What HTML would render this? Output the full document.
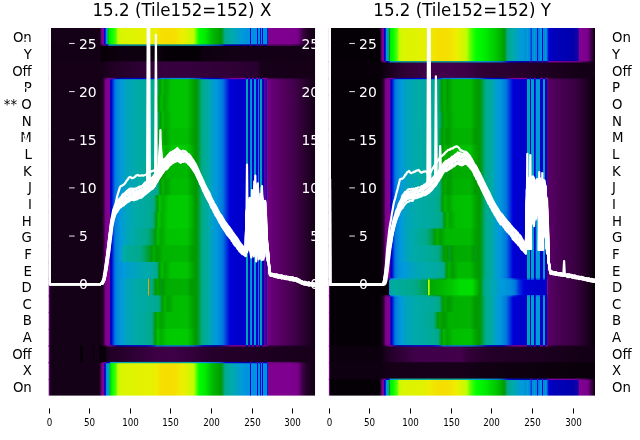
<!DOCTYPE html>
<html><head><meta charset="utf-8"><title>15.2 (Tile152=152)</title>
<style>
html,body{margin:0;padding:0;background:#fff;width:640px;height:440px;overflow:hidden}
svg{display:block;will-change:transform}
text{font-family:"DejaVu Sans","Liberation Sans",sans-serif}
.ti{font-size:16.67px;fill:#000}
.rl{font-size:13.3px;fill:#000}
.tl{font-size:9.72px;fill:#000}
.wl{font-size:13.89px;fill:#fff}
.wt{stroke:#fff;stroke-width:0.9}
.bt{stroke:#000;stroke-width:1}
.ln{fill:none;stroke:#fff;stroke-width:2.2;stroke-linejoin:round;stroke-linecap:round}
</style></head><body>
<svg width="640" height="440" viewBox="0 0 640 440"><defs><linearGradient id="gL0" gradientUnits="userSpaceOnUse" x1="48.7" y1="0" x2="315.0" y2="0"><stop offset="0.0000" stop-color="#770088"/><stop offset="0.0027" stop-color="#770088"/><stop offset="0.0042" stop-color="#140017"/><stop offset="0.1908" stop-color="#140017"/><stop offset="0.1945" stop-color="#300036"/><stop offset="0.1983" stop-color="#770088"/><stop offset="0.2050" stop-color="#810092"/><stop offset="0.2058" stop-color="#880099"/><stop offset="0.2077" stop-color="#0000aa"/><stop offset="0.2095" stop-color="#0000dd"/><stop offset="0.2133" stop-color="#0030dd"/><stop offset="0.2143" stop-color="#0077dd"/><stop offset="0.2159" stop-color="#0099dd"/><stop offset="0.2200" stop-color="#00a7b4"/><stop offset="0.2203" stop-color="#00aaaa"/><stop offset="0.2215" stop-color="#00aa88"/><stop offset="0.2227" stop-color="#009900"/><stop offset="0.2240" stop-color="#00bb00"/><stop offset="0.2254" stop-color="#00dd00"/><stop offset="0.2257" stop-color="#00e400"/><stop offset="0.2358" stop-color="#00ff00"/><stop offset="0.2520" stop-color="#4bff00"/><stop offset="0.2596" stop-color="#bbff00"/><stop offset="0.2621" stop-color="#c5fc00"/><stop offset="0.2715" stop-color="#daf500"/><stop offset="0.3991" stop-color="#e9f000"/><stop offset="0.4036" stop-color="#eeee00"/><stop offset="0.4217" stop-color="#f5e000"/><stop offset="0.4705" stop-color="#f6de00"/><stop offset="0.4930" stop-color="#f0eb00"/><stop offset="0.4996" stop-color="#eeee00"/><stop offset="0.5193" stop-color="#dff300"/><stop offset="0.5456" stop-color="#bbff00"/><stop offset="0.5643" stop-color="#00ff00"/><stop offset="0.5906" stop-color="#00e700"/><stop offset="0.5958" stop-color="#00dd00"/><stop offset="0.6132" stop-color="#00bb00"/><stop offset="0.6394" stop-color="#00a300"/><stop offset="0.6462" stop-color="#009900"/><stop offset="0.6507" stop-color="#009c1b"/><stop offset="0.6607" stop-color="#00aa88"/><stop offset="0.6657" stop-color="#00aa96"/><stop offset="0.6883" stop-color="#00aaaa"/><stop offset="0.6958" stop-color="#00a7b4"/><stop offset="0.7296" stop-color="#0099dd"/><stop offset="0.7446" stop-color="#0092dd"/><stop offset="0.7560" stop-color="#0092dd"/><stop offset="0.7564" stop-color="#0077dd"/><stop offset="0.7570" stop-color="#0000dd"/><stop offset="0.7600" stop-color="#0000dd"/><stop offset="0.7605" stop-color="#0077dd"/><stop offset="0.7609" stop-color="#0092dd"/><stop offset="0.7819" stop-color="#0092dd"/><stop offset="0.7823" stop-color="#0077dd"/><stop offset="0.7829" stop-color="#0000dd"/><stop offset="0.7859" stop-color="#0000dd"/><stop offset="0.7864" stop-color="#0077dd"/><stop offset="0.7868" stop-color="#0092dd"/><stop offset="0.7936" stop-color="#0092dd"/><stop offset="0.7940" stop-color="#0077dd"/><stop offset="0.7945" stop-color="#0000dd"/><stop offset="0.7975" stop-color="#0000dd"/><stop offset="0.7980" stop-color="#0077dd"/><stop offset="0.7985" stop-color="#0092dd"/><stop offset="0.8003" stop-color="#0092dd"/><stop offset="0.8007" stop-color="#0077dd"/><stop offset="0.8012" stop-color="#0000dd"/><stop offset="0.8013" stop-color="#0000d3"/><stop offset="0.8043" stop-color="#0000d3"/><stop offset="0.8044" stop-color="#0000dd"/><stop offset="0.8048" stop-color="#0077dd"/><stop offset="0.8052" stop-color="#0092dd"/><stop offset="0.8178" stop-color="#0092dd"/><stop offset="0.8199" stop-color="#0077dd"/><stop offset="0.8215" stop-color="#0030dd"/><stop offset="0.8221" stop-color="#0000dd"/><stop offset="0.8234" stop-color="#0000aa"/><stop offset="0.8246" stop-color="#880099"/><stop offset="0.8253" stop-color="#800090"/><stop offset="0.9060" stop-color="#7e008f"/><stop offset="0.9323" stop-color="#79008a"/><stop offset="0.9361" stop-color="#770088"/><stop offset="0.9548" stop-color="#3c0044"/><stop offset="0.9736" stop-color="#1d0021"/><stop offset="0.9999" stop-color="#140017"/></linearGradient><linearGradient id="gL1" gradientUnits="userSpaceOnUse" x1="48.7" y1="0" x2="315.0" y2="0"><stop offset="0.0000" stop-color="#770088"/><stop offset="0.0027" stop-color="#770088"/><stop offset="0.0042" stop-color="#130016"/><stop offset="0.1926" stop-color="#130016"/><stop offset="0.1983" stop-color="#070008"/><stop offset="0.2302" stop-color="#0a000b"/><stop offset="0.2677" stop-color="#0e0010"/><stop offset="0.4179" stop-color="#0c000e"/><stop offset="0.4367" stop-color="#050005"/><stop offset="0.5606" stop-color="#050005"/><stop offset="0.5794" stop-color="#0e0010"/><stop offset="0.7183" stop-color="#130016"/><stop offset="0.8309" stop-color="#130016"/><stop offset="0.9999" stop-color="#130016"/></linearGradient><linearGradient id="gL2" gradientUnits="userSpaceOnUse" x1="48.7" y1="0" x2="315.0" y2="0"><stop offset="0.0000" stop-color="#770088"/><stop offset="0.0027" stop-color="#770088"/><stop offset="0.0042" stop-color="#150018"/><stop offset="0.1964" stop-color="#150018"/><stop offset="0.2302" stop-color="#1f0023"/><stop offset="0.3053" stop-color="#28002e"/><stop offset="0.3804" stop-color="#320039"/><stop offset="0.4367" stop-color="#37003f"/><stop offset="0.5681" stop-color="#34003c"/><stop offset="0.6807" stop-color="#300036"/><stop offset="0.7859" stop-color="#28002e"/><stop offset="0.7953" stop-color="#17001a"/><stop offset="0.9060" stop-color="#150018"/><stop offset="0.9999" stop-color="#150018"/></linearGradient><linearGradient id="gL3" gradientUnits="userSpaceOnUse" x1="48.7" y1="0" x2="315.0" y2="0"><stop offset="0.0000" stop-color="#770088"/><stop offset="0.0027" stop-color="#770088"/><stop offset="0.0042" stop-color="#140017"/><stop offset="0.1926" stop-color="#140017"/><stop offset="0.2001" stop-color="#18001b"/><stop offset="0.2077" stop-color="#3c0044"/><stop offset="0.2123" stop-color="#770088"/><stop offset="0.2133" stop-color="#79008a"/><stop offset="0.2189" stop-color="#800090"/><stop offset="0.2283" stop-color="#830094"/><stop offset="0.2292" stop-color="#880099"/><stop offset="0.2321" stop-color="#0000aa"/><stop offset="0.2358" stop-color="#0000dd"/><stop offset="0.2433" stop-color="#0047dd"/><stop offset="0.2483" stop-color="#0077dd"/><stop offset="0.2508" stop-color="#007edd"/><stop offset="0.2621" stop-color="#008fdd"/><stop offset="0.2709" stop-color="#0099dd"/><stop offset="0.2752" stop-color="#009cd5"/><stop offset="0.2903" stop-color="#00a3be"/><stop offset="0.3240" stop-color="#00aaaa"/><stop offset="0.3822" stop-color="#00aa99"/><stop offset="0.4048" stop-color="#00aa88"/><stop offset="0.4160" stop-color="#009c1b"/><stop offset="0.4176" stop-color="#009900"/><stop offset="0.4254" stop-color="#00bb00"/><stop offset="0.4311" stop-color="#00b400"/><stop offset="0.4386" stop-color="#00a700"/><stop offset="0.4555" stop-color="#00bb00"/><stop offset="0.4611" stop-color="#00c200"/><stop offset="0.5193" stop-color="#00c500"/><stop offset="0.5263" stop-color="#00bb00"/><stop offset="0.5381" stop-color="#00aa00"/><stop offset="0.5493" stop-color="#009c00"/><stop offset="0.5531" stop-color="#009900"/><stop offset="0.5606" stop-color="#009c1b"/><stop offset="0.5756" stop-color="#00aa88"/><stop offset="0.5981" stop-color="#00aaa3"/><stop offset="0.6019" stop-color="#00aaaa"/><stop offset="0.6132" stop-color="#00a0c9"/><stop offset="0.6282" stop-color="#0099dd"/><stop offset="0.6357" stop-color="#0092dd"/><stop offset="0.6545" stop-color="#0077dd"/><stop offset="0.6695" stop-color="#0030dd"/><stop offset="0.6795" stop-color="#0000dd"/><stop offset="0.6845" stop-color="#0000d3"/><stop offset="0.7408" stop-color="#0000c9"/><stop offset="0.7414" stop-color="#0000c9"/><stop offset="0.7415" stop-color="#0000dd"/><stop offset="0.7418" stop-color="#0077dd"/><stop offset="0.7421" stop-color="#0099dd"/><stop offset="0.7423" stop-color="#00a3be"/><stop offset="0.7483" stop-color="#00a3be"/><stop offset="0.7485" stop-color="#0099dd"/><stop offset="0.7488" stop-color="#0077dd"/><stop offset="0.7491" stop-color="#0000dd"/><stop offset="0.7493" stop-color="#0000c9"/><stop offset="0.7571" stop-color="#0000c9"/><stop offset="0.7573" stop-color="#0000dd"/><stop offset="0.7576" stop-color="#0077dd"/><stop offset="0.7580" stop-color="#0099dd"/><stop offset="0.7581" stop-color="#00a0c9"/><stop offset="0.7633" stop-color="#00a0c9"/><stop offset="0.7635" stop-color="#0099dd"/><stop offset="0.7638" stop-color="#0077dd"/><stop offset="0.7641" stop-color="#0000dd"/><stop offset="0.7643" stop-color="#0000c9"/><stop offset="0.7699" stop-color="#0000c9"/><stop offset="0.7701" stop-color="#0000dd"/><stop offset="0.7704" stop-color="#0077dd"/><stop offset="0.7708" stop-color="#0099dd"/><stop offset="0.7709" stop-color="#009cd3"/><stop offset="0.7784" stop-color="#009cd3"/><stop offset="0.7784" stop-color="#0099dd"/><stop offset="0.7788" stop-color="#0077dd"/><stop offset="0.7792" stop-color="#0000dd"/><stop offset="0.7793" stop-color="#0000c9"/><stop offset="0.7840" stop-color="#0000c9"/><stop offset="0.7842" stop-color="#0000dd"/><stop offset="0.7848" stop-color="#0077dd"/><stop offset="0.7849" stop-color="#007edd"/><stop offset="0.7883" stop-color="#007edd"/><stop offset="0.7884" stop-color="#0077dd"/><stop offset="0.7890" stop-color="#0000dd"/><stop offset="0.7893" stop-color="#0000c9"/><stop offset="0.7943" stop-color="#0000c9"/><stop offset="0.7944" stop-color="#0000dd"/><stop offset="0.7948" stop-color="#0077dd"/><stop offset="0.7951" stop-color="#0099dd"/><stop offset="0.7953" stop-color="#00a3be"/><stop offset="0.8013" stop-color="#00a3be"/><stop offset="0.8014" stop-color="#0099dd"/><stop offset="0.8017" stop-color="#0077dd"/><stop offset="0.8021" stop-color="#0000dd"/><stop offset="0.8022" stop-color="#0000c3"/><stop offset="0.8084" stop-color="#0000aa"/><stop offset="0.8097" stop-color="#0300aa"/><stop offset="0.8107" stop-color="#880099"/><stop offset="0.8137" stop-color="#880099"/><stop offset="0.8146" stop-color="#0f00a8"/><stop offset="0.8197" stop-color="#1b00a7"/><stop offset="0.8213" stop-color="#880099"/><stop offset="0.8233" stop-color="#770088"/><stop offset="0.8234" stop-color="#700080"/><stop offset="0.8497" stop-color="#620070"/><stop offset="0.8872" stop-color="#51005c"/><stop offset="0.9248" stop-color="#400049"/><stop offset="0.9511" stop-color="#300036"/><stop offset="0.9811" stop-color="#1d0021"/><stop offset="0.9999" stop-color="#140017"/></linearGradient><linearGradient id="gL4" gradientUnits="userSpaceOnUse" x1="48.7" y1="0" x2="315.0" y2="0"><stop offset="0.0000" stop-color="#770088"/><stop offset="0.0027" stop-color="#770088"/><stop offset="0.0042" stop-color="#140017"/><stop offset="0.1926" stop-color="#140017"/><stop offset="0.2001" stop-color="#18001b"/><stop offset="0.2077" stop-color="#3c0044"/><stop offset="0.2123" stop-color="#770088"/><stop offset="0.2133" stop-color="#79008a"/><stop offset="0.2189" stop-color="#800090"/><stop offset="0.2283" stop-color="#830094"/><stop offset="0.2292" stop-color="#880099"/><stop offset="0.2321" stop-color="#0000aa"/><stop offset="0.2358" stop-color="#0000dd"/><stop offset="0.2433" stop-color="#0047dd"/><stop offset="0.2483" stop-color="#0077dd"/><stop offset="0.2508" stop-color="#007edd"/><stop offset="0.2621" stop-color="#008fdd"/><stop offset="0.2709" stop-color="#0099dd"/><stop offset="0.2752" stop-color="#009cd5"/><stop offset="0.2903" stop-color="#00a3be"/><stop offset="0.3240" stop-color="#00aaaa"/><stop offset="0.3785" stop-color="#00aa99"/><stop offset="0.4010" stop-color="#00aa88"/><stop offset="0.4123" stop-color="#009c1b"/><stop offset="0.4138" stop-color="#009900"/><stop offset="0.4217" stop-color="#00bb00"/><stop offset="0.4273" stop-color="#00b400"/><stop offset="0.4348" stop-color="#00a700"/><stop offset="0.4517" stop-color="#00bb00"/><stop offset="0.4573" stop-color="#00c200"/><stop offset="0.5193" stop-color="#00c500"/><stop offset="0.5263" stop-color="#00bb00"/><stop offset="0.5381" stop-color="#00aa00"/><stop offset="0.5493" stop-color="#009c00"/><stop offset="0.5531" stop-color="#009900"/><stop offset="0.5606" stop-color="#009c1b"/><stop offset="0.5756" stop-color="#00aa88"/><stop offset="0.5981" stop-color="#00aaa3"/><stop offset="0.6019" stop-color="#00aaaa"/><stop offset="0.6132" stop-color="#00a0c9"/><stop offset="0.6282" stop-color="#0099dd"/><stop offset="0.6357" stop-color="#0092dd"/><stop offset="0.6545" stop-color="#0077dd"/><stop offset="0.6695" stop-color="#0030dd"/><stop offset="0.6795" stop-color="#0000dd"/><stop offset="0.6845" stop-color="#0000d3"/><stop offset="0.7408" stop-color="#0000c9"/><stop offset="0.7414" stop-color="#0000c9"/><stop offset="0.7415" stop-color="#0000dd"/><stop offset="0.7418" stop-color="#0077dd"/><stop offset="0.7421" stop-color="#0099dd"/><stop offset="0.7423" stop-color="#00a3be"/><stop offset="0.7483" stop-color="#00a3be"/><stop offset="0.7485" stop-color="#0099dd"/><stop offset="0.7488" stop-color="#0077dd"/><stop offset="0.7491" stop-color="#0000dd"/><stop offset="0.7493" stop-color="#0000c9"/><stop offset="0.7571" stop-color="#0000c9"/><stop offset="0.7573" stop-color="#0000dd"/><stop offset="0.7576" stop-color="#0077dd"/><stop offset="0.7580" stop-color="#0099dd"/><stop offset="0.7581" stop-color="#00a0c9"/><stop offset="0.7633" stop-color="#00a0c9"/><stop offset="0.7635" stop-color="#0099dd"/><stop offset="0.7638" stop-color="#0077dd"/><stop offset="0.7641" stop-color="#0000dd"/><stop offset="0.7643" stop-color="#0000c9"/><stop offset="0.7699" stop-color="#0000c9"/><stop offset="0.7701" stop-color="#0000dd"/><stop offset="0.7704" stop-color="#0077dd"/><stop offset="0.7708" stop-color="#0099dd"/><stop offset="0.7709" stop-color="#009cd3"/><stop offset="0.7784" stop-color="#009cd3"/><stop offset="0.7784" stop-color="#0099dd"/><stop offset="0.7788" stop-color="#0077dd"/><stop offset="0.7792" stop-color="#0000dd"/><stop offset="0.7793" stop-color="#0000c9"/><stop offset="0.7840" stop-color="#0000c9"/><stop offset="0.7842" stop-color="#0000dd"/><stop offset="0.7848" stop-color="#0077dd"/><stop offset="0.7849" stop-color="#007edd"/><stop offset="0.7883" stop-color="#007edd"/><stop offset="0.7884" stop-color="#0077dd"/><stop offset="0.7890" stop-color="#0000dd"/><stop offset="0.7893" stop-color="#0000c9"/><stop offset="0.7943" stop-color="#0000c9"/><stop offset="0.7944" stop-color="#0000dd"/><stop offset="0.7948" stop-color="#0077dd"/><stop offset="0.7951" stop-color="#0099dd"/><stop offset="0.7953" stop-color="#00a3be"/><stop offset="0.8013" stop-color="#00a3be"/><stop offset="0.8014" stop-color="#0099dd"/><stop offset="0.8017" stop-color="#0077dd"/><stop offset="0.8021" stop-color="#0000dd"/><stop offset="0.8022" stop-color="#0000c3"/><stop offset="0.8084" stop-color="#0000aa"/><stop offset="0.8097" stop-color="#0300aa"/><stop offset="0.8107" stop-color="#880099"/><stop offset="0.8137" stop-color="#880099"/><stop offset="0.8146" stop-color="#0f00a8"/><stop offset="0.8197" stop-color="#1b00a7"/><stop offset="0.8213" stop-color="#880099"/><stop offset="0.8233" stop-color="#770088"/><stop offset="0.8234" stop-color="#700080"/><stop offset="0.8497" stop-color="#620070"/><stop offset="0.8872" stop-color="#51005c"/><stop offset="0.9248" stop-color="#400049"/><stop offset="0.9511" stop-color="#300036"/><stop offset="0.9811" stop-color="#1d0021"/><stop offset="0.9999" stop-color="#140017"/></linearGradient><linearGradient id="gL5" gradientUnits="userSpaceOnUse" x1="48.7" y1="0" x2="315.0" y2="0"><stop offset="0.0000" stop-color="#770088"/><stop offset="0.0027" stop-color="#770088"/><stop offset="0.0042" stop-color="#140017"/><stop offset="0.1926" stop-color="#140017"/><stop offset="0.2001" stop-color="#18001b"/><stop offset="0.2077" stop-color="#3c0044"/><stop offset="0.2123" stop-color="#770088"/><stop offset="0.2133" stop-color="#79008a"/><stop offset="0.2189" stop-color="#800090"/><stop offset="0.2283" stop-color="#830094"/><stop offset="0.2292" stop-color="#880099"/><stop offset="0.2321" stop-color="#0000aa"/><stop offset="0.2358" stop-color="#0000dd"/><stop offset="0.2433" stop-color="#0047dd"/><stop offset="0.2483" stop-color="#0077dd"/><stop offset="0.2508" stop-color="#007edd"/><stop offset="0.2621" stop-color="#008fdd"/><stop offset="0.2709" stop-color="#0099dd"/><stop offset="0.2752" stop-color="#009cd5"/><stop offset="0.2903" stop-color="#00a3be"/><stop offset="0.3240" stop-color="#00aaaa"/><stop offset="0.3841" stop-color="#00aa99"/><stop offset="0.4067" stop-color="#00aa88"/><stop offset="0.4179" stop-color="#009c1b"/><stop offset="0.4195" stop-color="#009900"/><stop offset="0.4273" stop-color="#00bb00"/><stop offset="0.4329" stop-color="#00b400"/><stop offset="0.4404" stop-color="#00a700"/><stop offset="0.4573" stop-color="#00bb00"/><stop offset="0.4630" stop-color="#00c200"/><stop offset="0.5193" stop-color="#00c500"/><stop offset="0.5263" stop-color="#00bb00"/><stop offset="0.5381" stop-color="#00aa00"/><stop offset="0.5493" stop-color="#009c00"/><stop offset="0.5531" stop-color="#009900"/><stop offset="0.5606" stop-color="#009c1b"/><stop offset="0.5756" stop-color="#00aa88"/><stop offset="0.5981" stop-color="#00aaa3"/><stop offset="0.6019" stop-color="#00aaaa"/><stop offset="0.6132" stop-color="#00a0c9"/><stop offset="0.6282" stop-color="#0099dd"/><stop offset="0.6357" stop-color="#0092dd"/><stop offset="0.6545" stop-color="#0077dd"/><stop offset="0.6695" stop-color="#0030dd"/><stop offset="0.6795" stop-color="#0000dd"/><stop offset="0.6845" stop-color="#0000d3"/><stop offset="0.7408" stop-color="#0000c9"/><stop offset="0.7414" stop-color="#0000c9"/><stop offset="0.7415" stop-color="#0000dd"/><stop offset="0.7418" stop-color="#0077dd"/><stop offset="0.7421" stop-color="#0099dd"/><stop offset="0.7423" stop-color="#00a3be"/><stop offset="0.7483" stop-color="#00a3be"/><stop offset="0.7485" stop-color="#0099dd"/><stop offset="0.7488" stop-color="#0077dd"/><stop offset="0.7491" stop-color="#0000dd"/><stop offset="0.7493" stop-color="#0000c9"/><stop offset="0.7571" stop-color="#0000c9"/><stop offset="0.7573" stop-color="#0000dd"/><stop offset="0.7576" stop-color="#0077dd"/><stop offset="0.7580" stop-color="#0099dd"/><stop offset="0.7581" stop-color="#00a0c9"/><stop offset="0.7633" stop-color="#00a0c9"/><stop offset="0.7635" stop-color="#0099dd"/><stop offset="0.7638" stop-color="#0077dd"/><stop offset="0.7641" stop-color="#0000dd"/><stop offset="0.7643" stop-color="#0000c9"/><stop offset="0.7699" stop-color="#0000c9"/><stop offset="0.7701" stop-color="#0000dd"/><stop offset="0.7704" stop-color="#0077dd"/><stop offset="0.7708" stop-color="#0099dd"/><stop offset="0.7709" stop-color="#009cd3"/><stop offset="0.7784" stop-color="#009cd3"/><stop offset="0.7784" stop-color="#0099dd"/><stop offset="0.7788" stop-color="#0077dd"/><stop offset="0.7792" stop-color="#0000dd"/><stop offset="0.7793" stop-color="#0000c9"/><stop offset="0.7840" stop-color="#0000c9"/><stop offset="0.7842" stop-color="#0000dd"/><stop offset="0.7848" stop-color="#0077dd"/><stop offset="0.7849" stop-color="#007edd"/><stop offset="0.7883" stop-color="#007edd"/><stop offset="0.7884" stop-color="#0077dd"/><stop offset="0.7890" stop-color="#0000dd"/><stop offset="0.7893" stop-color="#0000c9"/><stop offset="0.7943" stop-color="#0000c9"/><stop offset="0.7944" stop-color="#0000dd"/><stop offset="0.7948" stop-color="#0077dd"/><stop offset="0.7951" stop-color="#0099dd"/><stop offset="0.7953" stop-color="#00a3be"/><stop offset="0.8013" stop-color="#00a3be"/><stop offset="0.8014" stop-color="#0099dd"/><stop offset="0.8017" stop-color="#0077dd"/><stop offset="0.8021" stop-color="#0000dd"/><stop offset="0.8022" stop-color="#0000c3"/><stop offset="0.8084" stop-color="#0000aa"/><stop offset="0.8097" stop-color="#0300aa"/><stop offset="0.8107" stop-color="#880099"/><stop offset="0.8137" stop-color="#880099"/><stop offset="0.8146" stop-color="#0f00a8"/><stop offset="0.8197" stop-color="#1b00a7"/><stop offset="0.8213" stop-color="#880099"/><stop offset="0.8233" stop-color="#770088"/><stop offset="0.8234" stop-color="#700080"/><stop offset="0.8497" stop-color="#620070"/><stop offset="0.8872" stop-color="#51005c"/><stop offset="0.9248" stop-color="#400049"/><stop offset="0.9511" stop-color="#300036"/><stop offset="0.9811" stop-color="#1d0021"/><stop offset="0.9999" stop-color="#140017"/></linearGradient><linearGradient id="gL6" gradientUnits="userSpaceOnUse" x1="48.7" y1="0" x2="315.0" y2="0"><stop offset="0.0000" stop-color="#770088"/><stop offset="0.0027" stop-color="#770088"/><stop offset="0.0042" stop-color="#140017"/><stop offset="0.1926" stop-color="#140017"/><stop offset="0.2001" stop-color="#18001b"/><stop offset="0.2077" stop-color="#3c0044"/><stop offset="0.2123" stop-color="#770088"/><stop offset="0.2133" stop-color="#79008a"/><stop offset="0.2189" stop-color="#800090"/><stop offset="0.2283" stop-color="#830094"/><stop offset="0.2292" stop-color="#880099"/><stop offset="0.2321" stop-color="#0000aa"/><stop offset="0.2358" stop-color="#0000dd"/><stop offset="0.2433" stop-color="#0047dd"/><stop offset="0.2483" stop-color="#0077dd"/><stop offset="0.2508" stop-color="#007edd"/><stop offset="0.2621" stop-color="#008fdd"/><stop offset="0.2709" stop-color="#0099dd"/><stop offset="0.2752" stop-color="#009cd5"/><stop offset="0.2903" stop-color="#00a3be"/><stop offset="0.3240" stop-color="#00aaaa"/><stop offset="0.3804" stop-color="#00aa99"/><stop offset="0.4029" stop-color="#00aa88"/><stop offset="0.4142" stop-color="#009c1b"/><stop offset="0.4160" stop-color="#009900"/><stop offset="0.4235" stop-color="#00b400"/><stop offset="0.4292" stop-color="#00ad00"/><stop offset="0.4367" stop-color="#00a000"/><stop offset="0.4592" stop-color="#00bb00"/><stop offset="0.5193" stop-color="#00be00"/><stop offset="0.5216" stop-color="#00bb00"/><stop offset="0.5381" stop-color="#00a300"/><stop offset="0.5493" stop-color="#009c00"/><stop offset="0.5531" stop-color="#009900"/><stop offset="0.5606" stop-color="#009c1b"/><stop offset="0.5756" stop-color="#00aa88"/><stop offset="0.5981" stop-color="#00aaa3"/><stop offset="0.6019" stop-color="#00aaaa"/><stop offset="0.6132" stop-color="#00a0c9"/><stop offset="0.6282" stop-color="#0099dd"/><stop offset="0.6357" stop-color="#0092dd"/><stop offset="0.6545" stop-color="#0077dd"/><stop offset="0.6695" stop-color="#0030dd"/><stop offset="0.6795" stop-color="#0000dd"/><stop offset="0.6845" stop-color="#0000d3"/><stop offset="0.7408" stop-color="#0000c9"/><stop offset="0.7414" stop-color="#0000c9"/><stop offset="0.7415" stop-color="#0000dd"/><stop offset="0.7418" stop-color="#0077dd"/><stop offset="0.7421" stop-color="#0099dd"/><stop offset="0.7423" stop-color="#00a3be"/><stop offset="0.7483" stop-color="#00a3be"/><stop offset="0.7485" stop-color="#0099dd"/><stop offset="0.7488" stop-color="#0077dd"/><stop offset="0.7491" stop-color="#0000dd"/><stop offset="0.7493" stop-color="#0000c9"/><stop offset="0.7571" stop-color="#0000c9"/><stop offset="0.7573" stop-color="#0000dd"/><stop offset="0.7576" stop-color="#0077dd"/><stop offset="0.7580" stop-color="#0099dd"/><stop offset="0.7581" stop-color="#00a0c9"/><stop offset="0.7633" stop-color="#00a0c9"/><stop offset="0.7635" stop-color="#0099dd"/><stop offset="0.7638" stop-color="#0077dd"/><stop offset="0.7641" stop-color="#0000dd"/><stop offset="0.7643" stop-color="#0000c9"/><stop offset="0.7699" stop-color="#0000c9"/><stop offset="0.7701" stop-color="#0000dd"/><stop offset="0.7704" stop-color="#0077dd"/><stop offset="0.7708" stop-color="#0099dd"/><stop offset="0.7709" stop-color="#009cd3"/><stop offset="0.7784" stop-color="#009cd3"/><stop offset="0.7784" stop-color="#0099dd"/><stop offset="0.7788" stop-color="#0077dd"/><stop offset="0.7792" stop-color="#0000dd"/><stop offset="0.7793" stop-color="#0000c9"/><stop offset="0.7840" stop-color="#0000c9"/><stop offset="0.7842" stop-color="#0000dd"/><stop offset="0.7848" stop-color="#0077dd"/><stop offset="0.7849" stop-color="#007edd"/><stop offset="0.7883" stop-color="#007edd"/><stop offset="0.7884" stop-color="#0077dd"/><stop offset="0.7890" stop-color="#0000dd"/><stop offset="0.7893" stop-color="#0000c9"/><stop offset="0.7943" stop-color="#0000c9"/><stop offset="0.7944" stop-color="#0000dd"/><stop offset="0.7948" stop-color="#0077dd"/><stop offset="0.7951" stop-color="#0099dd"/><stop offset="0.7953" stop-color="#00a3be"/><stop offset="0.8013" stop-color="#00a3be"/><stop offset="0.8014" stop-color="#0099dd"/><stop offset="0.8017" stop-color="#0077dd"/><stop offset="0.8021" stop-color="#0000dd"/><stop offset="0.8022" stop-color="#0000c3"/><stop offset="0.8084" stop-color="#0000aa"/><stop offset="0.8097" stop-color="#0300aa"/><stop offset="0.8107" stop-color="#880099"/><stop offset="0.8137" stop-color="#880099"/><stop offset="0.8146" stop-color="#0f00a8"/><stop offset="0.8197" stop-color="#1b00a7"/><stop offset="0.8213" stop-color="#880099"/><stop offset="0.8233" stop-color="#770088"/><stop offset="0.8234" stop-color="#700080"/><stop offset="0.8497" stop-color="#620070"/><stop offset="0.8872" stop-color="#51005c"/><stop offset="0.9248" stop-color="#400049"/><stop offset="0.9511" stop-color="#300036"/><stop offset="0.9811" stop-color="#1d0021"/><stop offset="0.9999" stop-color="#140017"/></linearGradient><linearGradient id="gL7" gradientUnits="userSpaceOnUse" x1="48.7" y1="0" x2="315.0" y2="0"><stop offset="0.0000" stop-color="#770088"/><stop offset="0.0027" stop-color="#770088"/><stop offset="0.0042" stop-color="#140017"/><stop offset="0.1926" stop-color="#140017"/><stop offset="0.2001" stop-color="#18001b"/><stop offset="0.2077" stop-color="#3c0044"/><stop offset="0.2123" stop-color="#770088"/><stop offset="0.2133" stop-color="#79008a"/><stop offset="0.2189" stop-color="#800090"/><stop offset="0.2283" stop-color="#830094"/><stop offset="0.2292" stop-color="#880099"/><stop offset="0.2321" stop-color="#0000aa"/><stop offset="0.2358" stop-color="#0000dd"/><stop offset="0.2433" stop-color="#0047dd"/><stop offset="0.2483" stop-color="#0077dd"/><stop offset="0.2508" stop-color="#007edd"/><stop offset="0.2621" stop-color="#008fdd"/><stop offset="0.2709" stop-color="#0099dd"/><stop offset="0.2752" stop-color="#009cd5"/><stop offset="0.2903" stop-color="#00a3be"/><stop offset="0.3240" stop-color="#00aaaa"/><stop offset="0.3841" stop-color="#00aa99"/><stop offset="0.4067" stop-color="#00aa88"/><stop offset="0.4179" stop-color="#009c1b"/><stop offset="0.4193" stop-color="#009900"/><stop offset="0.4260" stop-color="#00bb00"/><stop offset="0.4273" stop-color="#00c200"/><stop offset="0.4329" stop-color="#00bb00"/><stop offset="0.4404" stop-color="#00ad00"/><stop offset="0.4517" stop-color="#00bb00"/><stop offset="0.4630" stop-color="#00c900"/><stop offset="0.5193" stop-color="#00cc00"/><stop offset="0.5310" stop-color="#00bb00"/><stop offset="0.5381" stop-color="#00b100"/><stop offset="0.5493" stop-color="#009c00"/><stop offset="0.5531" stop-color="#009900"/><stop offset="0.5606" stop-color="#009c1b"/><stop offset="0.5756" stop-color="#00aa88"/><stop offset="0.5981" stop-color="#00aaa3"/><stop offset="0.6019" stop-color="#00aaaa"/><stop offset="0.6132" stop-color="#00a0c9"/><stop offset="0.6282" stop-color="#0099dd"/><stop offset="0.6357" stop-color="#0092dd"/><stop offset="0.6545" stop-color="#0077dd"/><stop offset="0.6695" stop-color="#0030dd"/><stop offset="0.6795" stop-color="#0000dd"/><stop offset="0.6845" stop-color="#0000d3"/><stop offset="0.7408" stop-color="#0000c9"/><stop offset="0.7414" stop-color="#0000c9"/><stop offset="0.7415" stop-color="#0000dd"/><stop offset="0.7418" stop-color="#0077dd"/><stop offset="0.7421" stop-color="#0099dd"/><stop offset="0.7423" stop-color="#00a3be"/><stop offset="0.7483" stop-color="#00a3be"/><stop offset="0.7485" stop-color="#0099dd"/><stop offset="0.7488" stop-color="#0077dd"/><stop offset="0.7491" stop-color="#0000dd"/><stop offset="0.7493" stop-color="#0000c9"/><stop offset="0.7571" stop-color="#0000c9"/><stop offset="0.7573" stop-color="#0000dd"/><stop offset="0.7576" stop-color="#0077dd"/><stop offset="0.7580" stop-color="#0099dd"/><stop offset="0.7581" stop-color="#00a0c9"/><stop offset="0.7633" stop-color="#00a0c9"/><stop offset="0.7635" stop-color="#0099dd"/><stop offset="0.7638" stop-color="#0077dd"/><stop offset="0.7641" stop-color="#0000dd"/><stop offset="0.7643" stop-color="#0000c9"/><stop offset="0.7699" stop-color="#0000c9"/><stop offset="0.7701" stop-color="#0000dd"/><stop offset="0.7704" stop-color="#0077dd"/><stop offset="0.7708" stop-color="#0099dd"/><stop offset="0.7709" stop-color="#009cd3"/><stop offset="0.7784" stop-color="#009cd3"/><stop offset="0.7784" stop-color="#0099dd"/><stop offset="0.7788" stop-color="#0077dd"/><stop offset="0.7792" stop-color="#0000dd"/><stop offset="0.7793" stop-color="#0000c9"/><stop offset="0.7840" stop-color="#0000c9"/><stop offset="0.7842" stop-color="#0000dd"/><stop offset="0.7848" stop-color="#0077dd"/><stop offset="0.7849" stop-color="#007edd"/><stop offset="0.7883" stop-color="#007edd"/><stop offset="0.7884" stop-color="#0077dd"/><stop offset="0.7890" stop-color="#0000dd"/><stop offset="0.7893" stop-color="#0000c9"/><stop offset="0.7943" stop-color="#0000c9"/><stop offset="0.7944" stop-color="#0000dd"/><stop offset="0.7948" stop-color="#0077dd"/><stop offset="0.7951" stop-color="#0099dd"/><stop offset="0.7953" stop-color="#00a3be"/><stop offset="0.8013" stop-color="#00a3be"/><stop offset="0.8014" stop-color="#0099dd"/><stop offset="0.8017" stop-color="#0077dd"/><stop offset="0.8021" stop-color="#0000dd"/><stop offset="0.8022" stop-color="#0000c3"/><stop offset="0.8084" stop-color="#0000aa"/><stop offset="0.8097" stop-color="#0300aa"/><stop offset="0.8107" stop-color="#880099"/><stop offset="0.8137" stop-color="#880099"/><stop offset="0.8146" stop-color="#0f00a8"/><stop offset="0.8197" stop-color="#1b00a7"/><stop offset="0.8213" stop-color="#880099"/><stop offset="0.8233" stop-color="#770088"/><stop offset="0.8234" stop-color="#700080"/><stop offset="0.8497" stop-color="#620070"/><stop offset="0.8872" stop-color="#51005c"/><stop offset="0.9248" stop-color="#400049"/><stop offset="0.9511" stop-color="#300036"/><stop offset="0.9811" stop-color="#1d0021"/><stop offset="0.9999" stop-color="#140017"/></linearGradient><linearGradient id="gL8" gradientUnits="userSpaceOnUse" x1="48.7" y1="0" x2="315.0" y2="0"><stop offset="0.0000" stop-color="#770088"/><stop offset="0.0027" stop-color="#770088"/><stop offset="0.0042" stop-color="#140017"/><stop offset="0.1926" stop-color="#140017"/><stop offset="0.2001" stop-color="#18001b"/><stop offset="0.2077" stop-color="#3c0044"/><stop offset="0.2123" stop-color="#770088"/><stop offset="0.2133" stop-color="#79008a"/><stop offset="0.2189" stop-color="#800090"/><stop offset="0.2283" stop-color="#830094"/><stop offset="0.2292" stop-color="#880099"/><stop offset="0.2321" stop-color="#0000aa"/><stop offset="0.2358" stop-color="#0000dd"/><stop offset="0.2433" stop-color="#0047dd"/><stop offset="0.2483" stop-color="#0077dd"/><stop offset="0.2508" stop-color="#007edd"/><stop offset="0.2621" stop-color="#008fdd"/><stop offset="0.2709" stop-color="#0099dd"/><stop offset="0.2752" stop-color="#009cd5"/><stop offset="0.2903" stop-color="#00a3be"/><stop offset="0.3240" stop-color="#00aaaa"/><stop offset="0.3691" stop-color="#00aa99"/><stop offset="0.3916" stop-color="#00aa88"/><stop offset="0.4029" stop-color="#009c1b"/><stop offset="0.4052" stop-color="#009900"/><stop offset="0.4123" stop-color="#00ad00"/><stop offset="0.4179" stop-color="#00a700"/><stop offset="0.4254" stop-color="#009900"/><stop offset="0.4480" stop-color="#00b400"/><stop offset="0.5193" stop-color="#00b800"/><stop offset="0.5381" stop-color="#009c00"/><stop offset="0.5493" stop-color="#009c00"/><stop offset="0.5531" stop-color="#009900"/><stop offset="0.5606" stop-color="#009c1b"/><stop offset="0.5756" stop-color="#00aa88"/><stop offset="0.5981" stop-color="#00aaa3"/><stop offset="0.6019" stop-color="#00aaaa"/><stop offset="0.6132" stop-color="#00a0c9"/><stop offset="0.6282" stop-color="#0099dd"/><stop offset="0.6357" stop-color="#0092dd"/><stop offset="0.6545" stop-color="#0077dd"/><stop offset="0.6695" stop-color="#0030dd"/><stop offset="0.6795" stop-color="#0000dd"/><stop offset="0.6845" stop-color="#0000d3"/><stop offset="0.7408" stop-color="#0000c9"/><stop offset="0.7414" stop-color="#0000c9"/><stop offset="0.7415" stop-color="#0000dd"/><stop offset="0.7418" stop-color="#0077dd"/><stop offset="0.7421" stop-color="#0099dd"/><stop offset="0.7423" stop-color="#00a3be"/><stop offset="0.7483" stop-color="#00a3be"/><stop offset="0.7485" stop-color="#0099dd"/><stop offset="0.7488" stop-color="#0077dd"/><stop offset="0.7491" stop-color="#0000dd"/><stop offset="0.7493" stop-color="#0000c9"/><stop offset="0.7571" stop-color="#0000c9"/><stop offset="0.7573" stop-color="#0000dd"/><stop offset="0.7576" stop-color="#0077dd"/><stop offset="0.7580" stop-color="#0099dd"/><stop offset="0.7581" stop-color="#00a0c9"/><stop offset="0.7633" stop-color="#00a0c9"/><stop offset="0.7635" stop-color="#0099dd"/><stop offset="0.7638" stop-color="#0077dd"/><stop offset="0.7641" stop-color="#0000dd"/><stop offset="0.7643" stop-color="#0000c9"/><stop offset="0.7699" stop-color="#0000c9"/><stop offset="0.7701" stop-color="#0000dd"/><stop offset="0.7704" stop-color="#0077dd"/><stop offset="0.7708" stop-color="#0099dd"/><stop offset="0.7709" stop-color="#009cd3"/><stop offset="0.7784" stop-color="#009cd3"/><stop offset="0.7784" stop-color="#0099dd"/><stop offset="0.7788" stop-color="#0077dd"/><stop offset="0.7792" stop-color="#0000dd"/><stop offset="0.7793" stop-color="#0000c9"/><stop offset="0.7840" stop-color="#0000c9"/><stop offset="0.7842" stop-color="#0000dd"/><stop offset="0.7848" stop-color="#0077dd"/><stop offset="0.7849" stop-color="#007edd"/><stop offset="0.7883" stop-color="#007edd"/><stop offset="0.7884" stop-color="#0077dd"/><stop offset="0.7890" stop-color="#0000dd"/><stop offset="0.7893" stop-color="#0000c9"/><stop offset="0.7943" stop-color="#0000c9"/><stop offset="0.7944" stop-color="#0000dd"/><stop offset="0.7948" stop-color="#0077dd"/><stop offset="0.7951" stop-color="#0099dd"/><stop offset="0.7953" stop-color="#00a3be"/><stop offset="0.8013" stop-color="#00a3be"/><stop offset="0.8014" stop-color="#0099dd"/><stop offset="0.8017" stop-color="#0077dd"/><stop offset="0.8021" stop-color="#0000dd"/><stop offset="0.8022" stop-color="#0000c3"/><stop offset="0.8084" stop-color="#0000aa"/><stop offset="0.8097" stop-color="#0300aa"/><stop offset="0.8107" stop-color="#880099"/><stop offset="0.8137" stop-color="#880099"/><stop offset="0.8146" stop-color="#0f00a8"/><stop offset="0.8197" stop-color="#1b00a7"/><stop offset="0.8213" stop-color="#880099"/><stop offset="0.8233" stop-color="#770088"/><stop offset="0.8234" stop-color="#700080"/><stop offset="0.8497" stop-color="#620070"/><stop offset="0.8872" stop-color="#51005c"/><stop offset="0.9248" stop-color="#400049"/><stop offset="0.9511" stop-color="#300036"/><stop offset="0.9811" stop-color="#1d0021"/><stop offset="0.9999" stop-color="#140017"/></linearGradient><linearGradient id="gL9" gradientUnits="userSpaceOnUse" x1="48.7" y1="0" x2="315.0" y2="0"><stop offset="0.0000" stop-color="#770088"/><stop offset="0.0027" stop-color="#770088"/><stop offset="0.0042" stop-color="#140017"/><stop offset="0.1926" stop-color="#140017"/><stop offset="0.2001" stop-color="#18001b"/><stop offset="0.2077" stop-color="#3c0044"/><stop offset="0.2123" stop-color="#770088"/><stop offset="0.2133" stop-color="#79008a"/><stop offset="0.2189" stop-color="#800090"/><stop offset="0.2283" stop-color="#830094"/><stop offset="0.2292" stop-color="#880099"/><stop offset="0.2321" stop-color="#0000aa"/><stop offset="0.2358" stop-color="#0000dd"/><stop offset="0.2433" stop-color="#0047dd"/><stop offset="0.2483" stop-color="#0077dd"/><stop offset="0.2508" stop-color="#007edd"/><stop offset="0.2621" stop-color="#008fdd"/><stop offset="0.2709" stop-color="#0099dd"/><stop offset="0.2752" stop-color="#009cd5"/><stop offset="0.2903" stop-color="#00a3be"/><stop offset="0.3240" stop-color="#00a8af"/><stop offset="0.3391" stop-color="#00aaaa"/><stop offset="0.3841" stop-color="#00aaa0"/><stop offset="0.4067" stop-color="#00aa8f"/><stop offset="0.4089" stop-color="#00aa88"/><stop offset="0.4179" stop-color="#009c1b"/><stop offset="0.4198" stop-color="#009900"/><stop offset="0.4273" stop-color="#00b400"/><stop offset="0.4329" stop-color="#00ad00"/><stop offset="0.4404" stop-color="#00a000"/><stop offset="0.4630" stop-color="#00bb00"/><stop offset="0.5193" stop-color="#00be00"/><stop offset="0.5216" stop-color="#00bb00"/><stop offset="0.5381" stop-color="#00a300"/><stop offset="0.5493" stop-color="#009c00"/><stop offset="0.5531" stop-color="#009900"/><stop offset="0.5606" stop-color="#009c1b"/><stop offset="0.5756" stop-color="#00aa88"/><stop offset="0.5981" stop-color="#00aaa3"/><stop offset="0.6019" stop-color="#00aaaa"/><stop offset="0.6132" stop-color="#00a0c9"/><stop offset="0.6282" stop-color="#0099dd"/><stop offset="0.6357" stop-color="#0092dd"/><stop offset="0.6545" stop-color="#0077dd"/><stop offset="0.6695" stop-color="#0030dd"/><stop offset="0.6795" stop-color="#0000dd"/><stop offset="0.6845" stop-color="#0000d3"/><stop offset="0.7408" stop-color="#0000c9"/><stop offset="0.7414" stop-color="#0000c9"/><stop offset="0.7415" stop-color="#0000dd"/><stop offset="0.7418" stop-color="#0077dd"/><stop offset="0.7421" stop-color="#0099dd"/><stop offset="0.7423" stop-color="#00a3be"/><stop offset="0.7483" stop-color="#00a3be"/><stop offset="0.7485" stop-color="#0099dd"/><stop offset="0.7488" stop-color="#0077dd"/><stop offset="0.7491" stop-color="#0000dd"/><stop offset="0.7493" stop-color="#0000c9"/><stop offset="0.7571" stop-color="#0000c9"/><stop offset="0.7573" stop-color="#0000dd"/><stop offset="0.7576" stop-color="#0077dd"/><stop offset="0.7580" stop-color="#0099dd"/><stop offset="0.7581" stop-color="#00a0c9"/><stop offset="0.7633" stop-color="#00a0c9"/><stop offset="0.7635" stop-color="#0099dd"/><stop offset="0.7638" stop-color="#0077dd"/><stop offset="0.7641" stop-color="#0000dd"/><stop offset="0.7643" stop-color="#0000c9"/><stop offset="0.7699" stop-color="#0000c9"/><stop offset="0.7701" stop-color="#0000dd"/><stop offset="0.7704" stop-color="#0077dd"/><stop offset="0.7708" stop-color="#0099dd"/><stop offset="0.7709" stop-color="#009cd3"/><stop offset="0.7784" stop-color="#009cd3"/><stop offset="0.7784" stop-color="#0099dd"/><stop offset="0.7788" stop-color="#0077dd"/><stop offset="0.7792" stop-color="#0000dd"/><stop offset="0.7793" stop-color="#0000c9"/><stop offset="0.7840" stop-color="#0000c9"/><stop offset="0.7842" stop-color="#0000dd"/><stop offset="0.7848" stop-color="#0077dd"/><stop offset="0.7849" stop-color="#007edd"/><stop offset="0.7883" stop-color="#007edd"/><stop offset="0.7884" stop-color="#0077dd"/><stop offset="0.7890" stop-color="#0000dd"/><stop offset="0.7893" stop-color="#0000c9"/><stop offset="0.7943" stop-color="#0000c9"/><stop offset="0.7944" stop-color="#0000dd"/><stop offset="0.7948" stop-color="#0077dd"/><stop offset="0.7951" stop-color="#0099dd"/><stop offset="0.7953" stop-color="#00a3be"/><stop offset="0.8013" stop-color="#00a3be"/><stop offset="0.8014" stop-color="#0099dd"/><stop offset="0.8017" stop-color="#0077dd"/><stop offset="0.8021" stop-color="#0000dd"/><stop offset="0.8022" stop-color="#0000c3"/><stop offset="0.8084" stop-color="#0000aa"/><stop offset="0.8097" stop-color="#0300aa"/><stop offset="0.8107" stop-color="#880099"/><stop offset="0.8137" stop-color="#880099"/><stop offset="0.8146" stop-color="#0f00a8"/><stop offset="0.8197" stop-color="#1b00a7"/><stop offset="0.8213" stop-color="#880099"/><stop offset="0.8233" stop-color="#770088"/><stop offset="0.8234" stop-color="#700080"/><stop offset="0.8497" stop-color="#620070"/><stop offset="0.8872" stop-color="#51005c"/><stop offset="0.9248" stop-color="#400049"/><stop offset="0.9511" stop-color="#300036"/><stop offset="0.9811" stop-color="#1d0021"/><stop offset="0.9999" stop-color="#140017"/></linearGradient><linearGradient id="gL10" gradientUnits="userSpaceOnUse" x1="48.7" y1="0" x2="315.0" y2="0"><stop offset="0.0000" stop-color="#770088"/><stop offset="0.0027" stop-color="#770088"/><stop offset="0.0042" stop-color="#140017"/><stop offset="0.1926" stop-color="#140017"/><stop offset="0.2001" stop-color="#18001b"/><stop offset="0.2077" stop-color="#3c0044"/><stop offset="0.2123" stop-color="#770088"/><stop offset="0.2133" stop-color="#79008a"/><stop offset="0.2189" stop-color="#800090"/><stop offset="0.2283" stop-color="#830094"/><stop offset="0.2292" stop-color="#880099"/><stop offset="0.2321" stop-color="#0000aa"/><stop offset="0.2358" stop-color="#0000dd"/><stop offset="0.2433" stop-color="#0047dd"/><stop offset="0.2483" stop-color="#0077dd"/><stop offset="0.2508" stop-color="#007edd"/><stop offset="0.2621" stop-color="#008fdd"/><stop offset="0.2709" stop-color="#0099dd"/><stop offset="0.2752" stop-color="#009cd5"/><stop offset="0.2903" stop-color="#00a3be"/><stop offset="0.3240" stop-color="#00aaaa"/><stop offset="0.3729" stop-color="#00aa99"/><stop offset="0.3954" stop-color="#00aa88"/><stop offset="0.4067" stop-color="#009c1b"/><stop offset="0.4080" stop-color="#009900"/><stop offset="0.4147" stop-color="#00bb00"/><stop offset="0.4160" stop-color="#00c200"/><stop offset="0.4217" stop-color="#00bb00"/><stop offset="0.4292" stop-color="#00ad00"/><stop offset="0.4404" stop-color="#00bb00"/><stop offset="0.4517" stop-color="#00c900"/><stop offset="0.5193" stop-color="#00cc00"/><stop offset="0.5310" stop-color="#00bb00"/><stop offset="0.5381" stop-color="#00b100"/><stop offset="0.5493" stop-color="#009c00"/><stop offset="0.5531" stop-color="#009900"/><stop offset="0.5606" stop-color="#009c1b"/><stop offset="0.5756" stop-color="#00aa88"/><stop offset="0.5981" stop-color="#00aaa3"/><stop offset="0.6019" stop-color="#00aaaa"/><stop offset="0.6132" stop-color="#00a0c9"/><stop offset="0.6282" stop-color="#0099dd"/><stop offset="0.6357" stop-color="#0092dd"/><stop offset="0.6545" stop-color="#0077dd"/><stop offset="0.6695" stop-color="#0030dd"/><stop offset="0.6795" stop-color="#0000dd"/><stop offset="0.6845" stop-color="#0000d3"/><stop offset="0.7408" stop-color="#0000c9"/><stop offset="0.7414" stop-color="#0000c9"/><stop offset="0.7415" stop-color="#0000dd"/><stop offset="0.7418" stop-color="#0077dd"/><stop offset="0.7421" stop-color="#0099dd"/><stop offset="0.7423" stop-color="#00a3be"/><stop offset="0.7483" stop-color="#00a3be"/><stop offset="0.7485" stop-color="#0099dd"/><stop offset="0.7488" stop-color="#0077dd"/><stop offset="0.7491" stop-color="#0000dd"/><stop offset="0.7493" stop-color="#0000c9"/><stop offset="0.7571" stop-color="#0000c9"/><stop offset="0.7573" stop-color="#0000dd"/><stop offset="0.7576" stop-color="#0077dd"/><stop offset="0.7580" stop-color="#0099dd"/><stop offset="0.7581" stop-color="#00a0c9"/><stop offset="0.7633" stop-color="#00a0c9"/><stop offset="0.7635" stop-color="#0099dd"/><stop offset="0.7638" stop-color="#0077dd"/><stop offset="0.7641" stop-color="#0000dd"/><stop offset="0.7643" stop-color="#0000c9"/><stop offset="0.7699" stop-color="#0000c9"/><stop offset="0.7701" stop-color="#0000dd"/><stop offset="0.7704" stop-color="#0077dd"/><stop offset="0.7708" stop-color="#0099dd"/><stop offset="0.7709" stop-color="#009cd3"/><stop offset="0.7784" stop-color="#009cd3"/><stop offset="0.7784" stop-color="#0099dd"/><stop offset="0.7788" stop-color="#0077dd"/><stop offset="0.7792" stop-color="#0000dd"/><stop offset="0.7793" stop-color="#0000c9"/><stop offset="0.7840" stop-color="#0000c9"/><stop offset="0.7842" stop-color="#0000dd"/><stop offset="0.7848" stop-color="#0077dd"/><stop offset="0.7849" stop-color="#007edd"/><stop offset="0.7883" stop-color="#007edd"/><stop offset="0.7884" stop-color="#0077dd"/><stop offset="0.7890" stop-color="#0000dd"/><stop offset="0.7893" stop-color="#0000c9"/><stop offset="0.7943" stop-color="#0000c9"/><stop offset="0.7944" stop-color="#0000dd"/><stop offset="0.7948" stop-color="#0077dd"/><stop offset="0.7951" stop-color="#0099dd"/><stop offset="0.7953" stop-color="#00a3be"/><stop offset="0.8013" stop-color="#00a3be"/><stop offset="0.8014" stop-color="#0099dd"/><stop offset="0.8017" stop-color="#0077dd"/><stop offset="0.8021" stop-color="#0000dd"/><stop offset="0.8022" stop-color="#0000c3"/><stop offset="0.8084" stop-color="#0000aa"/><stop offset="0.8097" stop-color="#0300aa"/><stop offset="0.8107" stop-color="#880099"/><stop offset="0.8137" stop-color="#880099"/><stop offset="0.8146" stop-color="#0f00a8"/><stop offset="0.8197" stop-color="#1b00a7"/><stop offset="0.8213" stop-color="#880099"/><stop offset="0.8233" stop-color="#770088"/><stop offset="0.8234" stop-color="#700080"/><stop offset="0.8497" stop-color="#620070"/><stop offset="0.8872" stop-color="#51005c"/><stop offset="0.9248" stop-color="#400049"/><stop offset="0.9511" stop-color="#300036"/><stop offset="0.9811" stop-color="#1d0021"/><stop offset="0.9999" stop-color="#140017"/></linearGradient><linearGradient id="gL11" gradientUnits="userSpaceOnUse" x1="48.7" y1="0" x2="315.0" y2="0"><stop offset="0.0000" stop-color="#770088"/><stop offset="0.0027" stop-color="#770088"/><stop offset="0.0042" stop-color="#140017"/><stop offset="0.1926" stop-color="#140017"/><stop offset="0.2001" stop-color="#18001b"/><stop offset="0.2077" stop-color="#3c0044"/><stop offset="0.2123" stop-color="#770088"/><stop offset="0.2133" stop-color="#79008a"/><stop offset="0.2189" stop-color="#800090"/><stop offset="0.2283" stop-color="#830094"/><stop offset="0.2292" stop-color="#880099"/><stop offset="0.2321" stop-color="#0000aa"/><stop offset="0.2358" stop-color="#0000dd"/><stop offset="0.2433" stop-color="#0047dd"/><stop offset="0.2483" stop-color="#0077dd"/><stop offset="0.2508" stop-color="#007edd"/><stop offset="0.2621" stop-color="#008fdd"/><stop offset="0.2709" stop-color="#0099dd"/><stop offset="0.2752" stop-color="#009cd5"/><stop offset="0.2903" stop-color="#00a3be"/><stop offset="0.3240" stop-color="#00aaaa"/><stop offset="0.3691" stop-color="#00aa99"/><stop offset="0.3916" stop-color="#00aa88"/><stop offset="0.4029" stop-color="#009c1b"/><stop offset="0.4042" stop-color="#009900"/><stop offset="0.4109" stop-color="#00bb00"/><stop offset="0.4123" stop-color="#00c200"/><stop offset="0.4179" stop-color="#00bb00"/><stop offset="0.4254" stop-color="#00ad00"/><stop offset="0.4367" stop-color="#00bb00"/><stop offset="0.4480" stop-color="#00c900"/><stop offset="0.5193" stop-color="#00cc00"/><stop offset="0.5310" stop-color="#00bb00"/><stop offset="0.5381" stop-color="#00b100"/><stop offset="0.5493" stop-color="#009c00"/><stop offset="0.5531" stop-color="#009900"/><stop offset="0.5606" stop-color="#009c1b"/><stop offset="0.5756" stop-color="#00aa88"/><stop offset="0.5981" stop-color="#00aaa3"/><stop offset="0.6019" stop-color="#00aaaa"/><stop offset="0.6132" stop-color="#00a0c9"/><stop offset="0.6282" stop-color="#0099dd"/><stop offset="0.6357" stop-color="#0092dd"/><stop offset="0.6545" stop-color="#0077dd"/><stop offset="0.6695" stop-color="#0030dd"/><stop offset="0.6795" stop-color="#0000dd"/><stop offset="0.6845" stop-color="#0000d3"/><stop offset="0.7408" stop-color="#0000c9"/><stop offset="0.7414" stop-color="#0000c9"/><stop offset="0.7415" stop-color="#0000dd"/><stop offset="0.7418" stop-color="#0077dd"/><stop offset="0.7421" stop-color="#0099dd"/><stop offset="0.7423" stop-color="#00a3be"/><stop offset="0.7483" stop-color="#00a3be"/><stop offset="0.7485" stop-color="#0099dd"/><stop offset="0.7488" stop-color="#0077dd"/><stop offset="0.7491" stop-color="#0000dd"/><stop offset="0.7493" stop-color="#0000c9"/><stop offset="0.7571" stop-color="#0000c9"/><stop offset="0.7573" stop-color="#0000dd"/><stop offset="0.7576" stop-color="#0077dd"/><stop offset="0.7580" stop-color="#0099dd"/><stop offset="0.7581" stop-color="#00a0c9"/><stop offset="0.7633" stop-color="#00a0c9"/><stop offset="0.7635" stop-color="#0099dd"/><stop offset="0.7638" stop-color="#0077dd"/><stop offset="0.7641" stop-color="#0000dd"/><stop offset="0.7643" stop-color="#0000c9"/><stop offset="0.7699" stop-color="#0000c9"/><stop offset="0.7701" stop-color="#0000dd"/><stop offset="0.7704" stop-color="#0077dd"/><stop offset="0.7708" stop-color="#0099dd"/><stop offset="0.7709" stop-color="#009cd3"/><stop offset="0.7784" stop-color="#009cd3"/><stop offset="0.7784" stop-color="#0099dd"/><stop offset="0.7788" stop-color="#0077dd"/><stop offset="0.7792" stop-color="#0000dd"/><stop offset="0.7793" stop-color="#0000c9"/><stop offset="0.7840" stop-color="#0000c9"/><stop offset="0.7842" stop-color="#0000dd"/><stop offset="0.7848" stop-color="#0077dd"/><stop offset="0.7849" stop-color="#007edd"/><stop offset="0.7883" stop-color="#007edd"/><stop offset="0.7884" stop-color="#0077dd"/><stop offset="0.7890" stop-color="#0000dd"/><stop offset="0.7893" stop-color="#0000c9"/><stop offset="0.7943" stop-color="#0000c9"/><stop offset="0.7944" stop-color="#0000dd"/><stop offset="0.7948" stop-color="#0077dd"/><stop offset="0.7951" stop-color="#0099dd"/><stop offset="0.7953" stop-color="#00a3be"/><stop offset="0.8013" stop-color="#00a3be"/><stop offset="0.8014" stop-color="#0099dd"/><stop offset="0.8017" stop-color="#0077dd"/><stop offset="0.8021" stop-color="#0000dd"/><stop offset="0.8022" stop-color="#0000c3"/><stop offset="0.8084" stop-color="#0000aa"/><stop offset="0.8097" stop-color="#0300aa"/><stop offset="0.8107" stop-color="#880099"/><stop offset="0.8137" stop-color="#880099"/><stop offset="0.8146" stop-color="#0f00a8"/><stop offset="0.8197" stop-color="#1b00a7"/><stop offset="0.8213" stop-color="#880099"/><stop offset="0.8233" stop-color="#770088"/><stop offset="0.8234" stop-color="#700080"/><stop offset="0.8497" stop-color="#620070"/><stop offset="0.8872" stop-color="#51005c"/><stop offset="0.9248" stop-color="#400049"/><stop offset="0.9511" stop-color="#300036"/><stop offset="0.9811" stop-color="#1d0021"/><stop offset="0.9999" stop-color="#140017"/></linearGradient><linearGradient id="gL12" gradientUnits="userSpaceOnUse" x1="48.7" y1="0" x2="315.0" y2="0"><stop offset="0.0000" stop-color="#770088"/><stop offset="0.0027" stop-color="#770088"/><stop offset="0.0042" stop-color="#140017"/><stop offset="0.1926" stop-color="#140017"/><stop offset="0.2001" stop-color="#18001b"/><stop offset="0.2077" stop-color="#3c0044"/><stop offset="0.2123" stop-color="#770088"/><stop offset="0.2133" stop-color="#79008a"/><stop offset="0.2189" stop-color="#800090"/><stop offset="0.2283" stop-color="#830094"/><stop offset="0.2292" stop-color="#880099"/><stop offset="0.2321" stop-color="#0000aa"/><stop offset="0.2358" stop-color="#0000dd"/><stop offset="0.2433" stop-color="#0047dd"/><stop offset="0.2483" stop-color="#0077dd"/><stop offset="0.2508" stop-color="#007edd"/><stop offset="0.2621" stop-color="#008fdd"/><stop offset="0.2709" stop-color="#0099dd"/><stop offset="0.2752" stop-color="#009cd5"/><stop offset="0.2903" stop-color="#00a3be"/><stop offset="0.3128" stop-color="#00aaaa"/><stop offset="0.3240" stop-color="#00aaa3"/><stop offset="0.3654" stop-color="#00aa8b"/><stop offset="0.3699" stop-color="#00aa88"/><stop offset="0.3879" stop-color="#00a352"/><stop offset="0.3991" stop-color="#009c1b"/><stop offset="0.4007" stop-color="#009900"/><stop offset="0.4085" stop-color="#00bb00"/><stop offset="0.4142" stop-color="#00b400"/><stop offset="0.4217" stop-color="#00a700"/><stop offset="0.4386" stop-color="#00bb00"/><stop offset="0.4442" stop-color="#00c200"/><stop offset="0.5193" stop-color="#00c500"/><stop offset="0.5263" stop-color="#00bb00"/><stop offset="0.5381" stop-color="#00aa00"/><stop offset="0.5493" stop-color="#009c00"/><stop offset="0.5531" stop-color="#009900"/><stop offset="0.5606" stop-color="#009c1b"/><stop offset="0.5756" stop-color="#00aa88"/><stop offset="0.5981" stop-color="#00aaa3"/><stop offset="0.6019" stop-color="#00aaaa"/><stop offset="0.6132" stop-color="#00a0c9"/><stop offset="0.6282" stop-color="#0099dd"/><stop offset="0.6357" stop-color="#0092dd"/><stop offset="0.6545" stop-color="#0077dd"/><stop offset="0.6695" stop-color="#0030dd"/><stop offset="0.6795" stop-color="#0000dd"/><stop offset="0.6845" stop-color="#0000d3"/><stop offset="0.7408" stop-color="#0000c9"/><stop offset="0.7414" stop-color="#0000c9"/><stop offset="0.7415" stop-color="#0000dd"/><stop offset="0.7418" stop-color="#0077dd"/><stop offset="0.7421" stop-color="#0099dd"/><stop offset="0.7423" stop-color="#00a3be"/><stop offset="0.7483" stop-color="#00a3be"/><stop offset="0.7485" stop-color="#0099dd"/><stop offset="0.7488" stop-color="#0077dd"/><stop offset="0.7491" stop-color="#0000dd"/><stop offset="0.7493" stop-color="#0000c9"/><stop offset="0.7571" stop-color="#0000c9"/><stop offset="0.7573" stop-color="#0000dd"/><stop offset="0.7576" stop-color="#0077dd"/><stop offset="0.7580" stop-color="#0099dd"/><stop offset="0.7581" stop-color="#00a0c9"/><stop offset="0.7633" stop-color="#00a0c9"/><stop offset="0.7635" stop-color="#0099dd"/><stop offset="0.7638" stop-color="#0077dd"/><stop offset="0.7641" stop-color="#0000dd"/><stop offset="0.7643" stop-color="#0000c9"/><stop offset="0.7699" stop-color="#0000c9"/><stop offset="0.7701" stop-color="#0000dd"/><stop offset="0.7704" stop-color="#0077dd"/><stop offset="0.7708" stop-color="#0099dd"/><stop offset="0.7709" stop-color="#009cd3"/><stop offset="0.7784" stop-color="#009cd3"/><stop offset="0.7784" stop-color="#0099dd"/><stop offset="0.7788" stop-color="#0077dd"/><stop offset="0.7792" stop-color="#0000dd"/><stop offset="0.7793" stop-color="#0000c9"/><stop offset="0.7840" stop-color="#0000c9"/><stop offset="0.7842" stop-color="#0000dd"/><stop offset="0.7848" stop-color="#0077dd"/><stop offset="0.7849" stop-color="#007edd"/><stop offset="0.7883" stop-color="#007edd"/><stop offset="0.7884" stop-color="#0077dd"/><stop offset="0.7890" stop-color="#0000dd"/><stop offset="0.7893" stop-color="#0000c9"/><stop offset="0.7943" stop-color="#0000c9"/><stop offset="0.7944" stop-color="#0000dd"/><stop offset="0.7948" stop-color="#0077dd"/><stop offset="0.7951" stop-color="#0099dd"/><stop offset="0.7953" stop-color="#00a3be"/><stop offset="0.8013" stop-color="#00a3be"/><stop offset="0.8014" stop-color="#0099dd"/><stop offset="0.8017" stop-color="#0077dd"/><stop offset="0.8021" stop-color="#0000dd"/><stop offset="0.8022" stop-color="#0000c3"/><stop offset="0.8084" stop-color="#0000aa"/><stop offset="0.8097" stop-color="#0300aa"/><stop offset="0.8107" stop-color="#880099"/><stop offset="0.8137" stop-color="#880099"/><stop offset="0.8146" stop-color="#0f00a8"/><stop offset="0.8197" stop-color="#1b00a7"/><stop offset="0.8213" stop-color="#880099"/><stop offset="0.8233" stop-color="#770088"/><stop offset="0.8234" stop-color="#700080"/><stop offset="0.8497" stop-color="#620070"/><stop offset="0.8872" stop-color="#51005c"/><stop offset="0.9248" stop-color="#400049"/><stop offset="0.9511" stop-color="#300036"/><stop offset="0.9811" stop-color="#1d0021"/><stop offset="0.9999" stop-color="#140017"/></linearGradient><linearGradient id="gL13" gradientUnits="userSpaceOnUse" x1="48.7" y1="0" x2="315.0" y2="0"><stop offset="0.0000" stop-color="#770088"/><stop offset="0.0027" stop-color="#770088"/><stop offset="0.0042" stop-color="#140017"/><stop offset="0.1926" stop-color="#140017"/><stop offset="0.2001" stop-color="#18001b"/><stop offset="0.2077" stop-color="#3c0044"/><stop offset="0.2123" stop-color="#770088"/><stop offset="0.2133" stop-color="#79008a"/><stop offset="0.2189" stop-color="#800090"/><stop offset="0.2283" stop-color="#830094"/><stop offset="0.2292" stop-color="#880099"/><stop offset="0.2321" stop-color="#0000aa"/><stop offset="0.2358" stop-color="#0000dd"/><stop offset="0.2433" stop-color="#0047dd"/><stop offset="0.2483" stop-color="#0077dd"/><stop offset="0.2508" stop-color="#007edd"/><stop offset="0.2621" stop-color="#008fdd"/><stop offset="0.2667" stop-color="#0099dd"/><stop offset="0.2752" stop-color="#00a2c1"/><stop offset="0.2832" stop-color="#00aaaa"/><stop offset="0.2903" stop-color="#00aa9c"/><stop offset="0.3240" stop-color="#00aa92"/><stop offset="0.3438" stop-color="#00aa88"/><stop offset="0.3503" stop-color="#00a87a"/><stop offset="0.3729" stop-color="#00a036"/><stop offset="0.3841" stop-color="#009c1b"/><stop offset="0.3865" stop-color="#009900"/><stop offset="0.3935" stop-color="#00ad00"/><stop offset="0.3991" stop-color="#00a700"/><stop offset="0.4067" stop-color="#009900"/><stop offset="0.4292" stop-color="#00b400"/><stop offset="0.5193" stop-color="#00b800"/><stop offset="0.5381" stop-color="#009c00"/><stop offset="0.5493" stop-color="#009c00"/><stop offset="0.5531" stop-color="#009900"/><stop offset="0.5606" stop-color="#009c1b"/><stop offset="0.5756" stop-color="#00aa88"/><stop offset="0.5981" stop-color="#00aaa3"/><stop offset="0.6019" stop-color="#00aaaa"/><stop offset="0.6132" stop-color="#00a0c9"/><stop offset="0.6282" stop-color="#0099dd"/><stop offset="0.6357" stop-color="#0092dd"/><stop offset="0.6545" stop-color="#0077dd"/><stop offset="0.6695" stop-color="#0030dd"/><stop offset="0.6795" stop-color="#0000dd"/><stop offset="0.6845" stop-color="#0000d3"/><stop offset="0.7408" stop-color="#0000c9"/><stop offset="0.7414" stop-color="#0000c9"/><stop offset="0.7415" stop-color="#0000dd"/><stop offset="0.7418" stop-color="#0077dd"/><stop offset="0.7421" stop-color="#0099dd"/><stop offset="0.7423" stop-color="#00a3be"/><stop offset="0.7483" stop-color="#00a3be"/><stop offset="0.7485" stop-color="#0099dd"/><stop offset="0.7488" stop-color="#0077dd"/><stop offset="0.7491" stop-color="#0000dd"/><stop offset="0.7493" stop-color="#0000c9"/><stop offset="0.7571" stop-color="#0000c9"/><stop offset="0.7573" stop-color="#0000dd"/><stop offset="0.7576" stop-color="#0077dd"/><stop offset="0.7580" stop-color="#0099dd"/><stop offset="0.7581" stop-color="#00a0c9"/><stop offset="0.7633" stop-color="#00a0c9"/><stop offset="0.7635" stop-color="#0099dd"/><stop offset="0.7638" stop-color="#0077dd"/><stop offset="0.7641" stop-color="#0000dd"/><stop offset="0.7643" stop-color="#0000c9"/><stop offset="0.7699" stop-color="#0000c9"/><stop offset="0.7701" stop-color="#0000dd"/><stop offset="0.7704" stop-color="#0077dd"/><stop offset="0.7708" stop-color="#0099dd"/><stop offset="0.7709" stop-color="#009cd3"/><stop offset="0.7784" stop-color="#009cd3"/><stop offset="0.7784" stop-color="#0099dd"/><stop offset="0.7788" stop-color="#0077dd"/><stop offset="0.7792" stop-color="#0000dd"/><stop offset="0.7793" stop-color="#0000c9"/><stop offset="0.7840" stop-color="#0000c9"/><stop offset="0.7842" stop-color="#0000dd"/><stop offset="0.7848" stop-color="#0077dd"/><stop offset="0.7849" stop-color="#007edd"/><stop offset="0.7883" stop-color="#007edd"/><stop offset="0.7884" stop-color="#0077dd"/><stop offset="0.7890" stop-color="#0000dd"/><stop offset="0.7893" stop-color="#0000c9"/><stop offset="0.7943" stop-color="#0000c9"/><stop offset="0.7944" stop-color="#0000dd"/><stop offset="0.7948" stop-color="#0077dd"/><stop offset="0.7951" stop-color="#0099dd"/><stop offset="0.7953" stop-color="#00a3be"/><stop offset="0.8013" stop-color="#00a3be"/><stop offset="0.8014" stop-color="#0099dd"/><stop offset="0.8017" stop-color="#0077dd"/><stop offset="0.8021" stop-color="#0000dd"/><stop offset="0.8022" stop-color="#0000c3"/><stop offset="0.8084" stop-color="#0000aa"/><stop offset="0.8097" stop-color="#0300aa"/><stop offset="0.8107" stop-color="#880099"/><stop offset="0.8137" stop-color="#880099"/><stop offset="0.8146" stop-color="#0f00a8"/><stop offset="0.8197" stop-color="#1b00a7"/><stop offset="0.8213" stop-color="#880099"/><stop offset="0.8233" stop-color="#770088"/><stop offset="0.8234" stop-color="#700080"/><stop offset="0.8497" stop-color="#620070"/><stop offset="0.8872" stop-color="#51005c"/><stop offset="0.9248" stop-color="#400049"/><stop offset="0.9511" stop-color="#300036"/><stop offset="0.9811" stop-color="#1d0021"/><stop offset="0.9999" stop-color="#140017"/></linearGradient><linearGradient id="gL14" gradientUnits="userSpaceOnUse" x1="48.7" y1="0" x2="315.0" y2="0"><stop offset="0.0000" stop-color="#770088"/><stop offset="0.0027" stop-color="#770088"/><stop offset="0.0042" stop-color="#140017"/><stop offset="0.1926" stop-color="#140017"/><stop offset="0.2001" stop-color="#18001b"/><stop offset="0.2077" stop-color="#3c0044"/><stop offset="0.2123" stop-color="#770088"/><stop offset="0.2133" stop-color="#79008a"/><stop offset="0.2189" stop-color="#800090"/><stop offset="0.2283" stop-color="#830094"/><stop offset="0.2292" stop-color="#880099"/><stop offset="0.2321" stop-color="#0000aa"/><stop offset="0.2358" stop-color="#0000dd"/><stop offset="0.2433" stop-color="#0047dd"/><stop offset="0.2483" stop-color="#0077dd"/><stop offset="0.2508" stop-color="#007edd"/><stop offset="0.2621" stop-color="#008fdd"/><stop offset="0.2752" stop-color="#0097dd"/><stop offset="0.2782" stop-color="#0099dd"/><stop offset="0.2903" stop-color="#009cd3"/><stop offset="0.3240" stop-color="#00a3be"/><stop offset="0.3691" stop-color="#00aaaa"/><stop offset="0.3804" stop-color="#00aaa7"/><stop offset="0.4029" stop-color="#00aa96"/><stop offset="0.4067" stop-color="#00aa88"/><stop offset="0.4142" stop-color="#009c1b"/><stop offset="0.4157" stop-color="#009900"/><stop offset="0.4235" stop-color="#00bb00"/><stop offset="0.4292" stop-color="#00b400"/><stop offset="0.4367" stop-color="#00a700"/><stop offset="0.4536" stop-color="#00bb00"/><stop offset="0.4592" stop-color="#00c200"/><stop offset="0.5193" stop-color="#00c500"/><stop offset="0.5263" stop-color="#00bb00"/><stop offset="0.5381" stop-color="#00aa00"/><stop offset="0.5493" stop-color="#009c00"/><stop offset="0.5531" stop-color="#009900"/><stop offset="0.5606" stop-color="#009c1b"/><stop offset="0.5756" stop-color="#00aa88"/><stop offset="0.5981" stop-color="#00aaa3"/><stop offset="0.6019" stop-color="#00aaaa"/><stop offset="0.6132" stop-color="#00a0c9"/><stop offset="0.6282" stop-color="#0099dd"/><stop offset="0.6357" stop-color="#0092dd"/><stop offset="0.6545" stop-color="#0077dd"/><stop offset="0.6695" stop-color="#0030dd"/><stop offset="0.6795" stop-color="#0000dd"/><stop offset="0.6845" stop-color="#0000d3"/><stop offset="0.7408" stop-color="#0000c9"/><stop offset="0.7414" stop-color="#0000c9"/><stop offset="0.7415" stop-color="#0000dd"/><stop offset="0.7418" stop-color="#0077dd"/><stop offset="0.7421" stop-color="#0099dd"/><stop offset="0.7423" stop-color="#00a3be"/><stop offset="0.7483" stop-color="#00a3be"/><stop offset="0.7485" stop-color="#0099dd"/><stop offset="0.7488" stop-color="#0077dd"/><stop offset="0.7491" stop-color="#0000dd"/><stop offset="0.7493" stop-color="#0000c9"/><stop offset="0.7571" stop-color="#0000c9"/><stop offset="0.7573" stop-color="#0000dd"/><stop offset="0.7576" stop-color="#0077dd"/><stop offset="0.7580" stop-color="#0099dd"/><stop offset="0.7581" stop-color="#00a0c9"/><stop offset="0.7633" stop-color="#00a0c9"/><stop offset="0.7635" stop-color="#0099dd"/><stop offset="0.7638" stop-color="#0077dd"/><stop offset="0.7641" stop-color="#0000dd"/><stop offset="0.7643" stop-color="#0000c9"/><stop offset="0.7699" stop-color="#0000c9"/><stop offset="0.7701" stop-color="#0000dd"/><stop offset="0.7704" stop-color="#0077dd"/><stop offset="0.7708" stop-color="#0099dd"/><stop offset="0.7709" stop-color="#009cd3"/><stop offset="0.7784" stop-color="#009cd3"/><stop offset="0.7784" stop-color="#0099dd"/><stop offset="0.7788" stop-color="#0077dd"/><stop offset="0.7792" stop-color="#0000dd"/><stop offset="0.7793" stop-color="#0000c9"/><stop offset="0.7840" stop-color="#0000c9"/><stop offset="0.7842" stop-color="#0000dd"/><stop offset="0.7848" stop-color="#0077dd"/><stop offset="0.7849" stop-color="#007edd"/><stop offset="0.7883" stop-color="#007edd"/><stop offset="0.7884" stop-color="#0077dd"/><stop offset="0.7890" stop-color="#0000dd"/><stop offset="0.7893" stop-color="#0000c9"/><stop offset="0.7943" stop-color="#0000c9"/><stop offset="0.7944" stop-color="#0000dd"/><stop offset="0.7948" stop-color="#0077dd"/><stop offset="0.7951" stop-color="#0099dd"/><stop offset="0.7953" stop-color="#00a3be"/><stop offset="0.8013" stop-color="#00a3be"/><stop offset="0.8014" stop-color="#0099dd"/><stop offset="0.8017" stop-color="#0077dd"/><stop offset="0.8021" stop-color="#0000dd"/><stop offset="0.8022" stop-color="#0000c3"/><stop offset="0.8084" stop-color="#0000aa"/><stop offset="0.8097" stop-color="#0300aa"/><stop offset="0.8107" stop-color="#880099"/><stop offset="0.8137" stop-color="#880099"/><stop offset="0.8146" stop-color="#0f00a8"/><stop offset="0.8197" stop-color="#1b00a7"/><stop offset="0.8213" stop-color="#880099"/><stop offset="0.8233" stop-color="#770088"/><stop offset="0.8234" stop-color="#700080"/><stop offset="0.8497" stop-color="#620070"/><stop offset="0.8872" stop-color="#51005c"/><stop offset="0.9248" stop-color="#400049"/><stop offset="0.9511" stop-color="#300036"/><stop offset="0.9811" stop-color="#1d0021"/><stop offset="0.9999" stop-color="#140017"/></linearGradient><linearGradient id="gL15" gradientUnits="userSpaceOnUse" x1="48.7" y1="0" x2="315.0" y2="0"><stop offset="0.0000" stop-color="#770088"/><stop offset="0.0027" stop-color="#770088"/><stop offset="0.0042" stop-color="#140017"/><stop offset="0.1926" stop-color="#140017"/><stop offset="0.2001" stop-color="#18001b"/><stop offset="0.2077" stop-color="#3c0044"/><stop offset="0.2123" stop-color="#770088"/><stop offset="0.2133" stop-color="#79008a"/><stop offset="0.2189" stop-color="#800090"/><stop offset="0.2283" stop-color="#830094"/><stop offset="0.2292" stop-color="#880099"/><stop offset="0.2321" stop-color="#0000aa"/><stop offset="0.2358" stop-color="#0000dd"/><stop offset="0.2433" stop-color="#0047dd"/><stop offset="0.2483" stop-color="#0077dd"/><stop offset="0.2508" stop-color="#007edd"/><stop offset="0.2621" stop-color="#008fdd"/><stop offset="0.2709" stop-color="#0099dd"/><stop offset="0.2752" stop-color="#009cd5"/><stop offset="0.2903" stop-color="#00a3be"/><stop offset="0.3240" stop-color="#00aaaa"/><stop offset="0.3654" stop-color="#00aa99"/><stop offset="0.3714" stop-color="#00aa94"/><stop offset="0.3714" stop-color="#00aa88"/><stop offset="0.3715" stop-color="#009900"/><stop offset="0.3716" stop-color="#00bb00"/><stop offset="0.3717" stop-color="#00dd00"/><stop offset="0.3718" stop-color="#00ff00"/><stop offset="0.3720" stop-color="#bbff00"/><stop offset="0.3721" stop-color="#eeee00"/><stop offset="0.3722" stop-color="#ffcc00"/><stop offset="0.3723" stop-color="#ff9900"/><stop offset="0.3757" stop-color="#ff9900"/><stop offset="0.3758" stop-color="#ffcc00"/><stop offset="0.3759" stop-color="#eeee00"/><stop offset="0.3760" stop-color="#bbff00"/><stop offset="0.3761" stop-color="#00ff00"/><stop offset="0.3762" stop-color="#00dd00"/><stop offset="0.3764" stop-color="#00bb00"/><stop offset="0.3765" stop-color="#009900"/><stop offset="0.3766" stop-color="#00aa88"/><stop offset="0.3766" stop-color="#00aa90"/><stop offset="0.3879" stop-color="#00aa88"/><stop offset="0.3991" stop-color="#009c1b"/><stop offset="0.4023" stop-color="#009900"/><stop offset="0.4085" stop-color="#00a700"/><stop offset="0.4142" stop-color="#00a000"/><stop offset="0.4179" stop-color="#009900"/><stop offset="0.4217" stop-color="#009c1b"/><stop offset="0.4273" stop-color="#009900"/><stop offset="0.4442" stop-color="#00ad00"/><stop offset="0.5193" stop-color="#00b100"/><stop offset="0.5357" stop-color="#009900"/><stop offset="0.5381" stop-color="#009b0e"/><stop offset="0.5437" stop-color="#009900"/><stop offset="0.5493" stop-color="#009c00"/><stop offset="0.5531" stop-color="#009900"/><stop offset="0.5606" stop-color="#009c1b"/><stop offset="0.5756" stop-color="#00aa88"/><stop offset="0.5981" stop-color="#00aaa3"/><stop offset="0.6019" stop-color="#00aaaa"/><stop offset="0.6132" stop-color="#00a0c9"/><stop offset="0.6282" stop-color="#0099dd"/><stop offset="0.6357" stop-color="#0092dd"/><stop offset="0.6545" stop-color="#0077dd"/><stop offset="0.6695" stop-color="#0030dd"/><stop offset="0.6795" stop-color="#0000dd"/><stop offset="0.6845" stop-color="#0000d3"/><stop offset="0.7408" stop-color="#0000c9"/><stop offset="0.7414" stop-color="#0000c9"/><stop offset="0.7415" stop-color="#0000dd"/><stop offset="0.7418" stop-color="#0077dd"/><stop offset="0.7421" stop-color="#0099dd"/><stop offset="0.7423" stop-color="#00a3be"/><stop offset="0.7483" stop-color="#00a3be"/><stop offset="0.7485" stop-color="#0099dd"/><stop offset="0.7488" stop-color="#0077dd"/><stop offset="0.7491" stop-color="#0000dd"/><stop offset="0.7493" stop-color="#0000c9"/><stop offset="0.7571" stop-color="#0000c9"/><stop offset="0.7573" stop-color="#0000dd"/><stop offset="0.7576" stop-color="#0077dd"/><stop offset="0.7580" stop-color="#0099dd"/><stop offset="0.7581" stop-color="#00a0c9"/><stop offset="0.7633" stop-color="#00a0c9"/><stop offset="0.7635" stop-color="#0099dd"/><stop offset="0.7638" stop-color="#0077dd"/><stop offset="0.7641" stop-color="#0000dd"/><stop offset="0.7643" stop-color="#0000c9"/><stop offset="0.7699" stop-color="#0000c9"/><stop offset="0.7701" stop-color="#0000dd"/><stop offset="0.7704" stop-color="#0077dd"/><stop offset="0.7708" stop-color="#0099dd"/><stop offset="0.7709" stop-color="#009cd3"/><stop offset="0.7784" stop-color="#009cd3"/><stop offset="0.7784" stop-color="#0099dd"/><stop offset="0.7788" stop-color="#0077dd"/><stop offset="0.7792" stop-color="#0000dd"/><stop offset="0.7793" stop-color="#0000c9"/><stop offset="0.7840" stop-color="#0000c9"/><stop offset="0.7842" stop-color="#0000dd"/><stop offset="0.7848" stop-color="#0077dd"/><stop offset="0.7849" stop-color="#007edd"/><stop offset="0.7883" stop-color="#007edd"/><stop offset="0.7884" stop-color="#0077dd"/><stop offset="0.7890" stop-color="#0000dd"/><stop offset="0.7893" stop-color="#0000c9"/><stop offset="0.7943" stop-color="#0000c9"/><stop offset="0.7944" stop-color="#0000dd"/><stop offset="0.7948" stop-color="#0077dd"/><stop offset="0.7951" stop-color="#0099dd"/><stop offset="0.7953" stop-color="#00a3be"/><stop offset="0.8013" stop-color="#00a3be"/><stop offset="0.8014" stop-color="#0099dd"/><stop offset="0.8017" stop-color="#0077dd"/><stop offset="0.8021" stop-color="#0000dd"/><stop offset="0.8022" stop-color="#0000c3"/><stop offset="0.8084" stop-color="#0000aa"/><stop offset="0.8097" stop-color="#0300aa"/><stop offset="0.8107" stop-color="#880099"/><stop offset="0.8137" stop-color="#880099"/><stop offset="0.8146" stop-color="#0f00a8"/><stop offset="0.8197" stop-color="#1b00a7"/><stop offset="0.8213" stop-color="#880099"/><stop offset="0.8233" stop-color="#770088"/><stop offset="0.8234" stop-color="#700080"/><stop offset="0.8497" stop-color="#620070"/><stop offset="0.8872" stop-color="#51005c"/><stop offset="0.9248" stop-color="#400049"/><stop offset="0.9511" stop-color="#300036"/><stop offset="0.9811" stop-color="#1d0021"/><stop offset="0.9999" stop-color="#140017"/></linearGradient><linearGradient id="gL16" gradientUnits="userSpaceOnUse" x1="48.7" y1="0" x2="315.0" y2="0"><stop offset="0.0000" stop-color="#770088"/><stop offset="0.0027" stop-color="#770088"/><stop offset="0.0042" stop-color="#140017"/><stop offset="0.1926" stop-color="#140017"/><stop offset="0.2001" stop-color="#18001b"/><stop offset="0.2077" stop-color="#3c0044"/><stop offset="0.2123" stop-color="#770088"/><stop offset="0.2133" stop-color="#79008a"/><stop offset="0.2189" stop-color="#800090"/><stop offset="0.2283" stop-color="#830094"/><stop offset="0.2292" stop-color="#880099"/><stop offset="0.2321" stop-color="#0000aa"/><stop offset="0.2358" stop-color="#0000dd"/><stop offset="0.2433" stop-color="#0047dd"/><stop offset="0.2483" stop-color="#0077dd"/><stop offset="0.2508" stop-color="#007edd"/><stop offset="0.2621" stop-color="#008fdd"/><stop offset="0.2709" stop-color="#0099dd"/><stop offset="0.2752" stop-color="#009cd5"/><stop offset="0.2903" stop-color="#00a3be"/><stop offset="0.3240" stop-color="#00aaaa"/><stop offset="0.3916" stop-color="#00aa99"/><stop offset="0.4142" stop-color="#00aa88"/><stop offset="0.4254" stop-color="#009c1b"/><stop offset="0.4273" stop-color="#009900"/><stop offset="0.4348" stop-color="#00b400"/><stop offset="0.4404" stop-color="#00ad00"/><stop offset="0.4480" stop-color="#00a000"/><stop offset="0.4705" stop-color="#00bb00"/><stop offset="0.5193" stop-color="#00be00"/><stop offset="0.5216" stop-color="#00bb00"/><stop offset="0.5381" stop-color="#00a300"/><stop offset="0.5493" stop-color="#009c00"/><stop offset="0.5531" stop-color="#009900"/><stop offset="0.5606" stop-color="#009c1b"/><stop offset="0.5756" stop-color="#00aa88"/><stop offset="0.5981" stop-color="#00aaa3"/><stop offset="0.6019" stop-color="#00aaaa"/><stop offset="0.6132" stop-color="#00a0c9"/><stop offset="0.6282" stop-color="#0099dd"/><stop offset="0.6357" stop-color="#0092dd"/><stop offset="0.6545" stop-color="#0077dd"/><stop offset="0.6695" stop-color="#0030dd"/><stop offset="0.6795" stop-color="#0000dd"/><stop offset="0.6845" stop-color="#0000d3"/><stop offset="0.7408" stop-color="#0000c9"/><stop offset="0.7414" stop-color="#0000c9"/><stop offset="0.7415" stop-color="#0000dd"/><stop offset="0.7418" stop-color="#0077dd"/><stop offset="0.7421" stop-color="#0099dd"/><stop offset="0.7423" stop-color="#00a3be"/><stop offset="0.7483" stop-color="#00a3be"/><stop offset="0.7485" stop-color="#0099dd"/><stop offset="0.7488" stop-color="#0077dd"/><stop offset="0.7491" stop-color="#0000dd"/><stop offset="0.7493" stop-color="#0000c9"/><stop offset="0.7571" stop-color="#0000c9"/><stop offset="0.7573" stop-color="#0000dd"/><stop offset="0.7576" stop-color="#0077dd"/><stop offset="0.7580" stop-color="#0099dd"/><stop offset="0.7581" stop-color="#00a0c9"/><stop offset="0.7633" stop-color="#00a0c9"/><stop offset="0.7635" stop-color="#0099dd"/><stop offset="0.7638" stop-color="#0077dd"/><stop offset="0.7641" stop-color="#0000dd"/><stop offset="0.7643" stop-color="#0000c9"/><stop offset="0.7699" stop-color="#0000c9"/><stop offset="0.7701" stop-color="#0000dd"/><stop offset="0.7704" stop-color="#0077dd"/><stop offset="0.7708" stop-color="#0099dd"/><stop offset="0.7709" stop-color="#009cd3"/><stop offset="0.7784" stop-color="#009cd3"/><stop offset="0.7784" stop-color="#0099dd"/><stop offset="0.7788" stop-color="#0077dd"/><stop offset="0.7792" stop-color="#0000dd"/><stop offset="0.7793" stop-color="#0000c9"/><stop offset="0.7840" stop-color="#0000c9"/><stop offset="0.7842" stop-color="#0000dd"/><stop offset="0.7848" stop-color="#0077dd"/><stop offset="0.7849" stop-color="#007edd"/><stop offset="0.7883" stop-color="#007edd"/><stop offset="0.7884" stop-color="#0077dd"/><stop offset="0.7890" stop-color="#0000dd"/><stop offset="0.7893" stop-color="#0000c9"/><stop offset="0.7943" stop-color="#0000c9"/><stop offset="0.7944" stop-color="#0000dd"/><stop offset="0.7948" stop-color="#0077dd"/><stop offset="0.7951" stop-color="#0099dd"/><stop offset="0.7953" stop-color="#00a3be"/><stop offset="0.8013" stop-color="#00a3be"/><stop offset="0.8014" stop-color="#0099dd"/><stop offset="0.8017" stop-color="#0077dd"/><stop offset="0.8021" stop-color="#0000dd"/><stop offset="0.8022" stop-color="#0000c3"/><stop offset="0.8084" stop-color="#0000aa"/><stop offset="0.8097" stop-color="#0300aa"/><stop offset="0.8107" stop-color="#880099"/><stop offset="0.8137" stop-color="#880099"/><stop offset="0.8146" stop-color="#0f00a8"/><stop offset="0.8197" stop-color="#1b00a7"/><stop offset="0.8213" stop-color="#880099"/><stop offset="0.8233" stop-color="#770088"/><stop offset="0.8234" stop-color="#700080"/><stop offset="0.8497" stop-color="#620070"/><stop offset="0.8872" stop-color="#51005c"/><stop offset="0.9248" stop-color="#400049"/><stop offset="0.9511" stop-color="#300036"/><stop offset="0.9811" stop-color="#1d0021"/><stop offset="0.9999" stop-color="#140017"/></linearGradient><linearGradient id="gL17" gradientUnits="userSpaceOnUse" x1="48.7" y1="0" x2="315.0" y2="0"><stop offset="0.0000" stop-color="#770088"/><stop offset="0.0027" stop-color="#770088"/><stop offset="0.0042" stop-color="#140017"/><stop offset="0.1926" stop-color="#140017"/><stop offset="0.2001" stop-color="#18001b"/><stop offset="0.2077" stop-color="#3c0044"/><stop offset="0.2123" stop-color="#770088"/><stop offset="0.2133" stop-color="#79008a"/><stop offset="0.2189" stop-color="#800090"/><stop offset="0.2283" stop-color="#830094"/><stop offset="0.2292" stop-color="#880099"/><stop offset="0.2321" stop-color="#0000aa"/><stop offset="0.2358" stop-color="#0000dd"/><stop offset="0.2433" stop-color="#0047dd"/><stop offset="0.2483" stop-color="#0077dd"/><stop offset="0.2508" stop-color="#007edd"/><stop offset="0.2621" stop-color="#008fdd"/><stop offset="0.2709" stop-color="#0099dd"/><stop offset="0.2752" stop-color="#009cd5"/><stop offset="0.2903" stop-color="#00a3be"/><stop offset="0.3240" stop-color="#00aaaa"/><stop offset="0.3654" stop-color="#00aa99"/><stop offset="0.3879" stop-color="#00aa88"/><stop offset="0.3991" stop-color="#009c1b"/><stop offset="0.4010" stop-color="#009900"/><stop offset="0.4085" stop-color="#00b400"/><stop offset="0.4142" stop-color="#00ad00"/><stop offset="0.4217" stop-color="#00a000"/><stop offset="0.4442" stop-color="#00bb00"/><stop offset="0.5193" stop-color="#00be00"/><stop offset="0.5216" stop-color="#00bb00"/><stop offset="0.5381" stop-color="#00a300"/><stop offset="0.5493" stop-color="#009c00"/><stop offset="0.5531" stop-color="#009900"/><stop offset="0.5606" stop-color="#009c1b"/><stop offset="0.5756" stop-color="#00aa88"/><stop offset="0.5981" stop-color="#00aaa3"/><stop offset="0.6019" stop-color="#00aaaa"/><stop offset="0.6132" stop-color="#00a0c9"/><stop offset="0.6282" stop-color="#0099dd"/><stop offset="0.6357" stop-color="#0092dd"/><stop offset="0.6545" stop-color="#0077dd"/><stop offset="0.6695" stop-color="#0030dd"/><stop offset="0.6795" stop-color="#0000dd"/><stop offset="0.6845" stop-color="#0000d3"/><stop offset="0.7408" stop-color="#0000c9"/><stop offset="0.7414" stop-color="#0000c9"/><stop offset="0.7415" stop-color="#0000dd"/><stop offset="0.7418" stop-color="#0077dd"/><stop offset="0.7421" stop-color="#0099dd"/><stop offset="0.7423" stop-color="#00a3be"/><stop offset="0.7483" stop-color="#00a3be"/><stop offset="0.7485" stop-color="#0099dd"/><stop offset="0.7488" stop-color="#0077dd"/><stop offset="0.7491" stop-color="#0000dd"/><stop offset="0.7493" stop-color="#0000c9"/><stop offset="0.7571" stop-color="#0000c9"/><stop offset="0.7573" stop-color="#0000dd"/><stop offset="0.7576" stop-color="#0077dd"/><stop offset="0.7580" stop-color="#0099dd"/><stop offset="0.7581" stop-color="#00a0c9"/><stop offset="0.7633" stop-color="#00a0c9"/><stop offset="0.7635" stop-color="#0099dd"/><stop offset="0.7638" stop-color="#0077dd"/><stop offset="0.7641" stop-color="#0000dd"/><stop offset="0.7643" stop-color="#0000c9"/><stop offset="0.7699" stop-color="#0000c9"/><stop offset="0.7701" stop-color="#0000dd"/><stop offset="0.7704" stop-color="#0077dd"/><stop offset="0.7708" stop-color="#0099dd"/><stop offset="0.7709" stop-color="#009cd3"/><stop offset="0.7784" stop-color="#009cd3"/><stop offset="0.7784" stop-color="#0099dd"/><stop offset="0.7788" stop-color="#0077dd"/><stop offset="0.7792" stop-color="#0000dd"/><stop offset="0.7793" stop-color="#0000c9"/><stop offset="0.7840" stop-color="#0000c9"/><stop offset="0.7842" stop-color="#0000dd"/><stop offset="0.7848" stop-color="#0077dd"/><stop offset="0.7849" stop-color="#007edd"/><stop offset="0.7883" stop-color="#007edd"/><stop offset="0.7884" stop-color="#0077dd"/><stop offset="0.7890" stop-color="#0000dd"/><stop offset="0.7893" stop-color="#0000c9"/><stop offset="0.7943" stop-color="#0000c9"/><stop offset="0.7944" stop-color="#0000dd"/><stop offset="0.7948" stop-color="#0077dd"/><stop offset="0.7951" stop-color="#0099dd"/><stop offset="0.7953" stop-color="#00a3be"/><stop offset="0.8013" stop-color="#00a3be"/><stop offset="0.8014" stop-color="#0099dd"/><stop offset="0.8017" stop-color="#0077dd"/><stop offset="0.8021" stop-color="#0000dd"/><stop offset="0.8022" stop-color="#0000c3"/><stop offset="0.8084" stop-color="#0000aa"/><stop offset="0.8097" stop-color="#0300aa"/><stop offset="0.8107" stop-color="#880099"/><stop offset="0.8137" stop-color="#880099"/><stop offset="0.8146" stop-color="#0f00a8"/><stop offset="0.8197" stop-color="#1b00a7"/><stop offset="0.8213" stop-color="#880099"/><stop offset="0.8233" stop-color="#770088"/><stop offset="0.8234" stop-color="#700080"/><stop offset="0.8497" stop-color="#620070"/><stop offset="0.8872" stop-color="#51005c"/><stop offset="0.9248" stop-color="#400049"/><stop offset="0.9511" stop-color="#300036"/><stop offset="0.9811" stop-color="#1d0021"/><stop offset="0.9999" stop-color="#140017"/></linearGradient><linearGradient id="gL18" gradientUnits="userSpaceOnUse" x1="48.7" y1="0" x2="315.0" y2="0"><stop offset="0.0000" stop-color="#770088"/><stop offset="0.0027" stop-color="#770088"/><stop offset="0.0042" stop-color="#140017"/><stop offset="0.1926" stop-color="#140017"/><stop offset="0.2001" stop-color="#18001b"/><stop offset="0.2077" stop-color="#3c0044"/><stop offset="0.2123" stop-color="#770088"/><stop offset="0.2133" stop-color="#79008a"/><stop offset="0.2189" stop-color="#800090"/><stop offset="0.2283" stop-color="#830094"/><stop offset="0.2292" stop-color="#880099"/><stop offset="0.2321" stop-color="#0000aa"/><stop offset="0.2358" stop-color="#0000dd"/><stop offset="0.2433" stop-color="#0047dd"/><stop offset="0.2483" stop-color="#0077dd"/><stop offset="0.2508" stop-color="#007edd"/><stop offset="0.2621" stop-color="#008fdd"/><stop offset="0.2709" stop-color="#0099dd"/><stop offset="0.2752" stop-color="#009cd5"/><stop offset="0.2903" stop-color="#00a3be"/><stop offset="0.3240" stop-color="#00aaaa"/><stop offset="0.3654" stop-color="#00aa99"/><stop offset="0.3879" stop-color="#00aa88"/><stop offset="0.3991" stop-color="#009c1b"/><stop offset="0.4005" stop-color="#009900"/><stop offset="0.4072" stop-color="#00bb00"/><stop offset="0.4085" stop-color="#00c200"/><stop offset="0.4142" stop-color="#00bb00"/><stop offset="0.4217" stop-color="#00ad00"/><stop offset="0.4329" stop-color="#00bb00"/><stop offset="0.4442" stop-color="#00c900"/><stop offset="0.5193" stop-color="#00cc00"/><stop offset="0.5310" stop-color="#00bb00"/><stop offset="0.5381" stop-color="#00b100"/><stop offset="0.5493" stop-color="#009c00"/><stop offset="0.5531" stop-color="#009900"/><stop offset="0.5606" stop-color="#009c1b"/><stop offset="0.5756" stop-color="#00aa88"/><stop offset="0.5981" stop-color="#00aaa3"/><stop offset="0.6019" stop-color="#00aaaa"/><stop offset="0.6132" stop-color="#00a0c9"/><stop offset="0.6282" stop-color="#0099dd"/><stop offset="0.6357" stop-color="#0092dd"/><stop offset="0.6545" stop-color="#0077dd"/><stop offset="0.6695" stop-color="#0030dd"/><stop offset="0.6795" stop-color="#0000dd"/><stop offset="0.6845" stop-color="#0000d3"/><stop offset="0.7408" stop-color="#0000c9"/><stop offset="0.7414" stop-color="#0000c9"/><stop offset="0.7415" stop-color="#0000dd"/><stop offset="0.7418" stop-color="#0077dd"/><stop offset="0.7421" stop-color="#0099dd"/><stop offset="0.7423" stop-color="#00a3be"/><stop offset="0.7483" stop-color="#00a3be"/><stop offset="0.7485" stop-color="#0099dd"/><stop offset="0.7488" stop-color="#0077dd"/><stop offset="0.7491" stop-color="#0000dd"/><stop offset="0.7493" stop-color="#0000c9"/><stop offset="0.7571" stop-color="#0000c9"/><stop offset="0.7573" stop-color="#0000dd"/><stop offset="0.7576" stop-color="#0077dd"/><stop offset="0.7580" stop-color="#0099dd"/><stop offset="0.7581" stop-color="#00a0c9"/><stop offset="0.7633" stop-color="#00a0c9"/><stop offset="0.7635" stop-color="#0099dd"/><stop offset="0.7638" stop-color="#0077dd"/><stop offset="0.7641" stop-color="#0000dd"/><stop offset="0.7643" stop-color="#0000c9"/><stop offset="0.7699" stop-color="#0000c9"/><stop offset="0.7701" stop-color="#0000dd"/><stop offset="0.7704" stop-color="#0077dd"/><stop offset="0.7708" stop-color="#0099dd"/><stop offset="0.7709" stop-color="#009cd3"/><stop offset="0.7784" stop-color="#009cd3"/><stop offset="0.7784" stop-color="#0099dd"/><stop offset="0.7788" stop-color="#0077dd"/><stop offset="0.7792" stop-color="#0000dd"/><stop offset="0.7793" stop-color="#0000c9"/><stop offset="0.7840" stop-color="#0000c9"/><stop offset="0.7842" stop-color="#0000dd"/><stop offset="0.7848" stop-color="#0077dd"/><stop offset="0.7849" stop-color="#007edd"/><stop offset="0.7883" stop-color="#007edd"/><stop offset="0.7884" stop-color="#0077dd"/><stop offset="0.7890" stop-color="#0000dd"/><stop offset="0.7893" stop-color="#0000c9"/><stop offset="0.7943" stop-color="#0000c9"/><stop offset="0.7944" stop-color="#0000dd"/><stop offset="0.7948" stop-color="#0077dd"/><stop offset="0.7951" stop-color="#0099dd"/><stop offset="0.7953" stop-color="#00a3be"/><stop offset="0.8013" stop-color="#00a3be"/><stop offset="0.8014" stop-color="#0099dd"/><stop offset="0.8017" stop-color="#0077dd"/><stop offset="0.8021" stop-color="#0000dd"/><stop offset="0.8022" stop-color="#0000c3"/><stop offset="0.8084" stop-color="#0000aa"/><stop offset="0.8097" stop-color="#0300aa"/><stop offset="0.8107" stop-color="#880099"/><stop offset="0.8137" stop-color="#880099"/><stop offset="0.8146" stop-color="#0f00a8"/><stop offset="0.8197" stop-color="#1b00a7"/><stop offset="0.8213" stop-color="#880099"/><stop offset="0.8233" stop-color="#770088"/><stop offset="0.8234" stop-color="#700080"/><stop offset="0.8497" stop-color="#620070"/><stop offset="0.8872" stop-color="#51005c"/><stop offset="0.9248" stop-color="#400049"/><stop offset="0.9511" stop-color="#300036"/><stop offset="0.9811" stop-color="#1d0021"/><stop offset="0.9999" stop-color="#140017"/></linearGradient><linearGradient id="gL19" gradientUnits="userSpaceOnUse" x1="48.7" y1="0" x2="315.0" y2="0"><stop offset="0.0000" stop-color="#770088"/><stop offset="0.0027" stop-color="#770088"/><stop offset="0.0042" stop-color="#140017"/><stop offset="0.1157" stop-color="#140017"/><stop offset="0.1168" stop-color="#070008"/><stop offset="0.1281" stop-color="#070008"/><stop offset="0.1292" stop-color="#140017"/><stop offset="0.1656" stop-color="#140017"/><stop offset="0.1664" stop-color="#070008"/><stop offset="0.1701" stop-color="#070008"/><stop offset="0.1709" stop-color="#140017"/><stop offset="0.1889" stop-color="#140017"/><stop offset="0.1908" stop-color="#070008"/><stop offset="0.2133" stop-color="#070008"/><stop offset="0.2189" stop-color="#1f0023"/><stop offset="0.3053" stop-color="#2b0031"/><stop offset="0.3991" stop-color="#3c0044"/><stop offset="0.4742" stop-color="#3e0047"/><stop offset="0.5306" stop-color="#34003c"/><stop offset="0.6056" stop-color="#26002c"/><stop offset="0.7934" stop-color="#1f0023"/><stop offset="0.9436" stop-color="#18001b"/><stop offset="0.9999" stop-color="#18001b"/></linearGradient><linearGradient id="gL20" gradientUnits="userSpaceOnUse" x1="48.7" y1="0" x2="315.0" y2="0"><stop offset="0.0000" stop-color="#770088"/><stop offset="0.0027" stop-color="#770088"/><stop offset="0.0042" stop-color="#140017"/><stop offset="0.1870" stop-color="#140017"/><stop offset="0.1926" stop-color="#240029"/><stop offset="0.1994" stop-color="#770088"/><stop offset="0.2039" stop-color="#800090"/><stop offset="0.2084" stop-color="#850096"/><stop offset="0.2086" stop-color="#880099"/><stop offset="0.2098" stop-color="#0000aa"/><stop offset="0.2107" stop-color="#0000d3"/><stop offset="0.2120" stop-color="#0000dd"/><stop offset="0.2148" stop-color="#0030dd"/><stop offset="0.2159" stop-color="#0077dd"/><stop offset="0.2170" stop-color="#008bdd"/><stop offset="0.2200" stop-color="#0099dd"/><stop offset="0.2246" stop-color="#00a3be"/><stop offset="0.2256" stop-color="#00aaaa"/><stop offset="0.2283" stop-color="#00aa88"/><stop offset="0.2296" stop-color="#009900"/><stop offset="0.2308" stop-color="#00bb00"/><stop offset="0.2321" stop-color="#00dd00"/><stop offset="0.2377" stop-color="#00ff00"/><stop offset="0.2520" stop-color="#4bff00"/><stop offset="0.2596" stop-color="#bbff00"/><stop offset="0.2621" stop-color="#c5fc00"/><stop offset="0.2715" stop-color="#daf500"/><stop offset="0.3991" stop-color="#e9f000"/><stop offset="0.4036" stop-color="#eeee00"/><stop offset="0.4217" stop-color="#f5e000"/><stop offset="0.4705" stop-color="#f6de00"/><stop offset="0.4930" stop-color="#f0eb00"/><stop offset="0.4996" stop-color="#eeee00"/><stop offset="0.5193" stop-color="#dff300"/><stop offset="0.5456" stop-color="#bbff00"/><stop offset="0.5643" stop-color="#00ff00"/><stop offset="0.5906" stop-color="#00e700"/><stop offset="0.5958" stop-color="#00dd00"/><stop offset="0.6132" stop-color="#00bb00"/><stop offset="0.6394" stop-color="#00a300"/><stop offset="0.6462" stop-color="#009900"/><stop offset="0.6507" stop-color="#009c1b"/><stop offset="0.6607" stop-color="#00aa88"/><stop offset="0.6657" stop-color="#00aa96"/><stop offset="0.6883" stop-color="#00aaaa"/><stop offset="0.6958" stop-color="#00a7b4"/><stop offset="0.7296" stop-color="#0099dd"/><stop offset="0.7446" stop-color="#0092dd"/><stop offset="0.7560" stop-color="#0092dd"/><stop offset="0.7564" stop-color="#0077dd"/><stop offset="0.7570" stop-color="#0000dd"/><stop offset="0.7600" stop-color="#0000dd"/><stop offset="0.7605" stop-color="#0077dd"/><stop offset="0.7609" stop-color="#0092dd"/><stop offset="0.7819" stop-color="#0092dd"/><stop offset="0.7823" stop-color="#0077dd"/><stop offset="0.7829" stop-color="#0000dd"/><stop offset="0.7859" stop-color="#0000dd"/><stop offset="0.7864" stop-color="#0077dd"/><stop offset="0.7868" stop-color="#0092dd"/><stop offset="0.7936" stop-color="#0092dd"/><stop offset="0.7940" stop-color="#0077dd"/><stop offset="0.7945" stop-color="#0000dd"/><stop offset="0.7975" stop-color="#0000dd"/><stop offset="0.7980" stop-color="#0077dd"/><stop offset="0.7985" stop-color="#0092dd"/><stop offset="0.8003" stop-color="#0092dd"/><stop offset="0.8007" stop-color="#0077dd"/><stop offset="0.8012" stop-color="#0000dd"/><stop offset="0.8013" stop-color="#0000d3"/><stop offset="0.8043" stop-color="#0000d3"/><stop offset="0.8044" stop-color="#0000dd"/><stop offset="0.8048" stop-color="#0077dd"/><stop offset="0.8052" stop-color="#0092dd"/><stop offset="0.8178" stop-color="#0092dd"/><stop offset="0.8199" stop-color="#0077dd"/><stop offset="0.8215" stop-color="#0030dd"/><stop offset="0.8221" stop-color="#0000dd"/><stop offset="0.8234" stop-color="#0000aa"/><stop offset="0.8246" stop-color="#880099"/><stop offset="0.8253" stop-color="#800090"/><stop offset="0.9060" stop-color="#7e008f"/><stop offset="0.9323" stop-color="#79008a"/><stop offset="0.9361" stop-color="#770088"/><stop offset="0.9548" stop-color="#3c0044"/><stop offset="0.9736" stop-color="#1d0021"/><stop offset="0.9999" stop-color="#140017"/></linearGradient><linearGradient id="gL21" gradientUnits="userSpaceOnUse" x1="48.7" y1="0" x2="315.0" y2="0"><stop offset="0.0000" stop-color="#770088"/><stop offset="0.0027" stop-color="#770088"/><stop offset="0.0042" stop-color="#140017"/><stop offset="0.1870" stop-color="#140017"/><stop offset="0.1926" stop-color="#240029"/><stop offset="0.1994" stop-color="#770088"/><stop offset="0.2039" stop-color="#800090"/><stop offset="0.2084" stop-color="#850096"/><stop offset="0.2086" stop-color="#880099"/><stop offset="0.2098" stop-color="#0000aa"/><stop offset="0.2107" stop-color="#0000d3"/><stop offset="0.2120" stop-color="#0000dd"/><stop offset="0.2148" stop-color="#0030dd"/><stop offset="0.2159" stop-color="#0077dd"/><stop offset="0.2170" stop-color="#008bdd"/><stop offset="0.2200" stop-color="#0099dd"/><stop offset="0.2246" stop-color="#00a3be"/><stop offset="0.2256" stop-color="#00aaaa"/><stop offset="0.2283" stop-color="#00aa88"/><stop offset="0.2296" stop-color="#009900"/><stop offset="0.2308" stop-color="#00bb00"/><stop offset="0.2321" stop-color="#00dd00"/><stop offset="0.2377" stop-color="#00ff00"/><stop offset="0.2520" stop-color="#4bff00"/><stop offset="0.2596" stop-color="#bbff00"/><stop offset="0.2621" stop-color="#c5fc00"/><stop offset="0.2715" stop-color="#daf500"/><stop offset="0.3991" stop-color="#e9f000"/><stop offset="0.4036" stop-color="#eeee00"/><stop offset="0.4217" stop-color="#f5e000"/><stop offset="0.4705" stop-color="#f6de00"/><stop offset="0.4930" stop-color="#f0eb00"/><stop offset="0.4996" stop-color="#eeee00"/><stop offset="0.5193" stop-color="#dff300"/><stop offset="0.5456" stop-color="#bbff00"/><stop offset="0.5643" stop-color="#00ff00"/><stop offset="0.5906" stop-color="#00e700"/><stop offset="0.5958" stop-color="#00dd00"/><stop offset="0.6132" stop-color="#00bb00"/><stop offset="0.6394" stop-color="#00a300"/><stop offset="0.6462" stop-color="#009900"/><stop offset="0.6507" stop-color="#009c1b"/><stop offset="0.6607" stop-color="#00aa88"/><stop offset="0.6657" stop-color="#00aa96"/><stop offset="0.6883" stop-color="#00aaaa"/><stop offset="0.6958" stop-color="#00a7b4"/><stop offset="0.7296" stop-color="#0099dd"/><stop offset="0.7446" stop-color="#0092dd"/><stop offset="0.7560" stop-color="#0092dd"/><stop offset="0.7564" stop-color="#0077dd"/><stop offset="0.7570" stop-color="#0000dd"/><stop offset="0.7600" stop-color="#0000dd"/><stop offset="0.7605" stop-color="#0077dd"/><stop offset="0.7609" stop-color="#0092dd"/><stop offset="0.7819" stop-color="#0092dd"/><stop offset="0.7823" stop-color="#0077dd"/><stop offset="0.7829" stop-color="#0000dd"/><stop offset="0.7859" stop-color="#0000dd"/><stop offset="0.7864" stop-color="#0077dd"/><stop offset="0.7868" stop-color="#0092dd"/><stop offset="0.7936" stop-color="#0092dd"/><stop offset="0.7940" stop-color="#0077dd"/><stop offset="0.7945" stop-color="#0000dd"/><stop offset="0.7975" stop-color="#0000dd"/><stop offset="0.7980" stop-color="#0077dd"/><stop offset="0.7985" stop-color="#0092dd"/><stop offset="0.8003" stop-color="#0092dd"/><stop offset="0.8007" stop-color="#0077dd"/><stop offset="0.8012" stop-color="#0000dd"/><stop offset="0.8013" stop-color="#0000d3"/><stop offset="0.8043" stop-color="#0000d3"/><stop offset="0.8044" stop-color="#0000dd"/><stop offset="0.8048" stop-color="#0077dd"/><stop offset="0.8052" stop-color="#0092dd"/><stop offset="0.8178" stop-color="#0092dd"/><stop offset="0.8199" stop-color="#0077dd"/><stop offset="0.8215" stop-color="#0030dd"/><stop offset="0.8221" stop-color="#0000dd"/><stop offset="0.8234" stop-color="#0000aa"/><stop offset="0.8246" stop-color="#880099"/><stop offset="0.8253" stop-color="#800090"/><stop offset="0.9060" stop-color="#7e008f"/><stop offset="0.9323" stop-color="#79008a"/><stop offset="0.9361" stop-color="#770088"/><stop offset="0.9548" stop-color="#3c0044"/><stop offset="0.9736" stop-color="#1d0021"/><stop offset="0.9999" stop-color="#140017"/></linearGradient><linearGradient id="gR0" gradientUnits="userSpaceOnUse" x1="328.9" y1="0" x2="595.0" y2="0"><stop offset="0.0000" stop-color="#770088"/><stop offset="0.0027" stop-color="#770088"/><stop offset="0.0042" stop-color="#040005"/><stop offset="0.1910" stop-color="#040005"/><stop offset="0.1948" stop-color="#240029"/><stop offset="0.1986" stop-color="#770088"/><stop offset="0.2042" stop-color="#810092"/><stop offset="0.2072" stop-color="#850096"/><stop offset="0.2074" stop-color="#880099"/><stop offset="0.2086" stop-color="#0000aa"/><stop offset="0.2095" stop-color="#0000d3"/><stop offset="0.2108" stop-color="#0000dd"/><stop offset="0.2136" stop-color="#0030dd"/><stop offset="0.2147" stop-color="#0077dd"/><stop offset="0.2166" stop-color="#0099dd"/><stop offset="0.2229" stop-color="#00aaaa"/><stop offset="0.2241" stop-color="#00aaa3"/><stop offset="0.2258" stop-color="#00aa88"/><stop offset="0.2279" stop-color="#009900"/><stop offset="0.2293" stop-color="#00bb00"/><stop offset="0.2308" stop-color="#00dd00"/><stop offset="0.2317" stop-color="#00f100"/><stop offset="0.2418" stop-color="#00ff00"/><stop offset="0.2568" stop-color="#5dff00"/><stop offset="0.2636" stop-color="#bbff00"/><stop offset="0.2662" stop-color="#c5fc00"/><stop offset="0.2756" stop-color="#daf500"/><stop offset="0.3621" stop-color="#e4f100"/><stop offset="0.3753" stop-color="#eeee00"/><stop offset="0.3885" stop-color="#f1e700"/><stop offset="0.4110" stop-color="#f5df00"/><stop offset="0.4486" stop-color="#f5df00"/><stop offset="0.4787" stop-color="#eeee00"/><stop offset="0.5107" stop-color="#cafa00"/><stop offset="0.5184" stop-color="#bbff00"/><stop offset="0.5313" stop-color="#5dff00"/><stop offset="0.5539" stop-color="#00ff00"/><stop offset="0.5877" stop-color="#00eb00"/><stop offset="0.6028" stop-color="#00dd00"/><stop offset="0.6253" stop-color="#00c900"/><stop offset="0.6366" stop-color="#00bb00"/><stop offset="0.6479" stop-color="#00ad00"/><stop offset="0.6592" stop-color="#009900"/><stop offset="0.6705" stop-color="#00aa88"/><stop offset="0.6930" stop-color="#00aaaa"/><stop offset="0.7194" stop-color="#009cd3"/><stop offset="0.7288" stop-color="#0099dd"/><stop offset="0.7382" stop-color="#0092dd"/><stop offset="0.7429" stop-color="#0091dd"/><stop offset="0.7431" stop-color="#0099dd"/><stop offset="0.7438" stop-color="#00a3be"/><stop offset="0.7476" stop-color="#00a3be"/><stop offset="0.7482" stop-color="#0099dd"/><stop offset="0.7485" stop-color="#0090dd"/><stop offset="0.7571" stop-color="#008fdd"/><stop offset="0.7575" stop-color="#0077dd"/><stop offset="0.7581" stop-color="#0000dd"/><stop offset="0.7611" stop-color="#0000dd"/><stop offset="0.7616" stop-color="#0077dd"/><stop offset="0.7620" stop-color="#008edd"/><stop offset="0.7692" stop-color="#008ddd"/><stop offset="0.7695" stop-color="#0099dd"/><stop offset="0.7701" stop-color="#00a3be"/><stop offset="0.7739" stop-color="#00a3be"/><stop offset="0.7744" stop-color="#0099dd"/><stop offset="0.7748" stop-color="#008cdd"/><stop offset="0.7831" stop-color="#008add"/><stop offset="0.7834" stop-color="#0077dd"/><stop offset="0.7840" stop-color="#0000dd"/><stop offset="0.7870" stop-color="#0000dd"/><stop offset="0.7876" stop-color="#0077dd"/><stop offset="0.7880" stop-color="#008add"/><stop offset="0.7947" stop-color="#0088dd"/><stop offset="0.7953" stop-color="#0099dd"/><stop offset="0.7957" stop-color="#00a0c9"/><stop offset="0.7987" stop-color="#00a0c9"/><stop offset="0.7991" stop-color="#0099dd"/><stop offset="0.7996" stop-color="#0088dd"/><stop offset="0.8015" stop-color="#0087dd"/><stop offset="0.8018" stop-color="#0077dd"/><stop offset="0.8025" stop-color="#0000dd"/><stop offset="0.8055" stop-color="#0000dd"/><stop offset="0.8061" stop-color="#0077dd"/><stop offset="0.8064" stop-color="#0086dd"/><stop offset="0.8105" stop-color="#0086dd"/><stop offset="0.8111" stop-color="#0099dd"/><stop offset="0.8115" stop-color="#00a0c9"/><stop offset="0.8152" stop-color="#00a0c9"/><stop offset="0.8156" stop-color="#0099dd"/><stop offset="0.8162" stop-color="#0085dd"/><stop offset="0.8171" stop-color="#0085dd"/><stop offset="0.8196" stop-color="#0077dd"/><stop offset="0.8259" stop-color="#0000dd"/><stop offset="0.8284" stop-color="#0000c9"/><stop offset="0.8510" stop-color="#0000b9"/><stop offset="0.9074" stop-color="#0000af"/><stop offset="0.9174" stop-color="#0000aa"/><stop offset="0.9374" stop-color="#1b00a7"/><stop offset="0.9412" stop-color="#880099"/><stop offset="0.9431" stop-color="#810092"/><stop offset="0.9638" stop-color="#7e008f"/><stop offset="0.9738" stop-color="#770088"/><stop offset="0.9788" stop-color="#5f006d"/><stop offset="0.9938" stop-color="#240029"/><stop offset="1.0000" stop-color="#040005"/></linearGradient><linearGradient id="gR1" gradientUnits="userSpaceOnUse" x1="328.9" y1="0" x2="595.0" y2="0"><stop offset="0.0000" stop-color="#770088"/><stop offset="0.0027" stop-color="#770088"/><stop offset="0.0042" stop-color="#040005"/><stop offset="0.1910" stop-color="#040005"/><stop offset="0.1948" stop-color="#240029"/><stop offset="0.1986" stop-color="#770088"/><stop offset="0.2042" stop-color="#810092"/><stop offset="0.2072" stop-color="#850096"/><stop offset="0.2074" stop-color="#880099"/><stop offset="0.2086" stop-color="#0000aa"/><stop offset="0.2095" stop-color="#0000d3"/><stop offset="0.2108" stop-color="#0000dd"/><stop offset="0.2136" stop-color="#0030dd"/><stop offset="0.2147" stop-color="#0077dd"/><stop offset="0.2166" stop-color="#0099dd"/><stop offset="0.2229" stop-color="#00aaaa"/><stop offset="0.2241" stop-color="#00aaa3"/><stop offset="0.2258" stop-color="#00aa88"/><stop offset="0.2279" stop-color="#009900"/><stop offset="0.2293" stop-color="#00bb00"/><stop offset="0.2308" stop-color="#00dd00"/><stop offset="0.2317" stop-color="#00f100"/><stop offset="0.2418" stop-color="#00ff00"/><stop offset="0.2568" stop-color="#5dff00"/><stop offset="0.2636" stop-color="#bbff00"/><stop offset="0.2662" stop-color="#c5fc00"/><stop offset="0.2756" stop-color="#daf500"/><stop offset="0.3621" stop-color="#e4f100"/><stop offset="0.3753" stop-color="#eeee00"/><stop offset="0.3885" stop-color="#f1e700"/><stop offset="0.4110" stop-color="#f5df00"/><stop offset="0.4486" stop-color="#f5df00"/><stop offset="0.4787" stop-color="#eeee00"/><stop offset="0.5107" stop-color="#cafa00"/><stop offset="0.5184" stop-color="#bbff00"/><stop offset="0.5313" stop-color="#5dff00"/><stop offset="0.5539" stop-color="#00ff00"/><stop offset="0.5877" stop-color="#00eb00"/><stop offset="0.6028" stop-color="#00dd00"/><stop offset="0.6253" stop-color="#00c900"/><stop offset="0.6366" stop-color="#00bb00"/><stop offset="0.6479" stop-color="#00ad00"/><stop offset="0.6592" stop-color="#009900"/><stop offset="0.6705" stop-color="#00aa88"/><stop offset="0.6930" stop-color="#00aaaa"/><stop offset="0.7194" stop-color="#009cd3"/><stop offset="0.7288" stop-color="#0099dd"/><stop offset="0.7382" stop-color="#0092dd"/><stop offset="0.7429" stop-color="#0091dd"/><stop offset="0.7431" stop-color="#0099dd"/><stop offset="0.7438" stop-color="#00a3be"/><stop offset="0.7476" stop-color="#00a3be"/><stop offset="0.7482" stop-color="#0099dd"/><stop offset="0.7485" stop-color="#0090dd"/><stop offset="0.7571" stop-color="#008fdd"/><stop offset="0.7575" stop-color="#0077dd"/><stop offset="0.7581" stop-color="#0000dd"/><stop offset="0.7611" stop-color="#0000dd"/><stop offset="0.7616" stop-color="#0077dd"/><stop offset="0.7620" stop-color="#008edd"/><stop offset="0.7692" stop-color="#008ddd"/><stop offset="0.7695" stop-color="#0099dd"/><stop offset="0.7701" stop-color="#00a3be"/><stop offset="0.7739" stop-color="#00a3be"/><stop offset="0.7744" stop-color="#0099dd"/><stop offset="0.7748" stop-color="#008cdd"/><stop offset="0.7831" stop-color="#008add"/><stop offset="0.7834" stop-color="#0077dd"/><stop offset="0.7840" stop-color="#0000dd"/><stop offset="0.7870" stop-color="#0000dd"/><stop offset="0.7876" stop-color="#0077dd"/><stop offset="0.7880" stop-color="#008add"/><stop offset="0.7947" stop-color="#0088dd"/><stop offset="0.7953" stop-color="#0099dd"/><stop offset="0.7957" stop-color="#00a0c9"/><stop offset="0.7987" stop-color="#00a0c9"/><stop offset="0.7991" stop-color="#0099dd"/><stop offset="0.7996" stop-color="#0088dd"/><stop offset="0.8015" stop-color="#0087dd"/><stop offset="0.8018" stop-color="#0077dd"/><stop offset="0.8025" stop-color="#0000dd"/><stop offset="0.8055" stop-color="#0000dd"/><stop offset="0.8061" stop-color="#0077dd"/><stop offset="0.8064" stop-color="#0086dd"/><stop offset="0.8105" stop-color="#0086dd"/><stop offset="0.8111" stop-color="#0099dd"/><stop offset="0.8115" stop-color="#00a0c9"/><stop offset="0.8152" stop-color="#00a0c9"/><stop offset="0.8156" stop-color="#0099dd"/><stop offset="0.8162" stop-color="#0085dd"/><stop offset="0.8171" stop-color="#0085dd"/><stop offset="0.8196" stop-color="#0077dd"/><stop offset="0.8259" stop-color="#0000dd"/><stop offset="0.8284" stop-color="#0000c9"/><stop offset="0.8510" stop-color="#0000b9"/><stop offset="0.9074" stop-color="#0000af"/><stop offset="0.9174" stop-color="#0000aa"/><stop offset="0.9374" stop-color="#1b00a7"/><stop offset="0.9412" stop-color="#880099"/><stop offset="0.9431" stop-color="#810092"/><stop offset="0.9638" stop-color="#7e008f"/><stop offset="0.9738" stop-color="#770088"/><stop offset="0.9788" stop-color="#5f006d"/><stop offset="0.9938" stop-color="#240029"/><stop offset="1.0000" stop-color="#040005"/></linearGradient><linearGradient id="gR2" gradientUnits="userSpaceOnUse" x1="328.9" y1="0" x2="595.0" y2="0"><stop offset="0.0000" stop-color="#770088"/><stop offset="0.0027" stop-color="#770088"/><stop offset="0.0042" stop-color="#070008"/><stop offset="0.1929" stop-color="#070008"/><stop offset="0.2305" stop-color="#1a001e"/><stop offset="0.2869" stop-color="#300036"/><stop offset="0.3809" stop-color="#3e0047"/><stop offset="0.4561" stop-color="#43004c"/><stop offset="0.5125" stop-color="#3e0047"/><stop offset="0.5689" stop-color="#300036"/><stop offset="0.7194" stop-color="#26002c"/><stop offset="0.8322" stop-color="#1d0021"/><stop offset="0.9450" stop-color="#130016"/><stop offset="1.0000" stop-color="#130016"/></linearGradient><linearGradient id="gR3" gradientUnits="userSpaceOnUse" x1="328.9" y1="0" x2="595.0" y2="0"><stop offset="0.0000" stop-color="#770088"/><stop offset="0.0027" stop-color="#770088"/><stop offset="0.0042" stop-color="#040005"/><stop offset="0.1929" stop-color="#040005"/><stop offset="0.2004" stop-color="#18001b"/><stop offset="0.2080" stop-color="#3c0044"/><stop offset="0.2127" stop-color="#770088"/><stop offset="0.2136" stop-color="#79008a"/><stop offset="0.2192" stop-color="#800090"/><stop offset="0.2286" stop-color="#830094"/><stop offset="0.2295" stop-color="#880099"/><stop offset="0.2324" stop-color="#0000aa"/><stop offset="0.2362" stop-color="#0000dd"/><stop offset="0.2437" stop-color="#0047dd"/><stop offset="0.2487" stop-color="#0077dd"/><stop offset="0.2512" stop-color="#007edd"/><stop offset="0.2625" stop-color="#008fdd"/><stop offset="0.2713" stop-color="#0099dd"/><stop offset="0.2756" stop-color="#009cd5"/><stop offset="0.2907" stop-color="#00a3be"/><stop offset="0.3245" stop-color="#00aaaa"/><stop offset="0.3885" stop-color="#00aa99"/><stop offset="0.4110" stop-color="#00aa88"/><stop offset="0.4223" stop-color="#009c1b"/><stop offset="0.4244" stop-color="#009900"/><stop offset="0.4317" stop-color="#00b100"/><stop offset="0.4373" stop-color="#00aa00"/><stop offset="0.4449" stop-color="#009c00"/><stop offset="0.4674" stop-color="#00b800"/><stop offset="0.5313" stop-color="#00bb00"/><stop offset="0.5501" stop-color="#00a000"/><stop offset="0.5614" stop-color="#009c00"/><stop offset="0.5652" stop-color="#009900"/><stop offset="0.5727" stop-color="#009c1b"/><stop offset="0.5877" stop-color="#00aa88"/><stop offset="0.6103" stop-color="#00aaa3"/><stop offset="0.6141" stop-color="#00aaaa"/><stop offset="0.6253" stop-color="#00a0c9"/><stop offset="0.6404" stop-color="#0099dd"/><stop offset="0.6479" stop-color="#0092dd"/><stop offset="0.6667" stop-color="#0077dd"/><stop offset="0.6817" stop-color="#0030dd"/><stop offset="0.6918" stop-color="#0000dd"/><stop offset="0.6968" stop-color="#0000d3"/><stop offset="0.7419" stop-color="#0000c9"/><stop offset="0.7444" stop-color="#0000c9"/><stop offset="0.7445" stop-color="#0000dd"/><stop offset="0.7448" stop-color="#0077dd"/><stop offset="0.7451" stop-color="#0099dd"/><stop offset="0.7453" stop-color="#00a3be"/><stop offset="0.7551" stop-color="#00a3be"/><stop offset="0.7553" stop-color="#0099dd"/><stop offset="0.7556" stop-color="#0077dd"/><stop offset="0.7559" stop-color="#0000dd"/><stop offset="0.7560" stop-color="#0000c9"/><stop offset="0.7598" stop-color="#0000c9"/><stop offset="0.7599" stop-color="#0000dd"/><stop offset="0.7602" stop-color="#0077dd"/><stop offset="0.7606" stop-color="#0099dd"/><stop offset="0.7607" stop-color="#00a0c9"/><stop offset="0.7712" stop-color="#00a0c9"/><stop offset="0.7714" stop-color="#0099dd"/><stop offset="0.7717" stop-color="#0077dd"/><stop offset="0.7720" stop-color="#0000dd"/><stop offset="0.7722" stop-color="#0000c9"/><stop offset="0.7733" stop-color="#0000c9"/><stop offset="0.7738" stop-color="#0000dd"/><stop offset="0.7743" stop-color="#0030dd"/><stop offset="0.7771" stop-color="#0030dd"/><stop offset="0.7774" stop-color="#0077dd"/><stop offset="0.7779" stop-color="#0099dd"/><stop offset="0.7780" stop-color="#009cd3"/><stop offset="0.7915" stop-color="#009cd3"/><stop offset="0.7916" stop-color="#0099dd"/><stop offset="0.7920" stop-color="#0077dd"/><stop offset="0.7923" stop-color="#0000dd"/><stop offset="0.7925" stop-color="#0000c9"/><stop offset="0.8021" stop-color="#0000c9"/><stop offset="0.8038" stop-color="#0000c2"/><stop offset="0.8040" stop-color="#0000dd"/><stop offset="0.8043" stop-color="#0077dd"/><stop offset="0.8046" stop-color="#0099dd"/><stop offset="0.8047" stop-color="#009cd3"/><stop offset="0.8115" stop-color="#009cd3"/><stop offset="0.8115" stop-color="#0099dd"/><stop offset="0.8118" stop-color="#0077dd"/><stop offset="0.8121" stop-color="#0000dd"/><stop offset="0.8124" stop-color="#0000aa"/><stop offset="0.8124" stop-color="#0700a9"/><stop offset="0.8209" stop-color="#1b00a7"/><stop offset="0.8223" stop-color="#880099"/><stop offset="0.8242" stop-color="#770088"/><stop offset="0.8246" stop-color="#580065"/><stop offset="0.8698" stop-color="#470052"/><stop offset="0.9262" stop-color="#390041"/><stop offset="0.9638" stop-color="#240029"/><stop offset="1.0000" stop-color="#040005"/></linearGradient><linearGradient id="gR4" gradientUnits="userSpaceOnUse" x1="328.9" y1="0" x2="595.0" y2="0"><stop offset="0.0000" stop-color="#770088"/><stop offset="0.0027" stop-color="#770088"/><stop offset="0.0042" stop-color="#040005"/><stop offset="0.1929" stop-color="#040005"/><stop offset="0.2004" stop-color="#18001b"/><stop offset="0.2080" stop-color="#3c0044"/><stop offset="0.2127" stop-color="#770088"/><stop offset="0.2136" stop-color="#79008a"/><stop offset="0.2192" stop-color="#800090"/><stop offset="0.2286" stop-color="#830094"/><stop offset="0.2295" stop-color="#880099"/><stop offset="0.2324" stop-color="#0000aa"/><stop offset="0.2362" stop-color="#0000dd"/><stop offset="0.2437" stop-color="#0047dd"/><stop offset="0.2487" stop-color="#0077dd"/><stop offset="0.2512" stop-color="#007edd"/><stop offset="0.2625" stop-color="#008fdd"/><stop offset="0.2713" stop-color="#0099dd"/><stop offset="0.2756" stop-color="#009cd5"/><stop offset="0.2907" stop-color="#00a3be"/><stop offset="0.3245" stop-color="#00aaaa"/><stop offset="0.3885" stop-color="#00aa99"/><stop offset="0.4110" stop-color="#00aa88"/><stop offset="0.4223" stop-color="#009c1b"/><stop offset="0.4244" stop-color="#009900"/><stop offset="0.4317" stop-color="#00b100"/><stop offset="0.4373" stop-color="#00aa00"/><stop offset="0.4449" stop-color="#009c00"/><stop offset="0.4674" stop-color="#00b800"/><stop offset="0.5313" stop-color="#00bb00"/><stop offset="0.5501" stop-color="#00a000"/><stop offset="0.5614" stop-color="#009c00"/><stop offset="0.5652" stop-color="#009900"/><stop offset="0.5727" stop-color="#009c1b"/><stop offset="0.5877" stop-color="#00aa88"/><stop offset="0.6103" stop-color="#00aaa3"/><stop offset="0.6141" stop-color="#00aaaa"/><stop offset="0.6253" stop-color="#00a0c9"/><stop offset="0.6404" stop-color="#0099dd"/><stop offset="0.6479" stop-color="#0092dd"/><stop offset="0.6667" stop-color="#0077dd"/><stop offset="0.6817" stop-color="#0030dd"/><stop offset="0.6918" stop-color="#0000dd"/><stop offset="0.6968" stop-color="#0000d3"/><stop offset="0.7419" stop-color="#0000c9"/><stop offset="0.7444" stop-color="#0000c9"/><stop offset="0.7445" stop-color="#0000dd"/><stop offset="0.7448" stop-color="#0077dd"/><stop offset="0.7451" stop-color="#0099dd"/><stop offset="0.7453" stop-color="#00a3be"/><stop offset="0.7551" stop-color="#00a3be"/><stop offset="0.7553" stop-color="#0099dd"/><stop offset="0.7556" stop-color="#0077dd"/><stop offset="0.7559" stop-color="#0000dd"/><stop offset="0.7560" stop-color="#0000c9"/><stop offset="0.7598" stop-color="#0000c9"/><stop offset="0.7599" stop-color="#0000dd"/><stop offset="0.7602" stop-color="#0077dd"/><stop offset="0.7606" stop-color="#0099dd"/><stop offset="0.7607" stop-color="#00a0c9"/><stop offset="0.7712" stop-color="#00a0c9"/><stop offset="0.7714" stop-color="#0099dd"/><stop offset="0.7717" stop-color="#0077dd"/><stop offset="0.7720" stop-color="#0000dd"/><stop offset="0.7722" stop-color="#0000c9"/><stop offset="0.7733" stop-color="#0000c9"/><stop offset="0.7738" stop-color="#0000dd"/><stop offset="0.7743" stop-color="#0030dd"/><stop offset="0.7771" stop-color="#0030dd"/><stop offset="0.7774" stop-color="#0077dd"/><stop offset="0.7779" stop-color="#0099dd"/><stop offset="0.7780" stop-color="#009cd3"/><stop offset="0.7915" stop-color="#009cd3"/><stop offset="0.7916" stop-color="#0099dd"/><stop offset="0.7920" stop-color="#0077dd"/><stop offset="0.7923" stop-color="#0000dd"/><stop offset="0.7925" stop-color="#0000c9"/><stop offset="0.8021" stop-color="#0000c9"/><stop offset="0.8038" stop-color="#0000c2"/><stop offset="0.8040" stop-color="#0000dd"/><stop offset="0.8043" stop-color="#0077dd"/><stop offset="0.8046" stop-color="#0099dd"/><stop offset="0.8047" stop-color="#009cd3"/><stop offset="0.8115" stop-color="#009cd3"/><stop offset="0.8115" stop-color="#0099dd"/><stop offset="0.8118" stop-color="#0077dd"/><stop offset="0.8121" stop-color="#0000dd"/><stop offset="0.8124" stop-color="#0000aa"/><stop offset="0.8124" stop-color="#0700a9"/><stop offset="0.8209" stop-color="#1b00a7"/><stop offset="0.8223" stop-color="#880099"/><stop offset="0.8242" stop-color="#770088"/><stop offset="0.8246" stop-color="#580065"/><stop offset="0.8698" stop-color="#470052"/><stop offset="0.9262" stop-color="#390041"/><stop offset="0.9638" stop-color="#240029"/><stop offset="1.0000" stop-color="#040005"/></linearGradient><linearGradient id="gR5" gradientUnits="userSpaceOnUse" x1="328.9" y1="0" x2="595.0" y2="0"><stop offset="0.0000" stop-color="#770088"/><stop offset="0.0027" stop-color="#770088"/><stop offset="0.0042" stop-color="#040005"/><stop offset="0.1929" stop-color="#040005"/><stop offset="0.2004" stop-color="#18001b"/><stop offset="0.2080" stop-color="#3c0044"/><stop offset="0.2127" stop-color="#770088"/><stop offset="0.2136" stop-color="#79008a"/><stop offset="0.2192" stop-color="#800090"/><stop offset="0.2286" stop-color="#830094"/><stop offset="0.2295" stop-color="#880099"/><stop offset="0.2324" stop-color="#0000aa"/><stop offset="0.2362" stop-color="#0000dd"/><stop offset="0.2437" stop-color="#0047dd"/><stop offset="0.2487" stop-color="#0077dd"/><stop offset="0.2512" stop-color="#007edd"/><stop offset="0.2625" stop-color="#008fdd"/><stop offset="0.2713" stop-color="#0099dd"/><stop offset="0.2756" stop-color="#009cd5"/><stop offset="0.2907" stop-color="#00a3be"/><stop offset="0.3245" stop-color="#00aaaa"/><stop offset="0.3922" stop-color="#00aa99"/><stop offset="0.4148" stop-color="#00aa88"/><stop offset="0.4261" stop-color="#009c1b"/><stop offset="0.4281" stop-color="#009900"/><stop offset="0.4355" stop-color="#00b100"/><stop offset="0.4411" stop-color="#00aa00"/><stop offset="0.4486" stop-color="#009c00"/><stop offset="0.4712" stop-color="#00b800"/><stop offset="0.5313" stop-color="#00bb00"/><stop offset="0.5501" stop-color="#00a000"/><stop offset="0.5614" stop-color="#009c00"/><stop offset="0.5652" stop-color="#009900"/><stop offset="0.5727" stop-color="#009c1b"/><stop offset="0.5877" stop-color="#00aa88"/><stop offset="0.6103" stop-color="#00aaa3"/><stop offset="0.6141" stop-color="#00aaaa"/><stop offset="0.6253" stop-color="#00a0c9"/><stop offset="0.6404" stop-color="#0099dd"/><stop offset="0.6479" stop-color="#0092dd"/><stop offset="0.6667" stop-color="#0077dd"/><stop offset="0.6817" stop-color="#0030dd"/><stop offset="0.6918" stop-color="#0000dd"/><stop offset="0.6968" stop-color="#0000d3"/><stop offset="0.7419" stop-color="#0000c9"/><stop offset="0.7444" stop-color="#0000c9"/><stop offset="0.7445" stop-color="#0000dd"/><stop offset="0.7448" stop-color="#0077dd"/><stop offset="0.7451" stop-color="#0099dd"/><stop offset="0.7453" stop-color="#00a3be"/><stop offset="0.7551" stop-color="#00a3be"/><stop offset="0.7553" stop-color="#0099dd"/><stop offset="0.7556" stop-color="#0077dd"/><stop offset="0.7559" stop-color="#0000dd"/><stop offset="0.7560" stop-color="#0000c9"/><stop offset="0.7598" stop-color="#0000c9"/><stop offset="0.7599" stop-color="#0000dd"/><stop offset="0.7602" stop-color="#0077dd"/><stop offset="0.7606" stop-color="#0099dd"/><stop offset="0.7607" stop-color="#00a0c9"/><stop offset="0.7712" stop-color="#00a0c9"/><stop offset="0.7714" stop-color="#0099dd"/><stop offset="0.7717" stop-color="#0077dd"/><stop offset="0.7720" stop-color="#0000dd"/><stop offset="0.7722" stop-color="#0000c9"/><stop offset="0.7733" stop-color="#0000c9"/><stop offset="0.7738" stop-color="#0000dd"/><stop offset="0.7743" stop-color="#0030dd"/><stop offset="0.7771" stop-color="#0030dd"/><stop offset="0.7774" stop-color="#0077dd"/><stop offset="0.7779" stop-color="#0099dd"/><stop offset="0.7780" stop-color="#009cd3"/><stop offset="0.7915" stop-color="#009cd3"/><stop offset="0.7916" stop-color="#0099dd"/><stop offset="0.7920" stop-color="#0077dd"/><stop offset="0.7923" stop-color="#0000dd"/><stop offset="0.7925" stop-color="#0000c9"/><stop offset="0.8021" stop-color="#0000c9"/><stop offset="0.8038" stop-color="#0000c2"/><stop offset="0.8040" stop-color="#0000dd"/><stop offset="0.8043" stop-color="#0077dd"/><stop offset="0.8046" stop-color="#0099dd"/><stop offset="0.8047" stop-color="#009cd3"/><stop offset="0.8115" stop-color="#009cd3"/><stop offset="0.8115" stop-color="#0099dd"/><stop offset="0.8118" stop-color="#0077dd"/><stop offset="0.8121" stop-color="#0000dd"/><stop offset="0.8124" stop-color="#0000aa"/><stop offset="0.8124" stop-color="#0700a9"/><stop offset="0.8209" stop-color="#1b00a7"/><stop offset="0.8223" stop-color="#880099"/><stop offset="0.8242" stop-color="#770088"/><stop offset="0.8246" stop-color="#580065"/><stop offset="0.8698" stop-color="#470052"/><stop offset="0.9262" stop-color="#390041"/><stop offset="0.9638" stop-color="#240029"/><stop offset="1.0000" stop-color="#040005"/></linearGradient><linearGradient id="gR6" gradientUnits="userSpaceOnUse" x1="328.9" y1="0" x2="595.0" y2="0"><stop offset="0.0000" stop-color="#770088"/><stop offset="0.0027" stop-color="#770088"/><stop offset="0.0042" stop-color="#040005"/><stop offset="0.1929" stop-color="#040005"/><stop offset="0.2004" stop-color="#18001b"/><stop offset="0.2080" stop-color="#3c0044"/><stop offset="0.2127" stop-color="#770088"/><stop offset="0.2136" stop-color="#79008a"/><stop offset="0.2192" stop-color="#800090"/><stop offset="0.2286" stop-color="#830094"/><stop offset="0.2295" stop-color="#880099"/><stop offset="0.2324" stop-color="#0000aa"/><stop offset="0.2362" stop-color="#0000dd"/><stop offset="0.2437" stop-color="#0047dd"/><stop offset="0.2487" stop-color="#0077dd"/><stop offset="0.2512" stop-color="#007edd"/><stop offset="0.2625" stop-color="#008fdd"/><stop offset="0.2713" stop-color="#0099dd"/><stop offset="0.2756" stop-color="#009cd5"/><stop offset="0.2907" stop-color="#00a3be"/><stop offset="0.3245" stop-color="#00aaaa"/><stop offset="0.3885" stop-color="#00aa99"/><stop offset="0.4110" stop-color="#00aa88"/><stop offset="0.4223" stop-color="#009c1b"/><stop offset="0.4250" stop-color="#009900"/><stop offset="0.4317" stop-color="#00aa00"/><stop offset="0.4373" stop-color="#00a300"/><stop offset="0.4430" stop-color="#009900"/><stop offset="0.4449" stop-color="#009b0e"/><stop offset="0.4477" stop-color="#009900"/><stop offset="0.4674" stop-color="#00b100"/><stop offset="0.5313" stop-color="#00b400"/><stop offset="0.5501" stop-color="#009900"/><stop offset="0.5614" stop-color="#009c00"/><stop offset="0.5652" stop-color="#009900"/><stop offset="0.5727" stop-color="#009c1b"/><stop offset="0.5877" stop-color="#00aa88"/><stop offset="0.6103" stop-color="#00aaa3"/><stop offset="0.6141" stop-color="#00aaaa"/><stop offset="0.6253" stop-color="#00a0c9"/><stop offset="0.6404" stop-color="#0099dd"/><stop offset="0.6479" stop-color="#0092dd"/><stop offset="0.6667" stop-color="#0077dd"/><stop offset="0.6817" stop-color="#0030dd"/><stop offset="0.6918" stop-color="#0000dd"/><stop offset="0.6968" stop-color="#0000d3"/><stop offset="0.7419" stop-color="#0000c9"/><stop offset="0.7444" stop-color="#0000c9"/><stop offset="0.7445" stop-color="#0000dd"/><stop offset="0.7448" stop-color="#0077dd"/><stop offset="0.7451" stop-color="#0099dd"/><stop offset="0.7453" stop-color="#00a3be"/><stop offset="0.7551" stop-color="#00a3be"/><stop offset="0.7553" stop-color="#0099dd"/><stop offset="0.7556" stop-color="#0077dd"/><stop offset="0.7559" stop-color="#0000dd"/><stop offset="0.7560" stop-color="#0000c9"/><stop offset="0.7598" stop-color="#0000c9"/><stop offset="0.7599" stop-color="#0000dd"/><stop offset="0.7602" stop-color="#0077dd"/><stop offset="0.7606" stop-color="#0099dd"/><stop offset="0.7607" stop-color="#00a0c9"/><stop offset="0.7712" stop-color="#00a0c9"/><stop offset="0.7714" stop-color="#0099dd"/><stop offset="0.7717" stop-color="#0077dd"/><stop offset="0.7720" stop-color="#0000dd"/><stop offset="0.7722" stop-color="#0000c9"/><stop offset="0.7733" stop-color="#0000c9"/><stop offset="0.7738" stop-color="#0000dd"/><stop offset="0.7743" stop-color="#0030dd"/><stop offset="0.7771" stop-color="#0030dd"/><stop offset="0.7774" stop-color="#0077dd"/><stop offset="0.7779" stop-color="#0099dd"/><stop offset="0.7780" stop-color="#009cd3"/><stop offset="0.7915" stop-color="#009cd3"/><stop offset="0.7916" stop-color="#0099dd"/><stop offset="0.7920" stop-color="#0077dd"/><stop offset="0.7923" stop-color="#0000dd"/><stop offset="0.7925" stop-color="#0000c9"/><stop offset="0.8021" stop-color="#0000c9"/><stop offset="0.8038" stop-color="#0000c2"/><stop offset="0.8040" stop-color="#0000dd"/><stop offset="0.8043" stop-color="#0077dd"/><stop offset="0.8046" stop-color="#0099dd"/><stop offset="0.8047" stop-color="#009cd3"/><stop offset="0.8115" stop-color="#009cd3"/><stop offset="0.8115" stop-color="#0099dd"/><stop offset="0.8118" stop-color="#0077dd"/><stop offset="0.8121" stop-color="#0000dd"/><stop offset="0.8124" stop-color="#0000aa"/><stop offset="0.8124" stop-color="#0700a9"/><stop offset="0.8209" stop-color="#1b00a7"/><stop offset="0.8223" stop-color="#880099"/><stop offset="0.8242" stop-color="#770088"/><stop offset="0.8246" stop-color="#580065"/><stop offset="0.8698" stop-color="#470052"/><stop offset="0.9262" stop-color="#390041"/><stop offset="0.9638" stop-color="#240029"/><stop offset="1.0000" stop-color="#040005"/></linearGradient><linearGradient id="gR7" gradientUnits="userSpaceOnUse" x1="328.9" y1="0" x2="595.0" y2="0"><stop offset="0.0000" stop-color="#770088"/><stop offset="0.0027" stop-color="#770088"/><stop offset="0.0042" stop-color="#040005"/><stop offset="0.1929" stop-color="#040005"/><stop offset="0.2004" stop-color="#18001b"/><stop offset="0.2080" stop-color="#3c0044"/><stop offset="0.2127" stop-color="#770088"/><stop offset="0.2136" stop-color="#79008a"/><stop offset="0.2192" stop-color="#800090"/><stop offset="0.2286" stop-color="#830094"/><stop offset="0.2295" stop-color="#880099"/><stop offset="0.2324" stop-color="#0000aa"/><stop offset="0.2362" stop-color="#0000dd"/><stop offset="0.2437" stop-color="#0047dd"/><stop offset="0.2487" stop-color="#0077dd"/><stop offset="0.2512" stop-color="#007edd"/><stop offset="0.2625" stop-color="#008fdd"/><stop offset="0.2713" stop-color="#0099dd"/><stop offset="0.2756" stop-color="#009cd5"/><stop offset="0.2907" stop-color="#00a3be"/><stop offset="0.3245" stop-color="#00aaaa"/><stop offset="0.3922" stop-color="#00aa99"/><stop offset="0.4148" stop-color="#00aa88"/><stop offset="0.4261" stop-color="#009c1b"/><stop offset="0.4278" stop-color="#009900"/><stop offset="0.4355" stop-color="#00b800"/><stop offset="0.4411" stop-color="#00b100"/><stop offset="0.4486" stop-color="#00a300"/><stop offset="0.4684" stop-color="#00bb00"/><stop offset="0.4712" stop-color="#00be00"/><stop offset="0.5313" stop-color="#00c200"/><stop offset="0.5360" stop-color="#00bb00"/><stop offset="0.5501" stop-color="#00a700"/><stop offset="0.5614" stop-color="#009c00"/><stop offset="0.5652" stop-color="#009900"/><stop offset="0.5727" stop-color="#009c1b"/><stop offset="0.5877" stop-color="#00aa88"/><stop offset="0.6103" stop-color="#00aaa3"/><stop offset="0.6141" stop-color="#00aaaa"/><stop offset="0.6253" stop-color="#00a0c9"/><stop offset="0.6404" stop-color="#0099dd"/><stop offset="0.6479" stop-color="#0092dd"/><stop offset="0.6667" stop-color="#0077dd"/><stop offset="0.6817" stop-color="#0030dd"/><stop offset="0.6918" stop-color="#0000dd"/><stop offset="0.6968" stop-color="#0000d3"/><stop offset="0.7419" stop-color="#0000c9"/><stop offset="0.7444" stop-color="#0000c9"/><stop offset="0.7445" stop-color="#0000dd"/><stop offset="0.7448" stop-color="#0077dd"/><stop offset="0.7451" stop-color="#0099dd"/><stop offset="0.7453" stop-color="#00a3be"/><stop offset="0.7551" stop-color="#00a3be"/><stop offset="0.7553" stop-color="#0099dd"/><stop offset="0.7556" stop-color="#0077dd"/><stop offset="0.7559" stop-color="#0000dd"/><stop offset="0.7560" stop-color="#0000c9"/><stop offset="0.7598" stop-color="#0000c9"/><stop offset="0.7599" stop-color="#0000dd"/><stop offset="0.7602" stop-color="#0077dd"/><stop offset="0.7606" stop-color="#0099dd"/><stop offset="0.7607" stop-color="#00a0c9"/><stop offset="0.7712" stop-color="#00a0c9"/><stop offset="0.7714" stop-color="#0099dd"/><stop offset="0.7717" stop-color="#0077dd"/><stop offset="0.7720" stop-color="#0000dd"/><stop offset="0.7722" stop-color="#0000c9"/><stop offset="0.7733" stop-color="#0000c9"/><stop offset="0.7738" stop-color="#0000dd"/><stop offset="0.7743" stop-color="#0030dd"/><stop offset="0.7771" stop-color="#0030dd"/><stop offset="0.7774" stop-color="#0077dd"/><stop offset="0.7779" stop-color="#0099dd"/><stop offset="0.7780" stop-color="#009cd3"/><stop offset="0.7915" stop-color="#009cd3"/><stop offset="0.7916" stop-color="#0099dd"/><stop offset="0.7920" stop-color="#0077dd"/><stop offset="0.7923" stop-color="#0000dd"/><stop offset="0.7925" stop-color="#0000c9"/><stop offset="0.8021" stop-color="#0000c9"/><stop offset="0.8038" stop-color="#0000c2"/><stop offset="0.8040" stop-color="#0000dd"/><stop offset="0.8043" stop-color="#0077dd"/><stop offset="0.8046" stop-color="#0099dd"/><stop offset="0.8047" stop-color="#009cd3"/><stop offset="0.8115" stop-color="#009cd3"/><stop offset="0.8115" stop-color="#0099dd"/><stop offset="0.8118" stop-color="#0077dd"/><stop offset="0.8121" stop-color="#0000dd"/><stop offset="0.8124" stop-color="#0000aa"/><stop offset="0.8124" stop-color="#0700a9"/><stop offset="0.8209" stop-color="#1b00a7"/><stop offset="0.8223" stop-color="#880099"/><stop offset="0.8242" stop-color="#770088"/><stop offset="0.8246" stop-color="#580065"/><stop offset="0.8698" stop-color="#470052"/><stop offset="0.9262" stop-color="#390041"/><stop offset="0.9638" stop-color="#240029"/><stop offset="1.0000" stop-color="#040005"/></linearGradient><linearGradient id="gR8" gradientUnits="userSpaceOnUse" x1="328.9" y1="0" x2="595.0" y2="0"><stop offset="0.0000" stop-color="#770088"/><stop offset="0.0027" stop-color="#770088"/><stop offset="0.0042" stop-color="#040005"/><stop offset="0.1929" stop-color="#040005"/><stop offset="0.2004" stop-color="#18001b"/><stop offset="0.2080" stop-color="#3c0044"/><stop offset="0.2127" stop-color="#770088"/><stop offset="0.2136" stop-color="#79008a"/><stop offset="0.2192" stop-color="#800090"/><stop offset="0.2286" stop-color="#830094"/><stop offset="0.2295" stop-color="#880099"/><stop offset="0.2324" stop-color="#0000aa"/><stop offset="0.2362" stop-color="#0000dd"/><stop offset="0.2437" stop-color="#0047dd"/><stop offset="0.2487" stop-color="#0077dd"/><stop offset="0.2512" stop-color="#007edd"/><stop offset="0.2625" stop-color="#008fdd"/><stop offset="0.2713" stop-color="#0099dd"/><stop offset="0.2756" stop-color="#009cd5"/><stop offset="0.2907" stop-color="#00a3be"/><stop offset="0.3245" stop-color="#00aaaa"/><stop offset="0.3885" stop-color="#00aa99"/><stop offset="0.4110" stop-color="#00aa88"/><stop offset="0.4223" stop-color="#009c1b"/><stop offset="0.4261" stop-color="#009900"/><stop offset="0.4317" stop-color="#00a300"/><stop offset="0.4373" stop-color="#009c00"/><stop offset="0.4392" stop-color="#009900"/><stop offset="0.4449" stop-color="#009e29"/><stop offset="0.4533" stop-color="#009900"/><stop offset="0.4674" stop-color="#00aa00"/><stop offset="0.5313" stop-color="#00ad00"/><stop offset="0.5454" stop-color="#009900"/><stop offset="0.5501" stop-color="#009c1b"/><stop offset="0.5577" stop-color="#009900"/><stop offset="0.5614" stop-color="#009c00"/><stop offset="0.5652" stop-color="#009900"/><stop offset="0.5727" stop-color="#009c1b"/><stop offset="0.5877" stop-color="#00aa88"/><stop offset="0.6103" stop-color="#00aaa3"/><stop offset="0.6141" stop-color="#00aaaa"/><stop offset="0.6253" stop-color="#00a0c9"/><stop offset="0.6404" stop-color="#0099dd"/><stop offset="0.6479" stop-color="#0092dd"/><stop offset="0.6667" stop-color="#0077dd"/><stop offset="0.6817" stop-color="#0030dd"/><stop offset="0.6918" stop-color="#0000dd"/><stop offset="0.6968" stop-color="#0000d3"/><stop offset="0.7419" stop-color="#0000c9"/><stop offset="0.7444" stop-color="#0000c9"/><stop offset="0.7445" stop-color="#0000dd"/><stop offset="0.7448" stop-color="#0077dd"/><stop offset="0.7451" stop-color="#0099dd"/><stop offset="0.7453" stop-color="#00a3be"/><stop offset="0.7551" stop-color="#00a3be"/><stop offset="0.7553" stop-color="#0099dd"/><stop offset="0.7556" stop-color="#0077dd"/><stop offset="0.7559" stop-color="#0000dd"/><stop offset="0.7560" stop-color="#0000c9"/><stop offset="0.7598" stop-color="#0000c9"/><stop offset="0.7599" stop-color="#0000dd"/><stop offset="0.7602" stop-color="#0077dd"/><stop offset="0.7606" stop-color="#0099dd"/><stop offset="0.7607" stop-color="#00a0c9"/><stop offset="0.7712" stop-color="#00a0c9"/><stop offset="0.7714" stop-color="#0099dd"/><stop offset="0.7717" stop-color="#0077dd"/><stop offset="0.7720" stop-color="#0000dd"/><stop offset="0.7722" stop-color="#0000c9"/><stop offset="0.7733" stop-color="#0000c9"/><stop offset="0.7738" stop-color="#0000dd"/><stop offset="0.7743" stop-color="#0030dd"/><stop offset="0.7771" stop-color="#0030dd"/><stop offset="0.7774" stop-color="#0077dd"/><stop offset="0.7779" stop-color="#0099dd"/><stop offset="0.7780" stop-color="#009cd3"/><stop offset="0.7915" stop-color="#009cd3"/><stop offset="0.7916" stop-color="#0099dd"/><stop offset="0.7920" stop-color="#0077dd"/><stop offset="0.7923" stop-color="#0000dd"/><stop offset="0.7925" stop-color="#0000c9"/><stop offset="0.8021" stop-color="#0000c9"/><stop offset="0.8038" stop-color="#0000c2"/><stop offset="0.8040" stop-color="#0000dd"/><stop offset="0.8043" stop-color="#0077dd"/><stop offset="0.8046" stop-color="#0099dd"/><stop offset="0.8047" stop-color="#009cd3"/><stop offset="0.8115" stop-color="#009cd3"/><stop offset="0.8115" stop-color="#0099dd"/><stop offset="0.8118" stop-color="#0077dd"/><stop offset="0.8121" stop-color="#0000dd"/><stop offset="0.8124" stop-color="#0000aa"/><stop offset="0.8124" stop-color="#0700a9"/><stop offset="0.8209" stop-color="#1b00a7"/><stop offset="0.8223" stop-color="#880099"/><stop offset="0.8242" stop-color="#770088"/><stop offset="0.8246" stop-color="#580065"/><stop offset="0.8698" stop-color="#470052"/><stop offset="0.9262" stop-color="#390041"/><stop offset="0.9638" stop-color="#240029"/><stop offset="1.0000" stop-color="#040005"/></linearGradient><linearGradient id="gR9" gradientUnits="userSpaceOnUse" x1="328.9" y1="0" x2="595.0" y2="0"><stop offset="0.0000" stop-color="#770088"/><stop offset="0.0027" stop-color="#770088"/><stop offset="0.0042" stop-color="#040005"/><stop offset="0.1929" stop-color="#040005"/><stop offset="0.2004" stop-color="#18001b"/><stop offset="0.2080" stop-color="#3c0044"/><stop offset="0.2127" stop-color="#770088"/><stop offset="0.2136" stop-color="#79008a"/><stop offset="0.2192" stop-color="#800090"/><stop offset="0.2286" stop-color="#830094"/><stop offset="0.2295" stop-color="#880099"/><stop offset="0.2324" stop-color="#0000aa"/><stop offset="0.2362" stop-color="#0000dd"/><stop offset="0.2437" stop-color="#0047dd"/><stop offset="0.2487" stop-color="#0077dd"/><stop offset="0.2512" stop-color="#007edd"/><stop offset="0.2625" stop-color="#008fdd"/><stop offset="0.2713" stop-color="#0099dd"/><stop offset="0.2756" stop-color="#009cd5"/><stop offset="0.2907" stop-color="#00a3be"/><stop offset="0.3245" stop-color="#00a8af"/><stop offset="0.3414" stop-color="#00aaaa"/><stop offset="0.3922" stop-color="#00aaa0"/><stop offset="0.4148" stop-color="#00aa8f"/><stop offset="0.4170" stop-color="#00aa88"/><stop offset="0.4261" stop-color="#009c1b"/><stop offset="0.4287" stop-color="#009900"/><stop offset="0.4355" stop-color="#00aa00"/><stop offset="0.4411" stop-color="#00a300"/><stop offset="0.4467" stop-color="#009900"/><stop offset="0.4486" stop-color="#009b0e"/><stop offset="0.4514" stop-color="#009900"/><stop offset="0.4712" stop-color="#00b100"/><stop offset="0.5313" stop-color="#00b400"/><stop offset="0.5501" stop-color="#009900"/><stop offset="0.5614" stop-color="#009c00"/><stop offset="0.5652" stop-color="#009900"/><stop offset="0.5727" stop-color="#009c1b"/><stop offset="0.5877" stop-color="#00aa88"/><stop offset="0.6103" stop-color="#00aaa3"/><stop offset="0.6141" stop-color="#00aaaa"/><stop offset="0.6253" stop-color="#00a0c9"/><stop offset="0.6404" stop-color="#0099dd"/><stop offset="0.6479" stop-color="#0092dd"/><stop offset="0.6667" stop-color="#0077dd"/><stop offset="0.6817" stop-color="#0030dd"/><stop offset="0.6918" stop-color="#0000dd"/><stop offset="0.6968" stop-color="#0000d3"/><stop offset="0.7419" stop-color="#0000c9"/><stop offset="0.7444" stop-color="#0000c9"/><stop offset="0.7445" stop-color="#0000dd"/><stop offset="0.7448" stop-color="#0077dd"/><stop offset="0.7451" stop-color="#0099dd"/><stop offset="0.7453" stop-color="#00a3be"/><stop offset="0.7551" stop-color="#00a3be"/><stop offset="0.7553" stop-color="#0099dd"/><stop offset="0.7556" stop-color="#0077dd"/><stop offset="0.7559" stop-color="#0000dd"/><stop offset="0.7560" stop-color="#0000c9"/><stop offset="0.7598" stop-color="#0000c9"/><stop offset="0.7599" stop-color="#0000dd"/><stop offset="0.7602" stop-color="#0077dd"/><stop offset="0.7606" stop-color="#0099dd"/><stop offset="0.7607" stop-color="#00a0c9"/><stop offset="0.7712" stop-color="#00a0c9"/><stop offset="0.7714" stop-color="#0099dd"/><stop offset="0.7717" stop-color="#0077dd"/><stop offset="0.7720" stop-color="#0000dd"/><stop offset="0.7722" stop-color="#0000c9"/><stop offset="0.7733" stop-color="#0000c9"/><stop offset="0.7738" stop-color="#0000dd"/><stop offset="0.7743" stop-color="#0030dd"/><stop offset="0.7771" stop-color="#0030dd"/><stop offset="0.7774" stop-color="#0077dd"/><stop offset="0.7779" stop-color="#0099dd"/><stop offset="0.7780" stop-color="#009cd3"/><stop offset="0.7915" stop-color="#009cd3"/><stop offset="0.7916" stop-color="#0099dd"/><stop offset="0.7920" stop-color="#0077dd"/><stop offset="0.7923" stop-color="#0000dd"/><stop offset="0.7925" stop-color="#0000c9"/><stop offset="0.8021" stop-color="#0000c9"/><stop offset="0.8038" stop-color="#0000c2"/><stop offset="0.8040" stop-color="#0000dd"/><stop offset="0.8043" stop-color="#0077dd"/><stop offset="0.8046" stop-color="#0099dd"/><stop offset="0.8047" stop-color="#009cd3"/><stop offset="0.8115" stop-color="#009cd3"/><stop offset="0.8115" stop-color="#0099dd"/><stop offset="0.8118" stop-color="#0077dd"/><stop offset="0.8121" stop-color="#0000dd"/><stop offset="0.8124" stop-color="#0000aa"/><stop offset="0.8124" stop-color="#0700a9"/><stop offset="0.8209" stop-color="#1b00a7"/><stop offset="0.8223" stop-color="#880099"/><stop offset="0.8242" stop-color="#770088"/><stop offset="0.8246" stop-color="#580065"/><stop offset="0.8698" stop-color="#470052"/><stop offset="0.9262" stop-color="#390041"/><stop offset="0.9638" stop-color="#240029"/><stop offset="1.0000" stop-color="#040005"/></linearGradient><linearGradient id="gR10" gradientUnits="userSpaceOnUse" x1="328.9" y1="0" x2="595.0" y2="0"><stop offset="0.0000" stop-color="#770088"/><stop offset="0.0027" stop-color="#770088"/><stop offset="0.0042" stop-color="#040005"/><stop offset="0.1929" stop-color="#040005"/><stop offset="0.2004" stop-color="#18001b"/><stop offset="0.2080" stop-color="#3c0044"/><stop offset="0.2127" stop-color="#770088"/><stop offset="0.2136" stop-color="#79008a"/><stop offset="0.2192" stop-color="#800090"/><stop offset="0.2286" stop-color="#830094"/><stop offset="0.2295" stop-color="#880099"/><stop offset="0.2324" stop-color="#0000aa"/><stop offset="0.2362" stop-color="#0000dd"/><stop offset="0.2437" stop-color="#0047dd"/><stop offset="0.2487" stop-color="#0077dd"/><stop offset="0.2512" stop-color="#007edd"/><stop offset="0.2625" stop-color="#008fdd"/><stop offset="0.2713" stop-color="#0099dd"/><stop offset="0.2756" stop-color="#009cd5"/><stop offset="0.2907" stop-color="#00a3be"/><stop offset="0.3245" stop-color="#00aaaa"/><stop offset="0.3922" stop-color="#00aa99"/><stop offset="0.4148" stop-color="#00aa88"/><stop offset="0.4261" stop-color="#009c1b"/><stop offset="0.4278" stop-color="#009900"/><stop offset="0.4355" stop-color="#00b800"/><stop offset="0.4411" stop-color="#00b100"/><stop offset="0.4486" stop-color="#00a300"/><stop offset="0.4684" stop-color="#00bb00"/><stop offset="0.4712" stop-color="#00be00"/><stop offset="0.5313" stop-color="#00c200"/><stop offset="0.5360" stop-color="#00bb00"/><stop offset="0.5501" stop-color="#00a700"/><stop offset="0.5614" stop-color="#009c00"/><stop offset="0.5652" stop-color="#009900"/><stop offset="0.5727" stop-color="#009c1b"/><stop offset="0.5877" stop-color="#00aa88"/><stop offset="0.6103" stop-color="#00aaa3"/><stop offset="0.6141" stop-color="#00aaaa"/><stop offset="0.6253" stop-color="#00a0c9"/><stop offset="0.6404" stop-color="#0099dd"/><stop offset="0.6479" stop-color="#0092dd"/><stop offset="0.6667" stop-color="#0077dd"/><stop offset="0.6817" stop-color="#0030dd"/><stop offset="0.6918" stop-color="#0000dd"/><stop offset="0.6968" stop-color="#0000d3"/><stop offset="0.7419" stop-color="#0000c9"/><stop offset="0.7444" stop-color="#0000c9"/><stop offset="0.7445" stop-color="#0000dd"/><stop offset="0.7448" stop-color="#0077dd"/><stop offset="0.7451" stop-color="#0099dd"/><stop offset="0.7453" stop-color="#00a3be"/><stop offset="0.7551" stop-color="#00a3be"/><stop offset="0.7553" stop-color="#0099dd"/><stop offset="0.7556" stop-color="#0077dd"/><stop offset="0.7559" stop-color="#0000dd"/><stop offset="0.7560" stop-color="#0000c9"/><stop offset="0.7598" stop-color="#0000c9"/><stop offset="0.7599" stop-color="#0000dd"/><stop offset="0.7602" stop-color="#0077dd"/><stop offset="0.7606" stop-color="#0099dd"/><stop offset="0.7607" stop-color="#00a0c9"/><stop offset="0.7712" stop-color="#00a0c9"/><stop offset="0.7714" stop-color="#0099dd"/><stop offset="0.7717" stop-color="#0077dd"/><stop offset="0.7720" stop-color="#0000dd"/><stop offset="0.7722" stop-color="#0000c9"/><stop offset="0.7733" stop-color="#0000c9"/><stop offset="0.7738" stop-color="#0000dd"/><stop offset="0.7743" stop-color="#0030dd"/><stop offset="0.7771" stop-color="#0030dd"/><stop offset="0.7774" stop-color="#0077dd"/><stop offset="0.7779" stop-color="#0099dd"/><stop offset="0.7780" stop-color="#009cd3"/><stop offset="0.7915" stop-color="#009cd3"/><stop offset="0.7916" stop-color="#0099dd"/><stop offset="0.7920" stop-color="#0077dd"/><stop offset="0.7923" stop-color="#0000dd"/><stop offset="0.7925" stop-color="#0000c9"/><stop offset="0.8021" stop-color="#0000c9"/><stop offset="0.8038" stop-color="#0000c2"/><stop offset="0.8040" stop-color="#0000dd"/><stop offset="0.8043" stop-color="#0077dd"/><stop offset="0.8046" stop-color="#0099dd"/><stop offset="0.8047" stop-color="#009cd3"/><stop offset="0.8115" stop-color="#009cd3"/><stop offset="0.8115" stop-color="#0099dd"/><stop offset="0.8118" stop-color="#0077dd"/><stop offset="0.8121" stop-color="#0000dd"/><stop offset="0.8124" stop-color="#0000aa"/><stop offset="0.8124" stop-color="#0700a9"/><stop offset="0.8209" stop-color="#1b00a7"/><stop offset="0.8223" stop-color="#880099"/><stop offset="0.8242" stop-color="#770088"/><stop offset="0.8246" stop-color="#580065"/><stop offset="0.8698" stop-color="#470052"/><stop offset="0.9262" stop-color="#390041"/><stop offset="0.9638" stop-color="#240029"/><stop offset="1.0000" stop-color="#040005"/></linearGradient><linearGradient id="gR11" gradientUnits="userSpaceOnUse" x1="328.9" y1="0" x2="595.0" y2="0"><stop offset="0.0000" stop-color="#770088"/><stop offset="0.0027" stop-color="#770088"/><stop offset="0.0042" stop-color="#040005"/><stop offset="0.1929" stop-color="#040005"/><stop offset="0.2004" stop-color="#18001b"/><stop offset="0.2080" stop-color="#3c0044"/><stop offset="0.2127" stop-color="#770088"/><stop offset="0.2136" stop-color="#79008a"/><stop offset="0.2192" stop-color="#800090"/><stop offset="0.2286" stop-color="#830094"/><stop offset="0.2295" stop-color="#880099"/><stop offset="0.2324" stop-color="#0000aa"/><stop offset="0.2362" stop-color="#0000dd"/><stop offset="0.2437" stop-color="#0047dd"/><stop offset="0.2487" stop-color="#0077dd"/><stop offset="0.2512" stop-color="#007edd"/><stop offset="0.2625" stop-color="#008fdd"/><stop offset="0.2713" stop-color="#0099dd"/><stop offset="0.2756" stop-color="#009cd5"/><stop offset="0.2907" stop-color="#00a3be"/><stop offset="0.3245" stop-color="#00aaaa"/><stop offset="0.3997" stop-color="#00aa99"/><stop offset="0.4223" stop-color="#00aa88"/><stop offset="0.4336" stop-color="#009c1b"/><stop offset="0.4353" stop-color="#009900"/><stop offset="0.4430" stop-color="#00b800"/><stop offset="0.4486" stop-color="#00b100"/><stop offset="0.4561" stop-color="#00a300"/><stop offset="0.4759" stop-color="#00bb00"/><stop offset="0.4787" stop-color="#00be00"/><stop offset="0.5313" stop-color="#00c200"/><stop offset="0.5360" stop-color="#00bb00"/><stop offset="0.5501" stop-color="#00a700"/><stop offset="0.5614" stop-color="#009c00"/><stop offset="0.5652" stop-color="#009900"/><stop offset="0.5727" stop-color="#009c1b"/><stop offset="0.5877" stop-color="#00aa88"/><stop offset="0.6103" stop-color="#00aaa3"/><stop offset="0.6141" stop-color="#00aaaa"/><stop offset="0.6253" stop-color="#00a0c9"/><stop offset="0.6404" stop-color="#0099dd"/><stop offset="0.6479" stop-color="#0092dd"/><stop offset="0.6667" stop-color="#0077dd"/><stop offset="0.6817" stop-color="#0030dd"/><stop offset="0.6918" stop-color="#0000dd"/><stop offset="0.6968" stop-color="#0000d3"/><stop offset="0.7419" stop-color="#0000c9"/><stop offset="0.7444" stop-color="#0000c9"/><stop offset="0.7445" stop-color="#0000dd"/><stop offset="0.7448" stop-color="#0077dd"/><stop offset="0.7451" stop-color="#0099dd"/><stop offset="0.7453" stop-color="#00a3be"/><stop offset="0.7551" stop-color="#00a3be"/><stop offset="0.7553" stop-color="#0099dd"/><stop offset="0.7556" stop-color="#0077dd"/><stop offset="0.7559" stop-color="#0000dd"/><stop offset="0.7560" stop-color="#0000c9"/><stop offset="0.7598" stop-color="#0000c9"/><stop offset="0.7599" stop-color="#0000dd"/><stop offset="0.7602" stop-color="#0077dd"/><stop offset="0.7606" stop-color="#0099dd"/><stop offset="0.7607" stop-color="#00a0c9"/><stop offset="0.7712" stop-color="#00a0c9"/><stop offset="0.7714" stop-color="#0099dd"/><stop offset="0.7717" stop-color="#0077dd"/><stop offset="0.7720" stop-color="#0000dd"/><stop offset="0.7722" stop-color="#0000c9"/><stop offset="0.7733" stop-color="#0000c9"/><stop offset="0.7738" stop-color="#0000dd"/><stop offset="0.7743" stop-color="#0030dd"/><stop offset="0.7771" stop-color="#0030dd"/><stop offset="0.7774" stop-color="#0077dd"/><stop offset="0.7779" stop-color="#0099dd"/><stop offset="0.7780" stop-color="#009cd3"/><stop offset="0.7915" stop-color="#009cd3"/><stop offset="0.7916" stop-color="#0099dd"/><stop offset="0.7920" stop-color="#0077dd"/><stop offset="0.7923" stop-color="#0000dd"/><stop offset="0.7925" stop-color="#0000c9"/><stop offset="0.8021" stop-color="#0000c9"/><stop offset="0.8038" stop-color="#0000c2"/><stop offset="0.8040" stop-color="#0000dd"/><stop offset="0.8043" stop-color="#0077dd"/><stop offset="0.8046" stop-color="#0099dd"/><stop offset="0.8047" stop-color="#009cd3"/><stop offset="0.8115" stop-color="#009cd3"/><stop offset="0.8115" stop-color="#0099dd"/><stop offset="0.8118" stop-color="#0077dd"/><stop offset="0.8121" stop-color="#0000dd"/><stop offset="0.8124" stop-color="#0000aa"/><stop offset="0.8124" stop-color="#0700a9"/><stop offset="0.8209" stop-color="#1b00a7"/><stop offset="0.8223" stop-color="#880099"/><stop offset="0.8242" stop-color="#770088"/><stop offset="0.8246" stop-color="#580065"/><stop offset="0.8698" stop-color="#470052"/><stop offset="0.9262" stop-color="#390041"/><stop offset="0.9638" stop-color="#240029"/><stop offset="1.0000" stop-color="#040005"/></linearGradient><linearGradient id="gR12" gradientUnits="userSpaceOnUse" x1="328.9" y1="0" x2="595.0" y2="0"><stop offset="0.0000" stop-color="#770088"/><stop offset="0.0027" stop-color="#770088"/><stop offset="0.0042" stop-color="#040005"/><stop offset="0.1929" stop-color="#040005"/><stop offset="0.2004" stop-color="#18001b"/><stop offset="0.2080" stop-color="#3c0044"/><stop offset="0.2127" stop-color="#770088"/><stop offset="0.2136" stop-color="#79008a"/><stop offset="0.2192" stop-color="#800090"/><stop offset="0.2286" stop-color="#830094"/><stop offset="0.2295" stop-color="#880099"/><stop offset="0.2324" stop-color="#0000aa"/><stop offset="0.2362" stop-color="#0000dd"/><stop offset="0.2437" stop-color="#0047dd"/><stop offset="0.2487" stop-color="#0077dd"/><stop offset="0.2512" stop-color="#007edd"/><stop offset="0.2625" stop-color="#008fdd"/><stop offset="0.2713" stop-color="#0099dd"/><stop offset="0.2756" stop-color="#009cd5"/><stop offset="0.2907" stop-color="#00a3be"/><stop offset="0.3132" stop-color="#00aaaa"/><stop offset="0.3245" stop-color="#00aaa3"/><stop offset="0.3621" stop-color="#00aa8b"/><stop offset="0.3666" stop-color="#00aa88"/><stop offset="0.3847" stop-color="#00a352"/><stop offset="0.3960" stop-color="#009c1b"/><stop offset="0.3981" stop-color="#009900"/><stop offset="0.4054" stop-color="#00b100"/><stop offset="0.4110" stop-color="#00aa00"/><stop offset="0.4185" stop-color="#009c00"/><stop offset="0.4411" stop-color="#00b800"/><stop offset="0.5313" stop-color="#00bb00"/><stop offset="0.5501" stop-color="#00a000"/><stop offset="0.5614" stop-color="#009c00"/><stop offset="0.5652" stop-color="#009900"/><stop offset="0.5727" stop-color="#009c1b"/><stop offset="0.5877" stop-color="#00aa88"/><stop offset="0.6103" stop-color="#00aaa3"/><stop offset="0.6141" stop-color="#00aaaa"/><stop offset="0.6253" stop-color="#00a0c9"/><stop offset="0.6404" stop-color="#0099dd"/><stop offset="0.6479" stop-color="#0092dd"/><stop offset="0.6667" stop-color="#0077dd"/><stop offset="0.6817" stop-color="#0030dd"/><stop offset="0.6918" stop-color="#0000dd"/><stop offset="0.6968" stop-color="#0000d3"/><stop offset="0.7419" stop-color="#0000c9"/><stop offset="0.7444" stop-color="#0000c9"/><stop offset="0.7445" stop-color="#0000dd"/><stop offset="0.7448" stop-color="#0077dd"/><stop offset="0.7451" stop-color="#0099dd"/><stop offset="0.7453" stop-color="#00a3be"/><stop offset="0.7551" stop-color="#00a3be"/><stop offset="0.7553" stop-color="#0099dd"/><stop offset="0.7556" stop-color="#0077dd"/><stop offset="0.7559" stop-color="#0000dd"/><stop offset="0.7560" stop-color="#0000c9"/><stop offset="0.7598" stop-color="#0000c9"/><stop offset="0.7599" stop-color="#0000dd"/><stop offset="0.7602" stop-color="#0077dd"/><stop offset="0.7606" stop-color="#0099dd"/><stop offset="0.7607" stop-color="#00a0c9"/><stop offset="0.7712" stop-color="#00a0c9"/><stop offset="0.7714" stop-color="#0099dd"/><stop offset="0.7717" stop-color="#0077dd"/><stop offset="0.7720" stop-color="#0000dd"/><stop offset="0.7722" stop-color="#0000c9"/><stop offset="0.7733" stop-color="#0000c9"/><stop offset="0.7738" stop-color="#0000dd"/><stop offset="0.7743" stop-color="#0030dd"/><stop offset="0.7771" stop-color="#0030dd"/><stop offset="0.7774" stop-color="#0077dd"/><stop offset="0.7779" stop-color="#0099dd"/><stop offset="0.7780" stop-color="#009cd3"/><stop offset="0.7915" stop-color="#009cd3"/><stop offset="0.7916" stop-color="#0099dd"/><stop offset="0.7920" stop-color="#0077dd"/><stop offset="0.7923" stop-color="#0000dd"/><stop offset="0.7925" stop-color="#0000c9"/><stop offset="0.8021" stop-color="#0000c9"/><stop offset="0.8038" stop-color="#0000c2"/><stop offset="0.8040" stop-color="#0000dd"/><stop offset="0.8043" stop-color="#0077dd"/><stop offset="0.8046" stop-color="#0099dd"/><stop offset="0.8047" stop-color="#009cd3"/><stop offset="0.8115" stop-color="#009cd3"/><stop offset="0.8115" stop-color="#0099dd"/><stop offset="0.8118" stop-color="#0077dd"/><stop offset="0.8121" stop-color="#0000dd"/><stop offset="0.8124" stop-color="#0000aa"/><stop offset="0.8124" stop-color="#0700a9"/><stop offset="0.8209" stop-color="#1b00a7"/><stop offset="0.8223" stop-color="#880099"/><stop offset="0.8242" stop-color="#770088"/><stop offset="0.8246" stop-color="#580065"/><stop offset="0.8698" stop-color="#470052"/><stop offset="0.9262" stop-color="#390041"/><stop offset="0.9638" stop-color="#240029"/><stop offset="1.0000" stop-color="#040005"/></linearGradient><linearGradient id="gR13" gradientUnits="userSpaceOnUse" x1="328.9" y1="0" x2="595.0" y2="0"><stop offset="0.0000" stop-color="#770088"/><stop offset="0.0027" stop-color="#770088"/><stop offset="0.0042" stop-color="#040005"/><stop offset="0.1929" stop-color="#040005"/><stop offset="0.2004" stop-color="#18001b"/><stop offset="0.2080" stop-color="#3c0044"/><stop offset="0.2127" stop-color="#770088"/><stop offset="0.2136" stop-color="#79008a"/><stop offset="0.2192" stop-color="#800090"/><stop offset="0.2286" stop-color="#830094"/><stop offset="0.2295" stop-color="#880099"/><stop offset="0.2324" stop-color="#0000aa"/><stop offset="0.2362" stop-color="#0000dd"/><stop offset="0.2437" stop-color="#0047dd"/><stop offset="0.2487" stop-color="#0077dd"/><stop offset="0.2512" stop-color="#007edd"/><stop offset="0.2625" stop-color="#008fdd"/><stop offset="0.2713" stop-color="#0099dd"/><stop offset="0.2756" stop-color="#009cd5"/><stop offset="0.2907" stop-color="#00a3be"/><stop offset="0.3178" stop-color="#00aaaa"/><stop offset="0.3245" stop-color="#00aaa7"/><stop offset="0.3960" stop-color="#00aa92"/><stop offset="0.4095" stop-color="#00aa88"/><stop offset="0.4185" stop-color="#00a76d"/><stop offset="0.4298" stop-color="#009c1b"/><stop offset="0.4336" stop-color="#009900"/><stop offset="0.4392" stop-color="#00a300"/><stop offset="0.4449" stop-color="#009c00"/><stop offset="0.4467" stop-color="#009900"/><stop offset="0.4524" stop-color="#009e29"/><stop offset="0.4608" stop-color="#009900"/><stop offset="0.4749" stop-color="#00aa00"/><stop offset="0.5313" stop-color="#00ad00"/><stop offset="0.5454" stop-color="#009900"/><stop offset="0.5501" stop-color="#009c1b"/><stop offset="0.5577" stop-color="#009900"/><stop offset="0.5614" stop-color="#009c00"/><stop offset="0.5652" stop-color="#009900"/><stop offset="0.5727" stop-color="#009c1b"/><stop offset="0.5877" stop-color="#00aa88"/><stop offset="0.6103" stop-color="#00aaa3"/><stop offset="0.6141" stop-color="#00aaaa"/><stop offset="0.6253" stop-color="#00a0c9"/><stop offset="0.6404" stop-color="#0099dd"/><stop offset="0.6479" stop-color="#0092dd"/><stop offset="0.6667" stop-color="#0077dd"/><stop offset="0.6817" stop-color="#0030dd"/><stop offset="0.6918" stop-color="#0000dd"/><stop offset="0.6968" stop-color="#0000d3"/><stop offset="0.7419" stop-color="#0000c9"/><stop offset="0.7444" stop-color="#0000c9"/><stop offset="0.7445" stop-color="#0000dd"/><stop offset="0.7448" stop-color="#0077dd"/><stop offset="0.7451" stop-color="#0099dd"/><stop offset="0.7453" stop-color="#00a3be"/><stop offset="0.7551" stop-color="#00a3be"/><stop offset="0.7553" stop-color="#0099dd"/><stop offset="0.7556" stop-color="#0077dd"/><stop offset="0.7559" stop-color="#0000dd"/><stop offset="0.7560" stop-color="#0000c9"/><stop offset="0.7598" stop-color="#0000c9"/><stop offset="0.7599" stop-color="#0000dd"/><stop offset="0.7602" stop-color="#0077dd"/><stop offset="0.7606" stop-color="#0099dd"/><stop offset="0.7607" stop-color="#00a0c9"/><stop offset="0.7712" stop-color="#00a0c9"/><stop offset="0.7714" stop-color="#0099dd"/><stop offset="0.7717" stop-color="#0077dd"/><stop offset="0.7720" stop-color="#0000dd"/><stop offset="0.7722" stop-color="#0000c9"/><stop offset="0.7733" stop-color="#0000c9"/><stop offset="0.7738" stop-color="#0000dd"/><stop offset="0.7743" stop-color="#0030dd"/><stop offset="0.7771" stop-color="#0030dd"/><stop offset="0.7774" stop-color="#0077dd"/><stop offset="0.7779" stop-color="#0099dd"/><stop offset="0.7780" stop-color="#009cd3"/><stop offset="0.7915" stop-color="#009cd3"/><stop offset="0.7916" stop-color="#0099dd"/><stop offset="0.7920" stop-color="#0077dd"/><stop offset="0.7923" stop-color="#0000dd"/><stop offset="0.7925" stop-color="#0000c9"/><stop offset="0.8021" stop-color="#0000c9"/><stop offset="0.8038" stop-color="#0000c2"/><stop offset="0.8040" stop-color="#0000dd"/><stop offset="0.8043" stop-color="#0077dd"/><stop offset="0.8046" stop-color="#0099dd"/><stop offset="0.8047" stop-color="#009cd3"/><stop offset="0.8115" stop-color="#009cd3"/><stop offset="0.8115" stop-color="#0099dd"/><stop offset="0.8118" stop-color="#0077dd"/><stop offset="0.8121" stop-color="#0000dd"/><stop offset="0.8124" stop-color="#0000aa"/><stop offset="0.8124" stop-color="#0700a9"/><stop offset="0.8209" stop-color="#1b00a7"/><stop offset="0.8223" stop-color="#880099"/><stop offset="0.8242" stop-color="#770088"/><stop offset="0.8246" stop-color="#580065"/><stop offset="0.8698" stop-color="#470052"/><stop offset="0.9262" stop-color="#390041"/><stop offset="0.9638" stop-color="#240029"/><stop offset="1.0000" stop-color="#040005"/></linearGradient><linearGradient id="gR14" gradientUnits="userSpaceOnUse" x1="328.9" y1="0" x2="595.0" y2="0"><stop offset="0.0000" stop-color="#770088"/><stop offset="0.0027" stop-color="#770088"/><stop offset="0.0042" stop-color="#040005"/><stop offset="0.1929" stop-color="#040005"/><stop offset="0.2004" stop-color="#18001b"/><stop offset="0.2080" stop-color="#3c0044"/><stop offset="0.2127" stop-color="#770088"/><stop offset="0.2136" stop-color="#79008a"/><stop offset="0.2192" stop-color="#800090"/><stop offset="0.2286" stop-color="#830094"/><stop offset="0.2295" stop-color="#880099"/><stop offset="0.2324" stop-color="#0000aa"/><stop offset="0.2362" stop-color="#0000dd"/><stop offset="0.2437" stop-color="#0047dd"/><stop offset="0.2487" stop-color="#0077dd"/><stop offset="0.2512" stop-color="#007edd"/><stop offset="0.2625" stop-color="#008fdd"/><stop offset="0.2756" stop-color="#0097dd"/><stop offset="0.2787" stop-color="#0099dd"/><stop offset="0.2907" stop-color="#009cd3"/><stop offset="0.3245" stop-color="#00a5b9"/><stop offset="0.3659" stop-color="#00aaaa"/><stop offset="0.4073" stop-color="#00aaa0"/><stop offset="0.4298" stop-color="#00aa8f"/><stop offset="0.4321" stop-color="#00aa88"/><stop offset="0.4411" stop-color="#009c1b"/><stop offset="0.4432" stop-color="#009900"/><stop offset="0.4505" stop-color="#00b100"/><stop offset="0.4561" stop-color="#00aa00"/><stop offset="0.4637" stop-color="#009c00"/><stop offset="0.4862" stop-color="#00b800"/><stop offset="0.5313" stop-color="#00bb00"/><stop offset="0.5501" stop-color="#00a000"/><stop offset="0.5614" stop-color="#009c00"/><stop offset="0.5652" stop-color="#009900"/><stop offset="0.5727" stop-color="#009c1b"/><stop offset="0.5877" stop-color="#00aa88"/><stop offset="0.6103" stop-color="#00aaa3"/><stop offset="0.6141" stop-color="#00aaaa"/><stop offset="0.6253" stop-color="#00a0c9"/><stop offset="0.6404" stop-color="#0099dd"/><stop offset="0.6479" stop-color="#0092dd"/><stop offset="0.6667" stop-color="#0077dd"/><stop offset="0.6817" stop-color="#0030dd"/><stop offset="0.6918" stop-color="#0000dd"/><stop offset="0.6968" stop-color="#0000d3"/><stop offset="0.7419" stop-color="#0000c9"/><stop offset="0.7444" stop-color="#0000c9"/><stop offset="0.7445" stop-color="#0000dd"/><stop offset="0.7448" stop-color="#0077dd"/><stop offset="0.7451" stop-color="#0099dd"/><stop offset="0.7453" stop-color="#00a3be"/><stop offset="0.7551" stop-color="#00a3be"/><stop offset="0.7553" stop-color="#0099dd"/><stop offset="0.7556" stop-color="#0077dd"/><stop offset="0.7559" stop-color="#0000dd"/><stop offset="0.7560" stop-color="#0000c9"/><stop offset="0.7598" stop-color="#0000c9"/><stop offset="0.7599" stop-color="#0000dd"/><stop offset="0.7602" stop-color="#0077dd"/><stop offset="0.7606" stop-color="#0099dd"/><stop offset="0.7607" stop-color="#00a0c9"/><stop offset="0.7712" stop-color="#00a0c9"/><stop offset="0.7714" stop-color="#0099dd"/><stop offset="0.7717" stop-color="#0077dd"/><stop offset="0.7720" stop-color="#0000dd"/><stop offset="0.7722" stop-color="#0000c9"/><stop offset="0.7733" stop-color="#0000c9"/><stop offset="0.7738" stop-color="#0000dd"/><stop offset="0.7743" stop-color="#0030dd"/><stop offset="0.7771" stop-color="#0030dd"/><stop offset="0.7774" stop-color="#0077dd"/><stop offset="0.7779" stop-color="#0099dd"/><stop offset="0.7780" stop-color="#009cd3"/><stop offset="0.7915" stop-color="#009cd3"/><stop offset="0.7916" stop-color="#0099dd"/><stop offset="0.7920" stop-color="#0077dd"/><stop offset="0.7923" stop-color="#0000dd"/><stop offset="0.7925" stop-color="#0000c9"/><stop offset="0.8021" stop-color="#0000c9"/><stop offset="0.8038" stop-color="#0000c2"/><stop offset="0.8040" stop-color="#0000dd"/><stop offset="0.8043" stop-color="#0077dd"/><stop offset="0.8046" stop-color="#0099dd"/><stop offset="0.8047" stop-color="#009cd3"/><stop offset="0.8115" stop-color="#009cd3"/><stop offset="0.8115" stop-color="#0099dd"/><stop offset="0.8118" stop-color="#0077dd"/><stop offset="0.8121" stop-color="#0000dd"/><stop offset="0.8124" stop-color="#0000aa"/><stop offset="0.8124" stop-color="#0700a9"/><stop offset="0.8209" stop-color="#1b00a7"/><stop offset="0.8223" stop-color="#880099"/><stop offset="0.8242" stop-color="#770088"/><stop offset="0.8246" stop-color="#580065"/><stop offset="0.8698" stop-color="#470052"/><stop offset="0.9262" stop-color="#390041"/><stop offset="0.9638" stop-color="#240029"/><stop offset="1.0000" stop-color="#040005"/></linearGradient><linearGradient id="gR15" gradientUnits="userSpaceOnUse" x1="328.9" y1="0" x2="595.0" y2="0"><stop offset="0.0000" stop-color="#770088"/><stop offset="0.0027" stop-color="#770088"/><stop offset="0.0042" stop-color="#050005"/><stop offset="0.2249" stop-color="#050005"/><stop offset="0.2254" stop-color="#770088"/><stop offset="0.2259" stop-color="#880099"/><stop offset="0.2264" stop-color="#0000aa"/><stop offset="0.2270" stop-color="#0000dd"/><stop offset="0.2275" stop-color="#0077dd"/><stop offset="0.2280" stop-color="#0099dd"/><stop offset="0.2285" stop-color="#00aaaa"/><stop offset="0.2286" stop-color="#00aaa3"/><stop offset="0.2681" stop-color="#00aa99"/><stop offset="0.3245" stop-color="#00aa88"/><stop offset="0.3621" stop-color="#00a352"/><stop offset="0.3715" stop-color="#00a036"/><stop offset="0.3717" stop-color="#009900"/><stop offset="0.3722" stop-color="#00bb00"/><stop offset="0.3727" stop-color="#00dd00"/><stop offset="0.3732" stop-color="#00ff00"/><stop offset="0.3737" stop-color="#bbff00"/><stop offset="0.3742" stop-color="#eeee00"/><stop offset="0.3772" stop-color="#eeee00"/><stop offset="0.3777" stop-color="#bbff00"/><stop offset="0.3783" stop-color="#00ff00"/><stop offset="0.3789" stop-color="#00dd00"/><stop offset="0.3795" stop-color="#00bb00"/><stop offset="0.3798" stop-color="#00a700"/><stop offset="0.4185" stop-color="#00b400"/><stop offset="0.4336" stop-color="#00bb00"/><stop offset="0.4637" stop-color="#00c900"/><stop offset="0.4937" stop-color="#00dd00"/><stop offset="0.5389" stop-color="#00dd00"/><stop offset="0.5535" stop-color="#00bb00"/><stop offset="0.5652" stop-color="#00a000"/><stop offset="0.5683" stop-color="#009900"/><stop offset="0.5840" stop-color="#00aa88"/><stop offset="0.6103" stop-color="#00aaaa"/><stop offset="0.6404" stop-color="#009cd3"/><stop offset="0.6554" stop-color="#0099dd"/><stop offset="0.6855" stop-color="#008bdd"/><stop offset="0.7005" stop-color="#0077dd"/><stop offset="0.7156" stop-color="#0030dd"/><stop offset="0.7331" stop-color="#0000dd"/><stop offset="0.7419" stop-color="#0000d3"/><stop offset="0.8171" stop-color="#0000c9"/><stop offset="0.8187" stop-color="#0000aa"/><stop offset="0.8213" stop-color="#880099"/><stop offset="0.8240" stop-color="#770088"/><stop offset="0.8246" stop-color="#580065"/><stop offset="0.8698" stop-color="#470052"/><stop offset="0.9262" stop-color="#390041"/><stop offset="0.9638" stop-color="#240029"/><stop offset="1.0000" stop-color="#040005"/></linearGradient><linearGradient id="gR16" gradientUnits="userSpaceOnUse" x1="328.9" y1="0" x2="595.0" y2="0"><stop offset="0.0000" stop-color="#770088"/><stop offset="0.0027" stop-color="#770088"/><stop offset="0.0042" stop-color="#040005"/><stop offset="0.1929" stop-color="#040005"/><stop offset="0.2004" stop-color="#18001b"/><stop offset="0.2080" stop-color="#3c0044"/><stop offset="0.2127" stop-color="#770088"/><stop offset="0.2136" stop-color="#79008a"/><stop offset="0.2192" stop-color="#800090"/><stop offset="0.2286" stop-color="#830094"/><stop offset="0.2295" stop-color="#880099"/><stop offset="0.2324" stop-color="#0000aa"/><stop offset="0.2362" stop-color="#0000dd"/><stop offset="0.2437" stop-color="#0047dd"/><stop offset="0.2487" stop-color="#0077dd"/><stop offset="0.2512" stop-color="#007edd"/><stop offset="0.2625" stop-color="#008fdd"/><stop offset="0.2713" stop-color="#0099dd"/><stop offset="0.2756" stop-color="#009cd5"/><stop offset="0.2907" stop-color="#00a3be"/><stop offset="0.3245" stop-color="#00aaaa"/><stop offset="0.3922" stop-color="#00aa99"/><stop offset="0.4148" stop-color="#00aa88"/><stop offset="0.4261" stop-color="#009c1b"/><stop offset="0.4287" stop-color="#009900"/><stop offset="0.4355" stop-color="#00aa00"/><stop offset="0.4411" stop-color="#00a300"/><stop offset="0.4467" stop-color="#009900"/><stop offset="0.4486" stop-color="#009b0e"/><stop offset="0.4514" stop-color="#009900"/><stop offset="0.4712" stop-color="#00b100"/><stop offset="0.5313" stop-color="#00b400"/><stop offset="0.5501" stop-color="#009900"/><stop offset="0.5614" stop-color="#009c00"/><stop offset="0.5652" stop-color="#009900"/><stop offset="0.5727" stop-color="#009c1b"/><stop offset="0.5877" stop-color="#00aa88"/><stop offset="0.6103" stop-color="#00aaa3"/><stop offset="0.6141" stop-color="#00aaaa"/><stop offset="0.6253" stop-color="#00a0c9"/><stop offset="0.6404" stop-color="#0099dd"/><stop offset="0.6479" stop-color="#0092dd"/><stop offset="0.6667" stop-color="#0077dd"/><stop offset="0.6817" stop-color="#0030dd"/><stop offset="0.6918" stop-color="#0000dd"/><stop offset="0.6968" stop-color="#0000d3"/><stop offset="0.7419" stop-color="#0000c9"/><stop offset="0.7444" stop-color="#0000c9"/><stop offset="0.7445" stop-color="#0000dd"/><stop offset="0.7448" stop-color="#0077dd"/><stop offset="0.7451" stop-color="#0099dd"/><stop offset="0.7453" stop-color="#00a3be"/><stop offset="0.7551" stop-color="#00a3be"/><stop offset="0.7553" stop-color="#0099dd"/><stop offset="0.7556" stop-color="#0077dd"/><stop offset="0.7559" stop-color="#0000dd"/><stop offset="0.7560" stop-color="#0000c9"/><stop offset="0.7598" stop-color="#0000c9"/><stop offset="0.7599" stop-color="#0000dd"/><stop offset="0.7602" stop-color="#0077dd"/><stop offset="0.7606" stop-color="#0099dd"/><stop offset="0.7607" stop-color="#00a0c9"/><stop offset="0.7712" stop-color="#00a0c9"/><stop offset="0.7714" stop-color="#0099dd"/><stop offset="0.7717" stop-color="#0077dd"/><stop offset="0.7720" stop-color="#0000dd"/><stop offset="0.7722" stop-color="#0000c9"/><stop offset="0.7733" stop-color="#0000c9"/><stop offset="0.7738" stop-color="#0000dd"/><stop offset="0.7743" stop-color="#0030dd"/><stop offset="0.7771" stop-color="#0030dd"/><stop offset="0.7774" stop-color="#0077dd"/><stop offset="0.7779" stop-color="#0099dd"/><stop offset="0.7780" stop-color="#009cd3"/><stop offset="0.7915" stop-color="#009cd3"/><stop offset="0.7916" stop-color="#0099dd"/><stop offset="0.7920" stop-color="#0077dd"/><stop offset="0.7923" stop-color="#0000dd"/><stop offset="0.7925" stop-color="#0000c9"/><stop offset="0.8021" stop-color="#0000c9"/><stop offset="0.8038" stop-color="#0000c2"/><stop offset="0.8040" stop-color="#0000dd"/><stop offset="0.8043" stop-color="#0077dd"/><stop offset="0.8046" stop-color="#0099dd"/><stop offset="0.8047" stop-color="#009cd3"/><stop offset="0.8115" stop-color="#009cd3"/><stop offset="0.8115" stop-color="#0099dd"/><stop offset="0.8118" stop-color="#0077dd"/><stop offset="0.8121" stop-color="#0000dd"/><stop offset="0.8124" stop-color="#0000aa"/><stop offset="0.8124" stop-color="#0700a9"/><stop offset="0.8209" stop-color="#1b00a7"/><stop offset="0.8223" stop-color="#880099"/><stop offset="0.8242" stop-color="#770088"/><stop offset="0.8246" stop-color="#580065"/><stop offset="0.8698" stop-color="#470052"/><stop offset="0.9262" stop-color="#390041"/><stop offset="0.9638" stop-color="#240029"/><stop offset="1.0000" stop-color="#040005"/></linearGradient><linearGradient id="gR17" gradientUnits="userSpaceOnUse" x1="328.9" y1="0" x2="595.0" y2="0"><stop offset="0.0000" stop-color="#770088"/><stop offset="0.0027" stop-color="#770088"/><stop offset="0.0042" stop-color="#040005"/><stop offset="0.1929" stop-color="#040005"/><stop offset="0.2004" stop-color="#18001b"/><stop offset="0.2080" stop-color="#3c0044"/><stop offset="0.2127" stop-color="#770088"/><stop offset="0.2136" stop-color="#79008a"/><stop offset="0.2192" stop-color="#800090"/><stop offset="0.2286" stop-color="#830094"/><stop offset="0.2295" stop-color="#880099"/><stop offset="0.2324" stop-color="#0000aa"/><stop offset="0.2362" stop-color="#0000dd"/><stop offset="0.2437" stop-color="#0047dd"/><stop offset="0.2487" stop-color="#0077dd"/><stop offset="0.2512" stop-color="#007edd"/><stop offset="0.2625" stop-color="#008fdd"/><stop offset="0.2713" stop-color="#0099dd"/><stop offset="0.2756" stop-color="#009cd5"/><stop offset="0.2907" stop-color="#00a3be"/><stop offset="0.3245" stop-color="#00aaaa"/><stop offset="0.3734" stop-color="#00aa99"/><stop offset="0.3960" stop-color="#00aa88"/><stop offset="0.4073" stop-color="#009c1b"/><stop offset="0.4099" stop-color="#009900"/><stop offset="0.4167" stop-color="#00aa00"/><stop offset="0.4223" stop-color="#00a300"/><stop offset="0.4279" stop-color="#009900"/><stop offset="0.4298" stop-color="#009b0e"/><stop offset="0.4326" stop-color="#009900"/><stop offset="0.4524" stop-color="#00b100"/><stop offset="0.5313" stop-color="#00b400"/><stop offset="0.5501" stop-color="#009900"/><stop offset="0.5614" stop-color="#009c00"/><stop offset="0.5652" stop-color="#009900"/><stop offset="0.5727" stop-color="#009c1b"/><stop offset="0.5877" stop-color="#00aa88"/><stop offset="0.6103" stop-color="#00aaa3"/><stop offset="0.6141" stop-color="#00aaaa"/><stop offset="0.6253" stop-color="#00a0c9"/><stop offset="0.6404" stop-color="#0099dd"/><stop offset="0.6479" stop-color="#0092dd"/><stop offset="0.6667" stop-color="#0077dd"/><stop offset="0.6817" stop-color="#0030dd"/><stop offset="0.6918" stop-color="#0000dd"/><stop offset="0.6968" stop-color="#0000d3"/><stop offset="0.7419" stop-color="#0000c9"/><stop offset="0.7444" stop-color="#0000c9"/><stop offset="0.7445" stop-color="#0000dd"/><stop offset="0.7448" stop-color="#0077dd"/><stop offset="0.7451" stop-color="#0099dd"/><stop offset="0.7453" stop-color="#00a3be"/><stop offset="0.7551" stop-color="#00a3be"/><stop offset="0.7553" stop-color="#0099dd"/><stop offset="0.7556" stop-color="#0077dd"/><stop offset="0.7559" stop-color="#0000dd"/><stop offset="0.7560" stop-color="#0000c9"/><stop offset="0.7598" stop-color="#0000c9"/><stop offset="0.7599" stop-color="#0000dd"/><stop offset="0.7602" stop-color="#0077dd"/><stop offset="0.7606" stop-color="#0099dd"/><stop offset="0.7607" stop-color="#00a0c9"/><stop offset="0.7712" stop-color="#00a0c9"/><stop offset="0.7714" stop-color="#0099dd"/><stop offset="0.7717" stop-color="#0077dd"/><stop offset="0.7720" stop-color="#0000dd"/><stop offset="0.7722" stop-color="#0000c9"/><stop offset="0.7733" stop-color="#0000c9"/><stop offset="0.7738" stop-color="#0000dd"/><stop offset="0.7743" stop-color="#0030dd"/><stop offset="0.7771" stop-color="#0030dd"/><stop offset="0.7774" stop-color="#0077dd"/><stop offset="0.7779" stop-color="#0099dd"/><stop offset="0.7780" stop-color="#009cd3"/><stop offset="0.7915" stop-color="#009cd3"/><stop offset="0.7916" stop-color="#0099dd"/><stop offset="0.7920" stop-color="#0077dd"/><stop offset="0.7923" stop-color="#0000dd"/><stop offset="0.7925" stop-color="#0000c9"/><stop offset="0.8021" stop-color="#0000c9"/><stop offset="0.8038" stop-color="#0000c2"/><stop offset="0.8040" stop-color="#0000dd"/><stop offset="0.8043" stop-color="#0077dd"/><stop offset="0.8046" stop-color="#0099dd"/><stop offset="0.8047" stop-color="#009cd3"/><stop offset="0.8115" stop-color="#009cd3"/><stop offset="0.8115" stop-color="#0099dd"/><stop offset="0.8118" stop-color="#0077dd"/><stop offset="0.8121" stop-color="#0000dd"/><stop offset="0.8124" stop-color="#0000aa"/><stop offset="0.8124" stop-color="#0700a9"/><stop offset="0.8209" stop-color="#1b00a7"/><stop offset="0.8223" stop-color="#880099"/><stop offset="0.8242" stop-color="#770088"/><stop offset="0.8246" stop-color="#580065"/><stop offset="0.8698" stop-color="#470052"/><stop offset="0.9262" stop-color="#390041"/><stop offset="0.9638" stop-color="#240029"/><stop offset="1.0000" stop-color="#040005"/></linearGradient><linearGradient id="gR18" gradientUnits="userSpaceOnUse" x1="328.9" y1="0" x2="595.0" y2="0"><stop offset="0.0000" stop-color="#770088"/><stop offset="0.0027" stop-color="#770088"/><stop offset="0.0042" stop-color="#040005"/><stop offset="0.1929" stop-color="#040005"/><stop offset="0.2004" stop-color="#18001b"/><stop offset="0.2080" stop-color="#3c0044"/><stop offset="0.2127" stop-color="#770088"/><stop offset="0.2136" stop-color="#79008a"/><stop offset="0.2192" stop-color="#800090"/><stop offset="0.2286" stop-color="#830094"/><stop offset="0.2295" stop-color="#880099"/><stop offset="0.2324" stop-color="#0000aa"/><stop offset="0.2362" stop-color="#0000dd"/><stop offset="0.2437" stop-color="#0047dd"/><stop offset="0.2487" stop-color="#0077dd"/><stop offset="0.2512" stop-color="#007edd"/><stop offset="0.2625" stop-color="#008fdd"/><stop offset="0.2713" stop-color="#0099dd"/><stop offset="0.2756" stop-color="#009cd5"/><stop offset="0.2907" stop-color="#00a3be"/><stop offset="0.3245" stop-color="#00aaaa"/><stop offset="0.3885" stop-color="#00aa99"/><stop offset="0.4110" stop-color="#00aa88"/><stop offset="0.4223" stop-color="#009c1b"/><stop offset="0.4240" stop-color="#009900"/><stop offset="0.4317" stop-color="#00b800"/><stop offset="0.4373" stop-color="#00b100"/><stop offset="0.4449" stop-color="#00a300"/><stop offset="0.4646" stop-color="#00bb00"/><stop offset="0.4674" stop-color="#00be00"/><stop offset="0.5313" stop-color="#00c200"/><stop offset="0.5360" stop-color="#00bb00"/><stop offset="0.5501" stop-color="#00a700"/><stop offset="0.5614" stop-color="#009c00"/><stop offset="0.5652" stop-color="#009900"/><stop offset="0.5727" stop-color="#009c1b"/><stop offset="0.5877" stop-color="#00aa88"/><stop offset="0.6103" stop-color="#00aaa3"/><stop offset="0.6141" stop-color="#00aaaa"/><stop offset="0.6253" stop-color="#00a0c9"/><stop offset="0.6404" stop-color="#0099dd"/><stop offset="0.6479" stop-color="#0092dd"/><stop offset="0.6667" stop-color="#0077dd"/><stop offset="0.6817" stop-color="#0030dd"/><stop offset="0.6918" stop-color="#0000dd"/><stop offset="0.6968" stop-color="#0000d3"/><stop offset="0.7419" stop-color="#0000c9"/><stop offset="0.7444" stop-color="#0000c9"/><stop offset="0.7445" stop-color="#0000dd"/><stop offset="0.7448" stop-color="#0077dd"/><stop offset="0.7451" stop-color="#0099dd"/><stop offset="0.7453" stop-color="#00a3be"/><stop offset="0.7551" stop-color="#00a3be"/><stop offset="0.7553" stop-color="#0099dd"/><stop offset="0.7556" stop-color="#0077dd"/><stop offset="0.7559" stop-color="#0000dd"/><stop offset="0.7560" stop-color="#0000c9"/><stop offset="0.7598" stop-color="#0000c9"/><stop offset="0.7599" stop-color="#0000dd"/><stop offset="0.7602" stop-color="#0077dd"/><stop offset="0.7606" stop-color="#0099dd"/><stop offset="0.7607" stop-color="#00a0c9"/><stop offset="0.7712" stop-color="#00a0c9"/><stop offset="0.7714" stop-color="#0099dd"/><stop offset="0.7717" stop-color="#0077dd"/><stop offset="0.7720" stop-color="#0000dd"/><stop offset="0.7722" stop-color="#0000c9"/><stop offset="0.7733" stop-color="#0000c9"/><stop offset="0.7738" stop-color="#0000dd"/><stop offset="0.7743" stop-color="#0030dd"/><stop offset="0.7771" stop-color="#0030dd"/><stop offset="0.7774" stop-color="#0077dd"/><stop offset="0.7779" stop-color="#0099dd"/><stop offset="0.7780" stop-color="#009cd3"/><stop offset="0.7915" stop-color="#009cd3"/><stop offset="0.7916" stop-color="#0099dd"/><stop offset="0.7920" stop-color="#0077dd"/><stop offset="0.7923" stop-color="#0000dd"/><stop offset="0.7925" stop-color="#0000c9"/><stop offset="0.8021" stop-color="#0000c9"/><stop offset="0.8038" stop-color="#0000c2"/><stop offset="0.8040" stop-color="#0000dd"/><stop offset="0.8043" stop-color="#0077dd"/><stop offset="0.8046" stop-color="#0099dd"/><stop offset="0.8047" stop-color="#009cd3"/><stop offset="0.8115" stop-color="#009cd3"/><stop offset="0.8115" stop-color="#0099dd"/><stop offset="0.8118" stop-color="#0077dd"/><stop offset="0.8121" stop-color="#0000dd"/><stop offset="0.8124" stop-color="#0000aa"/><stop offset="0.8124" stop-color="#0700a9"/><stop offset="0.8209" stop-color="#1b00a7"/><stop offset="0.8223" stop-color="#880099"/><stop offset="0.8242" stop-color="#770088"/><stop offset="0.8246" stop-color="#580065"/><stop offset="0.8698" stop-color="#470052"/><stop offset="0.9262" stop-color="#390041"/><stop offset="0.9638" stop-color="#240029"/><stop offset="1.0000" stop-color="#040005"/></linearGradient><linearGradient id="gR19" gradientUnits="userSpaceOnUse" x1="328.9" y1="0" x2="595.0" y2="0"><stop offset="0.0000" stop-color="#770088"/><stop offset="0.0027" stop-color="#770088"/><stop offset="0.0042" stop-color="#0c000e"/><stop offset="0.1929" stop-color="#0c000e"/><stop offset="0.2305" stop-color="#240029"/><stop offset="0.2869" stop-color="#34003c"/><stop offset="0.3245" stop-color="#400049"/><stop offset="0.4937" stop-color="#43004c"/><stop offset="0.5313" stop-color="#300036"/><stop offset="0.6065" stop-color="#240029"/><stop offset="0.7946" stop-color="#1d0021"/><stop offset="0.9450" stop-color="#130016"/><stop offset="1.0000" stop-color="#130016"/></linearGradient><linearGradient id="gR20" gradientUnits="userSpaceOnUse" x1="328.9" y1="0" x2="595.0" y2="0"><stop offset="0.0000" stop-color="#770088"/><stop offset="0.0027" stop-color="#770088"/><stop offset="0.0042" stop-color="#0e0010"/><stop offset="0.1929" stop-color="#0e0010"/><stop offset="0.2305" stop-color="#150018"/><stop offset="0.4937" stop-color="#18001b"/><stop offset="0.5689" stop-color="#110013"/><stop offset="0.9450" stop-color="#0a000b"/><stop offset="1.0000" stop-color="#0a000b"/></linearGradient><linearGradient id="gR21" gradientUnits="userSpaceOnUse" x1="328.9" y1="0" x2="595.0" y2="0"><stop offset="0.0000" stop-color="#770088"/><stop offset="0.0027" stop-color="#770088"/><stop offset="0.0042" stop-color="#040005"/><stop offset="0.1910" stop-color="#040005"/><stop offset="0.1948" stop-color="#240029"/><stop offset="0.1986" stop-color="#770088"/><stop offset="0.2042" stop-color="#810092"/><stop offset="0.2072" stop-color="#850096"/><stop offset="0.2074" stop-color="#880099"/><stop offset="0.2086" stop-color="#0000aa"/><stop offset="0.2095" stop-color="#0000d3"/><stop offset="0.2108" stop-color="#0000dd"/><stop offset="0.2136" stop-color="#0030dd"/><stop offset="0.2147" stop-color="#0077dd"/><stop offset="0.2166" stop-color="#0099dd"/><stop offset="0.2229" stop-color="#00aaaa"/><stop offset="0.2241" stop-color="#00aaa3"/><stop offset="0.2258" stop-color="#00aa88"/><stop offset="0.2279" stop-color="#009900"/><stop offset="0.2293" stop-color="#00bb00"/><stop offset="0.2308" stop-color="#00dd00"/><stop offset="0.2317" stop-color="#00f100"/><stop offset="0.2418" stop-color="#00ff00"/><stop offset="0.2568" stop-color="#5dff00"/><stop offset="0.2636" stop-color="#bbff00"/><stop offset="0.2662" stop-color="#c5fc00"/><stop offset="0.2756" stop-color="#daf500"/><stop offset="0.3621" stop-color="#e4f100"/><stop offset="0.3753" stop-color="#eeee00"/><stop offset="0.3885" stop-color="#f1e700"/><stop offset="0.4110" stop-color="#f5df00"/><stop offset="0.4486" stop-color="#f5df00"/><stop offset="0.4787" stop-color="#eeee00"/><stop offset="0.5107" stop-color="#cafa00"/><stop offset="0.5184" stop-color="#bbff00"/><stop offset="0.5313" stop-color="#5dff00"/><stop offset="0.5539" stop-color="#00ff00"/><stop offset="0.5877" stop-color="#00eb00"/><stop offset="0.6028" stop-color="#00dd00"/><stop offset="0.6253" stop-color="#00c900"/><stop offset="0.6366" stop-color="#00bb00"/><stop offset="0.6479" stop-color="#00ad00"/><stop offset="0.6592" stop-color="#009900"/><stop offset="0.6705" stop-color="#00aa88"/><stop offset="0.6930" stop-color="#00aaaa"/><stop offset="0.7194" stop-color="#009cd3"/><stop offset="0.7288" stop-color="#0099dd"/><stop offset="0.7382" stop-color="#0092dd"/><stop offset="0.7429" stop-color="#0091dd"/><stop offset="0.7431" stop-color="#0099dd"/><stop offset="0.7438" stop-color="#00a3be"/><stop offset="0.7476" stop-color="#00a3be"/><stop offset="0.7482" stop-color="#0099dd"/><stop offset="0.7485" stop-color="#0090dd"/><stop offset="0.7571" stop-color="#008fdd"/><stop offset="0.7575" stop-color="#0077dd"/><stop offset="0.7581" stop-color="#0000dd"/><stop offset="0.7611" stop-color="#0000dd"/><stop offset="0.7616" stop-color="#0077dd"/><stop offset="0.7620" stop-color="#008edd"/><stop offset="0.7692" stop-color="#008ddd"/><stop offset="0.7695" stop-color="#0099dd"/><stop offset="0.7701" stop-color="#00a3be"/><stop offset="0.7739" stop-color="#00a3be"/><stop offset="0.7744" stop-color="#0099dd"/><stop offset="0.7748" stop-color="#008cdd"/><stop offset="0.7831" stop-color="#008add"/><stop offset="0.7834" stop-color="#0077dd"/><stop offset="0.7840" stop-color="#0000dd"/><stop offset="0.7870" stop-color="#0000dd"/><stop offset="0.7876" stop-color="#0077dd"/><stop offset="0.7880" stop-color="#008add"/><stop offset="0.7947" stop-color="#0088dd"/><stop offset="0.7953" stop-color="#0099dd"/><stop offset="0.7957" stop-color="#00a0c9"/><stop offset="0.7987" stop-color="#00a0c9"/><stop offset="0.7991" stop-color="#0099dd"/><stop offset="0.7996" stop-color="#0088dd"/><stop offset="0.8015" stop-color="#0087dd"/><stop offset="0.8018" stop-color="#0077dd"/><stop offset="0.8025" stop-color="#0000dd"/><stop offset="0.8055" stop-color="#0000dd"/><stop offset="0.8061" stop-color="#0077dd"/><stop offset="0.8064" stop-color="#0086dd"/><stop offset="0.8105" stop-color="#0086dd"/><stop offset="0.8111" stop-color="#0099dd"/><stop offset="0.8115" stop-color="#00a0c9"/><stop offset="0.8152" stop-color="#00a0c9"/><stop offset="0.8156" stop-color="#0099dd"/><stop offset="0.8162" stop-color="#0085dd"/><stop offset="0.8171" stop-color="#0085dd"/><stop offset="0.8196" stop-color="#0077dd"/><stop offset="0.8259" stop-color="#0000dd"/><stop offset="0.8284" stop-color="#0000c9"/><stop offset="0.8510" stop-color="#0000b9"/><stop offset="0.9074" stop-color="#0000af"/><stop offset="0.9174" stop-color="#0000aa"/><stop offset="0.9374" stop-color="#1b00a7"/><stop offset="0.9412" stop-color="#880099"/><stop offset="0.9431" stop-color="#810092"/><stop offset="0.9638" stop-color="#7e008f"/><stop offset="0.9738" stop-color="#770088"/><stop offset="0.9788" stop-color="#5f006d"/><stop offset="0.9938" stop-color="#240029"/><stop offset="1.0000" stop-color="#040005"/></linearGradient><linearGradient id="bL0" gradientUnits="userSpaceOnUse" x1="48.7" y1="0" x2="315.0" y2="0"><stop offset="0.0000" stop-color="#770088"/><stop offset="0.0027" stop-color="#770088"/><stop offset="0.0042" stop-color="#140016"/><stop offset="0.1908" stop-color="#140016"/><stop offset="0.1926" stop-color="#1a001e"/><stop offset="0.1945" stop-color="#1f0024"/><stop offset="0.1983" stop-color="#3f0048"/><stop offset="0.2050" stop-color="#630071"/><stop offset="0.2057" stop-color="#770088"/><stop offset="0.2077" stop-color="#800091"/><stop offset="0.2094" stop-color="#880099"/><stop offset="0.2095" stop-color="#83009a"/><stop offset="0.2133" stop-color="#68009d"/><stop offset="0.2158" stop-color="#0000aa"/><stop offset="0.2159" stop-color="#0000ac"/><stop offset="0.2200" stop-color="#0000c0"/><stop offset="0.2214" stop-color="#0000dd"/><stop offset="0.2227" stop-color="#0040dd"/><stop offset="0.2239" stop-color="#0077dd"/><stop offset="0.2257" stop-color="#008ddd"/><stop offset="0.2302" stop-color="#0093dd"/><stop offset="0.2347" stop-color="#0099dd"/><stop offset="0.2358" stop-color="#009adb"/><stop offset="0.2520" stop-color="#009dd0"/><stop offset="0.2621" stop-color="#00a4bc"/><stop offset="0.2677" stop-color="#00a6b5"/><stop offset="0.2715" stop-color="#00a8b1"/><stop offset="0.3980" stop-color="#00aaaa"/><stop offset="0.3991" stop-color="#00aaaa"/><stop offset="0.4179" stop-color="#00aaa3"/><stop offset="0.4217" stop-color="#00aaa2"/><stop offset="0.4367" stop-color="#00aaa2"/><stop offset="0.4705" stop-color="#00aaa1"/><stop offset="0.4930" stop-color="#00aaa8"/><stop offset="0.5022" stop-color="#00aaaa"/><stop offset="0.5193" stop-color="#00a8b1"/><stop offset="0.5456" stop-color="#00a2c2"/><stop offset="0.5606" stop-color="#009bd7"/><stop offset="0.5643" stop-color="#0099dc"/><stop offset="0.5669" stop-color="#0099dd"/><stop offset="0.5794" stop-color="#0094dd"/><stop offset="0.5906" stop-color="#008fdd"/><stop offset="0.6132" stop-color="#0079dd"/><stop offset="0.6181" stop-color="#0077dd"/><stop offset="0.6394" stop-color="#0056dd"/><stop offset="0.6507" stop-color="#0038dd"/><stop offset="0.6625" stop-color="#0000dd"/><stop offset="0.6657" stop-color="#0000d7"/><stop offset="0.6958" stop-color="#0000c2"/><stop offset="0.7183" stop-color="#0000b5"/><stop offset="0.7296" stop-color="#0000ae"/><stop offset="0.7416" stop-color="#0000aa"/><stop offset="0.7446" stop-color="#0300aa"/><stop offset="0.7560" stop-color="#0300aa"/><stop offset="0.7570" stop-color="#7d009a"/><stop offset="0.7600" stop-color="#7d009a"/><stop offset="0.7609" stop-color="#0300aa"/><stop offset="0.7819" stop-color="#0300aa"/><stop offset="0.7829" stop-color="#7d009a"/><stop offset="0.7859" stop-color="#7d009a"/><stop offset="0.7868" stop-color="#0300aa"/><stop offset="0.7936" stop-color="#0300aa"/><stop offset="0.7945" stop-color="#7d009a"/><stop offset="0.7975" stop-color="#7d009a"/><stop offset="0.7985" stop-color="#0300aa"/><stop offset="0.8003" stop-color="#0300aa"/><stop offset="0.8012" stop-color="#880099"/><stop offset="0.8013" stop-color="#880099"/><stop offset="0.8043" stop-color="#880099"/><stop offset="0.8052" stop-color="#0300aa"/><stop offset="0.8178" stop-color="#0300aa"/><stop offset="0.8215" stop-color="#62009e"/><stop offset="0.8223" stop-color="#880099"/><stop offset="0.8249" stop-color="#770088"/><stop offset="0.8253" stop-color="#630071"/><stop offset="0.8309" stop-color="#620070"/><stop offset="0.9060" stop-color="#5d006a"/><stop offset="0.9323" stop-color="#4b0056"/><stop offset="0.9548" stop-color="#27002d"/><stop offset="0.9736" stop-color="#18001b"/><stop offset="0.9999" stop-color="#140016"/></linearGradient><linearGradient id="bL2" gradientUnits="userSpaceOnUse" x1="48.7" y1="0" x2="315.0" y2="0"><stop offset="0.0000" stop-color="#770088"/><stop offset="0.0027" stop-color="#770088"/><stop offset="0.0042" stop-color="#150018"/><stop offset="0.1926" stop-color="#150018"/><stop offset="0.1964" stop-color="#160019"/><stop offset="0.2001" stop-color="#17001a"/><stop offset="0.2077" stop-color="#2a0030"/><stop offset="0.2133" stop-color="#4f005a"/><stop offset="0.2189" stop-color="#670076"/><stop offset="0.2283" stop-color="#740085"/><stop offset="0.2284" stop-color="#770088"/><stop offset="0.2302" stop-color="#7c008d"/><stop offset="0.2321" stop-color="#820093"/><stop offset="0.2348" stop-color="#880099"/><stop offset="0.2358" stop-color="#76009b"/><stop offset="0.2433" stop-color="#4d00a0"/><stop offset="0.2508" stop-color="#2300a6"/><stop offset="0.2621" stop-color="#0000aa"/><stop offset="0.2623" stop-color="#0000aa"/><stop offset="0.2752" stop-color="#0000b6"/><stop offset="0.2903" stop-color="#0000c2"/><stop offset="0.3053" stop-color="#0000c7"/><stop offset="0.3240" stop-color="#0000cd"/><stop offset="0.3804" stop-color="#0000db"/><stop offset="0.3822" stop-color="#0000db"/><stop offset="0.3857" stop-color="#0000dd"/><stop offset="0.4048" stop-color="#001add"/><stop offset="0.4160" stop-color="#004add"/><stop offset="0.4219" stop-color="#0077dd"/><stop offset="0.4254" stop-color="#007fdd"/><stop offset="0.4311" stop-color="#007bdd"/><stop offset="0.4359" stop-color="#0077dd"/><stop offset="0.4367" stop-color="#0075dd"/><stop offset="0.4386" stop-color="#006fdd"/><stop offset="0.4425" stop-color="#0077dd"/><stop offset="0.4611" stop-color="#0082dd"/><stop offset="0.5193" stop-color="#0084dd"/><stop offset="0.5368" stop-color="#0077dd"/><stop offset="0.5381" stop-color="#0074dd"/><stop offset="0.5493" stop-color="#005cdd"/><stop offset="0.5606" stop-color="#004add"/><stop offset="0.5681" stop-color="#0032dd"/><stop offset="0.5756" stop-color="#001add"/><stop offset="0.5878" stop-color="#0000dd"/><stop offset="0.5981" stop-color="#0000d4"/><stop offset="0.6132" stop-color="#0000bf"/><stop offset="0.6357" stop-color="#0000b0"/><stop offset="0.6407" stop-color="#0000aa"/><stop offset="0.6545" stop-color="#2800a5"/><stop offset="0.6695" stop-color="#5100a0"/><stop offset="0.6807" stop-color="#70009c"/><stop offset="0.6845" stop-color="#7b009b"/><stop offset="0.7325" stop-color="#880099"/><stop offset="0.7408" stop-color="#880099"/><stop offset="0.7414" stop-color="#880099"/><stop offset="0.7420" stop-color="#0000aa"/><stop offset="0.7423" stop-color="#0000c3"/><stop offset="0.7483" stop-color="#0000c3"/><stop offset="0.7486" stop-color="#0000aa"/><stop offset="0.7493" stop-color="#880099"/><stop offset="0.7571" stop-color="#880099"/><stop offset="0.7572" stop-color="#880099"/><stop offset="0.7578" stop-color="#0000aa"/><stop offset="0.7581" stop-color="#0000bd"/><stop offset="0.7633" stop-color="#0000bd"/><stop offset="0.7636" stop-color="#0000aa"/><stop offset="0.7643" stop-color="#880099"/><stop offset="0.7699" stop-color="#880099"/><stop offset="0.7707" stop-color="#0000aa"/><stop offset="0.7709" stop-color="#0000b8"/><stop offset="0.7784" stop-color="#0000b8"/><stop offset="0.7786" stop-color="#0000aa"/><stop offset="0.7793" stop-color="#880099"/><stop offset="0.7840" stop-color="#870098"/><stop offset="0.7840" stop-color="#880099"/><stop offset="0.7849" stop-color="#1f00a6"/><stop offset="0.7859" stop-color="#1f00a6"/><stop offset="0.7883" stop-color="#2200a6"/><stop offset="0.7892" stop-color="#880099"/><stop offset="0.7893" stop-color="#870098"/><stop offset="0.7943" stop-color="#860097"/><stop offset="0.7944" stop-color="#880099"/><stop offset="0.7950" stop-color="#0000aa"/><stop offset="0.7953" stop-color="#0000be"/><stop offset="0.8013" stop-color="#0000be"/><stop offset="0.8015" stop-color="#0000aa"/><stop offset="0.8021" stop-color="#880099"/><stop offset="0.8022" stop-color="#850096"/><stop offset="0.8084" stop-color="#810092"/><stop offset="0.8097" stop-color="#810092"/><stop offset="0.8107" stop-color="#79008a"/><stop offset="0.8137" stop-color="#79008a"/><stop offset="0.8146" stop-color="#800091"/><stop offset="0.8197" stop-color="#7f0090"/><stop offset="0.8217" stop-color="#770088"/><stop offset="0.8234" stop-color="#43004d"/><stop offset="0.8497" stop-color="#3c0044"/><stop offset="0.8872" stop-color="#33003b"/><stop offset="0.9060" stop-color="#2f0036"/><stop offset="0.9248" stop-color="#2b0031"/><stop offset="0.9511" stop-color="#230027"/><stop offset="0.9811" stop-color="#19001d"/><stop offset="0.9999" stop-color="#150018"/></linearGradient><linearGradient id="bL18" gradientUnits="userSpaceOnUse" x1="48.7" y1="0" x2="315.0" y2="0"><stop offset="0.0000" stop-color="#770088"/><stop offset="0.0027" stop-color="#770088"/><stop offset="0.0042" stop-color="#140017"/><stop offset="0.1157" stop-color="#140017"/><stop offset="0.1168" stop-color="#0e0010"/><stop offset="0.1281" stop-color="#0e0010"/><stop offset="0.1292" stop-color="#140017"/><stop offset="0.1656" stop-color="#140017"/><stop offset="0.1664" stop-color="#0e0010"/><stop offset="0.1701" stop-color="#0e0010"/><stop offset="0.1709" stop-color="#140017"/><stop offset="0.1889" stop-color="#140017"/><stop offset="0.1908" stop-color="#0e0010"/><stop offset="0.1926" stop-color="#0e0010"/><stop offset="0.2001" stop-color="#0f0012"/><stop offset="0.2077" stop-color="#210026"/><stop offset="0.2133" stop-color="#45004f"/><stop offset="0.2189" stop-color="#690078"/><stop offset="0.2283" stop-color="#750086"/><stop offset="0.2284" stop-color="#770088"/><stop offset="0.2321" stop-color="#820093"/><stop offset="0.2348" stop-color="#880099"/><stop offset="0.2358" stop-color="#75009b"/><stop offset="0.2433" stop-color="#4c00a1"/><stop offset="0.2508" stop-color="#2200a6"/><stop offset="0.2619" stop-color="#0000aa"/><stop offset="0.2621" stop-color="#0000aa"/><stop offset="0.2752" stop-color="#0000b6"/><stop offset="0.2903" stop-color="#0000c2"/><stop offset="0.3053" stop-color="#0000c7"/><stop offset="0.3240" stop-color="#0000cd"/><stop offset="0.3654" stop-color="#0000dc"/><stop offset="0.3675" stop-color="#0000dd"/><stop offset="0.3879" stop-color="#001ddd"/><stop offset="0.3991" stop-color="#004ddd"/><stop offset="0.4038" stop-color="#0077dd"/><stop offset="0.4085" stop-color="#0083dd"/><stop offset="0.4142" stop-color="#0080dd"/><stop offset="0.4217" stop-color="#0079dd"/><stop offset="0.4442" stop-color="#0087dd"/><stop offset="0.4742" stop-color="#0087dd"/><stop offset="0.5193" stop-color="#0087dd"/><stop offset="0.5306" stop-color="#007fdd"/><stop offset="0.5381" stop-color="#0079dd"/><stop offset="0.5404" stop-color="#0077dd"/><stop offset="0.5493" stop-color="#005add"/><stop offset="0.5606" stop-color="#0047dd"/><stop offset="0.5756" stop-color="#0016dd"/><stop offset="0.5855" stop-color="#0000dd"/><stop offset="0.5981" stop-color="#0000d1"/><stop offset="0.6056" stop-color="#0000c7"/><stop offset="0.6132" stop-color="#0000bc"/><stop offset="0.6357" stop-color="#0000ad"/><stop offset="0.6383" stop-color="#0000aa"/><stop offset="0.6545" stop-color="#2f00a4"/><stop offset="0.6695" stop-color="#58009f"/><stop offset="0.6845" stop-color="#82009a"/><stop offset="0.7090" stop-color="#880099"/><stop offset="0.7408" stop-color="#870098"/><stop offset="0.7414" stop-color="#870098"/><stop offset="0.7414" stop-color="#880099"/><stop offset="0.7420" stop-color="#0000aa"/><stop offset="0.7423" stop-color="#0000c0"/><stop offset="0.7483" stop-color="#0000c0"/><stop offset="0.7486" stop-color="#0000aa"/><stop offset="0.7492" stop-color="#880099"/><stop offset="0.7493" stop-color="#870098"/><stop offset="0.7571" stop-color="#870098"/><stop offset="0.7572" stop-color="#880099"/><stop offset="0.7579" stop-color="#0000aa"/><stop offset="0.7581" stop-color="#0000bb"/><stop offset="0.7633" stop-color="#0000bb"/><stop offset="0.7636" stop-color="#0000aa"/><stop offset="0.7642" stop-color="#880099"/><stop offset="0.7643" stop-color="#870098"/><stop offset="0.7699" stop-color="#870098"/><stop offset="0.7700" stop-color="#880099"/><stop offset="0.7707" stop-color="#0000aa"/><stop offset="0.7709" stop-color="#0000b6"/><stop offset="0.7784" stop-color="#0000b6"/><stop offset="0.7785" stop-color="#0000aa"/><stop offset="0.7793" stop-color="#880099"/><stop offset="0.7793" stop-color="#870098"/><stop offset="0.7840" stop-color="#870098"/><stop offset="0.7841" stop-color="#880099"/><stop offset="0.7849" stop-color="#2500a5"/><stop offset="0.7883" stop-color="#2500a5"/><stop offset="0.7892" stop-color="#880099"/><stop offset="0.7893" stop-color="#870098"/><stop offset="0.7934" stop-color="#870098"/><stop offset="0.7943" stop-color="#870098"/><stop offset="0.7944" stop-color="#880099"/><stop offset="0.7950" stop-color="#0000aa"/><stop offset="0.7953" stop-color="#0000c0"/><stop offset="0.8013" stop-color="#0000c0"/><stop offset="0.8015" stop-color="#0000aa"/><stop offset="0.8021" stop-color="#880099"/><stop offset="0.8022" stop-color="#860097"/><stop offset="0.8084" stop-color="#820093"/><stop offset="0.8097" stop-color="#810092"/><stop offset="0.8107" stop-color="#79008a"/><stop offset="0.8137" stop-color="#79008a"/><stop offset="0.8146" stop-color="#810092"/><stop offset="0.8197" stop-color="#800091"/><stop offset="0.8218" stop-color="#770088"/><stop offset="0.8234" stop-color="#470051"/><stop offset="0.8497" stop-color="#3f0048"/><stop offset="0.8872" stop-color="#36003d"/><stop offset="0.9248" stop-color="#2c0033"/><stop offset="0.9436" stop-color="#26002c"/><stop offset="0.9511" stop-color="#240029"/><stop offset="0.9811" stop-color="#1a001e"/><stop offset="0.9999" stop-color="#160019"/></linearGradient><linearGradient id="bL19" gradientUnits="userSpaceOnUse" x1="48.7" y1="0" x2="315.0" y2="0"><stop offset="0.0000" stop-color="#770088"/><stop offset="0.0027" stop-color="#770088"/><stop offset="0.0042" stop-color="#140017"/><stop offset="0.1157" stop-color="#140017"/><stop offset="0.1168" stop-color="#0e0010"/><stop offset="0.1281" stop-color="#0e0010"/><stop offset="0.1292" stop-color="#140017"/><stop offset="0.1656" stop-color="#140017"/><stop offset="0.1664" stop-color="#0e0010"/><stop offset="0.1701" stop-color="#0e0010"/><stop offset="0.1709" stop-color="#140017"/><stop offset="0.1870" stop-color="#140017"/><stop offset="0.1889" stop-color="#17001a"/><stop offset="0.1908" stop-color="#130016"/><stop offset="0.1926" stop-color="#150018"/><stop offset="0.1994" stop-color="#3f0048"/><stop offset="0.2039" stop-color="#5d006a"/><stop offset="0.2084" stop-color="#6f007e"/><stop offset="0.2086" stop-color="#770088"/><stop offset="0.2107" stop-color="#870098"/><stop offset="0.2116" stop-color="#880099"/><stop offset="0.2133" stop-color="#78009b"/><stop offset="0.2148" stop-color="#65009d"/><stop offset="0.2170" stop-color="#0e00a8"/><stop offset="0.2183" stop-color="#0000aa"/><stop offset="0.2189" stop-color="#0000ad"/><stop offset="0.2246" stop-color="#0000c0"/><stop offset="0.2276" stop-color="#0000dd"/><stop offset="0.2283" stop-color="#0010dd"/><stop offset="0.2305" stop-color="#0077dd"/><stop offset="0.2321" stop-color="#008ddd"/><stop offset="0.2361" stop-color="#0099dd"/><stop offset="0.2377" stop-color="#009bd6"/><stop offset="0.2520" stop-color="#009fcb"/><stop offset="0.2621" stop-color="#00a6b7"/><stop offset="0.2715" stop-color="#00a9ac"/><stop offset="0.2940" stop-color="#00aaaa"/><stop offset="0.3053" stop-color="#00aaa9"/><stop offset="0.3991" stop-color="#00aaa3"/><stop offset="0.4217" stop-color="#00aa9b"/><stop offset="0.4705" stop-color="#00aa99"/><stop offset="0.4742" stop-color="#00aa9a"/><stop offset="0.4930" stop-color="#00aaa0"/><stop offset="0.5193" stop-color="#00aaa7"/><stop offset="0.5249" stop-color="#00aaaa"/><stop offset="0.5306" stop-color="#00a9ae"/><stop offset="0.5456" stop-color="#00a5b9"/><stop offset="0.5643" stop-color="#009cd3"/><stop offset="0.5780" stop-color="#0099dd"/><stop offset="0.5906" stop-color="#0093dd"/><stop offset="0.6056" stop-color="#0084dd"/><stop offset="0.6132" stop-color="#007cdd"/><stop offset="0.6249" stop-color="#0077dd"/><stop offset="0.6394" stop-color="#0060dd"/><stop offset="0.6507" stop-color="#0042dd"/><stop offset="0.6645" stop-color="#0000dd"/><stop offset="0.6657" stop-color="#0000da"/><stop offset="0.6958" stop-color="#0000c6"/><stop offset="0.7296" stop-color="#0000b1"/><stop offset="0.7446" stop-color="#0000ac"/><stop offset="0.7560" stop-color="#0000ac"/><stop offset="0.7561" stop-color="#0000aa"/><stop offset="0.7570" stop-color="#76009b"/><stop offset="0.7600" stop-color="#76009b"/><stop offset="0.7609" stop-color="#0000aa"/><stop offset="0.7609" stop-color="#0000ac"/><stop offset="0.7819" stop-color="#0000ac"/><stop offset="0.7820" stop-color="#0000aa"/><stop offset="0.7829" stop-color="#76009b"/><stop offset="0.7859" stop-color="#76009b"/><stop offset="0.7868" stop-color="#0000aa"/><stop offset="0.7868" stop-color="#0000ac"/><stop offset="0.7934" stop-color="#0000ac"/><stop offset="0.7936" stop-color="#0000ac"/><stop offset="0.7936" stop-color="#0000aa"/><stop offset="0.7945" stop-color="#76009b"/><stop offset="0.7975" stop-color="#76009b"/><stop offset="0.7984" stop-color="#0000aa"/><stop offset="0.7985" stop-color="#0000ab"/><stop offset="0.8003" stop-color="#0000ab"/><stop offset="0.8004" stop-color="#0000aa"/><stop offset="0.8013" stop-color="#840099"/><stop offset="0.8043" stop-color="#840099"/><stop offset="0.8052" stop-color="#0000aa"/><stop offset="0.8052" stop-color="#0000ab"/><stop offset="0.8178" stop-color="#0000ab"/><stop offset="0.8179" stop-color="#0000aa"/><stop offset="0.8215" stop-color="#5c009f"/><stop offset="0.8224" stop-color="#880099"/><stop offset="0.8250" stop-color="#770088"/><stop offset="0.8253" stop-color="#680077"/><stop offset="0.9060" stop-color="#60006e"/><stop offset="0.9323" stop-color="#4e0059"/><stop offset="0.9436" stop-color="#3c0044"/><stop offset="0.9548" stop-color="#2a0030"/><stop offset="0.9736" stop-color="#1a001e"/><stop offset="0.9999" stop-color="#160019"/></linearGradient><linearGradient id="bR1" gradientUnits="userSpaceOnUse" x1="328.9" y1="0" x2="595.0" y2="0"><stop offset="0.0000" stop-color="#770088"/><stop offset="0.0027" stop-color="#770088"/><stop offset="0.0042" stop-color="#060007"/><stop offset="0.1910" stop-color="#060007"/><stop offset="0.1929" stop-color="#0e0010"/><stop offset="0.1948" stop-color="#160019"/><stop offset="0.1986" stop-color="#41004a"/><stop offset="0.2042" stop-color="#660074"/><stop offset="0.2072" stop-color="#720083"/><stop offset="0.2073" stop-color="#770088"/><stop offset="0.2095" stop-color="#870098"/><stop offset="0.2099" stop-color="#880099"/><stop offset="0.2136" stop-color="#63009e"/><stop offset="0.2163" stop-color="#0000aa"/><stop offset="0.2166" stop-color="#0000ae"/><stop offset="0.2241" stop-color="#0000ce"/><stop offset="0.2254" stop-color="#0000dd"/><stop offset="0.2279" stop-color="#0048dd"/><stop offset="0.2290" stop-color="#0077dd"/><stop offset="0.2305" stop-color="#0089dd"/><stop offset="0.2317" stop-color="#0096dd"/><stop offset="0.2358" stop-color="#0099dd"/><stop offset="0.2418" stop-color="#009bd6"/><stop offset="0.2568" stop-color="#00a0c9"/><stop offset="0.2662" stop-color="#00a6b6"/><stop offset="0.2756" stop-color="#00aaab"/><stop offset="0.2822" stop-color="#00aaaa"/><stop offset="0.2869" stop-color="#00aaaa"/><stop offset="0.3621" stop-color="#00aaa5"/><stop offset="0.3809" stop-color="#00aaa0"/><stop offset="0.3885" stop-color="#00aa9e"/><stop offset="0.4110" stop-color="#00aa99"/><stop offset="0.4486" stop-color="#00aa99"/><stop offset="0.4561" stop-color="#00aa9b"/><stop offset="0.4787" stop-color="#00aaa1"/><stop offset="0.5028" stop-color="#00aaaa"/><stop offset="0.5107" stop-color="#00a8af"/><stop offset="0.5125" stop-color="#00a8b0"/><stop offset="0.5313" stop-color="#00a1c4"/><stop offset="0.5539" stop-color="#009dd2"/><stop offset="0.5689" stop-color="#009ada"/><stop offset="0.5762" stop-color="#0099dd"/><stop offset="0.5877" stop-color="#0095dd"/><stop offset="0.6253" stop-color="#0084dd"/><stop offset="0.6467" stop-color="#0077dd"/><stop offset="0.6479" stop-color="#0075dd"/><stop offset="0.6592" stop-color="#0050dd"/><stop offset="0.6705" stop-color="#0015dd"/><stop offset="0.6782" stop-color="#0000dd"/><stop offset="0.6930" stop-color="#0000cc"/><stop offset="0.7194" stop-color="#0000b7"/><stop offset="0.7382" stop-color="#0000ad"/><stop offset="0.7429" stop-color="#0000ac"/><stop offset="0.7438" stop-color="#0000c1"/><stop offset="0.7476" stop-color="#0000c1"/><stop offset="0.7485" stop-color="#0000ab"/><stop offset="0.7566" stop-color="#0000aa"/><stop offset="0.7571" stop-color="#0000aa"/><stop offset="0.7581" stop-color="#74009b"/><stop offset="0.7611" stop-color="#74009b"/><stop offset="0.7620" stop-color="#0200aa"/><stop offset="0.7692" stop-color="#0500a9"/><stop offset="0.7692" stop-color="#0000aa"/><stop offset="0.7701" stop-color="#0000c1"/><stop offset="0.7739" stop-color="#0000c0"/><stop offset="0.7747" stop-color="#0000aa"/><stop offset="0.7748" stop-color="#0700a9"/><stop offset="0.7831" stop-color="#0a00a9"/><stop offset="0.7840" stop-color="#75009b"/><stop offset="0.7870" stop-color="#75009b"/><stop offset="0.7880" stop-color="#0c00a8"/><stop offset="0.7947" stop-color="#0f00a8"/><stop offset="0.7950" stop-color="#0000aa"/><stop offset="0.7957" stop-color="#0000bb"/><stop offset="0.7987" stop-color="#0000bb"/><stop offset="0.7994" stop-color="#0000aa"/><stop offset="0.7996" stop-color="#1100a8"/><stop offset="0.8015" stop-color="#1200a8"/><stop offset="0.8025" stop-color="#76009b"/><stop offset="0.8055" stop-color="#76009b"/><stop offset="0.8064" stop-color="#1400a8"/><stop offset="0.8105" stop-color="#1500a7"/><stop offset="0.8108" stop-color="#0000aa"/><stop offset="0.8115" stop-color="#0000bb"/><stop offset="0.8152" stop-color="#0000bb"/><stop offset="0.8159" stop-color="#0000aa"/><stop offset="0.8162" stop-color="#1700a7"/><stop offset="0.8171" stop-color="#1800a7"/><stop offset="0.8274" stop-color="#880099"/><stop offset="0.8284" stop-color="#870098"/><stop offset="0.8322" stop-color="#860097"/><stop offset="0.8510" stop-color="#840095"/><stop offset="0.9074" stop-color="#820093"/><stop offset="0.9374" stop-color="#7f0090"/><stop offset="0.9420" stop-color="#770088"/><stop offset="0.9431" stop-color="#690078"/><stop offset="0.9450" stop-color="#680076"/><stop offset="0.9638" stop-color="#5d006a"/><stop offset="0.9788" stop-color="#390041"/><stop offset="0.9938" stop-color="#1b001f"/><stop offset="1.0000" stop-color="#0c000d"/></linearGradient><linearGradient id="bR2" gradientUnits="userSpaceOnUse" x1="328.9" y1="0" x2="595.0" y2="0"><stop offset="0.0000" stop-color="#770088"/><stop offset="0.0027" stop-color="#770088"/><stop offset="0.0042" stop-color="#060007"/><stop offset="0.1929" stop-color="#060007"/><stop offset="0.2004" stop-color="#110014"/><stop offset="0.2080" stop-color="#25002a"/><stop offset="0.2136" stop-color="#4a0055"/><stop offset="0.2192" stop-color="#630072"/><stop offset="0.2286" stop-color="#720082"/><stop offset="0.2289" stop-color="#770088"/><stop offset="0.2305" stop-color="#7c008d"/><stop offset="0.2324" stop-color="#810092"/><stop offset="0.2353" stop-color="#880099"/><stop offset="0.2362" stop-color="#78009b"/><stop offset="0.2437" stop-color="#4d00a0"/><stop offset="0.2512" stop-color="#2300a6"/><stop offset="0.2620" stop-color="#0000aa"/><stop offset="0.2625" stop-color="#0000ab"/><stop offset="0.2756" stop-color="#0000b7"/><stop offset="0.2869" stop-color="#0000c1"/><stop offset="0.2907" stop-color="#0000c4"/><stop offset="0.3245" stop-color="#0000cf"/><stop offset="0.3809" stop-color="#0000dc"/><stop offset="0.3856" stop-color="#0000dd"/><stop offset="0.3885" stop-color="#0001dd"/><stop offset="0.4110" stop-color="#0020dd"/><stop offset="0.4223" stop-color="#0050dd"/><stop offset="0.4291" stop-color="#0077dd"/><stop offset="0.4317" stop-color="#007bdd"/><stop offset="0.4373" stop-color="#0078dd"/><stop offset="0.4383" stop-color="#0077dd"/><stop offset="0.4449" stop-color="#0062dd"/><stop offset="0.4545" stop-color="#0077dd"/><stop offset="0.4561" stop-color="#0078dd"/><stop offset="0.4674" stop-color="#007fdd"/><stop offset="0.5125" stop-color="#007fdd"/><stop offset="0.5313" stop-color="#007fdd"/><stop offset="0.5421" stop-color="#0077dd"/><stop offset="0.5501" stop-color="#0062dd"/><stop offset="0.5614" stop-color="#005add"/><stop offset="0.5689" stop-color="#004ddd"/><stop offset="0.5727" stop-color="#0047dd"/><stop offset="0.5877" stop-color="#0017dd"/><stop offset="0.5986" stop-color="#0000dd"/><stop offset="0.6103" stop-color="#0000d2"/><stop offset="0.6253" stop-color="#0000be"/><stop offset="0.6479" stop-color="#0000ae"/><stop offset="0.6516" stop-color="#0000aa"/><stop offset="0.6667" stop-color="#2c00a4"/><stop offset="0.6817" stop-color="#56009f"/><stop offset="0.6968" stop-color="#7f009a"/><stop offset="0.7194" stop-color="#870099"/><stop offset="0.7232" stop-color="#880099"/><stop offset="0.7419" stop-color="#870098"/><stop offset="0.7444" stop-color="#870098"/><stop offset="0.7444" stop-color="#880099"/><stop offset="0.7450" stop-color="#0000aa"/><stop offset="0.7453" stop-color="#0000c1"/><stop offset="0.7551" stop-color="#0000c1"/><stop offset="0.7554" stop-color="#0000aa"/><stop offset="0.7560" stop-color="#880099"/><stop offset="0.7560" stop-color="#870098"/><stop offset="0.7598" stop-color="#870098"/><stop offset="0.7598" stop-color="#880099"/><stop offset="0.7605" stop-color="#0000aa"/><stop offset="0.7607" stop-color="#0000bc"/><stop offset="0.7712" stop-color="#0000bb"/><stop offset="0.7715" stop-color="#0000aa"/><stop offset="0.7721" stop-color="#880099"/><stop offset="0.7722" stop-color="#870098"/><stop offset="0.7733" stop-color="#870098"/><stop offset="0.7734" stop-color="#880099"/><stop offset="0.7743" stop-color="#5a009f"/><stop offset="0.7771" stop-color="#5a009f"/><stop offset="0.7778" stop-color="#0000aa"/><stop offset="0.7780" stop-color="#0000b6"/><stop offset="0.7915" stop-color="#0000b6"/><stop offset="0.7917" stop-color="#0000aa"/><stop offset="0.7924" stop-color="#880099"/><stop offset="0.7925" stop-color="#870098"/><stop offset="0.8021" stop-color="#870098"/><stop offset="0.8038" stop-color="#860097"/><stop offset="0.8039" stop-color="#880099"/><stop offset="0.8045" stop-color="#0000aa"/><stop offset="0.8047" stop-color="#0000b6"/><stop offset="0.8115" stop-color="#0000b6"/><stop offset="0.8116" stop-color="#0000aa"/><stop offset="0.8122" stop-color="#880099"/><stop offset="0.8124" stop-color="#810092"/><stop offset="0.8209" stop-color="#800091"/><stop offset="0.8228" stop-color="#770088"/><stop offset="0.8246" stop-color="#3b0043"/><stop offset="0.8322" stop-color="#390041"/><stop offset="0.8698" stop-color="#300037"/><stop offset="0.9262" stop-color="#27002c"/><stop offset="0.9450" stop-color="#210025"/><stop offset="0.9638" stop-color="#1b001f"/><stop offset="1.0000" stop-color="#0c000d"/></linearGradient><linearGradient id="bR14" gradientUnits="userSpaceOnUse" x1="328.9" y1="0" x2="595.0" y2="0"><stop offset="0.0000" stop-color="#770088"/><stop offset="0.0027" stop-color="#770088"/><stop offset="0.0042" stop-color="#050005"/><stop offset="0.1929" stop-color="#050005"/><stop offset="0.2004" stop-color="#0e0010"/><stop offset="0.2080" stop-color="#200025"/><stop offset="0.2136" stop-color="#44004e"/><stop offset="0.2192" stop-color="#5c0069"/><stop offset="0.2249" stop-color="#630071"/><stop offset="0.2251" stop-color="#770088"/><stop offset="0.2261" stop-color="#880099"/><stop offset="0.2271" stop-color="#0000aa"/><stop offset="0.2282" stop-color="#0000dd"/><stop offset="0.2286" stop-color="#0036dd"/><stop offset="0.2318" stop-color="#0077dd"/><stop offset="0.2324" stop-color="#007bdd"/><stop offset="0.2362" stop-color="#008cdd"/><stop offset="0.2437" stop-color="#0098dd"/><stop offset="0.2447" stop-color="#0099dd"/><stop offset="0.2512" stop-color="#009ece"/><stop offset="0.2625" stop-color="#00a3c0"/><stop offset="0.2681" stop-color="#00a4bc"/><stop offset="0.2756" stop-color="#00a6b6"/><stop offset="0.2907" stop-color="#00a9ad"/><stop offset="0.2949" stop-color="#00aaaa"/><stop offset="0.3245" stop-color="#00aa9e"/><stop offset="0.3621" stop-color="#00aa93"/><stop offset="0.3715" stop-color="#00aa8e"/><stop offset="0.3717" stop-color="#00aa88"/><stop offset="0.3727" stop-color="#009900"/><stop offset="0.3736" stop-color="#00bb00"/><stop offset="0.3742" stop-color="#00cd00"/><stop offset="0.3772" stop-color="#00cd00"/><stop offset="0.3778" stop-color="#00bb00"/><stop offset="0.3789" stop-color="#009900"/><stop offset="0.3798" stop-color="#00a666"/><stop offset="0.4073" stop-color="#00a245"/><stop offset="0.4185" stop-color="#009f2c"/><stop offset="0.4298" stop-color="#009b11"/><stop offset="0.4323" stop-color="#009900"/><stop offset="0.4411" stop-color="#00a800"/><stop offset="0.4505" stop-color="#00ba00"/><stop offset="0.4561" stop-color="#00b800"/><stop offset="0.4637" stop-color="#00b200"/><stop offset="0.4727" stop-color="#00bb00"/><stop offset="0.4862" stop-color="#00c800"/><stop offset="0.4937" stop-color="#00cb00"/><stop offset="0.5313" stop-color="#00cc00"/><stop offset="0.5389" stop-color="#00c700"/><stop offset="0.5450" stop-color="#00bb00"/><stop offset="0.5501" stop-color="#00b100"/><stop offset="0.5614" stop-color="#00a200"/><stop offset="0.5652" stop-color="#009c00"/><stop offset="0.5674" stop-color="#009900"/><stop offset="0.5727" stop-color="#009d21"/><stop offset="0.5840" stop-color="#00a87a"/><stop offset="0.5862" stop-color="#00aa88"/><stop offset="0.5877" stop-color="#00aa8a"/><stop offset="0.6103" stop-color="#00aaa7"/><stop offset="0.6128" stop-color="#00aaaa"/><stop offset="0.6253" stop-color="#00a2c4"/><stop offset="0.6404" stop-color="#009bd8"/><stop offset="0.6454" stop-color="#0099dd"/><stop offset="0.6479" stop-color="#0097dd"/><stop offset="0.6667" stop-color="#0085dd"/><stop offset="0.6817" stop-color="#0078dd"/><stop offset="0.6827" stop-color="#0077dd"/><stop offset="0.6855" stop-color="#006edd"/><stop offset="0.6968" stop-color="#0039dd"/><stop offset="0.7156" stop-color="#0007dd"/><stop offset="0.7199" stop-color="#0000dd"/><stop offset="0.7419" stop-color="#0000ce"/><stop offset="0.7444" stop-color="#0000ce"/><stop offset="0.7445" stop-color="#0000dd"/><stop offset="0.7452" stop-color="#0077dd"/><stop offset="0.7453" stop-color="#007edd"/><stop offset="0.7551" stop-color="#007ddd"/><stop offset="0.7552" stop-color="#0077dd"/><stop offset="0.7558" stop-color="#0000dd"/><stop offset="0.7560" stop-color="#0000cd"/><stop offset="0.7598" stop-color="#0000cc"/><stop offset="0.7600" stop-color="#0000dd"/><stop offset="0.7607" stop-color="#0077dd"/><stop offset="0.7607" stop-color="#007add"/><stop offset="0.7712" stop-color="#0079dd"/><stop offset="0.7713" stop-color="#0077dd"/><stop offset="0.7720" stop-color="#0000dd"/><stop offset="0.7722" stop-color="#0000cc"/><stop offset="0.7733" stop-color="#0000cc"/><stop offset="0.7741" stop-color="#0000dd"/><stop offset="0.7743" stop-color="#0007dd"/><stop offset="0.7771" stop-color="#0006dd"/><stop offset="0.7780" stop-color="#0071dd"/><stop offset="0.7915" stop-color="#006fdd"/><stop offset="0.7922" stop-color="#0000dd"/><stop offset="0.7925" stop-color="#0000ca"/><stop offset="0.8021" stop-color="#0000ca"/><stop offset="0.8038" stop-color="#0000c6"/><stop offset="0.8041" stop-color="#0000dd"/><stop offset="0.8047" stop-color="#006ddd"/><stop offset="0.8115" stop-color="#006cdd"/><stop offset="0.8120" stop-color="#0000dd"/><stop offset="0.8124" stop-color="#0000b8"/><stop offset="0.8171" stop-color="#0000b6"/><stop offset="0.8183" stop-color="#0000aa"/><stop offset="0.8209" stop-color="#4600a1"/><stop offset="0.8219" stop-color="#880099"/><stop offset="0.8241" stop-color="#770088"/><stop offset="0.8246" stop-color="#580065"/><stop offset="0.8698" stop-color="#470052"/><stop offset="0.9262" stop-color="#390041"/><stop offset="0.9638" stop-color="#240029"/><stop offset="1.0000" stop-color="#040005"/></linearGradient><linearGradient id="bR15" gradientUnits="userSpaceOnUse" x1="328.9" y1="0" x2="595.0" y2="0"><stop offset="0.0000" stop-color="#770088"/><stop offset="0.0027" stop-color="#770088"/><stop offset="0.0042" stop-color="#050005"/><stop offset="0.1929" stop-color="#050005"/><stop offset="0.2004" stop-color="#0e0010"/><stop offset="0.2080" stop-color="#200025"/><stop offset="0.2136" stop-color="#44004e"/><stop offset="0.2192" stop-color="#5c0069"/><stop offset="0.2249" stop-color="#630071"/><stop offset="0.2251" stop-color="#770088"/><stop offset="0.2261" stop-color="#880099"/><stop offset="0.2271" stop-color="#0000aa"/><stop offset="0.2282" stop-color="#0000dd"/><stop offset="0.2286" stop-color="#0036dd"/><stop offset="0.2318" stop-color="#0077dd"/><stop offset="0.2324" stop-color="#007bdd"/><stop offset="0.2362" stop-color="#008cdd"/><stop offset="0.2437" stop-color="#0098dd"/><stop offset="0.2447" stop-color="#0099dd"/><stop offset="0.2512" stop-color="#009ece"/><stop offset="0.2625" stop-color="#00a3c0"/><stop offset="0.2681" stop-color="#00a5b9"/><stop offset="0.2756" stop-color="#00a8b1"/><stop offset="0.2830" stop-color="#00aaaa"/><stop offset="0.2907" stop-color="#00aaa5"/><stop offset="0.3245" stop-color="#00aa99"/><stop offset="0.3621" stop-color="#00aa8d"/><stop offset="0.3715" stop-color="#00aa89"/><stop offset="0.3716" stop-color="#00aa88"/><stop offset="0.3725" stop-color="#009900"/><stop offset="0.3735" stop-color="#00bb00"/><stop offset="0.3742" stop-color="#00d200"/><stop offset="0.3772" stop-color="#00d300"/><stop offset="0.3780" stop-color="#00bb00"/><stop offset="0.3791" stop-color="#009900"/><stop offset="0.3798" stop-color="#00a351"/><stop offset="0.3922" stop-color="#00a142"/><stop offset="0.4148" stop-color="#009b10"/><stop offset="0.4177" stop-color="#009900"/><stop offset="0.4185" stop-color="#009a00"/><stop offset="0.4261" stop-color="#00a500"/><stop offset="0.4355" stop-color="#00b300"/><stop offset="0.4411" stop-color="#00b100"/><stop offset="0.4486" stop-color="#00ac00"/><stop offset="0.4637" stop-color="#00b800"/><stop offset="0.4667" stop-color="#00bb00"/><stop offset="0.4712" stop-color="#00bf00"/><stop offset="0.4937" stop-color="#00c800"/><stop offset="0.5313" stop-color="#00c900"/><stop offset="0.5389" stop-color="#00c300"/><stop offset="0.5432" stop-color="#00bb00"/><stop offset="0.5501" stop-color="#00ae00"/><stop offset="0.5614" stop-color="#00a200"/><stop offset="0.5652" stop-color="#009c00"/><stop offset="0.5674" stop-color="#009900"/><stop offset="0.5727" stop-color="#009d21"/><stop offset="0.5840" stop-color="#00a87a"/><stop offset="0.5862" stop-color="#00aa88"/><stop offset="0.5877" stop-color="#00aa8a"/><stop offset="0.6103" stop-color="#00aaa7"/><stop offset="0.6128" stop-color="#00aaaa"/><stop offset="0.6253" stop-color="#00a2c4"/><stop offset="0.6404" stop-color="#009bd8"/><stop offset="0.6454" stop-color="#0099dd"/><stop offset="0.6479" stop-color="#0097dd"/><stop offset="0.6667" stop-color="#0085dd"/><stop offset="0.6817" stop-color="#0078dd"/><stop offset="0.6827" stop-color="#0077dd"/><stop offset="0.6855" stop-color="#006edd"/><stop offset="0.6968" stop-color="#0039dd"/><stop offset="0.7156" stop-color="#0007dd"/><stop offset="0.7199" stop-color="#0000dd"/><stop offset="0.7419" stop-color="#0000ce"/><stop offset="0.7444" stop-color="#0000ce"/><stop offset="0.7445" stop-color="#0000dd"/><stop offset="0.7452" stop-color="#0077dd"/><stop offset="0.7453" stop-color="#007edd"/><stop offset="0.7551" stop-color="#007ddd"/><stop offset="0.7552" stop-color="#0077dd"/><stop offset="0.7558" stop-color="#0000dd"/><stop offset="0.7560" stop-color="#0000cd"/><stop offset="0.7598" stop-color="#0000cc"/><stop offset="0.7600" stop-color="#0000dd"/><stop offset="0.7607" stop-color="#0077dd"/><stop offset="0.7607" stop-color="#007add"/><stop offset="0.7712" stop-color="#0079dd"/><stop offset="0.7713" stop-color="#0077dd"/><stop offset="0.7720" stop-color="#0000dd"/><stop offset="0.7722" stop-color="#0000cc"/><stop offset="0.7733" stop-color="#0000cc"/><stop offset="0.7741" stop-color="#0000dd"/><stop offset="0.7743" stop-color="#0007dd"/><stop offset="0.7771" stop-color="#0006dd"/><stop offset="0.7780" stop-color="#0071dd"/><stop offset="0.7915" stop-color="#006fdd"/><stop offset="0.7922" stop-color="#0000dd"/><stop offset="0.7925" stop-color="#0000ca"/><stop offset="0.8021" stop-color="#0000ca"/><stop offset="0.8038" stop-color="#0000c6"/><stop offset="0.8041" stop-color="#0000dd"/><stop offset="0.8047" stop-color="#006ddd"/><stop offset="0.8115" stop-color="#006cdd"/><stop offset="0.8120" stop-color="#0000dd"/><stop offset="0.8124" stop-color="#0000b8"/><stop offset="0.8171" stop-color="#0000b6"/><stop offset="0.8183" stop-color="#0000aa"/><stop offset="0.8209" stop-color="#4600a1"/><stop offset="0.8219" stop-color="#880099"/><stop offset="0.8241" stop-color="#770088"/><stop offset="0.8246" stop-color="#580065"/><stop offset="0.8698" stop-color="#470052"/><stop offset="0.9262" stop-color="#390041"/><stop offset="0.9638" stop-color="#240029"/><stop offset="1.0000" stop-color="#040005"/></linearGradient><linearGradient id="bR18" gradientUnits="userSpaceOnUse" x1="328.9" y1="0" x2="595.0" y2="0"><stop offset="0.0000" stop-color="#770088"/><stop offset="0.0027" stop-color="#770088"/><stop offset="0.0042" stop-color="#080009"/><stop offset="0.1929" stop-color="#080009"/><stop offset="0.2004" stop-color="#140017"/><stop offset="0.2080" stop-color="#28002e"/><stop offset="0.2136" stop-color="#4e0059"/><stop offset="0.2192" stop-color="#680076"/><stop offset="0.2286" stop-color="#760087"/><stop offset="0.2287" stop-color="#770088"/><stop offset="0.2305" stop-color="#7d008e"/><stop offset="0.2324" stop-color="#820093"/><stop offset="0.2350" stop-color="#880099"/><stop offset="0.2362" stop-color="#73009c"/><stop offset="0.2437" stop-color="#4900a1"/><stop offset="0.2512" stop-color="#1f00a6"/><stop offset="0.2608" stop-color="#0000aa"/><stop offset="0.2625" stop-color="#0000ac"/><stop offset="0.2756" stop-color="#0000b8"/><stop offset="0.2869" stop-color="#0000c2"/><stop offset="0.2907" stop-color="#0000c5"/><stop offset="0.3245" stop-color="#0000d1"/><stop offset="0.3825" stop-color="#0000dd"/><stop offset="0.3885" stop-color="#0003dd"/><stop offset="0.4110" stop-color="#0021dd"/><stop offset="0.4223" stop-color="#0050dd"/><stop offset="0.4278" stop-color="#0077dd"/><stop offset="0.4317" stop-color="#007fdd"/><stop offset="0.4373" stop-color="#007bdd"/><stop offset="0.4421" stop-color="#0077dd"/><stop offset="0.4449" stop-color="#006edd"/><stop offset="0.4490" stop-color="#0077dd"/><stop offset="0.4674" stop-color="#0082dd"/><stop offset="0.4937" stop-color="#0083dd"/><stop offset="0.5313" stop-color="#0081dd"/><stop offset="0.5450" stop-color="#0077dd"/><stop offset="0.5501" stop-color="#006add"/><stop offset="0.5614" stop-color="#0057dd"/><stop offset="0.5727" stop-color="#0044dd"/><stop offset="0.5877" stop-color="#0013dd"/><stop offset="0.5966" stop-color="#0000dd"/><stop offset="0.6065" stop-color="#0000d4"/><stop offset="0.6103" stop-color="#0000d0"/><stop offset="0.6253" stop-color="#0000bc"/><stop offset="0.6479" stop-color="#0000ac"/><stop offset="0.6499" stop-color="#0000aa"/><stop offset="0.6667" stop-color="#3100a4"/><stop offset="0.6817" stop-color="#5a009f"/><stop offset="0.6968" stop-color="#83009a"/><stop offset="0.7118" stop-color="#880099"/><stop offset="0.7419" stop-color="#870098"/><stop offset="0.7444" stop-color="#870098"/><stop offset="0.7444" stop-color="#880099"/><stop offset="0.7450" stop-color="#0000aa"/><stop offset="0.7453" stop-color="#0000c0"/><stop offset="0.7551" stop-color="#0000c0"/><stop offset="0.7553" stop-color="#0000aa"/><stop offset="0.7560" stop-color="#880099"/><stop offset="0.7560" stop-color="#870098"/><stop offset="0.7598" stop-color="#870098"/><stop offset="0.7598" stop-color="#880099"/><stop offset="0.7605" stop-color="#0000aa"/><stop offset="0.7607" stop-color="#0000bb"/><stop offset="0.7712" stop-color="#0000bb"/><stop offset="0.7715" stop-color="#0000aa"/><stop offset="0.7721" stop-color="#880099"/><stop offset="0.7722" stop-color="#870098"/><stop offset="0.7733" stop-color="#870098"/><stop offset="0.7735" stop-color="#880099"/><stop offset="0.7743" stop-color="#5c009e"/><stop offset="0.7771" stop-color="#5c009e"/><stop offset="0.7778" stop-color="#0000aa"/><stop offset="0.7780" stop-color="#0000b5"/><stop offset="0.7915" stop-color="#0000b5"/><stop offset="0.7917" stop-color="#0000aa"/><stop offset="0.7924" stop-color="#880099"/><stop offset="0.7925" stop-color="#870098"/><stop offset="0.7946" stop-color="#870098"/><stop offset="0.8021" stop-color="#870098"/><stop offset="0.8038" stop-color="#850096"/><stop offset="0.8039" stop-color="#880099"/><stop offset="0.8046" stop-color="#0000aa"/><stop offset="0.8047" stop-color="#0000b5"/><stop offset="0.8115" stop-color="#0000b5"/><stop offset="0.8116" stop-color="#0000aa"/><stop offset="0.8122" stop-color="#880099"/><stop offset="0.8124" stop-color="#810092"/><stop offset="0.8209" stop-color="#800091"/><stop offset="0.8227" stop-color="#770088"/><stop offset="0.8246" stop-color="#390042"/><stop offset="0.8698" stop-color="#300036"/><stop offset="0.9262" stop-color="#27002c"/><stop offset="0.9450" stop-color="#210025"/><stop offset="0.9638" stop-color="#1b001f"/><stop offset="1.0000" stop-color="#0c000d"/></linearGradient><linearGradient id="bR20" gradientUnits="userSpaceOnUse" x1="328.9" y1="0" x2="595.0" y2="0"><stop offset="0.0000" stop-color="#770088"/><stop offset="0.0027" stop-color="#770088"/><stop offset="0.0042" stop-color="#09000b"/><stop offset="0.1910" stop-color="#09000b"/><stop offset="0.1929" stop-color="#110014"/><stop offset="0.1948" stop-color="#19001d"/><stop offset="0.1986" stop-color="#43004d"/><stop offset="0.2042" stop-color="#670076"/><stop offset="0.2072" stop-color="#740084"/><stop offset="0.2073" stop-color="#770088"/><stop offset="0.2095" stop-color="#880099"/><stop offset="0.2098" stop-color="#880099"/><stop offset="0.2136" stop-color="#62009e"/><stop offset="0.2163" stop-color="#0000aa"/><stop offset="0.2166" stop-color="#0000ae"/><stop offset="0.2241" stop-color="#0000cd"/><stop offset="0.2254" stop-color="#0000dd"/><stop offset="0.2279" stop-color="#0046dd"/><stop offset="0.2291" stop-color="#0077dd"/><stop offset="0.2305" stop-color="#0088dd"/><stop offset="0.2317" stop-color="#0095dd"/><stop offset="0.2372" stop-color="#0099dd"/><stop offset="0.2418" stop-color="#009bd8"/><stop offset="0.2568" stop-color="#009fcc"/><stop offset="0.2662" stop-color="#00a5ba"/><stop offset="0.2756" stop-color="#00a8b0"/><stop offset="0.3621" stop-color="#00aaaa"/><stop offset="0.3628" stop-color="#00aaaa"/><stop offset="0.3885" stop-color="#00aaa3"/><stop offset="0.4110" stop-color="#00aa9f"/><stop offset="0.4486" stop-color="#00aa9f"/><stop offset="0.4787" stop-color="#00aaa7"/><stop offset="0.4878" stop-color="#00aaaa"/><stop offset="0.4937" stop-color="#00a9ad"/><stop offset="0.5107" stop-color="#00a6b7"/><stop offset="0.5313" stop-color="#009fcc"/><stop offset="0.5539" stop-color="#009ad9"/><stop offset="0.5621" stop-color="#0099dd"/><stop offset="0.5689" stop-color="#0097dd"/><stop offset="0.5877" stop-color="#0091dd"/><stop offset="0.6253" stop-color="#0080dd"/><stop offset="0.6403" stop-color="#0077dd"/><stop offset="0.6479" stop-color="#0067dd"/><stop offset="0.6592" stop-color="#0043dd"/><stop offset="0.6705" stop-color="#0007dd"/><stop offset="0.6733" stop-color="#0000dd"/><stop offset="0.6930" stop-color="#0000c7"/><stop offset="0.7194" stop-color="#0000b2"/><stop offset="0.7341" stop-color="#0000aa"/><stop offset="0.7382" stop-color="#0600a9"/><stop offset="0.7429" stop-color="#0800a9"/><stop offset="0.7430" stop-color="#0000aa"/><stop offset="0.7438" stop-color="#0000bc"/><stop offset="0.7476" stop-color="#0000bc"/><stop offset="0.7483" stop-color="#0000aa"/><stop offset="0.7485" stop-color="#0a00a9"/><stop offset="0.7571" stop-color="#0d00a8"/><stop offset="0.7581" stop-color="#81009a"/><stop offset="0.7611" stop-color="#81009a"/><stop offset="0.7620" stop-color="#0e00a8"/><stop offset="0.7692" stop-color="#1100a8"/><stop offset="0.7694" stop-color="#0000aa"/><stop offset="0.7701" stop-color="#0000bc"/><stop offset="0.7739" stop-color="#0000bc"/><stop offset="0.7745" stop-color="#0000aa"/><stop offset="0.7748" stop-color="#1300a8"/><stop offset="0.7831" stop-color="#1600a7"/><stop offset="0.7840" stop-color="#81009a"/><stop offset="0.7870" stop-color="#81009a"/><stop offset="0.7880" stop-color="#1800a7"/><stop offset="0.7947" stop-color="#1a00a7"/><stop offset="0.7951" stop-color="#0000aa"/><stop offset="0.7957" stop-color="#0000b7"/><stop offset="0.7987" stop-color="#0000b7"/><stop offset="0.7992" stop-color="#0000aa"/><stop offset="0.7996" stop-color="#1c00a7"/><stop offset="0.8015" stop-color="#1c00a6"/><stop offset="0.8025" stop-color="#81009a"/><stop offset="0.8055" stop-color="#81009a"/><stop offset="0.8064" stop-color="#1e00a6"/><stop offset="0.8105" stop-color="#2000a6"/><stop offset="0.8110" stop-color="#0000aa"/><stop offset="0.8115" stop-color="#0000b7"/><stop offset="0.8152" stop-color="#0000b7"/><stop offset="0.8157" stop-color="#0000aa"/><stop offset="0.8162" stop-color="#2200a6"/><stop offset="0.8171" stop-color="#2200a6"/><stop offset="0.8265" stop-color="#880099"/><stop offset="0.8284" stop-color="#850096"/><stop offset="0.8510" stop-color="#830094"/><stop offset="0.9074" stop-color="#810092"/><stop offset="0.9374" stop-color="#7e008f"/><stop offset="0.9416" stop-color="#770088"/><stop offset="0.9431" stop-color="#640072"/><stop offset="0.9450" stop-color="#630071"/><stop offset="0.9638" stop-color="#580065"/><stop offset="0.9788" stop-color="#34003c"/><stop offset="0.9938" stop-color="#17001a"/><stop offset="1.0000" stop-color="#070008"/></linearGradient><clipPath id="cL"><rect x="48.69" y="28.00" width="266.34" height="367.60"/></clipPath><clipPath id="cR"><rect x="328.89" y="28.00" width="266.11" height="367.60"/></clipPath></defs><rect x="48.69" y="28.00" width="266.34" height="17.91" fill="url(#gL0)"/><rect x="48.69" y="44.71" width="266.34" height="17.91" fill="url(#gL1)"/><rect x="48.69" y="61.42" width="266.34" height="17.91" fill="url(#gL2)"/><rect x="48.69" y="78.13" width="266.34" height="17.91" fill="url(#gL3)"/><rect x="48.69" y="94.84" width="266.34" height="17.91" fill="url(#gL4)"/><rect x="48.69" y="111.55" width="266.34" height="17.91" fill="url(#gL5)"/><rect x="48.69" y="128.25" width="266.34" height="17.91" fill="url(#gL6)"/><rect x="48.69" y="144.96" width="266.34" height="17.91" fill="url(#gL7)"/><rect x="48.69" y="161.67" width="266.34" height="17.91" fill="url(#gL8)"/><rect x="48.69" y="178.38" width="266.34" height="17.91" fill="url(#gL9)"/><rect x="48.69" y="195.09" width="266.34" height="17.91" fill="url(#gL10)"/><rect x="48.69" y="211.80" width="266.34" height="17.91" fill="url(#gL11)"/><rect x="48.69" y="228.51" width="266.34" height="17.91" fill="url(#gL12)"/><rect x="48.69" y="245.22" width="266.34" height="17.91" fill="url(#gL13)"/><rect x="48.69" y="261.93" width="266.34" height="17.91" fill="url(#gL14)"/><rect x="48.69" y="278.64" width="266.34" height="17.91" fill="url(#gL15)"/><rect x="48.69" y="295.35" width="266.34" height="17.91" fill="url(#gL16)"/><rect x="48.69" y="312.05" width="266.34" height="17.91" fill="url(#gL17)"/><rect x="48.69" y="328.76" width="266.34" height="17.91" fill="url(#gL18)"/><rect x="48.69" y="345.47" width="266.34" height="17.91" fill="url(#gL19)"/><rect x="48.69" y="362.18" width="266.34" height="17.91" fill="url(#gL20)"/><rect x="48.69" y="378.89" width="266.34" height="16.71" fill="url(#gL21)"/><rect x="328.89" y="28.00" width="266.11" height="17.91" fill="url(#gR0)"/><rect x="328.89" y="44.71" width="266.11" height="17.91" fill="url(#gR1)"/><rect x="328.89" y="61.42" width="266.11" height="17.91" fill="url(#gR2)"/><rect x="328.89" y="78.13" width="266.11" height="17.91" fill="url(#gR3)"/><rect x="328.89" y="94.84" width="266.11" height="17.91" fill="url(#gR4)"/><rect x="328.89" y="111.55" width="266.11" height="17.91" fill="url(#gR5)"/><rect x="328.89" y="128.25" width="266.11" height="17.91" fill="url(#gR6)"/><rect x="328.89" y="144.96" width="266.11" height="17.91" fill="url(#gR7)"/><rect x="328.89" y="161.67" width="266.11" height="17.91" fill="url(#gR8)"/><rect x="328.89" y="178.38" width="266.11" height="17.91" fill="url(#gR9)"/><rect x="328.89" y="195.09" width="266.11" height="17.91" fill="url(#gR10)"/><rect x="328.89" y="211.80" width="266.11" height="17.91" fill="url(#gR11)"/><rect x="328.89" y="228.51" width="266.11" height="17.91" fill="url(#gR12)"/><rect x="328.89" y="245.22" width="266.11" height="17.91" fill="url(#gR13)"/><rect x="328.89" y="261.93" width="266.11" height="17.91" fill="url(#gR14)"/><rect x="328.89" y="278.64" width="266.11" height="17.91" fill="url(#gR15)"/><rect x="328.89" y="295.35" width="266.11" height="17.91" fill="url(#gR16)"/><rect x="328.89" y="312.05" width="266.11" height="17.91" fill="url(#gR17)"/><rect x="328.89" y="328.76" width="266.11" height="17.91" fill="url(#gR18)"/><rect x="328.89" y="345.47" width="266.11" height="17.91" fill="url(#gR19)"/><rect x="328.89" y="362.18" width="266.11" height="17.91" fill="url(#gR20)"/><rect x="328.89" y="378.89" width="266.11" height="16.71" fill="url(#gR21)"/><rect x="48.69" y="44.46" width="266.34" height="1.3" fill="url(#bL0)"/><rect x="48.69" y="77.88" width="266.34" height="1.3" fill="url(#bL2)"/><rect x="48.69" y="345.22" width="266.34" height="1.3" fill="url(#bL18)"/><rect x="48.69" y="361.93" width="266.34" height="1.3" fill="url(#bL19)"/><rect x="328.89" y="61.17" width="266.11" height="1.3" fill="url(#bR1)"/><rect x="328.89" y="77.88" width="266.11" height="1.3" fill="url(#bR2)"/><rect x="328.89" y="278.39" width="266.11" height="1.3" fill="url(#bR14)"/><rect x="328.89" y="295.10" width="266.11" height="1.3" fill="url(#bR15)"/><rect x="328.89" y="345.22" width="266.11" height="1.3" fill="url(#bR18)"/><rect x="328.89" y="378.64" width="266.11" height="1.3" fill="url(#bR20)"/><g clip-path="url(#cL)"><polyline class="ln" points="49.4,-50.0 49.9,284.2 50.7,284.2 51.5,284.2 52.3,284.2 53.2,284.2 54.0,284.2 54.8,284.2 55.6,284.2 56.4,284.2 57.2,284.2 58.0,284.2 58.8,284.2 59.7,284.2 60.5,284.2 61.3,284.2 62.1,284.2 62.9,284.2 63.7,284.2 64.5,284.2 65.3,284.2 66.2,284.2 67.0,284.2 67.8,284.2 68.6,284.2 69.4,284.2 70.2,284.2 71.0,284.2 71.8,284.2 72.6,284.2 73.5,284.2 74.3,284.2 75.1,284.2 75.9,284.2 76.7,284.2 77.5,284.2 78.3,284.2 79.1,284.2 80.0,284.2 80.8,284.2 81.6,284.2 82.4,284.2 83.2,284.2 84.0,284.2 84.8,284.2 85.6,284.2 86.5,284.2 87.3,284.2 88.1,284.2 88.9,284.2 89.7,284.2 90.5,284.2 91.3,284.2 92.1,284.2 92.9,284.2 93.8,284.2 94.6,284.2 95.4,284.2 96.2,284.2 97.0,284.2 97.8,284.2 98.6,284.2 99.4,284.2 100.3,284.1 101.1,283.8 101.9,283.5 102.7,282.1 103.5,280.1 104.3,277.5 105.1,272.0 105.9,266.1 106.8,259.2 107.6,252.4 108.4,245.6 109.2,239.1 110.0,232.1 110.8,224.5 111.6,218.4 112.4,214.8 113.2,210.2 114.1,207.8 114.9,205.4 115.7,204.0 116.5,202.9 117.3,201.1 118.1,200.2 118.9,199.0 119.7,199.0 120.6,197.4 121.4,197.2 122.2,195.3 123.0,194.0 123.8,193.9 124.6,193.5 125.4,192.5 126.2,192.0 127.1,190.7 127.9,190.4 128.7,189.4 129.5,189.5 130.3,188.5 131.1,188.5 131.9,188.9 132.7,188.6 133.5,189.3 134.4,188.7 135.2,188.6 136.0,188.7 136.8,188.1 137.6,187.6 138.4,187.3 139.2,186.7 140.0,186.6 140.9,186.9 141.7,186.5 142.5,185.7 143.3,184.9 144.1,183.7 144.9,182.8 145.7,182.3 146.5,182.2 147.4,181.7 148.2,180.5 149.0,180.3 149.8,179.7 150.6,179.0 151.4,178.3 152.2,177.8 153.0,176.8 153.8,175.9 154.7,174.3 155.5,173.9 156.3,172.9 157.1,171.6 157.9,169.9 158.7,169.2 159.5,167.5 160.3,166.2 161.2,164.4 162.0,163.7 162.8,162.2 163.6,161.4 164.4,159.9 165.2,159.1 166.0,158.1 166.8,157.2 167.7,155.8 168.5,155.1 169.3,154.3 170.1,153.4 170.9,152.5 171.7,152.5 172.5,152.1 173.3,151.4 174.1,151.3 175.0,150.8 175.8,149.9 176.6,149.4 177.4,148.0 178.2,149.4 179.0,150.2 179.8,150.5 180.6,151.3 181.5,151.3 182.3,151.3 183.1,150.7 183.9,151.2 184.7,151.0 185.5,151.7 186.3,152.5 187.1,153.7 188.0,154.9 188.8,156.2 189.6,157.4 190.4,157.8 191.2,159.2 192.0,160.7 192.8,162.2 193.6,163.0 194.4,164.8 195.3,166.1 196.1,167.2 196.9,169.4 197.7,170.9 198.5,172.4 199.3,174.3 200.1,176.3 200.9,177.9 201.8,179.7 202.6,181.3 203.4,183.6 204.2,185.3 205.0,187.3 205.8,188.8 206.6,190.0 207.4,192.2 208.3,192.8 209.1,194.8 209.9,196.2 210.7,199.1 211.5,200.4 212.3,202.6 213.1,203.7 213.9,204.9 214.7,207.1 215.6,208.0 216.4,209.9 217.2,211.2 218.0,212.9 218.8,214.7 219.6,216.1 220.4,217.1 221.2,218.5 222.1,219.8 222.9,220.9 223.7,222.0 224.5,223.9 225.3,225.1 226.1,226.5 226.9,227.6 227.7,228.3 228.6,229.1 229.4,230.7 230.2,230.9 231.0,232.1 231.8,233.7 232.6,233.7 233.4,234.3 234.2,236.0 235.0,237.4 235.9,238.0 236.7,239.3 237.5,240.3 238.3,241.5 239.1,243.4 239.9,244.0 240.7,245.5 241.5,246.3 242.4,246.9 243.2,248.7 244.0,250.2 244.8,250.6 245.6,250.8 246.4,215.5 247.2,252.2 248.0,214.0 248.9,203.7 249.7,209.0 250.5,204.1 251.3,225.3 252.1,204.4 252.9,202.3 253.7,235.5 254.5,233.8 255.3,183.2 256.2,212.1 257.0,193.9 257.8,251.2 258.6,233.5 259.4,207.4 260.2,203.2 261.0,193.8 261.8,260.2 262.7,203.3 263.5,228.4 264.3,217.3 265.1,224.1 265.9,229.1 266.7,250.1 267.5,245.4 268.3,258.1 269.2,266.1 270.0,273.1 270.8,273.4 271.6,273.5 272.4,273.9 273.2,274.0 274.0,274.1 274.8,274.7 275.6,274.7 276.5,274.2 277.3,274.6 278.1,275.0 278.9,275.8 279.7,275.9 280.5,275.6 281.3,275.2 282.1,276.3 283.0,276.0 283.8,276.3 284.6,276.6 285.4,276.6 286.2,276.6 287.0,277.3 287.8,276.8 288.6,276.9 289.5,277.6 290.3,277.0 291.1,277.2 291.9,278.0 292.7,277.2 293.5,278.3 294.3,278.2 295.1,278.1 295.9,278.0 296.8,279.0 297.6,279.6 298.4,279.1 299.2,279.9 300.0,280.4 300.8,280.8 301.6,281.0 302.4,281.2 303.3,282.0 304.1,282.4 304.9,281.7 305.7,282.0 306.5,282.8 307.3,282.9 308.1,282.9 308.9,282.2 309.8,283.2 310.6,283.6 311.4,283.8 312.2,283.6 313.0,282.9 313.8,284.0 314.6,283.4"/><polyline class="ln" points="49.4,-50.0 49.9,284.2 50.7,284.2 51.5,284.2 52.3,284.2 53.2,284.2 54.0,284.2 54.8,284.2 55.6,284.2 56.4,284.2 57.2,284.2 58.0,284.2 58.8,284.2 59.7,284.2 60.5,284.2 61.3,284.2 62.1,284.2 62.9,284.2 63.7,284.2 64.5,284.2 65.3,284.2 66.2,284.2 67.0,284.2 67.8,284.2 68.6,284.2 69.4,284.2 70.2,284.2 71.0,284.2 71.8,284.2 72.6,284.2 73.5,284.2 74.3,284.2 75.1,284.2 75.9,284.2 76.7,284.2 77.5,284.2 78.3,284.2 79.1,284.2 80.0,284.2 80.8,284.2 81.6,284.2 82.4,284.2 83.2,284.2 84.0,284.2 84.8,284.2 85.6,284.2 86.5,284.2 87.3,284.2 88.1,284.2 88.9,284.2 89.7,284.2 90.5,284.2 91.3,284.2 92.1,284.2 92.9,284.2 93.8,284.2 94.6,284.2 95.4,284.2 96.2,284.2 97.0,284.2 97.8,284.2 98.6,284.2 99.4,284.2 100.3,284.1 101.1,283.9 101.9,283.6 102.7,282.7 103.5,280.7 104.3,278.7 105.1,273.7 105.9,268.3 106.8,261.8 107.6,255.1 108.4,248.3 109.2,241.4 110.0,234.3 110.8,227.3 111.6,222.3 112.4,216.8 113.2,212.8 114.1,209.4 114.9,207.7 115.7,206.1 116.5,204.5 117.3,202.8 118.1,201.9 118.9,200.6 119.7,199.7 120.6,199.0 121.4,198.6 122.2,197.4 123.0,197.3 123.8,195.9 124.6,195.4 125.4,194.7 126.2,194.0 127.1,193.4 127.9,192.7 128.7,192.3 129.5,191.2 130.3,191.7 131.1,191.0 131.9,191.4 132.7,191.0 133.5,189.7 134.4,189.4 135.2,189.7 136.0,188.8 136.8,189.0 137.6,188.3 138.4,188.3 139.2,188.0 140.0,187.1 140.9,186.8 141.7,186.3 142.5,186.0 143.3,185.2 144.1,185.2 144.9,185.1 145.7,183.9 146.5,183.2 147.4,182.7 148.2,181.9 149.0,181.7 149.8,181.1 150.6,179.9 151.4,179.4 152.2,179.2 153.0,178.8 153.8,177.3 154.7,175.9 155.5,176.5 156.3,174.3 157.1,173.1 157.9,172.5 158.7,170.8 159.5,169.0 160.3,168.2 161.2,167.5 162.0,165.8 162.8,164.4 163.6,162.9 164.4,161.7 165.2,161.4 166.0,158.4 166.8,157.9 167.7,156.0 168.5,155.3 169.3,154.1 170.1,153.5 170.9,152.7 171.7,152.5 172.5,152.1 173.3,151.6 174.1,150.9 175.0,150.4 175.8,150.8 176.6,149.6 177.4,151.0 178.2,151.6 179.0,152.4 179.8,152.7 180.6,153.5 181.5,153.2 182.3,153.5 183.1,153.8 183.9,153.4 184.7,153.6 185.5,153.6 186.3,154.4 187.1,155.9 188.0,156.9 188.8,157.6 189.6,158.4 190.4,159.7 191.2,161.1 192.0,162.5 192.8,163.1 193.6,164.5 194.4,166.2 195.3,166.9 196.1,168.6 196.9,170.5 197.7,172.0 198.5,174.4 199.3,175.6 200.1,176.9 200.9,178.5 201.8,180.2 202.6,182.2 203.4,183.8 204.2,185.9 205.0,187.8 205.8,189.1 206.6,190.4 207.4,192.6 208.3,193.5 209.1,195.2 209.9,196.8 210.7,199.4 211.5,200.6 212.3,202.5 213.1,203.9 213.9,205.9 214.7,207.3 215.6,209.1 216.4,210.3 217.2,211.9 218.0,213.2 218.8,214.5 219.6,216.3 220.4,217.6 221.2,218.1 222.1,219.3 222.9,220.6 223.7,221.6 224.5,223.5 225.3,224.3 226.1,225.1 226.9,226.1 227.7,227.3 228.6,228.4 229.4,229.9 230.2,230.6 231.0,231.5 231.8,233.3 232.6,234.4 233.4,235.0 234.2,236.1 235.0,237.4 235.9,238.8 236.7,240.4 237.5,241.7 238.3,242.5 239.1,243.3 239.9,244.7 240.7,245.6 241.5,246.4 242.4,247.0 243.2,248.9 244.0,250.0 244.8,250.8 245.6,250.5 246.4,222.2 247.2,207.8 248.0,227.5 248.9,209.6 249.7,249.6 250.5,236.6 251.3,207.6 252.1,198.7 252.9,249.0 253.7,211.5 254.5,194.0 255.3,196.2 256.2,232.6 257.0,252.3 257.8,202.9 258.6,257.5 259.4,223.1 260.2,200.2 261.0,236.8 261.8,197.8 262.7,199.2 263.5,259.6 264.3,206.6 265.1,219.1 265.9,222.8 266.7,256.0 267.5,247.4 268.3,253.7 269.2,266.3 270.0,273.0 270.8,273.9 271.6,273.8 272.4,274.5 273.2,274.0 274.0,274.3 274.8,274.4 275.6,275.4 276.5,275.4 277.3,275.6 278.1,275.5 278.9,275.4 279.7,275.3 280.5,276.3 281.3,276.0 282.1,275.6 283.0,275.9 283.8,276.0 284.6,276.9 285.4,277.2 286.2,276.5 287.0,277.4 287.8,277.0 288.6,277.5 289.5,277.9 290.3,277.7 291.1,278.1 291.9,277.7 292.7,277.4 293.5,278.2 294.3,278.4 295.1,278.0 295.9,278.4 296.8,278.7 297.6,278.8 298.4,279.6 299.2,280.1 300.0,280.6 300.8,281.3 301.6,281.4 302.4,282.5 303.3,282.6 304.1,282.8 304.9,282.7 305.7,282.8 306.5,282.8 307.3,283.2 308.1,282.8 308.9,283.2 309.8,283.4 310.6,283.4 311.4,283.2 312.2,283.1 313.0,283.2 313.8,283.7 314.6,284.1"/><polyline class="ln" points="49.4,-50.0 49.9,284.2 50.7,284.2 51.5,284.2 52.3,284.2 53.2,284.2 54.0,284.2 54.8,284.2 55.6,284.2 56.4,284.2 57.2,284.2 58.0,284.2 58.8,284.2 59.7,284.2 60.5,284.2 61.3,284.2 62.1,284.2 62.9,284.2 63.7,284.2 64.5,284.2 65.3,284.2 66.2,284.2 67.0,284.2 67.8,284.2 68.6,284.2 69.4,284.2 70.2,284.2 71.0,284.2 71.8,284.2 72.6,284.2 73.5,284.2 74.3,284.2 75.1,284.2 75.9,284.2 76.7,284.2 77.5,284.2 78.3,284.2 79.1,284.2 80.0,284.2 80.8,284.2 81.6,284.2 82.4,284.2 83.2,284.2 84.0,284.2 84.8,284.2 85.6,284.2 86.5,284.2 87.3,284.2 88.1,284.2 88.9,284.2 89.7,284.2 90.5,284.2 91.3,284.2 92.1,284.2 92.9,284.2 93.8,284.2 94.6,284.2 95.4,284.2 96.2,284.2 97.0,284.2 97.8,284.2 98.6,284.2 99.4,284.2 100.3,284.1 101.1,283.9 101.9,283.6 102.7,283.0 103.5,281.0 104.3,279.0 105.1,274.5 105.9,269.3 106.8,263.0 107.6,256.7 108.4,250.7 109.2,243.7 110.0,237.2 110.8,230.3 111.6,223.8 112.4,218.5 113.2,214.1 114.1,211.5 114.9,209.3 115.7,206.9 116.5,205.9 117.3,203.6 118.1,202.5 118.9,201.5 119.7,200.7 120.6,200.1 121.4,199.5 122.2,198.3 123.0,197.7 123.8,196.4 124.6,196.1 125.4,195.6 126.2,194.7 127.1,193.8 127.9,193.7 128.7,192.8 129.5,192.5 130.3,191.8 131.1,192.1 131.9,192.0 132.7,191.0 133.5,192.8 134.4,192.6 135.2,192.0 136.0,191.7 136.8,191.8 137.6,191.3 138.4,191.3 139.2,191.2 140.0,190.3 140.9,189.9 141.7,189.7 142.5,189.4 143.3,188.9 144.1,186.7 144.9,185.8 145.7,185.2 146.5,185.1 147.4,184.1 148.2,183.0 149.0,182.7 149.8,181.9 150.6,181.8 151.4,180.6 152.2,180.2 153.0,179.3 153.8,178.5 154.7,177.8 155.5,177.0 156.3,175.6 157.1,175.0 157.9,172.8 158.7,171.7 159.5,170.8 160.3,168.7 161.2,168.2 162.0,166.6 162.8,165.0 163.6,164.0 164.4,163.0 165.2,161.8 166.0,159.7 166.8,158.2 167.7,157.4 168.5,157.2 169.3,155.7 170.1,154.8 170.9,154.0 171.7,153.7 172.5,153.9 173.3,153.2 174.1,152.5 175.0,151.6 175.8,151.5 176.6,151.4 177.4,152.5 178.2,153.4 179.0,154.4 179.8,154.9 180.6,155.4 181.5,154.7 182.3,154.6 183.1,155.2 183.9,154.8 184.7,155.1 185.5,155.6 186.3,156.7 187.1,157.1 188.0,158.7 188.8,159.2 189.6,160.3 190.4,160.7 191.2,162.6 192.0,163.4 192.8,165.2 193.6,166.5 194.4,166.9 195.3,168.5 196.1,170.1 196.9,172.0 197.7,173.5 198.5,175.6 199.3,177.4 200.1,179.2 200.9,181.2 201.8,182.6 202.6,184.7 203.4,187.0 204.2,188.8 205.0,189.9 205.8,191.3 206.6,193.6 207.4,195.3 208.3,196.5 209.1,197.6 209.9,199.2 210.7,201.3 211.5,202.9 212.3,203.5 213.1,205.2 213.9,207.0 214.7,208.4 215.6,210.4 216.4,211.4 217.2,213.3 218.0,214.1 218.8,216.0 219.6,217.9 220.4,219.0 221.2,219.4 222.1,220.8 222.9,222.7 223.7,223.8 224.5,225.2 225.3,226.5 226.1,227.7 226.9,229.1 227.7,229.5 228.6,230.9 229.4,231.6 230.2,233.0 231.0,234.3 231.8,234.8 232.6,236.6 233.4,238.0 234.2,238.4 235.0,240.3 235.9,241.1 236.7,242.4 237.5,243.6 238.3,245.0 239.1,245.4 239.9,247.0 240.7,247.4 241.5,248.6 242.4,249.4 243.2,249.8 244.0,250.8 244.8,251.8 245.6,252.2 246.4,246.2 247.2,212.1 248.0,215.9 248.9,226.8 249.7,249.5 250.5,252.4 251.3,257.5 252.1,198.1 252.9,199.4 253.7,251.9 254.5,181.6 255.3,196.7 256.2,229.4 257.0,207.5 257.8,193.0 258.6,251.2 259.4,208.8 260.2,216.6 261.0,238.6 261.8,187.6 262.7,205.4 263.5,222.2 264.3,222.4 265.1,202.8 265.9,221.6 266.7,237.2 267.5,245.4 268.3,254.2 269.2,266.5 270.0,274.2 270.8,273.8 271.6,274.0 272.4,274.8 273.2,274.9 274.0,274.5 274.8,275.4 275.6,275.3 276.5,275.2 277.3,275.6 278.1,275.3 278.9,275.5 279.7,276.4 280.5,276.1 281.3,276.8 282.1,276.1 283.0,276.2 283.8,276.2 284.6,277.2 285.4,277.1 286.2,276.6 287.0,276.8 287.8,277.8 288.6,277.6 289.5,278.2 290.3,277.3 291.1,278.1 291.9,277.7 292.7,278.5 293.5,278.6 294.3,278.7 295.1,278.4 295.9,279.4 296.8,278.8 297.6,279.1 298.4,280.3 299.2,280.0 300.0,280.4 300.8,281.3 301.6,281.9 302.4,282.6 303.3,282.8 304.1,282.1 304.9,282.9 305.7,283.3 306.5,282.5 307.3,283.4 308.1,282.9 308.9,283.1 309.8,282.9 310.6,283.9 311.4,283.8 312.2,284.3 313.0,283.9 313.8,283.7 314.6,283.9"/><polyline class="ln" points="49.4,-50.0 49.9,284.2 50.7,284.2 51.5,284.2 52.3,284.2 53.2,284.2 54.0,284.2 54.8,284.2 55.6,284.2 56.4,284.2 57.2,284.2 58.0,284.2 58.8,284.2 59.7,284.2 60.5,284.2 61.3,284.2 62.1,284.2 62.9,284.2 63.7,284.2 64.5,284.2 65.3,284.2 66.2,284.2 67.0,284.2 67.8,284.2 68.6,284.2 69.4,284.2 70.2,284.2 71.0,284.2 71.8,284.2 72.6,284.2 73.5,284.2 74.3,284.2 75.1,284.2 75.9,284.2 76.7,284.2 77.5,284.2 78.3,284.2 79.1,284.2 80.0,284.2 80.8,284.2 81.6,284.2 82.4,284.2 83.2,284.2 84.0,284.2 84.8,284.2 85.6,284.2 86.5,284.2 87.3,284.2 88.1,284.2 88.9,284.2 89.7,284.2 90.5,284.2 91.3,284.2 92.1,284.2 92.9,284.2 93.8,284.2 94.6,284.2 95.4,284.2 96.2,284.2 97.0,284.2 97.8,284.2 98.6,284.2 99.4,284.2 100.3,284.1 101.1,283.9 101.9,283.7 102.7,283.5 103.5,281.6 104.3,279.7 105.1,276.1 105.9,271.2 106.8,265.1 107.6,258.7 108.4,252.7 109.2,246.9 110.0,239.2 110.8,232.5 111.6,227.6 112.4,221.1 113.2,217.3 114.1,213.6 114.9,211.0 115.7,208.6 116.5,208.1 117.3,206.2 118.1,204.9 118.9,204.3 119.7,202.9 120.6,202.1 121.4,201.2 122.2,199.5 123.0,198.4 123.8,198.0 124.6,197.6 125.4,196.8 126.2,195.7 127.1,195.1 127.9,194.9 128.7,194.3 129.5,193.0 130.3,193.5 131.1,192.5 131.9,192.4 132.7,192.2 133.5,192.2 134.4,192.2 135.2,192.3 136.0,191.5 136.8,191.7 137.6,190.7 138.4,190.9 139.2,190.2 140.0,190.0 140.9,189.3 141.7,189.7 142.5,188.5 143.3,188.6 144.1,188.0 144.9,187.6 145.7,187.0 146.5,186.3 147.4,186.0 148.2,185.4 149.0,184.1 149.8,183.6 150.6,183.5 151.4,182.2 152.2,181.8 153.0,181.2 153.8,180.5 154.7,178.5 155.5,177.2 156.3,176.1 157.1,174.9 157.9,172.8 158.7,172.4 159.5,170.4 160.3,169.6 161.2,168.2 162.0,166.8 162.8,166.0 163.6,164.6 164.4,163.0 165.2,162.3 166.0,161.7 166.8,161.0 167.7,159.9 168.5,159.1 169.3,157.5 170.1,156.9 170.9,156.0 171.7,156.3 172.5,155.8 173.3,155.4 174.1,154.1 175.0,154.2 175.8,153.7 176.6,152.8 177.4,153.4 178.2,154.9 179.0,155.5 179.8,155.6 180.6,156.7 181.5,156.4 182.3,156.0 183.1,156.1 183.9,155.5 184.7,155.4 185.5,155.7 186.3,157.3 187.1,158.1 188.0,159.2 188.8,160.0 189.6,160.8 190.4,161.7 191.2,163.4 192.0,164.2 192.8,165.7 193.6,167.1 194.4,168.0 195.3,169.6 196.1,170.7 196.9,172.6 197.7,174.9 198.5,175.9 199.3,176.6 200.1,178.3 200.9,180.8 201.8,182.0 202.6,184.1 203.4,185.9 204.2,188.0 205.0,189.5 205.8,191.1 206.6,192.1 207.4,194.4 208.3,195.9 209.1,197.3 209.9,199.1 210.7,200.3 211.5,202.0 212.3,203.7 213.1,205.0 213.9,205.9 214.7,208.3 215.6,209.9 216.4,210.6 217.2,211.9 218.0,213.7 218.8,214.9 219.6,216.6 220.4,217.7 221.2,220.0 222.1,221.1 222.9,222.9 223.7,224.2 224.5,226.0 225.3,226.9 226.1,227.7 226.9,229.6 227.7,230.6 228.6,231.4 229.4,232.0 230.2,233.3 231.0,234.5 231.8,235.6 232.6,236.7 233.4,238.3 234.2,239.7 235.0,240.8 235.9,242.1 236.7,243.1 237.5,244.3 238.3,245.5 239.1,246.7 239.9,247.7 240.7,248.2 241.5,249.3 242.4,250.1 243.2,250.7 244.0,251.4 244.8,252.0 245.6,252.0 246.4,215.7 247.2,209.0 248.0,225.5 248.9,231.7 249.7,198.8 250.5,217.3 251.3,242.4 252.1,200.6 252.9,198.5 253.7,220.5 254.5,189.8 255.3,184.3 256.2,199.7 257.0,189.7 257.8,184.3 258.6,204.2 259.4,205.2 260.2,199.7 261.0,211.3 261.8,255.2 262.7,241.3 263.5,215.8 264.3,253.2 265.1,201.1 265.9,213.7 266.7,237.2 267.5,245.3 268.3,256.2 269.2,267.5 270.0,273.9 270.8,274.8 271.6,274.5 272.4,275.2 273.2,275.0 274.0,275.1 274.8,274.8 275.6,275.3 276.5,275.5 277.3,276.1 278.1,275.6 278.9,275.8 279.7,276.6 280.5,275.9 281.3,276.6 282.1,276.4 283.0,277.1 283.8,277.1 284.6,276.7 285.4,277.6 286.2,277.3 287.0,277.4 287.8,278.2 288.6,278.2 289.5,277.8 290.3,278.4 291.1,277.8 291.9,278.4 292.7,278.1 293.5,278.9 294.3,279.3 295.1,279.1 295.9,278.6 296.8,279.5 297.6,279.9 298.4,280.3 299.2,280.4 300.0,280.9 300.8,281.5 301.6,281.5 302.4,282.6 303.3,282.5 304.1,282.6 304.9,282.5 305.7,282.9 306.5,283.8 307.3,283.1 308.1,283.0 308.9,283.5 309.8,284.3 310.6,283.4 311.4,283.8 312.2,283.8 313.0,284.5 313.8,284.3 314.6,284.0"/><polyline class="ln" points="49.4,-50.0 49.9,284.2 50.7,284.2 51.5,284.2 52.3,284.2 53.2,284.2 54.0,284.2 54.8,284.2 55.6,284.2 56.4,284.2 57.2,284.2 58.0,284.2 58.8,284.2 59.7,284.2 60.5,284.2 61.3,284.2 62.1,284.2 62.9,284.2 63.7,284.2 64.5,284.2 65.3,284.2 66.2,284.2 67.0,284.2 67.8,284.2 68.6,284.2 69.4,284.2 70.2,284.2 71.0,284.2 71.8,284.2 72.6,284.2 73.5,284.2 74.3,284.2 75.1,284.2 75.9,284.2 76.7,284.2 77.5,284.2 78.3,284.2 79.1,284.2 80.0,284.2 80.8,284.2 81.6,284.2 82.4,284.2 83.2,284.2 84.0,284.2 84.8,284.2 85.6,284.2 86.5,284.2 87.3,284.2 88.1,284.2 88.9,284.2 89.7,284.2 90.5,284.2 91.3,284.2 92.1,284.2 92.9,284.2 93.8,284.2 94.6,284.2 95.4,284.2 96.2,284.2 97.0,284.2 97.8,284.2 98.6,284.2 99.4,284.2 100.3,284.1 101.1,283.9 101.9,283.7 102.7,282.8 103.5,281.0 104.3,279.2 105.1,274.7 105.9,269.9 106.8,264.2 107.6,258.3 108.4,252.2 109.2,245.9 110.0,239.2 110.8,232.0 111.6,225.2 112.4,219.3 113.2,215.4 114.1,212.6 114.9,210.6 115.7,208.2 116.5,206.9 117.3,206.3 118.1,205.1 118.9,203.6 119.7,202.9 120.6,201.7 121.4,201.2 122.2,201.3 123.0,201.5 123.8,200.1 124.6,199.4 125.4,198.6 126.2,198.0 127.1,198.2 127.9,197.3 128.7,196.9 129.5,196.1 130.3,195.6 131.1,194.9 131.9,194.7 132.7,194.7 133.5,193.9 134.4,193.9 135.2,194.3 136.0,193.9 136.8,193.1 137.6,193.0 138.4,193.2 139.2,192.9 140.0,192.5 140.9,192.1 141.7,192.0 142.5,191.1 143.3,190.3 144.1,190.7 144.9,189.7 145.7,188.9 146.5,188.4 147.4,188.0 148.2,187.0 149.0,186.3 149.8,185.9 150.6,185.4 151.4,185.4 152.2,184.3 153.0,184.0 153.8,182.7 154.7,181.3 155.5,178.2 156.3,177.1 157.1,175.8 157.9,174.7 158.7,173.6 159.5,172.2 160.3,170.4 161.2,169.0 162.0,167.7 162.8,167.0 163.6,165.5 164.4,164.0 165.2,163.2 166.0,162.5 166.8,161.5 167.7,160.9 168.5,159.9 169.3,158.6 170.1,158.1 170.9,157.1 171.7,157.4 172.5,156.1 173.3,156.1 174.1,155.8 175.0,155.4 175.8,154.6 176.6,154.6 177.4,154.5 178.2,155.3 179.0,155.4 179.8,156.2 180.6,157.0 181.5,156.9 182.3,156.3 183.1,156.7 183.9,156.2 184.7,156.1 185.5,156.7 186.3,157.9 187.1,158.2 188.0,159.4 188.8,160.3 189.6,161.2 190.4,161.9 191.2,163.1 192.0,164.5 192.8,165.8 193.6,167.1 194.4,167.7 195.3,169.4 196.1,171.3 196.9,172.6 197.7,174.2 198.5,176.8 199.3,178.7 200.1,180.9 200.9,182.5 201.8,184.0 202.6,186.1 203.4,187.7 204.2,189.8 205.0,192.1 205.8,192.8 206.6,194.6 207.4,196.5 208.3,197.9 209.1,198.9 209.9,200.6 210.7,201.6 211.5,203.7 212.3,204.8 213.1,206.2 213.9,208.0 214.7,209.5 215.6,210.7 216.4,212.6 217.2,214.2 218.0,215.4 218.8,216.9 219.6,218.6 220.4,220.2 221.2,220.9 222.1,221.7 222.9,223.6 223.7,225.1 224.5,226.2 225.3,227.8 226.1,228.5 226.9,229.8 227.7,230.9 228.6,232.0 229.4,233.3 230.2,234.1 231.0,235.3 231.8,236.4 232.6,237.4 233.4,238.9 234.2,240.1 235.0,240.6 235.9,242.5 236.7,243.1 237.5,244.5 238.3,245.7 239.1,247.0 239.9,248.1 240.7,248.7 241.5,249.9 242.4,250.3 243.2,251.8 244.0,252.9 244.8,253.2 245.6,253.7 246.4,248.8 247.2,207.0 248.0,232.9 248.9,222.0 249.7,212.7 250.5,236.1 251.3,244.2 252.1,194.4 252.9,210.8 253.7,221.2 254.5,217.5 255.3,254.6 256.2,236.5 257.0,237.5 257.8,183.3 258.6,204.2 259.4,251.7 260.2,254.9 261.0,230.1 261.8,193.4 262.7,234.5 263.5,224.1 264.3,229.3 265.1,223.6 265.9,248.6 266.7,249.0 267.5,260.9 268.3,255.2 269.2,267.4 270.0,274.4 270.8,274.7 271.6,274.3 272.4,275.6 273.2,275.0 274.0,275.3 274.8,275.0 275.6,275.3 276.5,276.4 277.3,275.7 278.1,275.9 278.9,276.7 279.7,276.2 280.5,276.9 281.3,276.9 282.1,277.5 283.0,277.1 283.8,277.1 284.6,277.2 285.4,277.4 286.2,277.1 287.0,277.4 287.8,277.6 288.6,277.9 289.5,278.6 290.3,278.9 291.1,278.4 291.9,278.4 292.7,278.6 293.5,279.1 294.3,279.1 295.1,278.8 295.9,279.4 296.8,279.5 297.6,279.8 298.4,281.0 299.2,280.6 300.0,281.4 300.8,282.2 301.6,282.3 302.4,283.2 303.3,282.8 304.1,283.7 304.9,282.7 305.7,283.9 306.5,283.4 307.3,283.1 308.1,283.5 308.9,284.5 309.8,284.3 310.6,284.4 311.4,284.7 312.2,283.8 313.0,284.3 313.8,284.6 314.6,285.3"/><polyline class="ln" points="49.4,-50.0 49.9,284.2 50.7,284.2 51.5,284.2 52.3,284.2 53.2,284.2 54.0,284.2 54.8,284.2 55.6,284.2 56.4,284.2 57.2,284.2 58.0,284.2 58.8,284.2 59.7,284.2 60.5,284.2 61.3,284.2 62.1,284.2 62.9,284.2 63.7,284.2 64.5,284.2 65.3,284.2 66.2,284.2 67.0,284.2 67.8,284.2 68.6,284.2 69.4,284.2 70.2,284.2 71.0,284.2 71.8,284.2 72.6,284.2 73.5,284.2 74.3,284.2 75.1,284.2 75.9,284.2 76.7,284.2 77.5,284.2 78.3,284.2 79.1,284.2 80.0,284.2 80.8,284.2 81.6,284.2 82.4,284.2 83.2,284.2 84.0,284.2 84.8,284.2 85.6,284.2 86.5,284.2 87.3,284.2 88.1,284.2 88.9,284.2 89.7,284.2 90.5,284.2 91.3,284.2 92.1,284.2 92.9,284.2 93.8,284.2 94.6,284.2 95.4,284.2 96.2,284.2 97.0,284.2 97.8,284.2 98.6,284.2 99.4,284.2 100.3,284.1 101.1,283.9 101.9,283.7 102.7,283.5 103.5,281.8 104.3,280.0 105.1,276.7 105.9,272.0 106.8,266.8 107.6,261.1 108.4,255.3 109.2,249.8 110.0,243.4 110.8,236.2 111.6,228.3 112.4,222.7 113.2,217.5 114.1,215.0 114.9,212.0 115.7,209.9 116.5,209.0 117.3,207.6 118.1,206.2 118.9,205.0 119.7,204.2 120.6,203.2 121.4,202.3 122.2,203.3 123.0,202.6 123.8,201.8 124.6,202.1 125.4,201.5 126.2,200.2 127.1,199.6 127.9,198.8 128.7,198.7 129.5,197.8 130.3,197.0 131.1,197.5 131.9,197.5 132.7,196.4 133.5,195.9 134.4,195.5 135.2,195.8 136.0,195.3 136.8,194.9 137.6,194.6 138.4,194.6 139.2,194.1 140.0,193.8 140.9,193.6 141.7,193.1 142.5,193.1 143.3,191.9 144.1,191.1 144.9,190.6 145.7,189.7 146.5,189.0 147.4,188.6 148.2,187.9 149.0,186.7 149.8,186.3 150.6,185.4 151.4,184.7 152.2,184.8 153.0,183.8 153.8,182.5 154.7,181.0 155.5,179.4 156.3,178.8 157.1,177.2 157.9,176.0 158.7,174.8 159.5,173.7 160.3,172.2 161.2,170.5 162.0,170.1 162.8,168.1 163.6,167.2 164.4,166.1 165.2,164.6 166.0,164.9 166.8,163.6 167.7,162.8 168.5,161.2 169.3,160.9 170.1,159.5 170.9,159.3 171.7,159.0 172.5,158.1 173.3,157.6 174.1,157.2 175.0,157.4 175.8,156.6 176.6,155.9 177.4,156.3 178.2,157.1 179.0,157.4 179.8,157.9 180.6,158.5 181.5,158.7 182.3,158.5 183.1,158.7 183.9,158.1 184.7,158.1 185.5,158.7 186.3,159.1 187.1,159.9 188.0,160.8 188.8,161.4 189.6,162.7 190.4,163.5 191.2,164.2 192.0,166.2 192.8,167.0 193.6,168.4 194.4,169.4 195.3,170.8 196.1,172.5 196.9,173.8 197.7,175.5 198.5,177.8 199.3,178.9 200.1,180.4 200.9,182.9 201.8,184.6 202.6,186.4 203.4,187.8 204.2,189.3 205.0,191.7 205.8,192.7 206.6,194.7 207.4,196.3 208.3,197.4 209.1,198.7 209.9,200.8 210.7,203.8 211.5,205.2 212.3,207.1 213.1,207.9 213.9,210.0 214.7,211.2 215.6,212.8 216.4,214.0 217.2,215.4 218.0,217.2 218.8,218.7 219.6,220.5 220.4,221.6 221.2,221.9 222.1,223.4 222.9,224.8 223.7,226.0 224.5,227.2 225.3,228.9 226.1,229.6 226.9,230.3 227.7,231.5 228.6,232.8 229.4,234.2 230.2,235.2 231.0,236.2 231.8,237.6 232.6,238.0 233.4,239.1 234.2,240.6 235.0,241.7 235.9,242.6 236.7,244.2 237.5,244.5 238.3,246.1 239.1,247.5 239.9,248.7 240.7,248.9 241.5,250.2 242.4,250.8 243.2,252.7 244.0,253.0 244.8,254.0 245.6,254.2 246.4,251.8 247.2,211.2 248.0,209.6 248.9,200.7 249.7,223.3 250.5,203.8 251.3,243.2 252.1,194.3 252.9,199.8 253.7,254.1 254.5,198.5 255.3,225.4 256.2,201.8 257.0,192.9 257.8,191.9 258.6,259.4 259.4,206.3 260.2,249.7 261.0,245.4 261.8,219.0 262.7,202.5 263.5,236.8 264.3,251.1 265.1,220.2 265.9,214.7 266.7,245.5 267.5,260.4 268.3,256.1 269.2,267.3 270.0,274.1 270.8,275.1 271.6,274.6 272.4,274.7 273.2,275.3 274.0,275.3 274.8,275.8 275.6,275.4 276.5,276.2 277.3,276.5 278.1,276.2 278.9,276.7 279.7,276.8 280.5,277.3 281.3,277.2 282.1,277.5 283.0,277.5 283.8,278.0 284.6,277.2 285.4,277.4 286.2,278.4 287.0,278.5 287.8,277.7 288.6,278.9 289.5,278.7 290.3,279.1 291.1,279.1 291.9,278.8 292.7,278.6 293.5,279.6 294.3,279.6 295.1,279.5 295.9,279.4 296.8,279.9 297.6,281.0 298.4,280.9 299.2,281.0 300.0,282.3 300.8,282.7 301.6,282.2 302.4,282.6 303.3,283.6 304.1,283.3 304.9,283.5 305.7,283.9 306.5,283.5 307.3,284.1 308.1,283.7 308.9,283.9 309.8,284.4 310.6,284.4 311.4,285.0 312.2,284.3 313.0,285.3 313.8,284.7 314.6,284.9"/><polyline class="ln" points="49.4,-50.0 49.9,284.2 50.7,284.2 51.5,284.2 52.3,284.2 53.2,284.2 54.0,284.2 54.8,284.2 55.6,284.2 56.4,284.2 57.2,284.2 58.0,284.2 58.8,284.2 59.7,284.2 60.5,284.2 61.3,284.2 62.1,284.2 62.9,284.2 63.7,284.2 64.5,284.2 65.3,284.2 66.2,284.2 67.0,284.2 67.8,284.2 68.6,284.2 69.4,284.2 70.2,284.2 71.0,284.2 71.8,284.2 72.6,284.2 73.5,284.2 74.3,284.2 75.1,284.2 75.9,284.2 76.7,284.2 77.5,284.2 78.3,284.2 79.1,284.2 80.0,284.2 80.8,284.2 81.6,284.2 82.4,284.2 83.2,284.2 84.0,284.2 84.8,284.2 85.6,284.2 86.5,284.2 87.3,284.2 88.1,284.2 88.9,284.2 89.7,284.2 90.5,284.2 91.3,284.2 92.1,284.2 92.9,284.2 93.8,284.2 94.6,284.2 95.4,284.2 96.2,284.2 97.0,284.2 97.8,284.2 98.6,284.2 99.4,284.2 100.3,284.1 101.1,283.6 101.9,282.2 102.7,280.5 103.5,277.7 104.3,273.3 105.1,268.1 105.9,262.6 106.8,256.9 107.6,251.3 108.4,244.1 109.2,237.4 110.0,230.8 110.8,224.5 111.6,221.1 112.4,216.8 113.2,214.9 114.1,212.5 114.9,210.4 115.7,209.1 116.5,208.3 117.3,207.8 118.1,206.6 118.9,206.0 119.7,205.5 120.6,204.9 121.4,204.2 122.2,205.4 123.0,204.4 123.8,203.4 124.6,202.9 125.4,202.4 126.2,201.4 127.1,201.0 127.9,200.0 128.7,199.9 129.5,199.5 130.3,199.1 131.1,198.6 131.9,198.3 132.7,198.3 133.5,196.9 134.4,196.4 135.2,196.7 136.0,196.5 136.8,195.8 137.6,195.7 138.4,195.8 139.2,195.3 140.0,194.6 140.9,194.2 141.7,194.2 142.5,193.6 143.3,192.8 144.1,193.2 144.9,192.5 145.7,192.1 146.5,191.7 147.4,190.6 148.2,190.1 149.0,189.5 149.8,189.0 150.6,188.0 151.4,187.4 152.2,187.4 153.0,186.0 153.8,185.3 154.7,183.7 155.5,183.0 156.3,181.7 157.1,180.3 157.9,178.9 158.7,178.3 159.5,176.0 160.3,174.8 161.2,174.2 162.0,172.6 162.8,171.2 163.6,170.6 164.4,169.6 165.2,167.7 166.0,166.6 166.8,165.3 167.7,165.0 168.5,163.6 169.3,162.9 170.1,161.8 170.9,160.8 171.7,160.6 172.5,160.4 173.3,159.4 174.1,158.9 175.0,159.3 175.8,158.8 176.6,158.0 177.4,156.5 178.2,157.8 179.0,158.8 179.8,159.3 180.6,159.7 181.5,159.2 182.3,159.2 183.1,159.2 183.9,158.5 184.7,157.8 185.5,158.4 186.3,160.0 187.1,160.6 188.0,161.6 188.8,162.1 189.6,162.9 190.4,164.5 191.2,165.4 192.0,166.6 192.8,167.6 193.6,169.3 194.4,170.5 195.3,171.7 196.1,173.2 196.9,175.0 197.7,176.6 198.5,178.4 199.3,179.4 200.1,181.3 200.9,183.6 201.8,185.2 202.6,186.3 203.4,188.6 204.2,190.6 205.0,191.9 205.8,194.0 206.6,195.6 207.4,196.2 208.3,198.3 209.1,199.6 209.9,201.3 210.7,203.1 211.5,204.9 212.3,206.2 213.1,208.0 213.9,208.9 214.7,211.0 215.6,212.1 216.4,213.4 217.2,215.4 218.0,216.7 218.8,217.8 219.6,219.9 220.4,220.9 221.2,222.7 222.1,224.4 222.9,225.1 223.7,226.7 224.5,228.1 225.3,229.1 226.1,230.4 226.9,231.8 227.7,232.6 228.6,233.3 229.4,234.7 230.2,235.7 231.0,236.6 231.8,238.1 232.6,238.6 233.4,240.1 234.2,240.9 235.0,242.4 235.9,243.0 236.7,244.0 237.5,245.3 238.3,246.2 239.1,248.1 239.9,249.3 240.7,249.6 241.5,250.3 242.4,251.6 243.2,253.1 244.0,253.4 244.8,254.3 245.6,254.6 246.4,212.7 247.2,208.3 248.0,209.9 248.9,200.7 249.7,198.1 250.5,221.7 251.3,210.8 252.1,247.7 252.9,254.8 253.7,225.5 254.5,185.9 255.3,226.0 256.2,201.6 257.0,242.9 257.8,195.1 258.6,224.1 259.4,235.2 260.2,228.4 261.0,229.8 261.8,193.8 262.7,200.1 263.5,217.1 264.3,257.1 265.1,200.9 265.9,216.0 266.7,239.0 267.5,248.0 268.3,259.7 269.2,267.6 270.0,274.3 270.8,274.6 271.6,275.2 272.4,275.8 273.2,275.7 274.0,276.1 274.8,276.1 275.6,276.1 276.5,276.3 277.3,276.0 278.1,277.3 278.9,277.2 279.7,276.6 280.5,276.9 281.3,277.8 282.1,277.6 283.0,278.0 283.8,278.2 284.6,277.6 285.4,278.5 286.2,277.9 287.0,278.0 287.8,278.8 288.6,279.1 289.5,278.6 290.3,278.8 291.1,279.4 291.9,279.0 292.7,279.3 293.5,280.1 294.3,279.2 295.1,280.3 295.9,280.4 296.8,280.9 297.6,280.5 298.4,280.8 299.2,281.5 300.0,281.6 300.8,282.9 301.6,282.9 302.4,283.7 303.3,283.6 304.1,283.7 304.9,284.4 305.7,283.5 306.5,283.8 307.3,284.6 308.1,284.4 308.9,284.8 309.8,285.2 310.6,285.0 311.4,285.0 312.2,285.3 313.0,285.1 313.8,284.9 314.6,285.1"/><polyline class="ln" points="49.4,-50.0 49.9,284.2 50.7,284.2 51.5,284.2 52.3,284.2 53.2,284.2 54.0,284.2 54.8,284.2 55.6,284.2 56.4,284.2 57.2,284.2 58.0,284.2 58.8,284.2 59.7,284.2 60.5,284.2 61.3,284.2 62.1,284.2 62.9,284.2 63.7,284.2 64.5,284.2 65.3,284.2 66.2,284.2 67.0,284.2 67.8,284.2 68.6,284.2 69.4,284.2 70.2,284.2 71.0,284.2 71.8,284.2 72.6,284.2 73.5,284.2 74.3,284.2 75.1,284.2 75.9,284.2 76.7,284.2 77.5,284.2 78.3,284.2 79.1,284.2 80.0,284.2 80.8,284.2 81.6,284.2 82.4,284.2 83.2,284.2 84.0,284.2 84.8,284.2 85.6,284.2 86.5,284.2 87.3,284.2 88.1,284.2 88.9,284.2 89.7,284.2 90.5,284.2 91.3,284.2 92.1,284.2 92.9,284.2 93.8,284.2 94.6,284.2 95.4,284.2 96.2,284.2 97.0,284.2 97.8,284.2 98.6,284.2 99.4,284.2 100.3,284.1 101.1,283.9 101.9,283.6 102.7,282.1 103.5,280.5 104.3,277.7 105.1,273.4 105.9,268.4 106.8,263.3 107.6,258.1 108.4,252.5 109.2,246.4 110.0,239.0 110.8,232.8 111.6,226.4 112.4,222.2 113.2,218.0 114.1,216.0 114.9,214.3 115.7,212.2 116.5,210.6 117.3,209.6 118.1,209.4 118.9,208.1 119.7,207.6 120.6,207.2 121.4,206.2 122.2,204.1 123.0,203.8 123.8,203.0 124.6,202.5 125.4,202.0 126.2,201.7 127.1,200.7 127.9,199.9 128.7,199.6 129.5,198.6 130.3,197.8 131.1,198.2 131.9,197.6 132.7,197.4 133.5,198.7 134.4,198.7 135.2,198.1 136.0,198.3 136.8,198.5 137.6,197.7 138.4,197.3 139.2,197.0 140.0,196.9 140.9,196.4 141.7,196.0 142.5,195.6 143.3,194.7 144.1,195.1 144.9,194.2 145.7,193.9 146.5,192.9 147.4,192.5 148.2,191.5 149.0,191.1 149.8,190.5 150.6,189.4 151.4,188.9 152.2,188.7 153.0,188.3 153.8,187.2 154.7,186.0 155.5,184.0 156.3,182.9 157.1,180.9 157.9,179.5 158.7,178.1 159.5,177.4 160.3,175.6 161.2,174.5 162.0,173.1 162.8,172.6 163.6,170.7 164.4,169.5 165.2,168.7 166.0,167.6 166.8,165.9 167.7,165.5 168.5,164.5 169.3,163.5 170.1,162.6 170.9,162.4 171.7,162.0 172.5,161.5 173.3,160.5 174.1,159.8 175.0,159.7 175.8,158.8 176.6,159.0 177.4,158.8 178.2,159.8 179.0,160.6 179.8,161.1 180.6,161.6 181.5,161.0 182.3,161.1 183.1,160.7 183.9,160.0 184.7,160.4 185.5,160.4 186.3,161.2 187.1,161.7 188.0,163.1 188.8,163.9 189.6,164.9 190.4,166.0 191.2,166.8 192.0,168.0 192.8,169.1 193.6,170.0 194.4,171.7 195.3,173.2 196.1,174.0 196.9,175.7 197.7,177.9 198.5,179.2 199.3,181.3 200.1,182.9 200.9,184.6 201.8,186.9 202.6,188.5 203.4,190.6 204.2,191.7 205.0,193.7 205.8,195.5 206.6,197.2 207.4,198.4 208.3,199.7 209.1,201.4 209.9,203.1 210.7,204.8 211.5,206.0 212.3,207.8 213.1,209.3 213.9,210.4 214.7,212.1 215.6,213.9 216.4,215.2 217.2,216.4 218.0,217.6 218.8,219.6 219.6,220.6 220.4,222.0 221.2,224.2 222.1,226.0 222.9,227.4 223.7,229.1 224.5,230.1 225.3,231.2 226.1,232.7 226.9,233.0 227.7,234.5 228.6,236.0 229.4,236.4 230.2,237.3 231.0,238.4 231.8,239.4 232.6,241.2 233.4,242.0 234.2,243.6 235.0,244.7 235.9,245.0 236.7,246.4 237.5,247.4 238.3,248.5 239.1,249.4 239.9,250.7 240.7,251.5 241.5,252.3 242.4,253.2 243.2,254.1 244.0,254.2 244.8,254.9 245.6,255.7 246.4,214.8 247.2,218.9 248.0,206.9 248.9,244.2 249.7,249.1 250.5,219.5 251.3,207.4 252.1,200.9 252.9,226.7 253.7,217.8 254.5,186.2 255.3,193.5 256.2,195.5 257.0,199.5 257.8,234.7 258.6,202.2 259.4,215.4 260.2,201.0 261.0,225.6 261.8,197.7 262.7,206.8 263.5,240.2 264.3,210.4 265.1,201.1 265.9,231.5 266.7,249.9 267.5,245.3 268.3,254.2 269.2,268.7 270.0,275.0 270.8,275.4 271.6,275.2 272.4,275.6 273.2,276.1 274.0,276.7 274.8,276.5 275.6,277.1 276.5,276.6 277.3,276.3 278.1,276.8 278.9,277.0 279.7,276.8 280.5,277.0 281.3,278.2 282.1,278.3 283.0,277.5 283.8,277.6 284.6,278.8 285.4,278.0 286.2,278.3 287.0,278.4 287.8,278.5 288.6,278.4 289.5,279.1 290.3,279.6 291.1,278.9 291.9,279.5 292.7,279.2 293.5,280.1 294.3,280.4 295.1,280.5 295.9,280.3 296.8,280.2 297.6,281.3 298.4,280.9 299.2,282.2 300.0,282.0 300.8,283.2 301.6,282.9 302.4,283.8 303.3,283.9 304.1,283.7 304.9,284.1 305.7,284.2 306.5,284.0 307.3,284.5 308.1,284.7 308.9,285.0 309.8,284.7 310.6,285.1 311.4,284.8 312.2,285.3 313.0,285.1 313.8,285.8 314.6,285.2"/><polyline class="ln" points="49.4,-50.0 49.9,284.2 50.7,284.2 51.5,284.2 52.3,284.2 53.2,284.2 54.0,284.2 54.8,284.2 55.6,284.2 56.4,284.2 57.2,284.2 58.0,284.2 58.8,284.2 59.7,284.2 60.5,284.2 61.3,284.2 62.1,284.2 62.9,284.2 63.7,284.2 64.5,284.2 65.3,284.2 66.2,284.2 67.0,284.2 67.8,284.2 68.6,284.2 69.4,284.2 70.2,284.2 71.0,284.2 71.8,284.2 72.6,284.2 73.5,284.2 74.3,284.2 75.1,284.2 75.9,284.2 76.7,284.2 77.5,284.2 78.3,284.2 79.1,284.2 80.0,284.2 80.8,284.2 81.6,284.2 82.4,284.2 83.2,284.2 84.0,284.2 84.8,284.2 85.6,284.2 86.5,284.2 87.3,284.2 88.1,284.2 88.9,284.2 89.7,284.2 90.5,284.2 91.3,284.2 92.1,284.2 92.9,284.2 93.8,284.2 94.6,284.2 95.4,284.2 96.2,284.2 97.0,284.2 97.8,284.2 98.6,284.2 99.4,284.2 100.3,284.1 101.1,284.0 101.9,283.8 102.7,283.6 103.5,282.0 104.3,280.4 105.1,277.4 105.9,273.4 106.8,268.2 107.6,263.0 108.4,257.7 109.2,252.7 110.0,245.6 110.8,238.9 111.6,232.8 112.4,226.2 113.2,222.3 114.1,218.4 114.9,216.0 115.7,213.7 116.5,212.4 117.3,211.8 118.1,210.1 118.9,208.8 119.7,207.5 120.6,207.3 121.4,206.4 122.2,206.0 123.0,205.6 123.8,205.3 124.6,204.2 125.4,203.8 126.2,202.8 127.1,202.5 127.9,201.3 128.7,201.6 129.5,200.9 130.3,200.1 131.1,199.9 131.9,199.7 132.7,199.9 133.5,200.1 134.4,200.1 135.2,199.7 136.0,199.5 136.8,199.5 137.6,198.6 138.4,198.4 139.2,198.0 140.0,197.6 140.9,197.9 141.7,197.0 142.5,196.9 143.3,195.6 144.1,195.2 144.9,194.1 145.7,193.8 146.5,192.5 147.4,192.4 148.2,191.9 149.0,190.8 149.8,190.0 150.6,189.6 151.4,189.4 152.2,188.8 153.0,187.5 153.8,186.5 154.7,185.9 155.5,183.8 156.3,182.4 157.1,182.0 157.9,180.5 158.7,178.8 159.5,177.7 160.3,176.5 161.2,175.3 162.0,173.5 162.8,172.8 163.6,171.8 164.4,170.4 165.2,169.0 166.0,169.4 166.8,169.1 167.7,168.1 168.5,166.9 169.3,165.7 170.1,165.1 170.9,164.6 171.7,163.8 172.5,163.0 173.3,163.0 174.1,162.1 175.0,161.8 175.8,161.6 176.6,161.0 177.4,160.1 178.2,160.9 179.0,161.8 179.8,161.8 180.6,162.9 181.5,162.0 182.3,161.7 183.1,161.8 183.9,161.7 184.7,160.9 185.5,161.5 186.3,162.3 187.1,162.5 188.0,163.6 188.8,164.5 189.6,164.3 190.4,165.4 191.2,167.3 192.0,168.1 192.8,169.1 193.6,170.6 194.4,171.4 195.3,172.4 196.1,174.4 196.9,176.5 197.7,178.1 198.5,179.7 199.3,181.3 200.1,184.0 200.9,184.9 201.8,186.8 202.6,189.1 203.4,191.1 204.2,192.6 205.0,194.1 205.8,196.0 206.6,197.5 207.4,198.9 208.3,200.7 209.1,202.0 209.9,203.5 210.7,205.7 211.5,207.7 212.3,208.6 213.1,210.1 213.9,212.2 214.7,213.2 215.6,215.5 216.4,216.3 217.2,218.0 218.0,219.2 218.8,220.9 219.6,222.5 220.4,223.5 221.2,225.1 222.1,226.9 222.9,227.4 223.7,228.9 224.5,230.2 225.3,231.4 226.1,232.4 226.9,234.4 227.7,235.4 228.6,235.6 229.4,237.4 230.2,238.2 231.0,239.0 231.8,240.8 232.6,241.5 233.4,243.1 234.2,244.3 235.0,245.5 235.9,246.1 236.7,247.1 237.5,248.6 238.3,249.3 239.1,250.7 239.9,251.8 240.7,252.0 241.5,253.3 242.4,254.2 243.2,254.0 244.0,254.8 244.8,255.4 245.6,256.0 246.4,213.7 247.2,207.1 248.0,214.5 248.9,209.6 249.7,214.7 250.5,205.3 251.3,251.1 252.1,210.0 252.9,205.9 253.7,232.2 254.5,181.4 255.3,248.6 256.2,240.1 257.0,193.4 257.8,197.0 258.6,193.8 259.4,239.1 260.2,258.4 261.0,214.9 261.8,258.5 262.7,211.2 263.5,248.5 264.3,244.7 265.1,252.5 265.9,221.8 266.7,242.8 267.5,245.3 268.3,261.1 269.2,268.0 270.0,275.4 270.8,275.9 271.6,275.5 272.4,275.9 273.2,276.0 274.0,275.8 274.8,276.5 275.6,276.6 276.5,277.2 277.3,277.4 278.1,277.8 278.9,277.9 279.7,277.3 280.5,277.9 281.3,278.2 282.1,278.5 283.0,277.8 283.8,278.2 284.6,278.7 285.4,278.5 286.2,279.3 287.0,278.9 287.8,279.3 288.6,278.7 289.5,279.9 290.3,280.1 291.1,280.2 291.9,279.6 292.7,280.3 293.5,280.7 294.3,279.7 295.1,279.8 295.9,280.7 296.8,281.5 297.6,280.7 298.4,282.1 299.2,282.3 300.0,282.5 300.8,282.6 301.6,283.4 302.4,283.8 303.3,283.8 304.1,284.7 304.9,284.7 305.7,284.1 306.5,284.8 307.3,284.9 308.1,285.4 308.9,285.6 309.8,285.6 310.6,284.7 311.4,285.3 312.2,285.1 313.0,285.9 313.8,285.3 314.6,286.3"/><polyline class="ln" points="49.4,-50.0 49.9,284.2 50.7,284.2 51.5,284.2 52.3,284.2 53.2,284.2 54.0,284.2 54.8,284.2 55.6,284.2 56.4,284.2 57.2,284.2 58.0,284.2 58.8,284.2 59.7,284.2 60.5,284.2 61.3,284.2 62.1,284.2 62.9,284.2 63.7,284.2 64.5,284.2 65.3,284.2 66.2,284.2 67.0,284.2 67.8,284.2 68.6,284.2 69.4,284.2 70.2,284.2 71.0,284.2 71.8,284.2 72.6,284.2 73.5,284.2 74.3,284.2 75.1,284.2 75.9,284.2 76.7,284.2 77.5,284.2 78.3,284.2 79.1,284.2 80.0,284.2 80.8,284.2 81.6,284.2 82.4,284.2 83.2,284.2 84.0,284.2 84.8,284.2 85.6,284.2 86.5,284.2 87.3,284.2 88.1,284.2 88.9,284.2 89.7,284.2 90.5,284.2 91.3,284.2 92.1,284.2 92.9,284.2 93.8,284.2 94.6,284.2 95.4,284.2 96.2,284.2 97.0,284.2 97.8,284.2 98.6,284.2 99.4,284.2 100.3,284.1 101.1,283.8 101.9,283.5 102.7,281.6 103.5,279.6 104.3,276.7 105.1,270.0 105.9,263.8 106.8,257.4 107.6,250.8 108.4,244.6 109.2,238.2 110.0,232.0 110.8,227.1 111.6,221.2 112.4,217.2 113.2,213.8 114.1,209.6 114.9,206.5 115.7,203.2 116.5,199.5 117.3,195.9 118.1,193.1 118.9,190.7 119.7,187.9 120.6,186.2 121.4,185.9 122.2,185.7 123.0,185.1 123.8,184.5 124.6,183.7 125.4,182.8 126.2,181.3 127.1,180.3 127.9,179.1 128.7,177.7 129.5,177.3 130.3,176.9 131.1,177.4 131.9,178.3 132.7,177.9 133.5,177.8 134.4,177.2 135.2,176.6 136.0,175.5 136.8,175.4 137.6,174.9 138.4,175.4 139.2,175.6 140.0,175.7 140.9,175.6 141.7,175.4 142.5,175.4 143.3,175.7 144.1,175.3 144.9,175.1 145.7,174.6 146.5,174.5 147.4,173.9 148.2,172.8 149.0,172.4 149.8,171.9 150.6,171.8 151.4,171.5 152.2,171.0 153.0,171.0 153.8,170.4 154.7,169.9 155.5,169.7 156.3,169.1 157.1,168.8 157.9,167.8 158.7,167.8 159.5,167.0 160.3,166.3 161.2,164.8 162.0,163.2 162.8,161.5 163.6,160.2 164.4,158.8 165.2,159.0 166.0,157.9 166.8,156.9 167.7,155.9 168.5,154.9 169.3,154.0 170.1,153.0 170.9,152.6 171.7,152.1 172.5,151.7 173.3,151.2 174.1,150.7 175.0,150.3 175.8,149.8 176.6,149.3 177.4,149.4 178.2,150.1 179.0,150.8 179.8,151.5 180.6,152.0 181.5,151.8 182.3,151.6 183.1,151.5 183.9,151.3 184.7,151.1 185.5,151.6 186.3,152.5 187.1,153.4 188.0,154.3 188.8,154.2 189.6,155.1 190.4,156.1 191.2,157.3 192.0,158.5 192.8,159.7 193.6,160.9 194.4,162.1 195.3,163.5 196.1,165.2 196.9,167.0 197.7,168.7 198.5,170.4 199.3,172.5 200.1,174.2 200.9,176.0 201.8,177.8 202.6,179.5 203.4,181.3 204.2,183.1 205.0,184.9 205.8,186.4 206.6,188.0 207.4,189.5 208.3,191.1 209.1,192.6 209.9,194.2 210.7,196.7 211.5,198.2 212.3,199.8 213.1,201.3 213.9,202.9 214.7,204.4 215.6,205.9 216.4,207.3 217.2,208.8 218.0,210.3 218.8,211.7 219.6,213.2 220.4,214.6 221.2,215.4 222.1,216.8 222.9,218.2 223.7,219.6 224.5,221.0 225.3,222.2 226.1,223.3 226.9,224.3 227.7,225.4 228.6,226.4 229.4,227.5 230.2,228.6 231.0,229.7 231.8,230.8 232.6,232.1 233.4,233.2 234.2,234.3 235.0,235.5 235.9,236.6 236.7,237.7 237.5,238.9 238.3,240.2 239.1,241.5 239.9,242.8 240.7,243.8 241.5,244.7 242.4,245.6 243.2,247.2 244.0,248.1 244.8,249.0 245.6,249.2 246.4,246.9 247.2,206.9 248.0,219.3 248.9,222.8 249.7,197.8 250.5,204.0 251.3,211.7 252.1,199.5 252.9,226.2 253.7,256.4 254.5,213.5 255.3,195.4 256.2,261.5 257.0,251.9 257.8,196.1 258.6,206.7 259.4,218.2 260.2,200.2 261.0,219.0 261.8,222.4 262.7,211.4 263.5,227.0 264.3,251.4 265.1,222.4 265.9,234.6 266.7,256.1 267.5,253.7 268.3,254.9 269.2,268.0 270.0,274.7 270.8,274.2 271.6,275.4 272.4,274.6 273.2,275.6 274.0,275.5 274.8,275.8 275.6,275.5 276.5,275.6 277.3,275.6 278.1,275.7 278.9,275.9 279.7,276.1 280.5,277.1 281.3,276.9 282.1,277.5 283.0,277.7 283.8,277.2 284.6,277.1 285.4,278.1 286.2,277.3 287.0,277.9 287.8,278.4 288.6,277.7 289.5,278.0 290.3,278.6 291.1,278.1 291.9,279.1 292.7,279.1 293.5,279.0 294.3,279.4 295.1,278.8 295.9,279.8 296.8,279.8 297.6,280.1 298.4,281.0 299.2,281.0 300.0,280.9 300.8,282.1 301.6,281.7 302.4,282.8 303.3,282.7 304.1,283.1 304.9,283.2 305.7,283.7 306.5,283.7 307.3,283.5 308.1,283.5 308.9,284.2 309.8,283.5 310.6,284.3 311.4,284.6 312.2,284.6 313.0,284.0 313.8,284.2 314.6,285.0"/><polyline class="ln" points="147.1,183.0 147.9,-20.0 148.7,183.0"/><polyline class="ln" points="148.2,181.0 149.0,-20.0 149.8,181.0"/><polyline class="ln" points="155.1,176.0 155.9,34.8 156.7,176.0"/><polyline class="ln" points="159.6,170.0 160.4,130.0 161.2,170.0"/><polyline class="ln" points="158.4,168.0 160.2,140.0 162.0,168.0"/><polyline class="ln" points="158.7,168.0 160.8,146.0 162.9,168.0"/><polyline class="ln" points="246.2,250.0 247.0,164.5 247.8,250.0"/><polyline class="ln" points="254.5,250.0 255.3,175.5 256.1,250.0"/><polyline class="ln" points="261.2,252.0 262.0,186.0 262.8,252.0"/><polyline class="ln" points="251.2,252.0 252.0,190.0 252.8,252.0"/></g><g clip-path="url(#cR)"><polyline class="ln" points="329.6,-50.0 330.1,284.5 330.9,284.5 331.7,284.5 332.6,284.5 333.4,284.5 334.2,284.5 335.0,284.5 335.8,284.5 336.6,284.5 337.4,284.5 338.2,284.5 339.1,284.5 339.9,284.5 340.7,284.5 341.5,284.5 342.3,284.5 343.1,284.5 343.9,284.5 344.7,284.5 345.6,284.5 346.4,284.5 347.2,284.5 348.0,284.5 348.8,284.5 349.6,284.5 350.4,284.5 351.2,284.5 352.1,284.5 352.9,284.5 353.7,284.5 354.5,284.5 355.3,284.5 356.1,284.5 356.9,284.5 357.7,284.5 358.6,284.5 359.4,284.5 360.2,284.5 361.0,284.5 361.8,284.5 362.6,284.5 363.4,284.5 364.2,284.5 365.1,284.5 365.9,284.5 366.7,284.5 367.5,284.5 368.3,284.5 369.1,284.5 369.9,284.5 370.7,284.5 371.6,284.5 372.4,284.5 373.2,284.5 374.0,284.5 374.8,284.5 375.6,284.5 376.4,284.5 377.2,284.5 378.1,284.5 378.9,284.5 379.7,284.5 380.5,284.5 381.3,284.5 382.1,284.5 382.9,284.5 383.7,283.7 384.6,281.6 385.4,275.4 386.2,269.1 387.0,262.1 387.8,254.6 388.6,247.2 389.4,240.8 390.2,235.8 391.1,231.2 391.9,227.2 392.7,223.5 393.5,219.9 394.3,217.3 395.1,215.1 395.9,211.9 396.7,209.9 397.6,208.2 398.4,205.5 399.2,203.4 400.0,202.1 400.8,200.6 401.6,198.6 402.4,195.7 403.2,194.8 404.1,193.6 404.9,192.2 405.7,192.2 406.5,191.4 407.3,190.4 408.1,189.6 408.9,189.2 409.7,189.0 410.6,189.8 411.4,188.9 412.2,189.2 413.0,188.7 413.8,189.4 414.6,189.0 415.4,188.4 416.2,188.1 417.1,188.4 417.9,187.5 418.7,187.4 419.5,187.5 420.3,187.4 421.1,186.9 421.9,186.2 422.7,186.5 423.6,185.4 424.4,184.5 425.2,184.4 426.0,183.9 426.8,182.8 427.6,182.2 428.4,181.7 429.2,181.3 430.1,180.2 430.9,179.7 431.7,179.4 432.5,178.6 433.3,177.4 434.1,176.5 434.9,175.5 435.7,175.6 436.6,174.4 437.4,173.0 438.2,172.6 439.0,171.1 439.8,170.0 440.6,167.8 441.4,167.1 442.2,165.6 443.1,164.5 443.9,162.8 444.7,162.7 445.5,161.3 446.3,160.9 447.1,160.6 447.9,160.2 448.7,159.5 449.6,158.9 450.4,158.5 451.2,158.0 452.0,156.9 452.8,156.6 453.6,156.3 454.4,155.7 455.2,154.6 456.1,154.4 456.9,153.9 457.7,152.4 458.5,152.8 459.3,152.9 460.1,153.4 460.9,153.7 461.7,153.5 462.6,154.0 463.4,153.9 464.2,153.4 465.0,152.9 465.8,152.1 466.6,152.8 467.4,153.5 468.2,154.2 469.1,157.3 469.9,157.3 470.7,158.8 471.5,158.9 472.3,160.5 473.1,162.0 473.9,163.4 474.7,165.5 475.6,166.9 476.4,168.6 477.2,170.6 478.0,171.5 478.8,172.9 479.6,174.8 480.4,176.8 481.2,178.0 482.1,179.7 482.9,182.1 483.7,183.6 484.5,185.1 485.3,187.2 486.1,188.3 486.9,190.3 487.7,191.4 488.6,193.3 489.4,195.3 490.2,197.0 491.0,197.9 491.8,198.9 492.6,200.7 493.4,201.9 494.2,203.3 495.1,205.2 495.9,206.9 496.7,208.2 497.5,209.3 498.3,210.9 499.1,211.5 499.9,212.7 500.7,214.1 501.6,214.9 502.4,215.9 503.2,217.2 504.0,218.5 504.8,219.4 505.6,220.2 506.4,221.7 507.2,222.8 508.1,223.3 508.9,223.8 509.7,224.7 510.5,226.5 511.3,226.6 512.1,228.1 512.9,228.0 513.7,228.6 514.5,230.0 515.4,230.1 516.2,231.1 517.0,232.3 517.8,232.8 518.6,234.5 519.4,234.8 520.2,235.7 521.0,236.9 521.9,238.8 522.7,240.0 523.5,241.2 524.3,242.5 525.1,243.7 525.9,244.9 526.7,214.0 527.5,187.1 528.4,195.5 529.2,181.5 530.0,177.2 530.8,193.3 531.6,207.3 532.4,179.9 533.2,183.6 534.0,187.0 534.9,205.9 535.7,195.9 536.5,201.3 537.3,210.4 538.1,191.2 538.9,214.2 539.7,222.5 540.5,179.7 541.4,225.7 542.2,210.4 543.0,180.0 543.8,197.2 544.6,211.1 545.4,237.6 546.2,203.9 547.0,221.8 547.9,252.5 548.7,261.4 549.5,266.1 550.3,271.2 551.1,271.8 551.9,271.4 552.7,272.2 553.5,272.4 554.4,272.4 555.2,272.6 556.0,272.1 556.8,273.1 557.6,273.3 558.4,273.5 559.2,273.1 560.0,273.5 560.9,273.1 561.7,274.0 562.5,274.1 563.3,273.6 564.1,273.4 564.9,274.0 565.7,274.3 566.5,274.7 567.4,274.5 568.2,274.1 569.0,275.1 569.8,274.4 570.6,275.4 571.4,274.8 572.2,275.2 573.0,275.9 573.9,275.3 574.7,275.4 575.5,276.0 576.3,276.5 577.1,276.8 577.9,276.7 578.7,277.2 579.5,276.8 580.4,277.5 581.2,276.7 582.0,277.0 582.8,277.5 583.6,277.4 584.4,278.1 585.2,278.1 586.0,278.2 586.9,278.7 587.7,278.5 588.5,278.3 589.3,278.6 590.1,279.3 590.9,279.5 591.7,278.8 592.5,279.7 593.4,280.0 594.2,279.6 595.0,279.8"/><polyline class="ln" points="329.6,-50.0 330.1,284.5 330.9,284.5 331.7,284.5 332.6,284.5 333.4,284.5 334.2,284.5 335.0,284.5 335.8,284.5 336.6,284.5 337.4,284.5 338.2,284.5 339.1,284.5 339.9,284.5 340.7,284.5 341.5,284.5 342.3,284.5 343.1,284.5 343.9,284.5 344.7,284.5 345.6,284.5 346.4,284.5 347.2,284.5 348.0,284.5 348.8,284.5 349.6,284.5 350.4,284.5 351.2,284.5 352.1,284.5 352.9,284.5 353.7,284.5 354.5,284.5 355.3,284.5 356.1,284.5 356.9,284.5 357.7,284.5 358.6,284.5 359.4,284.5 360.2,284.5 361.0,284.5 361.8,284.5 362.6,284.5 363.4,284.5 364.2,284.5 365.1,284.5 365.9,284.5 366.7,284.5 367.5,284.5 368.3,284.5 369.1,284.5 369.9,284.5 370.7,284.5 371.6,284.5 372.4,284.5 373.2,284.5 374.0,284.5 374.8,284.5 375.6,284.5 376.4,284.5 377.2,284.5 378.1,284.5 378.9,284.5 379.7,284.5 380.5,284.5 381.3,284.5 382.1,284.5 382.9,284.5 383.7,284.5 384.6,282.6 385.4,278.1 386.2,272.2 387.0,265.5 387.8,258.2 388.6,251.1 389.4,243.6 390.2,238.5 391.1,233.5 391.9,229.7 392.7,226.1 393.5,222.2 394.3,219.5 395.1,216.4 395.9,213.7 396.7,211.3 397.6,209.9 398.4,208.1 399.2,206.0 400.0,203.1 400.8,201.3 401.6,200.8 402.4,198.8 403.2,197.7 404.1,195.9 404.9,195.0 405.7,194.2 406.5,193.4 407.3,192.8 408.1,191.4 408.9,192.0 409.7,192.0 410.6,191.2 411.4,191.4 412.2,191.5 413.0,191.1 413.8,190.8 414.6,190.6 415.4,190.7 416.2,190.0 417.1,190.6 417.9,190.3 418.7,190.0 419.5,189.8 420.3,189.3 421.1,188.7 421.9,188.5 422.7,188.1 423.6,188.3 424.4,186.6 425.2,185.6 426.0,185.6 426.8,184.8 427.6,184.1 428.4,183.5 429.2,182.4 430.1,182.2 430.9,181.5 431.7,180.5 432.5,179.7 433.3,178.8 434.1,177.5 434.9,177.0 435.7,177.3 436.6,176.4 437.4,175.2 438.2,173.5 439.0,172.5 439.8,171.4 440.6,170.1 441.4,168.4 442.2,167.8 443.1,166.2 443.9,164.5 444.7,164.1 445.5,163.5 446.3,162.0 447.1,161.3 447.9,161.4 448.7,160.5 449.6,160.0 450.4,159.5 451.2,159.2 452.0,157.6 452.8,157.6 453.6,157.2 454.4,156.1 455.2,155.7 456.1,154.7 456.9,154.3 457.7,154.3 458.5,154.4 459.3,154.9 460.1,155.8 460.9,155.8 461.7,156.1 462.6,156.5 463.4,155.7 464.2,155.7 465.0,154.9 465.8,154.7 466.6,154.3 467.4,155.7 468.2,156.6 469.1,157.5 469.9,159.2 470.7,159.3 471.5,160.4 472.3,161.1 473.1,163.1 473.9,164.8 474.7,165.9 475.6,168.4 476.4,169.5 477.2,171.2 478.0,172.9 478.8,174.3 479.6,175.4 480.4,177.4 481.2,179.0 482.1,180.4 482.9,182.6 483.7,183.9 484.5,185.3 485.3,187.2 486.1,188.6 486.9,190.4 487.7,192.6 488.6,193.8 489.4,196.0 490.2,197.4 491.0,198.1 491.8,200.6 492.6,202.1 493.4,202.8 494.2,205.2 495.1,206.2 495.9,207.6 496.7,209.4 497.5,210.0 498.3,211.5 499.1,213.3 499.9,214.3 500.7,215.2 501.6,217.2 502.4,218.1 503.2,219.0 504.0,219.5 504.8,221.1 505.6,222.0 506.4,222.7 507.2,223.5 508.1,224.9 508.9,225.5 509.7,226.7 510.5,227.9 511.3,228.6 512.1,229.3 512.9,229.2 513.7,230.0 514.5,231.2 515.4,231.9 516.2,233.2 517.0,234.1 517.8,234.7 518.6,235.1 519.4,235.9 520.2,237.6 521.0,238.9 521.9,240.0 522.7,241.1 523.5,243.2 524.3,244.9 525.1,245.8 525.9,246.8 526.7,211.1 527.5,215.5 528.4,182.4 529.2,184.1 530.0,227.0 530.8,221.5 531.6,218.5 532.4,176.5 533.2,177.2 534.0,183.9 534.9,190.9 535.7,201.6 536.5,179.7 537.3,197.9 538.1,180.1 538.9,181.0 539.7,207.2 540.5,199.6 541.4,204.2 542.2,188.9 543.0,196.4 543.8,184.7 544.6,193.0 545.4,223.4 546.2,235.8 547.0,198.6 547.9,222.7 548.7,261.7 549.5,266.0 550.3,271.9 551.1,271.6 551.9,272.0 552.7,271.9 553.5,272.7 554.4,272.3 555.2,272.8 556.0,273.4 556.8,272.7 557.6,273.1 558.4,273.5 559.2,273.8 560.0,273.4 560.9,273.5 561.7,273.3 562.5,274.4 563.3,273.5 564.1,273.7 564.9,274.4 565.7,274.5 566.5,274.8 567.4,274.5 568.2,275.2 569.0,274.5 569.8,274.8 570.6,275.5 571.4,275.0 572.2,275.4 573.0,276.1 573.9,276.2 574.7,275.9 575.5,275.9 576.3,276.3 577.1,276.9 577.9,276.6 578.7,276.5 579.5,277.4 580.4,277.4 581.2,278.0 582.0,278.1 582.8,278.3 583.6,277.9 584.4,278.5 585.2,278.0 586.0,278.2 586.9,278.4 587.7,279.2 588.5,279.3 589.3,278.7 590.1,279.0 590.9,279.1 591.7,279.3 592.5,279.5 593.4,279.6 594.2,279.5 595.0,280.1"/><polyline class="ln" points="329.6,-50.0 330.1,284.5 330.9,284.5 331.7,284.5 332.6,284.5 333.4,284.5 334.2,284.5 335.0,284.5 335.8,284.5 336.6,284.5 337.4,284.5 338.2,284.5 339.1,284.5 339.9,284.5 340.7,284.5 341.5,284.5 342.3,284.5 343.1,284.5 343.9,284.5 344.7,284.5 345.6,284.5 346.4,284.5 347.2,284.5 348.0,284.5 348.8,284.5 349.6,284.5 350.4,284.5 351.2,284.5 352.1,284.5 352.9,284.5 353.7,284.5 354.5,284.5 355.3,284.5 356.1,284.5 356.9,284.5 357.7,284.5 358.6,284.5 359.4,284.5 360.2,284.5 361.0,284.5 361.8,284.5 362.6,284.5 363.4,284.5 364.2,284.5 365.1,284.5 365.9,284.5 366.7,284.5 367.5,284.5 368.3,284.5 369.1,284.5 369.9,284.5 370.7,284.5 371.6,284.5 372.4,284.5 373.2,284.5 374.0,284.5 374.8,284.5 375.6,284.5 376.4,284.5 377.2,284.5 378.1,284.5 378.9,284.5 379.7,284.5 380.5,284.5 381.3,284.5 382.1,284.5 382.9,284.5 383.7,284.5 384.6,284.5 385.4,283.6 386.2,281.3 387.0,275.6 387.8,269.8 388.6,262.9 389.4,256.3 390.2,249.8 391.1,243.8 391.9,238.1 392.7,233.9 393.5,229.9 394.3,225.2 395.1,222.2 395.9,219.9 396.7,216.8 397.6,213.8 398.4,211.6 399.2,210.4 400.0,208.3 400.8,205.8 401.6,203.9 402.4,203.1 403.2,201.4 404.1,200.7 404.9,199.0 405.7,197.2 406.5,195.8 407.3,195.1 408.1,193.9 408.9,194.2 409.7,194.0 410.6,193.7 411.4,193.2 412.2,193.0 413.0,193.1 413.8,192.2 414.6,192.6 415.4,192.0 416.2,191.9 417.1,192.0 417.9,191.1 418.7,191.1 419.5,190.5 420.3,190.7 421.1,189.6 421.9,190.1 422.7,189.8 423.6,189.4 424.4,187.6 425.2,187.4 426.0,187.2 426.8,185.9 427.6,185.6 428.4,184.9 429.2,184.7 430.1,183.6 430.9,183.2 431.7,181.8 432.5,181.4 433.3,180.2 434.1,179.8 434.9,178.1 435.7,179.1 436.6,177.3 437.4,176.3 438.2,175.0 439.0,173.3 439.8,172.6 440.6,170.8 441.4,169.5 442.2,167.9 443.1,166.8 443.9,165.7 444.7,165.2 445.5,164.3 446.3,164.3 447.1,163.2 447.9,162.9 448.7,162.5 449.6,162.4 450.4,161.7 451.2,161.0 452.0,159.8 452.8,159.6 453.6,159.3 454.4,158.3 455.2,158.0 456.1,157.3 456.9,156.3 457.7,156.2 458.5,156.3 459.3,156.0 460.1,156.7 460.9,156.7 461.7,157.2 462.6,157.2 463.4,156.6 464.2,156.2 465.0,155.9 465.8,155.7 466.6,155.7 467.4,156.5 468.2,157.8 469.1,157.7 469.9,159.1 470.7,159.6 471.5,160.5 472.3,161.2 473.1,163.3 473.9,164.2 474.7,165.8 475.6,167.4 476.4,169.6 477.2,171.3 478.0,172.4 478.8,174.2 479.6,177.3 480.4,178.7 481.2,179.9 482.1,181.7 482.9,183.4 483.7,185.0 484.5,187.0 485.3,188.4 486.1,190.8 486.9,192.0 487.7,193.7 488.6,195.4 489.4,197.2 490.2,198.9 491.0,200.0 491.8,201.5 492.6,203.1 493.4,204.3 494.2,206.2 495.1,208.0 495.9,209.6 496.7,210.8 497.5,211.9 498.3,213.2 499.1,213.9 499.9,215.5 500.7,216.6 501.6,218.0 502.4,218.6 503.2,219.9 504.0,221.1 504.8,222.5 505.6,223.5 506.4,224.3 507.2,224.8 508.1,226.3 508.9,227.4 509.7,228.0 510.5,228.8 511.3,229.8 512.1,230.3 512.9,232.6 513.7,233.8 514.5,234.2 515.4,235.3 516.2,236.3 517.0,236.5 517.8,238.2 518.6,238.8 519.4,239.2 520.2,240.1 521.0,241.5 521.9,243.1 522.7,244.6 523.5,244.9 524.3,246.7 525.1,247.1 525.9,248.2 526.7,189.5 527.5,230.9 528.4,180.6 529.2,222.6 530.0,197.8 530.8,198.2 531.6,197.8 532.4,183.0 533.2,220.3 534.0,226.2 534.9,213.6 535.7,200.3 536.5,180.2 537.3,214.8 538.1,186.7 538.9,221.2 539.7,185.4 540.5,200.9 541.4,218.0 542.2,180.7 543.0,200.7 543.8,180.2 544.6,180.9 545.4,187.6 546.2,248.4 547.0,249.2 547.9,241.4 548.7,261.3 549.5,266.3 550.3,272.1 551.1,272.1 551.9,272.5 552.7,272.9 553.5,272.1 554.4,272.4 555.2,272.9 556.0,272.6 556.8,273.1 557.6,273.4 558.4,273.1 559.2,273.7 560.0,273.5 560.9,274.0 561.7,273.9 562.5,274.4 563.3,273.8 564.1,274.7 564.9,274.2 565.7,275.3 566.5,275.0 567.4,275.0 568.2,275.1 569.0,275.5 569.8,275.7 570.6,275.9 571.4,276.1 572.2,275.9 573.0,276.7 573.9,276.7 574.7,276.9 575.5,276.5 576.3,276.7 577.1,277.0 577.9,277.6 578.7,277.3 579.5,277.4 580.4,277.5 581.2,278.2 582.0,277.7 582.8,277.5 583.6,278.5 584.4,278.9 585.2,278.8 586.0,278.8 586.9,279.1 587.7,278.8 588.5,279.3 589.3,278.8 590.1,279.0 590.9,279.5 591.7,279.7 592.5,279.8 593.4,279.5 594.2,280.4 595.0,280.4"/><polyline class="ln" points="329.6,-50.0 330.1,284.5 330.9,284.5 331.7,284.5 332.6,284.5 333.4,284.5 334.2,284.5 335.0,284.5 335.8,284.5 336.6,284.5 337.4,284.5 338.2,284.5 339.1,284.5 339.9,284.5 340.7,284.5 341.5,284.5 342.3,284.5 343.1,284.5 343.9,284.5 344.7,284.5 345.6,284.5 346.4,284.5 347.2,284.5 348.0,284.5 348.8,284.5 349.6,284.5 350.4,284.5 351.2,284.5 352.1,284.5 352.9,284.5 353.7,284.5 354.5,284.5 355.3,284.5 356.1,284.5 356.9,284.5 357.7,284.5 358.6,284.5 359.4,284.5 360.2,284.5 361.0,284.5 361.8,284.5 362.6,284.5 363.4,284.5 364.2,284.5 365.1,284.5 365.9,284.5 366.7,284.5 367.5,284.5 368.3,284.5 369.1,284.5 369.9,284.5 370.7,284.5 371.6,284.5 372.4,284.5 373.2,284.5 374.0,284.5 374.8,284.5 375.6,284.5 376.4,284.5 377.2,284.5 378.1,284.5 378.9,284.5 379.7,284.5 380.5,284.5 381.3,284.5 382.1,284.5 382.9,284.5 383.7,283.9 384.6,282.0 385.4,276.5 386.2,270.6 387.0,264.3 387.8,257.3 388.6,250.7 389.4,244.7 390.2,239.4 391.1,235.0 391.9,230.7 392.7,226.7 393.5,223.8 394.3,220.4 395.1,217.9 395.9,215.7 396.7,213.0 397.6,211.0 398.4,209.2 399.2,206.8 400.0,205.5 400.8,204.1 401.6,201.8 402.4,200.9 403.2,199.8 404.1,198.0 404.9,197.8 405.7,196.7 406.5,195.6 407.3,195.3 408.1,194.7 408.9,194.3 409.7,194.5 410.6,194.5 411.4,194.1 412.2,193.9 413.0,194.1 413.8,193.4 414.6,193.0 415.4,193.2 416.2,192.2 417.1,192.6 417.9,191.8 418.7,192.0 419.5,191.3 420.3,191.2 421.1,191.2 421.9,190.8 422.7,190.5 423.6,189.6 424.4,189.2 425.2,188.5 426.0,188.2 426.8,187.5 427.6,186.3 428.4,186.2 429.2,185.7 430.1,184.8 430.9,184.5 431.7,182.9 432.5,182.0 433.3,181.0 434.1,180.6 434.9,179.6 435.7,180.4 436.6,179.1 437.4,178.3 438.2,176.3 439.0,175.8 439.8,174.1 440.6,172.8 441.4,171.7 442.2,169.8 443.1,168.4 443.9,167.3 444.7,166.2 445.5,166.0 446.3,165.9 447.1,165.2 447.9,164.4 448.7,164.2 449.6,163.2 450.4,163.3 451.2,162.1 452.0,161.6 452.8,160.9 453.6,160.9 454.4,160.4 455.2,159.8 456.1,158.5 456.9,158.3 457.7,157.7 458.5,157.9 459.3,159.0 460.1,158.4 460.9,159.1 461.7,159.7 462.6,159.9 463.4,158.6 464.2,158.5 465.0,158.4 465.8,157.3 466.6,157.9 467.4,159.3 468.2,159.4 469.1,160.9 469.9,161.6 470.7,162.5 471.5,163.0 472.3,164.0 473.1,166.6 473.9,168.0 474.7,169.5 475.6,170.7 476.4,172.3 477.2,174.2 478.0,175.6 478.8,177.4 479.6,178.6 480.4,179.7 481.2,181.4 482.1,183.7 482.9,185.1 483.7,186.2 484.5,188.3 485.3,190.2 486.1,191.2 486.9,193.1 487.7,195.1 488.6,196.9 489.4,198.2 490.2,200.2 491.0,202.0 491.8,203.5 492.6,205.5 493.4,206.6 494.2,208.5 495.1,209.5 495.9,211.0 496.7,212.1 497.5,213.8 498.3,214.7 499.1,216.0 499.9,217.3 500.7,218.7 501.6,218.4 502.4,219.7 503.2,221.3 504.0,222.0 504.8,223.3 505.6,223.6 506.4,224.8 507.2,225.4 508.1,227.0 508.9,227.6 509.7,228.5 510.5,229.2 511.3,230.2 512.1,231.2 512.9,233.3 513.7,234.7 514.5,235.4 515.4,235.8 516.2,236.8 517.0,237.5 517.8,239.2 518.6,239.5 519.4,240.8 520.2,241.7 521.0,243.1 521.9,243.5 522.7,245.1 523.5,246.1 524.3,247.0 525.1,248.7 525.9,249.1 526.7,219.1 527.5,201.4 528.4,178.7 529.2,190.5 530.0,183.1 530.8,177.2 531.6,179.4 532.4,199.6 533.2,176.7 534.0,185.6 534.9,190.9 535.7,197.2 536.5,180.5 537.3,207.4 538.1,185.6 538.9,209.9 539.7,206.6 540.5,181.3 541.4,182.3 542.2,184.5 543.0,212.0 543.8,194.3 544.6,195.4 545.4,233.7 546.2,196.5 547.0,206.4 547.9,228.8 548.7,261.5 549.5,265.9 550.3,271.5 551.1,272.6 551.9,272.7 552.7,273.1 553.5,273.5 554.4,272.8 555.2,273.4 556.0,273.8 556.8,273.1 557.6,273.9 558.4,274.0 559.2,274.5 560.0,274.5 560.9,273.9 561.7,274.5 562.5,274.0 563.3,274.5 564.1,274.6 564.9,274.4 565.7,274.9 566.5,275.0 567.4,275.3 568.2,275.2 569.0,275.2 569.8,275.6 570.6,275.9 571.4,275.7 572.2,276.4 573.0,276.1 573.9,276.1 574.7,276.5 575.5,276.8 576.3,276.6 577.1,277.3 577.9,277.6 578.7,277.6 579.5,277.9 580.4,277.3 581.2,277.9 582.0,278.0 582.8,277.8 583.6,278.4 584.4,278.1 585.2,278.8 586.0,279.1 586.9,279.1 587.7,279.1 588.5,279.1 589.3,279.0 590.1,279.5 590.9,280.3 591.7,280.1 592.5,279.9 593.4,280.5 594.2,280.1 595.0,280.6"/><polyline class="ln" points="329.6,-50.0 330.1,284.5 330.9,284.5 331.7,284.5 332.6,284.5 333.4,284.5 334.2,284.5 335.0,284.5 335.8,284.5 336.6,284.5 337.4,284.5 338.2,284.5 339.1,284.5 339.9,284.5 340.7,284.5 341.5,284.5 342.3,284.5 343.1,284.5 343.9,284.5 344.7,284.5 345.6,284.5 346.4,284.5 347.2,284.5 348.0,284.5 348.8,284.5 349.6,284.5 350.4,284.5 351.2,284.5 352.1,284.5 352.9,284.5 353.7,284.5 354.5,284.5 355.3,284.5 356.1,284.5 356.9,284.5 357.7,284.5 358.6,284.5 359.4,284.5 360.2,284.5 361.0,284.5 361.8,284.5 362.6,284.5 363.4,284.5 364.2,284.5 365.1,284.5 365.9,284.5 366.7,284.5 367.5,284.5 368.3,284.5 369.1,284.5 369.9,284.5 370.7,284.5 371.6,284.5 372.4,284.5 373.2,284.5 374.0,284.5 374.8,284.5 375.6,284.5 376.4,284.5 377.2,284.5 378.1,284.5 378.9,284.5 379.7,284.5 380.5,284.5 381.3,284.5 382.1,284.5 382.9,284.5 383.7,284.2 384.6,282.4 385.4,277.9 386.2,272.6 387.0,266.3 387.8,259.8 388.6,253.7 389.4,247.7 390.2,243.1 391.1,238.2 391.9,234.0 392.7,230.2 393.5,226.9 394.3,223.7 395.1,221.0 395.9,218.1 396.7,216.4 397.6,214.7 398.4,212.7 399.2,209.9 400.0,208.4 400.8,206.5 401.6,205.3 402.4,202.5 403.2,201.6 404.1,200.2 404.9,198.4 405.7,198.3 406.5,197.0 407.3,196.2 408.1,195.7 408.9,196.0 409.7,196.2 410.6,195.2 411.4,195.2 412.2,194.8 413.0,195.2 413.8,195.3 414.6,195.0 415.4,194.7 416.2,195.0 417.1,194.8 417.9,194.0 418.7,193.9 419.5,193.8 420.3,193.6 421.1,193.5 421.9,192.6 422.7,192.5 423.6,192.0 424.4,192.7 425.2,191.6 426.0,191.0 426.8,190.3 427.6,190.4 428.4,189.0 429.2,188.6 430.1,187.6 430.9,187.1 431.7,185.9 432.5,185.6 433.3,184.3 434.1,183.9 434.9,182.6 435.7,181.3 436.6,180.5 437.4,179.0 438.2,177.6 439.0,176.1 439.8,174.8 440.6,174.3 441.4,172.4 442.2,170.8 443.1,169.6 443.9,168.6 444.7,168.4 445.5,167.0 446.3,166.9 447.1,165.9 447.9,165.3 448.7,165.2 449.6,164.2 450.4,163.3 451.2,163.2 452.0,162.8 452.8,162.1 453.6,161.2 454.4,161.3 455.2,160.6 456.1,160.2 456.9,159.1 457.7,159.5 458.5,159.7 459.3,159.5 460.1,159.7 460.9,160.2 461.7,160.4 462.6,160.3 463.4,160.2 464.2,160.2 465.0,159.3 465.8,159.1 466.6,159.0 467.4,160.0 468.2,161.6 469.1,161.0 469.9,162.3 470.7,163.4 471.5,164.2 472.3,165.2 473.1,166.5 473.9,168.5 474.7,170.2 475.6,171.7 476.4,173.6 477.2,174.3 478.0,176.8 478.8,177.9 479.6,179.8 480.4,181.0 481.2,183.4 482.1,184.2 482.9,186.4 483.7,187.8 484.5,189.7 485.3,191.3 486.1,193.2 486.9,195.0 487.7,196.2 488.6,198.1 489.4,199.4 490.2,201.0 491.0,202.9 491.8,203.8 492.6,205.1 493.4,206.9 494.2,208.9 495.1,209.9 495.9,211.7 496.7,212.8 497.5,214.3 498.3,215.1 499.1,216.3 499.9,217.6 500.7,219.0 501.6,221.2 502.4,221.9 503.2,223.4 504.0,224.4 504.8,225.4 505.6,226.6 506.4,228.0 507.2,228.2 508.1,229.8 508.9,230.2 509.7,231.6 510.5,231.9 511.3,233.7 512.1,234.0 512.9,235.5 513.7,235.7 514.5,236.8 515.4,238.0 516.2,238.3 517.0,239.3 517.8,240.6 518.6,241.8 519.4,242.0 520.2,242.8 521.0,244.3 521.9,246.1 522.7,246.5 523.5,247.3 524.3,248.2 525.1,249.4 525.9,249.9 526.7,210.1 527.5,224.6 528.4,220.3 529.2,203.7 530.0,195.6 530.8,198.6 531.6,178.3 532.4,215.3 533.2,205.4 534.0,192.1 534.9,204.0 535.7,190.9 536.5,189.6 537.3,184.0 538.1,201.8 538.9,200.9 539.7,197.9 540.5,178.7 541.4,204.0 542.2,192.8 543.0,203.7 543.8,206.3 544.6,236.0 545.4,186.6 546.2,209.2 547.0,253.7 547.9,245.2 548.7,261.9 549.5,267.0 550.3,273.0 551.1,272.7 551.9,273.4 552.7,272.6 553.5,273.8 554.4,273.3 555.2,273.2 556.0,274.0 556.8,274.0 557.6,274.4 558.4,274.5 559.2,274.6 560.0,274.4 560.9,275.1 561.7,274.1 562.5,275.2 563.3,275.2 564.1,274.8 564.9,275.6 565.7,275.3 566.5,275.5 567.4,276.1 568.2,275.4 569.0,275.6 569.8,276.2 570.6,275.7 571.4,276.4 572.2,276.9 573.0,276.7 573.9,276.5 574.7,277.4 575.5,277.6 576.3,277.7 577.1,277.6 577.9,278.1 578.7,278.2 579.5,277.6 580.4,278.0 581.2,277.8 582.0,277.9 582.8,278.4 583.6,279.2 584.4,279.4 585.2,278.7 586.0,278.9 586.9,279.3 587.7,280.0 588.5,279.9 589.3,280.3 590.1,279.5 590.9,280.7 591.7,280.0 592.5,280.6 593.4,281.0 594.2,281.0 595.0,280.5"/><polyline class="ln" points="329.6,-50.0 330.1,284.5 330.9,284.5 331.7,284.5 332.6,284.5 333.4,284.5 334.2,284.5 335.0,284.5 335.8,284.5 336.6,284.5 337.4,284.5 338.2,284.5 339.1,284.5 339.9,284.5 340.7,284.5 341.5,284.5 342.3,284.5 343.1,284.5 343.9,284.5 344.7,284.5 345.6,284.5 346.4,284.5 347.2,284.5 348.0,284.5 348.8,284.5 349.6,284.5 350.4,284.5 351.2,284.5 352.1,284.5 352.9,284.5 353.7,284.5 354.5,284.5 355.3,284.5 356.1,284.5 356.9,284.5 357.7,284.5 358.6,284.5 359.4,284.5 360.2,284.5 361.0,284.5 361.8,284.5 362.6,284.5 363.4,284.5 364.2,284.5 365.1,284.5 365.9,284.5 366.7,284.5 367.5,284.5 368.3,284.5 369.1,284.5 369.9,284.5 370.7,284.5 371.6,284.5 372.4,284.5 373.2,284.5 374.0,284.5 374.8,284.5 375.6,284.5 376.4,284.5 377.2,284.5 378.1,284.5 378.9,284.5 379.7,284.5 380.5,284.5 381.3,284.5 382.1,284.5 382.9,284.5 383.7,284.5 384.6,283.1 385.4,279.7 386.2,274.7 387.0,269.0 387.8,263.1 388.6,257.1 389.4,251.0 390.2,245.7 391.1,241.3 391.9,236.2 392.7,232.2 393.5,228.5 394.3,224.8 395.1,222.5 395.9,219.8 396.7,217.5 397.6,215.0 398.4,213.8 399.2,211.0 400.0,209.1 400.8,207.1 401.6,205.9 402.4,204.0 403.2,201.9 404.1,200.6 404.9,200.0 405.7,199.1 406.5,198.4 407.3,197.2 408.1,197.0 408.9,196.8 409.7,196.7 410.6,195.9 411.4,196.1 412.2,195.5 413.0,196.2 413.8,196.8 414.6,196.5 415.4,195.4 416.2,195.5 417.1,195.4 417.9,195.2 418.7,194.5 419.5,194.9 420.3,194.1 421.1,194.0 421.9,193.3 422.7,193.4 423.6,192.6 424.4,192.2 425.2,192.2 426.0,191.3 426.8,191.1 427.6,189.9 428.4,189.4 429.2,188.3 430.1,187.8 430.9,187.4 431.7,186.7 432.5,185.7 433.3,185.2 434.1,183.5 434.9,183.4 435.7,182.4 436.6,182.1 437.4,180.3 438.2,178.9 439.0,177.8 439.8,176.7 440.6,175.5 441.4,173.6 442.2,171.9 443.1,170.7 443.9,170.1 444.7,169.2 445.5,168.7 446.3,166.9 447.1,166.7 447.9,165.7 448.7,165.2 449.6,164.9 450.4,165.0 451.2,164.1 452.0,163.7 452.8,162.3 453.6,162.1 454.4,161.2 455.2,160.8 456.1,160.0 456.9,160.3 457.7,160.4 458.5,160.9 459.3,161.4 460.1,161.9 460.9,162.3 461.7,162.3 462.6,162.1 463.4,162.1 464.2,161.2 465.0,160.7 465.8,160.7 466.6,160.6 467.4,161.6 468.2,162.4 469.1,163.5 469.9,164.2 470.7,165.1 471.5,165.9 472.3,166.5 473.1,168.9 473.9,169.8 474.7,171.9 475.6,173.5 476.4,175.0 477.2,176.4 478.0,177.9 478.8,179.8 479.6,180.4 480.4,182.2 481.2,183.6 482.1,185.9 482.9,187.3 483.7,188.5 484.5,190.6 485.3,192.9 486.1,193.5 486.9,195.8 487.7,197.7 488.6,198.8 489.4,200.6 490.2,202.0 491.0,203.4 491.8,205.2 492.6,206.8 493.4,208.0 494.2,209.8 495.1,211.3 495.9,212.9 496.7,213.5 497.5,214.8 498.3,216.3 499.1,217.6 499.9,219.4 500.7,220.2 501.6,222.8 502.4,223.4 503.2,224.4 504.0,225.8 504.8,226.3 505.6,228.2 506.4,229.0 507.2,229.5 508.1,230.4 508.9,231.9 509.7,232.8 510.5,233.6 511.3,233.9 512.1,235.5 512.9,235.2 513.7,236.7 514.5,237.5 515.4,238.8 516.2,239.4 517.0,239.7 517.8,241.5 518.6,242.2 519.4,242.9 520.2,243.3 521.0,245.2 521.9,246.1 522.7,247.6 523.5,248.5 524.3,249.6 525.1,249.8 525.9,251.3 526.7,201.2 527.5,215.4 528.4,190.4 529.2,193.3 530.0,192.0 530.8,178.8 531.6,185.6 532.4,208.3 533.2,177.4 534.0,178.8 534.9,214.8 535.7,204.1 536.5,197.6 537.3,180.5 538.1,181.2 538.9,188.2 539.7,226.0 540.5,200.1 541.4,224.9 542.2,181.6 543.0,192.7 543.8,202.4 544.6,228.0 545.4,185.6 546.2,238.7 547.0,215.9 547.9,221.3 548.7,262.3 549.5,266.8 550.3,272.9 551.1,273.6 551.9,273.2 552.7,273.6 553.5,273.4 554.4,274.0 555.2,273.3 556.0,274.2 556.8,273.7 557.6,274.3 558.4,274.0 559.2,274.3 560.0,274.2 560.9,274.6 561.7,275.0 562.5,275.1 563.3,275.1 564.1,275.4 564.9,275.9 565.7,275.5 566.5,275.9 567.4,275.9 568.2,276.6 569.0,276.0 569.8,276.6 570.6,276.2 571.4,276.4 572.2,277.1 573.0,277.1 573.9,276.8 574.7,276.8 575.5,277.8 576.3,277.5 577.1,278.0 577.9,277.9 578.7,278.2 579.5,278.3 580.4,279.0 581.2,279.1 582.0,278.7 582.8,278.9 583.6,278.8 584.4,279.5 585.2,278.9 586.0,279.3 586.9,280.1 587.7,279.3 588.5,280.2 589.3,280.2 590.1,280.4 590.9,280.2 591.7,280.2 592.5,281.3 593.4,281.2 594.2,281.4 595.0,280.7"/><polyline class="ln" points="329.6,-50.0 330.1,284.5 330.9,284.5 331.7,284.5 332.6,284.5 333.4,284.5 334.2,284.5 335.0,284.5 335.8,284.5 336.6,284.5 337.4,284.5 338.2,284.5 339.1,284.5 339.9,284.5 340.7,284.5 341.5,284.5 342.3,284.5 343.1,284.5 343.9,284.5 344.7,284.5 345.6,284.5 346.4,284.5 347.2,284.5 348.0,284.5 348.8,284.5 349.6,284.5 350.4,284.5 351.2,284.5 352.1,284.5 352.9,284.5 353.7,284.5 354.5,284.5 355.3,284.5 356.1,284.5 356.9,284.5 357.7,284.5 358.6,284.5 359.4,284.5 360.2,284.5 361.0,284.5 361.8,284.5 362.6,284.5 363.4,284.5 364.2,284.5 365.1,284.5 365.9,284.5 366.7,284.5 367.5,284.5 368.3,284.5 369.1,284.5 369.9,284.5 370.7,284.5 371.6,284.5 372.4,284.5 373.2,284.5 374.0,284.5 374.8,284.5 375.6,284.5 376.4,284.5 377.2,284.5 378.1,284.5 378.9,284.5 379.7,284.5 380.5,284.5 381.3,284.5 382.1,284.5 382.9,283.7 383.7,281.7 384.6,276.8 385.4,271.7 386.2,265.7 387.0,260.2 387.8,254.1 388.6,249.0 389.4,243.9 390.2,239.7 391.1,235.7 391.9,230.9 392.7,227.3 393.5,224.2 394.3,221.6 395.1,219.0 395.9,217.3 396.7,215.5 397.6,213.5 398.4,211.4 399.2,209.4 400.0,207.9 400.8,206.6 401.6,204.2 402.4,203.2 403.2,202.0 404.1,201.5 404.9,200.9 405.7,200.3 406.5,200.0 407.3,198.6 408.1,198.5 408.9,198.8 409.7,197.7 410.6,197.7 411.4,198.3 412.2,198.3 413.0,197.2 413.8,197.7 414.6,198.2 415.4,197.9 416.2,197.5 417.1,197.3 417.9,197.2 418.7,197.1 419.5,196.0 420.3,195.7 421.1,196.1 421.9,195.9 422.7,195.4 423.6,194.7 424.4,194.4 425.2,194.0 426.0,193.0 426.8,193.1 427.6,191.9 428.4,191.6 429.2,190.8 430.1,190.0 430.9,189.6 431.7,188.6 432.5,187.5 433.3,187.2 434.1,185.6 434.9,184.7 435.7,182.9 436.6,182.0 437.4,181.0 438.2,179.2 439.0,177.8 439.8,176.9 440.6,175.2 441.4,174.1 442.2,172.5 443.1,171.8 443.9,169.8 444.7,169.1 445.5,168.7 446.3,169.4 447.1,169.3 447.9,168.7 448.7,168.3 449.6,167.5 450.4,166.5 451.2,166.6 452.0,165.5 452.8,164.9 453.6,164.5 454.4,164.5 455.2,163.3 456.1,162.7 456.9,162.7 457.7,162.5 458.5,162.2 459.3,162.3 460.1,163.2 460.9,163.6 461.7,163.4 462.6,163.8 463.4,163.0 464.2,162.5 465.0,162.4 465.8,162.1 466.6,162.2 467.4,163.4 468.2,163.4 469.1,165.3 469.9,166.0 470.7,166.5 471.5,168.2 472.3,168.4 473.1,170.1 473.9,172.4 474.7,174.1 475.6,175.7 476.4,176.8 477.2,179.0 478.0,179.8 478.8,182.0 479.6,183.9 480.4,184.8 481.2,186.5 482.1,188.7 482.9,190.6 483.7,192.2 484.5,194.1 485.3,195.3 486.1,196.8 486.9,198.2 487.7,200.0 488.6,202.3 489.4,203.0 490.2,204.7 491.0,206.0 491.8,207.2 492.6,209.0 493.4,210.4 494.2,211.9 495.1,213.9 495.9,215.2 496.7,216.5 497.5,218.0 498.3,219.1 499.1,220.8 499.9,221.2 500.7,222.5 501.6,222.8 502.4,224.1 503.2,225.6 504.0,226.8 504.8,227.5 505.6,228.2 506.4,229.3 507.2,230.5 508.1,231.2 508.9,232.6 509.7,233.8 510.5,234.2 511.3,235.2 512.1,236.3 512.9,238.0 513.7,238.7 514.5,240.3 515.4,241.2 516.2,241.2 517.0,242.8 517.8,243.3 518.6,243.9 519.4,244.9 520.2,245.8 521.0,247.5 521.9,248.2 522.7,249.2 523.5,250.2 524.3,251.8 525.1,252.4 525.9,253.3 526.7,202.3 527.5,186.5 528.4,178.1 529.2,186.4 530.0,177.6 530.8,183.6 531.6,201.3 532.4,187.6 533.2,192.9 534.0,201.5 534.9,186.1 535.7,188.0 536.5,218.0 537.3,200.0 538.1,192.3 538.9,199.1 539.7,195.1 540.5,188.3 541.4,224.2 542.2,182.5 543.0,229.5 543.8,225.9 544.6,231.7 545.4,187.0 546.2,211.7 547.0,253.0 547.9,227.0 548.7,262.3 549.5,267.5 550.3,272.6 551.1,273.5 551.9,273.1 552.7,274.2 553.5,273.5 554.4,273.4 555.2,274.3 556.0,274.0 556.8,274.4 557.6,274.5 558.4,275.1 559.2,274.8 560.0,274.8 560.9,274.5 561.7,275.2 562.5,275.1 563.3,275.6 564.1,275.8 564.9,275.7 565.7,275.4 566.5,276.0 567.4,276.2 568.2,276.5 569.0,277.0 569.8,276.4 570.6,276.7 571.4,276.4 572.2,277.5 573.0,276.9 573.9,277.8 574.7,277.9 575.5,277.4 576.3,278.4 577.1,278.1 577.9,278.1 578.7,278.5 579.5,279.1 580.4,278.7 581.2,278.9 582.0,278.8 582.8,279.6 583.6,279.4 584.4,279.3 585.2,279.3 586.0,279.5 586.9,280.4 587.7,280.5 588.5,280.9 589.3,280.9 590.1,280.8 590.9,281.1 591.7,281.1 592.5,281.4 593.4,281.5 594.2,280.9 595.0,281.8"/><polyline class="ln" points="329.6,-50.0 330.1,284.5 330.9,284.5 331.7,284.5 332.6,284.5 333.4,284.5 334.2,284.5 335.0,284.5 335.8,284.5 336.6,284.5 337.4,284.5 338.2,284.5 339.1,284.5 339.9,284.5 340.7,284.5 341.5,284.5 342.3,284.5 343.1,284.5 343.9,284.5 344.7,284.5 345.6,284.5 346.4,284.5 347.2,284.5 348.0,284.5 348.8,284.5 349.6,284.5 350.4,284.5 351.2,284.5 352.1,284.5 352.9,284.5 353.7,284.5 354.5,284.5 355.3,284.5 356.1,284.5 356.9,284.5 357.7,284.5 358.6,284.5 359.4,284.5 360.2,284.5 361.0,284.5 361.8,284.5 362.6,284.5 363.4,284.5 364.2,284.5 365.1,284.5 365.9,284.5 366.7,284.5 367.5,284.5 368.3,284.5 369.1,284.5 369.9,284.5 370.7,284.5 371.6,284.5 372.4,284.5 373.2,284.5 374.0,284.5 374.8,284.5 375.6,284.5 376.4,284.5 377.2,284.5 378.1,284.5 378.9,284.5 379.7,284.5 380.5,284.5 381.3,284.5 382.1,284.5 382.9,284.5 383.7,284.3 384.6,282.7 385.4,278.5 386.2,273.7 387.0,268.1 387.8,262.5 388.6,256.6 389.4,251.2 390.2,246.8 391.1,242.0 391.9,237.1 392.7,233.3 393.5,230.1 394.3,226.9 395.1,223.9 395.9,221.8 396.7,218.8 397.6,216.8 398.4,215.2 399.2,212.9 400.0,211.3 400.8,209.7 401.6,207.9 402.4,208.3 403.2,206.7 404.1,205.4 404.9,204.2 405.7,203.5 406.5,202.4 407.3,202.0 408.1,201.8 408.9,201.6 409.7,200.6 410.6,200.5 411.4,200.6 412.2,200.9 413.0,200.5 413.8,198.2 414.6,198.2 415.4,198.1 416.2,198.1 417.1,197.5 417.9,197.5 418.7,197.3 419.5,197.0 420.3,196.1 421.1,196.4 421.9,195.5 422.7,195.1 423.6,195.1 424.4,195.3 425.2,195.0 426.0,194.6 426.8,194.0 427.6,193.0 428.4,193.2 429.2,192.4 430.1,191.4 430.9,190.8 431.7,189.7 432.5,189.4 433.3,187.7 434.1,187.0 434.9,186.0 435.7,185.4 436.6,183.9 437.4,182.5 438.2,181.2 439.0,180.3 439.8,178.4 440.6,177.6 441.4,176.2 442.2,174.6 443.1,173.2 443.9,172.0 444.7,171.2 445.5,170.6 446.3,171.2 447.1,170.5 447.9,169.8 448.7,169.7 449.6,168.9 450.4,168.4 451.2,168.2 452.0,167.2 452.8,166.5 453.6,166.5 454.4,166.0 455.2,165.2 456.1,164.2 456.9,163.9 457.7,163.7 458.5,163.6 459.3,164.3 460.1,164.9 460.9,164.9 461.7,165.3 462.6,164.9 463.4,164.7 464.2,163.9 465.0,164.0 465.8,163.4 466.6,164.2 467.4,164.4 468.2,165.6 469.1,166.3 469.9,167.5 470.7,168.7 471.5,169.0 472.3,170.4 473.1,171.6 473.9,173.4 474.7,175.6 475.6,176.4 476.4,178.8 477.2,179.5 478.0,181.7 478.8,183.6 479.6,185.2 480.4,186.5 481.2,188.4 482.1,190.2 482.9,191.9 483.7,193.6 484.5,195.2 485.3,196.5 486.1,198.6 486.9,200.1 487.7,201.7 488.6,203.8 489.4,204.5 490.2,206.8 491.0,207.3 491.8,209.2 492.6,211.0 493.4,211.9 494.2,213.7 495.1,215.2 495.9,216.5 496.7,217.5 497.5,219.2 498.3,220.8 499.1,221.9 499.9,222.8 500.7,224.4 501.6,224.0 502.4,224.8 503.2,226.3 504.0,227.2 504.8,228.4 505.6,229.8 506.4,230.4 507.2,231.7 508.1,232.1 508.9,233.4 509.7,233.7 510.5,234.8 511.3,236.1 512.1,237.0 512.9,239.3 513.7,239.7 514.5,240.5 515.4,241.5 516.2,242.5 517.0,242.9 517.8,244.2 518.6,245.3 519.4,245.7 520.2,246.8 521.0,248.5 521.9,249.7 522.7,250.3 523.5,250.5 524.3,251.5 525.1,252.4 525.9,253.7 526.7,217.2 527.5,189.5 528.4,196.3 529.2,208.0 530.0,177.4 530.8,214.6 531.6,217.2 532.4,181.0 533.2,206.3 534.0,206.0 534.9,186.9 535.7,217.6 536.5,183.0 537.3,194.4 538.1,187.7 538.9,194.1 539.7,216.0 540.5,200.7 541.4,202.8 542.2,230.8 543.0,183.4 543.8,185.2 544.6,210.7 545.4,186.5 546.2,246.4 547.0,208.8 547.9,232.2 548.7,262.9 549.5,268.0 550.3,273.7 551.1,273.8 551.9,273.4 552.7,273.7 553.5,274.3 554.4,273.9 555.2,274.8 556.0,274.9 556.8,274.3 557.6,274.6 558.4,274.6 559.2,275.3 560.0,274.7 560.9,275.6 561.7,275.0 562.5,276.0 563.3,275.8 564.1,276.0 564.9,275.6 565.7,275.6 566.5,276.2 567.4,277.1 568.2,276.7 569.0,277.2 569.8,276.4 570.6,276.6 571.4,276.6 572.2,277.6 573.0,277.2 573.9,277.4 574.7,278.1 575.5,278.3 576.3,278.0 577.1,278.3 577.9,278.3 578.7,278.8 579.5,278.7 580.4,278.8 581.2,278.9 582.0,279.1 582.8,279.2 583.6,279.1 584.4,279.6 585.2,280.1 586.0,279.8 586.9,279.8 587.7,280.8 588.5,280.5 589.3,280.7 590.1,280.6 590.9,281.5 591.7,281.5 592.5,281.5 593.4,281.6 594.2,281.8 595.0,281.8"/><polyline class="ln" points="329.6,-50.0 330.1,284.5 330.9,284.5 331.7,284.5 332.6,284.5 333.4,284.5 334.2,284.5 335.0,284.5 335.8,284.5 336.6,284.5 337.4,284.5 338.2,284.5 339.1,284.5 339.9,284.5 340.7,284.5 341.5,284.5 342.3,284.5 343.1,284.5 343.9,284.5 344.7,284.5 345.6,284.5 346.4,284.5 347.2,284.5 348.0,284.5 348.8,284.5 349.6,284.5 350.4,284.5 351.2,284.5 352.1,284.5 352.9,284.5 353.7,284.5 354.5,284.5 355.3,284.5 356.1,284.5 356.9,284.5 357.7,284.5 358.6,284.5 359.4,284.5 360.2,284.5 361.0,284.5 361.8,284.5 362.6,284.5 363.4,284.5 364.2,284.5 365.1,284.5 365.9,284.5 366.7,284.5 367.5,284.5 368.3,284.5 369.1,284.5 369.9,284.5 370.7,284.5 371.6,284.5 372.4,284.5 373.2,284.5 374.0,284.5 374.8,284.5 375.6,284.5 376.4,284.5 377.2,284.5 378.1,284.5 378.9,284.5 379.7,284.5 380.5,284.5 381.3,284.5 382.1,284.5 382.9,284.5 383.7,282.3 384.6,277.3 385.4,271.0 386.2,261.2 387.0,250.7 387.8,243.0 388.6,236.2 389.4,229.2 390.2,223.9 391.1,219.2 391.9,213.6 392.7,209.5 393.5,204.7 394.3,201.1 395.1,198.5 395.9,195.4 396.7,192.1 397.6,189.0 398.4,185.7 399.2,182.5 400.0,179.3 400.8,179.2 401.6,178.6 402.4,178.8 403.2,178.0 404.1,177.0 404.9,175.4 405.7,174.6 406.5,173.5 407.3,172.1 408.1,171.8 408.9,170.9 409.7,171.9 410.6,173.0 411.4,173.1 412.2,172.6 413.0,172.5 413.8,171.8 414.6,171.9 415.4,171.1 416.2,170.9 417.1,170.4 417.9,170.5 418.7,170.0 419.5,170.9 420.3,171.9 421.1,172.6 421.9,172.4 422.7,172.1 423.6,171.5 424.4,171.6 425.2,171.4 426.0,171.3 426.8,172.1 427.6,172.9 428.4,173.3 429.2,174.0 430.1,173.0 430.9,171.8 431.7,170.0 432.5,168.9 433.3,167.7 434.1,166.2 434.9,164.8 435.7,163.8 436.6,162.6 437.4,161.3 438.2,160.3 439.0,158.9 439.8,157.9 440.6,156.9 441.4,156.3 442.2,155.7 443.1,154.7 443.9,154.4 444.7,153.2 445.5,152.4 446.3,151.7 447.1,151.1 447.9,150.1 448.7,149.8 449.6,150.0 450.4,148.9 451.2,148.6 452.0,148.6 452.8,148.4 453.6,147.6 454.4,147.2 455.2,146.9 456.1,146.3 456.9,146.6 457.7,146.9 458.5,147.4 459.3,148.4 460.1,149.7 460.9,150.7 461.7,150.3 462.6,150.9 463.4,151.4 464.2,151.9 465.0,151.6 465.8,151.8 466.6,152.5 467.4,153.3 468.2,154.2 469.1,155.6 469.9,155.9 470.7,157.7 471.5,159.1 472.3,160.9 473.1,162.6 473.9,164.0 474.7,165.3 475.6,165.4 476.4,167.0 477.2,168.6 478.0,170.2 478.8,171.9 479.6,173.1 480.4,174.7 481.2,176.4 482.1,178.2 482.9,179.9 483.7,181.6 484.5,183.3 485.3,185.0 486.1,186.6 486.9,188.2 487.7,189.8 488.6,191.4 489.4,193.1 490.2,194.7 491.0,196.8 491.8,198.3 492.6,199.9 493.4,201.4 494.2,203.0 495.1,204.5 495.9,205.8 496.7,207.1 497.5,208.4 498.3,209.7 499.1,211.0 499.9,212.3 500.7,213.4 501.6,214.0 502.4,215.0 503.2,216.1 504.0,217.2 504.8,218.3 505.6,219.3 506.4,220.2 507.2,221.2 508.1,222.1 508.9,223.1 509.7,224.0 510.5,225.0 511.3,225.9 512.1,226.8 512.9,229.2 513.7,230.1 514.5,231.0 515.4,231.9 516.2,232.8 517.0,233.7 517.8,234.5 518.6,235.4 519.4,236.3 520.2,237.3 521.0,238.5 521.9,239.8 522.7,241.2 523.5,242.2 524.3,243.6 525.1,244.6 525.9,245.6 526.7,202.6 527.5,190.9 528.4,224.9 529.2,182.6 530.0,203.7 530.8,177.8 531.6,221.8 532.4,223.4 533.2,201.0 534.0,185.9 534.9,207.6 535.7,219.4 536.5,212.2 537.3,179.0 538.1,196.6 538.9,182.3 539.7,199.6 540.5,226.4 541.4,220.5 542.2,183.1 543.0,200.9 543.8,189.6 544.6,184.8 545.4,223.3 546.2,229.5 547.0,208.6 547.9,231.5 548.7,262.2 549.5,266.8 550.3,272.2 551.1,272.2 551.9,272.3 552.7,272.5 553.5,273.5 554.4,273.2 555.2,273.5 556.0,273.3 556.8,273.5 557.6,273.4 558.4,274.5 559.2,274.2 560.0,273.8 560.9,274.6 561.7,274.6 562.5,274.8 563.3,275.1 564.1,275.0 564.9,275.5 565.7,275.8 566.5,275.2 567.4,275.7 568.2,275.5 569.0,275.7 569.8,275.7 570.6,276.2 571.4,276.0 572.2,276.2 573.0,277.0 573.9,277.1 574.7,277.1 575.5,277.4 576.3,277.1 577.1,277.5 577.9,277.2 578.7,277.5 579.5,277.4 580.4,278.4 581.2,278.7 582.0,278.1 582.8,278.3 583.6,278.2 584.4,278.4 585.2,279.1 586.0,279.6 586.9,278.8 587.7,279.1 588.5,279.9 589.3,279.4 590.1,280.3 590.9,279.8 591.7,280.1 592.5,279.9 593.4,280.2 594.2,280.5 595.0,280.5"/><polyline class="ln" points="427.4,183.0 428.2,-20.0 429.0,183.0"/><polyline class="ln" points="428.7,181.0 429.5,-20.0 430.3,181.0"/><polyline class="ln" points="435.1,176.0 435.9,76.4 436.7,176.0"/><polyline class="ln" points="439.4,174.0 440.2,146.0 441.0,174.0"/><polyline class="ln" points="428.1,185.0 428.9,140.0 429.7,185.0"/><polyline class="ln" points="526.5,249.0 527.3,153.8 528.1,249.0"/><polyline class="ln" points="529.5,249.0 530.3,155.0 531.1,249.0"/><polyline class="ln" points="538.5,250.0 539.3,172.0 540.1,250.0"/><polyline class="ln" points="541.5,250.0 542.3,173.0 543.1,250.0"/><polyline class="ln" points="563.3,276.0 564.1,261.0 564.9,276.0"/></g><line x1="69.1" y1="284.20" x2="74.7" y2="284.20" class="wt"/><text x="78.9" y="289.25" class="wl">0</text><line x1="69.1" y1="236.05" x2="74.7" y2="236.05" class="wt"/><text x="78.9" y="241.10" class="wl">5</text><line x1="69.1" y1="187.90" x2="74.7" y2="187.90" class="wt"/><text x="78.9" y="192.95" class="wl">10</text><line x1="69.1" y1="139.75" x2="74.7" y2="139.75" class="wt"/><text x="78.9" y="144.80" class="wl">15</text><line x1="69.1" y1="91.60" x2="74.7" y2="91.60" class="wt"/><text x="78.9" y="96.65" class="wl">20</text><line x1="69.1" y1="43.45" x2="74.7" y2="43.45" class="wt"/><text x="78.9" y="48.50" class="wl">25</text><line x1="349.3" y1="284.20" x2="354.9" y2="284.20" class="wt"/><text x="359.1" y="289.25" class="wl">0</text><line x1="349.3" y1="236.05" x2="354.9" y2="236.05" class="wt"/><text x="359.1" y="241.10" class="wl">5</text><line x1="349.3" y1="187.90" x2="354.9" y2="187.90" class="wt"/><text x="359.1" y="192.95" class="wl">10</text><line x1="349.3" y1="139.75" x2="354.9" y2="139.75" class="wt"/><text x="359.1" y="144.80" class="wl">15</text><line x1="349.3" y1="91.60" x2="354.9" y2="91.60" class="wt"/><text x="359.1" y="96.65" class="wl">20</text><line x1="349.3" y1="43.45" x2="354.9" y2="43.45" class="wt"/><text x="359.1" y="48.50" class="wl">25</text><g clip-path="url(#cL)"><text x="319.2" y="289.25" class="wl" text-anchor="end">0</text><text x="319.2" y="241.10" class="wl" text-anchor="end">5</text><text x="319.2" y="192.95" class="wl" text-anchor="end">10</text><text x="319.2" y="144.80" class="wl" text-anchor="end">15</text><text x="319.2" y="96.65" class="wl" text-anchor="end">20</text><text x="319.2" y="48.50" class="wl" text-anchor="end">25</text></g><text x="31.8" y="42.40" class="rl" text-anchor="end">On</text><text x="612.1" y="42.40" class="rl">On</text><text x="31.8" y="59.05" class="rl" text-anchor="end">Y</text><text x="612.1" y="59.05" class="rl">Y</text><text x="31.8" y="75.70" class="rl" text-anchor="end">Off</text><text x="612.1" y="75.70" class="rl">Off</text><text x="31.8" y="92.35" class="rl" text-anchor="end">P</text><text x="612.1" y="92.35" class="rl">P</text><text x="31.8" y="109.00" class="rl" text-anchor="end">** O</text><text x="612.1" y="109.00" class="rl">O</text><text x="31.8" y="125.65" class="rl" text-anchor="end">N</text><text x="612.1" y="125.65" class="rl">N</text><text x="31.8" y="142.30" class="rl" text-anchor="end">M</text><text x="612.1" y="142.30" class="rl">M</text><text x="31.8" y="158.95" class="rl" text-anchor="end">L</text><text x="612.1" y="158.95" class="rl">L</text><text x="31.8" y="175.60" class="rl" text-anchor="end">K</text><text x="612.1" y="175.60" class="rl">K</text><text x="31.8" y="192.25" class="rl" text-anchor="end">J</text><text x="612.1" y="192.25" class="rl">J</text><text x="31.8" y="208.90" class="rl" text-anchor="end">I</text><text x="612.1" y="208.90" class="rl">I</text><text x="31.8" y="225.55" class="rl" text-anchor="end">H</text><text x="612.1" y="225.55" class="rl">H</text><text x="31.8" y="242.20" class="rl" text-anchor="end">G</text><text x="612.1" y="242.20" class="rl">G</text><text x="31.8" y="258.85" class="rl" text-anchor="end">F</text><text x="612.1" y="258.85" class="rl">F</text><text x="31.8" y="275.50" class="rl" text-anchor="end">E</text><text x="612.1" y="275.50" class="rl">E</text><text x="31.8" y="292.15" class="rl" text-anchor="end">D</text><text x="612.1" y="292.15" class="rl">D</text><text x="31.8" y="308.80" class="rl" text-anchor="end">C</text><text x="612.1" y="308.80" class="rl">C</text><text x="31.8" y="325.45" class="rl" text-anchor="end">B</text><text x="612.1" y="325.45" class="rl">B</text><text x="31.8" y="342.10" class="rl" text-anchor="end">A</text><text x="612.1" y="342.10" class="rl">A</text><text x="31.8" y="358.75" class="rl" text-anchor="end">Off</text><text x="612.1" y="358.75" class="rl">Off</text><text x="31.8" y="375.40" class="rl" text-anchor="end">X</text><text x="612.1" y="375.40" class="rl">X</text><text x="31.8" y="392.05" class="rl" text-anchor="end">On</text><text x="612.1" y="392.05" class="rl">On</text><text x="38.9" y="289.25" class="wl" text-anchor="end">0</text><text x="38.9" y="241.10" class="wl" text-anchor="end">5</text><text x="38.9" y="192.95" class="wl" text-anchor="end">10</text><text x="38.9" y="144.80" class="wl" text-anchor="end">15</text><text x="38.9" y="96.65" class="wl" text-anchor="end">20</text><text x="38.9" y="48.50" class="wl" text-anchor="end">25</text><line x1="49.5" y1="408.4" x2="49.5" y2="413.5" class="bt"/><text transform="translate(49.50,425.8) scale(0.9,1)" class="tl" text-anchor="middle">0</text><line x1="89.5" y1="408.4" x2="89.5" y2="413.5" class="bt"/><text transform="translate(89.50,425.8) scale(0.9,1)" class="tl" text-anchor="middle">50</text><line x1="130.5" y1="408.4" x2="130.5" y2="413.5" class="bt"/><text transform="translate(130.50,425.8) scale(0.9,1)" class="tl" text-anchor="middle">100</text><line x1="170.5" y1="408.4" x2="170.5" y2="413.5" class="bt"/><text transform="translate(170.50,425.8) scale(0.9,1)" class="tl" text-anchor="middle">150</text><line x1="211.5" y1="408.4" x2="211.5" y2="413.5" class="bt"/><text transform="translate(211.50,425.8) scale(0.9,1)" class="tl" text-anchor="middle">200</text><line x1="252.5" y1="408.4" x2="252.5" y2="413.5" class="bt"/><text transform="translate(252.50,425.8) scale(0.9,1)" class="tl" text-anchor="middle">250</text><line x1="292.5" y1="408.4" x2="292.5" y2="413.5" class="bt"/><text transform="translate(292.50,425.8) scale(0.9,1)" class="tl" text-anchor="middle">300</text><line x1="329.5" y1="408.4" x2="329.5" y2="413.5" class="bt"/><text transform="translate(329.50,425.8) scale(0.9,1)" class="tl" text-anchor="middle">0</text><line x1="369.5" y1="408.4" x2="369.5" y2="413.5" class="bt"/><text transform="translate(369.50,425.8) scale(0.9,1)" class="tl" text-anchor="middle">50</text><line x1="410.5" y1="408.4" x2="410.5" y2="413.5" class="bt"/><text transform="translate(410.50,425.8) scale(0.9,1)" class="tl" text-anchor="middle">100</text><line x1="451.5" y1="408.4" x2="451.5" y2="413.5" class="bt"/><text transform="translate(451.50,425.8) scale(0.9,1)" class="tl" text-anchor="middle">150</text><line x1="491.5" y1="408.4" x2="491.5" y2="413.5" class="bt"/><text transform="translate(491.50,425.8) scale(0.9,1)" class="tl" text-anchor="middle">200</text><line x1="532.5" y1="408.4" x2="532.5" y2="413.5" class="bt"/><text transform="translate(532.50,425.8) scale(0.9,1)" class="tl" text-anchor="middle">250</text><line x1="573.5" y1="408.4" x2="573.5" y2="413.5" class="bt"/><text transform="translate(573.50,425.8) scale(0.9,1)" class="tl" text-anchor="middle">300</text><text transform="translate(181.9,16.0) scale(1,1.075)" class="ti" text-anchor="middle">15.2 (Tile152=152) X</text><text transform="translate(462.1,16.0) scale(1,1.075)" class="ti" text-anchor="middle">15.2 (Tile152=152) Y</text></svg>
</body></html>
